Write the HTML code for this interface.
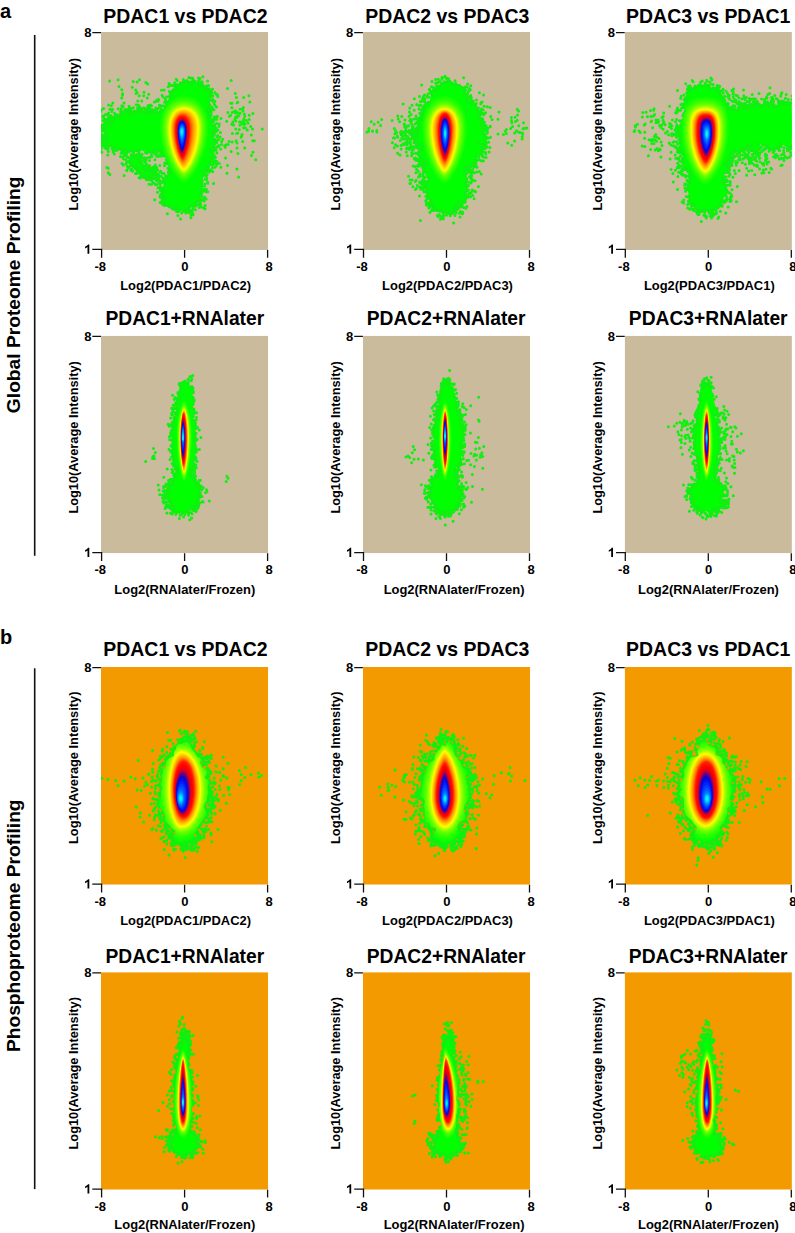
<!DOCTYPE html><html><head><meta charset="utf-8"><style>html,body{margin:0;padding:0;background:#fff;width:795px;height:1233px;overflow:hidden}svg{display:block}text{font-family:'Liberation Sans',sans-serif;font-weight:bold}</style></head><body>
<svg width="795" height="1233" viewBox="0 0 795 1233">
<rect width="795" height="1233" fill="#fff"/>
<defs><filter id="sm" x="-5%" y="-5%" width="110%" height="110%"><feGaussianBlur stdDeviation="0.7"/></filter><path id="one" d="M834 0H553V1058Q400 915 170 846V1101Q291 1140 433 1251Q575 1362 628 1466H834Z"/></defs>
<text x="0" y="17.5" font-size="20">a</text>
<text x="0" y="643.7" font-size="20">b</text>
<text transform="translate(19.6 294.8) rotate(-90)" text-anchor="middle" font-size="19.2">Global Proteome Profiling</text>
<text transform="translate(19.6 925.75) rotate(-90)" text-anchor="middle" font-size="19.2">Phosphoproteome Profiling</text>
<rect x="33.9" y="35" width="1.6" height="520.8" fill="#111"/>
<rect x="33.9" y="668.3" width="1.6" height="520.8" fill="#111"/>
<svg x="101.0" y="32.0" width="167.2" height="218.0" viewBox="0 0 167.2 218.0" overflow="hidden">
<rect width="167.2" height="218.0" fill="#c9bb9b"/>
<path fill="#00ff00" fill-rule="evenodd" d="M77 179L74.9 178.5L71.5 175.1L63 172.7L61.3 171L61.5 168L59.9 164L60.7 161L59.3 156.5L62.5 154L62.8 152L61.6 148.5L66.1 143L68.8 137L64.5 124.6L60.4 122.5L56.5 119.5L53 120.6L46 120.7L41 118.6L36.5 120L28 119.5L26.7 120.5L25.6 123L24 123.5L21.8 122.5L19.6 119L17.5 117.5L12 116.7L9 115.1L5 115.4L0 112.7L0 102.1L3 102.8L4.2 101L3 99.4L0 99.9L0 93L2.8 91L4.5 87.6L6.6 86L7 83.5L8.5 83.4L10.5 85L12.5 84.8L15 83L17.5 82.9L20.5 79.8L26.5 76.6L28.5 76.7L31.5 79.1L33.5 79.7L34.9 79.5L36.6 77.5L38 76.9L44.5 79L46 78L46.5 75.6L47.5 74.8L48.5 78.5L50.5 79L53.5 78.7L57 80.5L59.5 76.9L63.5 76.5L65.5 75L66 73.5L65.7 70.5L67.7 67.5L68.6 62L70.2 58.5L73.5 55.5L74.5 53.4L78 52.5L83 49.2L91.5 48.8L99 50.7L104.1 55L109 57.7L110.5 60L110.5 62L109 66L108.7 71L109 74.2L110.6 77L109.1 80L108.9 84.5L109.5 86.1L111.8 88L111.6 92.5L114.5 94.6L115.4 96.5L114.5 99L111.5 101.5L111.1 102.5L112.5 107.4L114.9 110L114.1 114L111.7 117L113.5 125.5L113.2 129.5L109 133.9L108 139.3L105 141.5L102.1 146L101.4 151L101.8 158L100.3 161.5L99.1 168.5L94 172.8L90.5 174.2L87 177L77 179ZM58 148.2L55.5 147.4L54.7 144.5L53.5 144L51.8 144L50 146.2L48 146.9L39.5 145L38.1 141.5L35 137.9L30 134.4L28.2 132L27.6 129.5L29 125.3L31 123.7L33 123.2L39.7 124L41.2 126.5L41.6 131L43.5 133.5L44.5 133.9L45.5 133.2L47 133.3L50 135.5L53 136.2L55 137.7L56.2 140.5L56.2 144.5L58 148.2Z"/><path stroke="#10f010" stroke-width="3.0" stroke-linecap="round" d="M116.8 64.4h0M71.4 58.7h0M108.5 59.9h0M64.5 74.4h0M75.2 47.2h0M80.7 50.9h0M111 75.3h0M111.8 67.2h0M102.6 56.5h0M93.3 51.2h0M97.2 52.4h0M109.4 57.9h0M68.6 53.4h0M68.2 72.7h0M105.8 53.9h0M110.7 77.2h0M101.4 52.2h0M101 49.7h0M79.4 51.1h0M91.6 46.2h0M105.5 58.4h0M87.3 50.2h0M76.4 52.8h0M111.2 69h0M101.1 53.7h0M70.8 60h0M101.2 51.8h0M82.3 47.5h0M109.1 77h0M91.2 49.5h0M86.6 49.3h0M93.4 50.7h0M69.2 62.3h0M92.2 47.8h0M92.1 51.3h0M70.1 61h0M71.6 59.4h0M68.2 64.4h0M105.9 57.5h0M108.7 63.5h0M106.6 48.9h0M101.9 44.8h0M72.3 53.4h0M94 49.2h0M90.6 50h0M102.9 56.8h0M67.3 70.9h0M111.6 76.8h0M67.2 54.7h0M97.5 48.9h0M75.6 55h0M103.3 54.7h0M64.6 68.5h0M74.2 57.7h0M110.7 60.4h0M91.9 51.4h0M109.3 63.6h0M98.4 49.5h0M89.9 46.1h0M110.6 60.3h0M74.7 54.7h0M82.4 49.6h0M113 71.4h0M97.5 46.1h0M99.1 49.9h0M102.3 53.7h0M72.4 58.2h0M64.4 66.9h0M108.8 77.6h0M83.9 49.4h0M73.4 56.8h0M73.6 50.8h0M68.3 59.6h0M63 78.7h0M105.9 54.5h0M91.3 51.5h0M109.3 61.9h0M108.3 67.4h0M116.4 62.8h0M110.4 61.2h0M87.9 45.6h0M74.3 52.1h0M70.9 53.4h0M113.8 60.4h0M107.6 70.5h0M85.9 48.6h0M108.2 56.7h0M115.2 61.9h0M107.5 53.5h0M99 53.4h0M62.1 64.9h0M70.5 62.5h0M108 58.6h0M113.9 73.3h0M112.1 63.7h0M74.7 52.8h0M74.8 53.3h0M69.7 53.3h0M77.7 53.1h0M63.6 70.2h0M65.6 64.7h0M88.3 50.2h0M64.3 70.5h0M76.9 55.6h0M99.1 49.9h0M98.9 46.6h0M109.9 68h0M112.3 115h0M65.4 71.7h0M112.2 128h0M111.1 89.5h0M111.3 125.7h0M123.6 113.7h0M106 80.8h0M115.6 84.5h0M115.8 109.1h0M115.9 109.5h0M113.5 100.7h0M112.4 113.3h0M68 129h0M117.7 114.4h0M108 82h0M109.1 85.6h0M110.6 138.7h0M103.5 141.9h0M109.4 138.1h0M64.8 124.3h0M114.3 95.2h0M103.1 138h0M102.1 142.9h0M112.8 131.5h0M63.4 124h0M115.2 130.6h0M112.4 98.7h0M113.9 107.4h0M109.1 129.8h0M103.9 152.1h0M106.8 77.7h0M113.4 103h0M71.5 138.5h0M104.2 139.3h0M112.5 87.9h0M111.6 102.6h0M116.3 114.9h0M115.9 121h0M116 105h0M104.4 147.3h0M120 86.6h0M117.7 107.6h0M65.8 70.2h0M101.6 138.8h0M67.9 69.1h0M115.3 84.8h0M68.5 137.9h0M107 139h0M114.7 95.9h0M110.3 90.6h0M107.3 139.8h0M125.2 112.7h0M112 130.4h0M100.8 151.4h0M61 123.6h0M66.1 124.8h0M63.6 131h0M65.5 76.9h0M108.1 139.9h0M63.6 121.5h0M116.4 84.5h0M114.2 125.6h0M67.1 76.7h0M112.4 118.8h0M113 116.3h0M65.1 123.5h0M105.3 157.3h0M115.6 108.8h0M111.5 133.1h0M115.9 129.5h0M109.6 83.8h0M110 64.4h0M107.1 84.8h0M106.9 82.5h0M63.5 133.7h0M69.2 137h0M107.5 134.2h0M64.9 123.5h0M112.7 110.8h0M68.6 73.5h0M115.6 110.8h0M114.7 115.7h0M76.1 48.4h0M65.9 127.6h0M116.2 114.7h0M70.3 135.8h0M107.4 137.3h0M114.6 129.5h0M115.1 133.9h0M115.7 132.4h0M106.5 135.5h0M111.7 100.3h0M68.1 51.4h0M66.9 136.2h0M108.8 132.4h0M107.4 139.9h0M110.7 89.8h0M110.9 126.9h0M114.6 85.7h0M58.8 133.4h0M102.9 55.9h0M111.7 120.4h0M69.3 67.5h0M115.1 118.2h0M69.1 133.1h0M113.3 123.6h0M108.9 73.2h0M71 138.2h0M61 79h0M106.6 150h0M61.8 119.7h0M107.7 66.3h0M106.1 135.5h0M99.4 139.1h0M116.6 103.4h0M115.7 91.4h0M111.5 124.7h0M79.6 51.1h0M65.4 78.2h0M69.3 73.6h0M111.5 135.7h0M100 157.3h0M114 135.2h0M62.4 122.1h0M112.9 77.8h0M113.1 85h0M109.1 131.9h0M110.2 83.1h0M115.9 131.8h0M111.1 119.7h0M113.7 110.6h0M101.3 148.4h0M68 136h0M111.7 139.6h0M112.2 120.8h0M105.8 138.1h0M112.4 112.2h0M53.9 127.7h0M67.4 140.8h0M114 96.5h0M118.3 91.9h0M105.3 144.2h0M112.4 108h0M66.1 130.5h0M114.5 125.5h0M119.8 135.3h0M113.9 125.7h0M109.8 77.3h0M112.5 89.7h0M53.3 69.9h0M108.8 72.8h0M112.1 99.3h0M102.5 140.5h0M100.8 139.7h0M105.9 138.9h0M113.6 92.8h0M103.1 142.8h0M112.2 130.6h0M115.4 99.6h0M69 63.9h0M113.9 69.2h0M114.3 95.8h0M111.7 87.6h0M119.1 105h0M69.4 132.8h0M108.7 78.1h0M115.5 75h0M115.1 98.7h0M108.6 131.1h0M99.7 53.9h0M111.3 93.8h0M111.9 104.3h0M113.3 96.3h0M103.6 142h0M67.5 139.4h0M109.4 129.7h0M105.7 146.2h0M106.1 139.1h0M108.4 132.5h0M67.1 71.6h0M103.7 165.2h0M109.5 58.8h0M115.8 87.2h0M114.6 87.3h0M110.2 79.5h0M105.3 147.4h0M106.1 142.8h0M114.6 128.9h0M107.7 82h0M118.3 131.5h0M68.2 132.4h0M112.9 99h0M60.9 120.4h0M110.2 118.7h0M117.8 113.6h0M107.5 75.9h0M113.1 113.1h0M119.7 116.9h0M68.9 134h0M114.4 86.3h0M109 117.2h0M69.1 64.6h0M102.2 138.8h0M102 143.7h0M110.2 80.5h0M110.1 63h0M62.1 120.9h0M112.9 125.5h0M108.1 81.1h0M106.8 134.6h0M66.2 131.8h0M112.6 106.9h0M114.2 111.2h0M116.8 98h0M65.8 73.8h0M115.3 97.2h0M59.4 122.7h0M111.3 103.9h0M88 175.4h0M63.8 167.6h0M63 141.6h0M62.4 159.9h0M59.1 152.4h0M68 174.8h0M64.7 143.8h0M83.5 179.2h0M70.3 175.4h0M98.3 168.7h0M64.1 166.3h0M61.2 168.3h0M71.6 176.7h0M74.9 175.3h0M101.4 154.1h0M64 151.5h0M95.5 169.6h0M62.3 163.4h0M100.4 157.9h0M75.8 179.7h0M53.7 167.7h0M88.7 179.1h0M78.7 178.3h0M61.1 157.5h0M106.8 151.2h0M88.6 174.9h0M67.7 173.7h0M65.7 173.2h0M81.8 179.3h0M57 155.7h0M67.1 173.5h0M77.7 179.4h0M63.6 146.5h0M95.1 174.1h0M59.9 162.5h0M99.9 169.1h0M75 177.9h0M63.2 166.2h0M93.5 172.5h0M100.5 152.2h0M74 177.6h0M103.1 169h0M100.9 153.9h0M91 174h0M70 141.2h0M92.7 174.4h0M60.5 157.5h0M100.9 149.9h0M100.5 158.7h0M67.4 172.7h0M63 171.1h0M95.1 171.9h0M94.4 177.8h0M62.3 172.1h0M101.1 160.6h0M77.9 177.5h0M74.3 175.6h0M61.4 166.2h0M100.4 161.8h0M100.9 164.3h0M90.7 180.4h0M61.8 166h0M59.2 170.5h0M112.6 151.5h0M99.6 159.5h0M98.2 175.4h0M68.3 141.6h0M62.5 164.7h0M104 176.8h0M86.8 176.8h0M99.7 172.4h0M83.4 177.9h0M59.1 155.2h0M105.1 167.1h0M61.7 160.2h0M92 177h0M68 140.7h0M100 167.8h0M98.9 166.4h0M101 149.2h0M59.7 159.1h0M60.6 158h0M92.8 173.5h0M59.8 155.4h0M102.8 158.9h0M61.3 172.2h0M63.1 150.1h0M60.2 164.5h0M103.5 165.7h0M60.4 170.1h0M106.8 159.7h0M62.2 171.1h0M91.2 178.1h0M92.1 182.7h0M64 147.3h0M62.2 157.4h0M64.1 171.6h0M59 164.1h0M70.6 176h0M60.6 150.2h0M56.5 160.2h0M105.9 159.6h0M64 166.9h0M91.5 180.8h0M62.2 156.3h0M76.9 183.4h0M79.5 187.1h0M105.2 159.8h0M97.5 172.4h0M97.7 169.1h0M99.8 175.1h0M103.5 154h0M74.7 175.2h0M68.4 139.8h0M60.9 162.7h0M66.9 144.6h0M84.9 181h0M66.4 181.8h0M77.4 177.9h0M76.9 178.2h0M99.2 167.7h0M103 157.5h0M104.1 173.5h0M72.7 177.3h0M59.2 157.3h0M90.1 183h0M62.1 158.2h0M89.9 185.8h0M80.7 180.9h0M63.5 173.5h0M59.2 165.3h0M102.3 175.8h0M87.7 180.8h0M63.2 171.1h0M75.8 178.9h0M99 170h0M88.5 177.8h0M101.6 167.8h0M75.3 174.8h0M59.4 149.3h0M85.5 177.4h0M86.1 178.6h0M2 88.6h0M7.3 116.2h0M45.8 126h0M-0 119.7h0M7 91.9h0M-1.5 99h0M26.6 119.4h0M2.9 107.7h0M8.7 92.2h0M7.9 108.7h0M11.8 87.5h0M58.9 118.1h0M3.5 97.1h0M6.6 117.2h0M-0.2 107.9h0M5.6 106.2h0M5.8 115.4h0M6 102h0M53.5 118h0M65.3 127.7h0M1.6 93.9h0M20.4 82.6h0M31.1 81.9h0M41 79.4h0M48.4 125.2h0M14.2 83.4h0M15.3 83.2h0M29 80h0M38.6 78.8h0M28.1 74.2h0M8.1 91.5h0M3.6 91.3h0M18.5 116.9h0M0.8 102.4h0M3.8 100.6h0M13.8 85.5h0M48.9 77.8h0M13.8 115.4h0M61 120.7h0M62.5 118.1h0M8.9 113.2h0M2.9 104.5h0M47.8 74h0M11.2 116.4h0M36.5 121.9h0M10.2 90.1h0M60.4 124.2h0M21.9 79.8h0M1.8 111.9h0M52.8 119.1h0M56.8 118.6h0M4.7 82.5h0M1.3 93.2h0M7.2 113.7h0M-1.7 92h0M57.8 124h0M62.7 121.5h0M46.8 74.7h0M12.6 116.1h0M0.3 98.6h0M17.2 76.7h0M59 118.7h0M11.6 77.4h0M0.7 98.7h0M13.5 81.3h0M54.4 81.1h0M25.1 121.1h0M37.7 79.1h0M13.2 118.3h0M55.5 78h0M46.4 120.8h0M11.5 85.2h0M3.3 103.7h0M-1.4 108.6h0M4.3 93h0M1.6 98.4h0M62.2 73.7h0M59.1 75.3h0M29.7 82.5h0M47.2 119.9h0M3.1 110.9h0M45.7 121.3h0M-1.3 91.7h0M6.4 88.5h0M46.4 120.6h0M47.3 74.2h0M12.8 87.5h0M31.9 120.5h0M51.1 124.3h0M8.5 85.8h0M20.8 73.8h0M45.3 79.5h0M3 88.4h0M66.5 75.9h0M30.1 122.8h0M-2.3 101.8h0M61.5 119.6h0M2.7 94.3h0M29.7 79.7h0M17.5 85.4h0M38.3 120.2h0M15.6 118.4h0M16.9 116.9h0M41.7 80.9h0M9.4 83.8h0M44.1 76.4h0M8.1 92.3h0M6.1 89.8h0M5.4 105.3h0M4.6 91.9h0M3.1 97.8h0M44.6 120.7h0M27.8 77.3h0M10.9 87.5h0M20.7 121.1h0M29.7 80.2h0M7 82h0M21.1 81.2h0M42.6 76.1h0M20.6 80.2h0M19.5 79.5h0M1.9 108.1h0M6.1 89.5h0M46.7 79.5h0M-0.5 103.7h0M55.6 124.3h0M-0.9 105.5h0M30.8 118.1h0M28.1 130.3h0M47.2 73.4h0M29.4 125.8h0M0.1 108.1h0M-1.2 99h0M53.6 121.2h0M-0.2 79.5h0M0.7 108.7h0M5.2 116.4h0M2.3 105.4h0M2.7 110.7h0M5.4 89.4h0M37.6 118.3h0M1.7 113.4h0M38.2 80.1h0M49.6 81.4h0M32.7 120.6h0M16 82.8h0M54.4 81.1h0M66.9 78.5h0M2.7 85.6h0M-1.6 109.2h0M25.5 123.3h0M7.4 84.3h0M5.9 87.4h0M28.2 78.2h0M3.5 110.9h0M32.3 75.7h0M5.8 115.3h0M41 76.9h0M5.9 105.5h0M8.9 85.5h0M36.7 118.5h0M46.9 81.1h0M34.6 118.2h0M0.1 116.4h0M1.9 83.9h0M38.3 76.2h0M55.1 122.3h0M1.9 103.8h0M5.8 102.7h0M49 119.7h0M53.8 78.2h0M13.3 87h0M21.6 119h0M5.5 104.7h0M18.3 85.3h0M7.2 93h0M4.5 82.7h0M51.5 120.2h0M5.2 99.7h0M40.7 123.1h0M-0.4 96.8h0M47.3 75.6h0M1.3 94.5h0M38.9 124.2h0M50.4 122.4h0M57.1 76.6h0M10.1 83.7h0M35.9 122.9h0M25.4 79.8h0M36.5 76.1h0M3.9 115.7h0M7.5 113.2h0M44.1 77.6h0M-2.1 98.7h0M21.6 118.2h0M59.9 78.5h0M52.6 119.2h0M30.4 79h0M6.9 107.8h0M-1.4 97h0M36.6 78.2h0M-2.2 114.1h0M25.4 121.2h0M2.4 114.1h0M-1 85.8h0M1.7 111.7h0M16.7 83.8h0M-1.1 100.1h0M-1.7 97.9h0M7.4 87.5h0M48.8 81.1h0M6.9 104.8h0M43.5 125.8h0M28 119.8h0M51.8 118.7h0M48.6 75.6h0M60 78.4h0M9.2 92.7h0M46.1 77.6h0M-1.8 113.9h0M23.2 117.3h0M4.4 109.7h0M43.6 126.5h0M51.9 78.3h0M35.3 118.5h0M6.3 101h0M54.7 76h0M59.7 79.8h0M9.1 89.4h0M36.2 118.1h0M20.3 76.8h0M35.4 122.9h0M2 96.7h0M0.5 108h0M42.7 128.6h0M37.1 79.9h0M3.2 94.7h0M60.7 77.8h0M4.8 112.6h0M35.8 79.4h0M27.7 81.9h0M54.6 117.5h0M40.2 79.5h0M53.1 80.9h0M66.2 78.3h0M49.9 79.6h0M10 94.4h0M11.7 115.5h0M33.3 80h0M-0.6 96.6h0M28.3 126h0M33.6 79h0M0.2 78.1h0M7.4 119.4h0M23 70.9h0M0.2 103.3h0M24.8 117.6h0M3.2 96.5h0M33.4 123.1h0M41.5 80.5h0M20.3 77h0M58.3 73.3h0M-0.7 113.8h0M24 77.6h0M7.5 73h0M4.7 87.4h0M56.9 80.6h0M59.1 73.4h0M34.7 58h0M14 82.1h0M10.4 73.7h0M53 78.9h0M47.8 62.2h0M6.2 110h0M36.8 68.9h0M12 87.9h0M28.9 79.1h0M20.1 121.3h0M26 77.9h0M38.1 78.2h0M8.9 142.5h0M10.7 79.4h0M29.9 125.7h0M3.6 92.3h0M19.2 82.3h0M21 131.4h0M11.7 115.2h0M61.1 63.2h0M21.5 63h0M-2.6 101.1h0M8.4 83.7h0M23.1 143.4h0M41.2 122.2h0M26.1 78h0M7.2 136.3h0M38.5 124.3h0M7.5 84h0M47.8 77.3h0M10.5 77.7h0M68.9 52.9h0M64.2 76.5h0M44.9 50.4h0M49.2 125.3h0M22.8 121.4h0M12.2 119.7h0M35.1 61.6h0M28.3 75.6h0M7.6 81h0M30.2 76.6h0M27.3 125.5h0M2.9 111.4h0M6.8 122.9h0M2.6 76.4h0M54.1 122h0M56.2 121.3h0M4.9 93.8h0M53.1 81.2h0M140.2 105.3h0M15.1 83.6h0M57.3 124.5h0M35.3 72.8h0M55 69.4h0M21.6 61.7h0M0.8 120.3h0M7.2 140.7h0M12 89.2h0M38.9 75.2h0M44.7 81.2h0M5.9 135.5h0M-0.3 94.4h0M11.2 117h0M22.4 120.2h0M51.8 140.4h0M39.2 128.8h0M54.1 141.9h0M40.6 144.7h0M48.8 133.7h0M50.9 147h0M23.7 123.4h0M40.3 144.8h0M38.6 140.4h0M44.2 143.6h0M19.5 124.5h0M21.6 124.9h0M46.4 137h0M52.7 139.4h0M58.1 144.9h0M56.8 145.5h0M24.8 127.8h0M42.1 125.9h0M40.3 142h0M56.9 141.9h0M43.8 138.5h0M47.2 137.2h0M28.4 134.5h0M50.9 148.9h0M54.3 133.1h0M38.8 128.1h0M36.2 126.6h0M52.6 142.1h0M31.7 133.3h0M53 140.2h0M56 142.6h0M36.6 141h0M30.5 137.1h0M44.9 145.3h0M29.3 130.6h0M47 138.7h0M53.2 141.2h0M22.3 132.9h0M60.7 141.1h0M46.3 132.9h0M49.5 136.3h0M53.6 146.3h0M41.7 134.4h0M35.3 135.9h0M53.1 140.9h0M29.9 133.1h0M25.6 138.3h0M31.2 123.7h0M42.7 144.3h0M26.4 134.4h0M25.6 129.9h0M24.9 122.4h0M54.3 152.4h0M62.4 148.4h0M29.7 138.3h0M55.1 143.2h0M47.3 147.8h0M58.4 147.9h0M23.1 122.1h0M34.4 141.6h0M45.2 147.6h0M55.5 148.5h0M37.2 138.2h0M55.2 137.9h0M47.5 135.8h0M35.5 134.5h0M42.6 136.5h0M45.1 132.6h0M41.9 144.7h0M29.7 118.2h0M31.6 139.3h0M56.1 147h0M46.6 145.7h0M55.2 139.7h0M48 135.4h0M27.4 136.1h0M45.1 127.9h0M55.7 148.9h0M27 129.8h0M39.6 144.6h0M41.2 130.9h0M38.1 145.7h0M39.7 130.2h0M35.5 141.4h0M59.7 139.2h0M35.6 126.1h0M35.7 141.5h0M62.9 150.4h0M57.9 143.1h0M49.8 138.6h0M35.7 136.3h0M38.3 129.3h0M39 125.9h0M39.7 143.7h0M37.4 136.9h0M52.4 135.4h0M52.2 143.9h0M50.1 138.5h0M49 140h0M56.4 147.2h0M26.1 124.9h0M45.7 139h0M48.1 152.2h0M40.9 133.9h0M44.4 130.6h0M48.5 143.8h0M55.6 145.6h0M53.9 139.4h0M55.9 152.5h0M46.6 133.6h0M38.2 138h0M40 125.7h0M53.3 141.8h0M60.4 144.3h0M36.2 138.7h0M13.3 121.9h0M34.5 124.4h0M32.4 134.7h0M53.9 136.7h0M56.5 137.8h0M50.7 145.3h0M43 145.4h0M49 146.9h0M43.9 137.5h0M47 146.4h0M35.1 141.2h0M48.5 128.6h0M58.3 150.4h0M50.1 136.5h0M25.1 132h0M53.4 146.6h0M49.5 144.8h0M39.6 145.9h0M32 124.2h0M55.6 135.4h0M30.2 137.8h0M21 120.1h0M50.5 152.6h0M43.1 134.2h0M52.3 135.1h0M40.3 125.4h0M33.8 134.4h0M22.5 126.8h0M25.8 138.5h0M52.5 150.8h0M55 139.6h0M45.2 131.5h0M44.6 145.8h0M48.2 134.9h0M53.3 134.8h0M59.2 149h0M38.6 123h0M59.3 149.2h0M62 146.2h0M24.5 121.4h0M48.8 147.6h0M43.5 128.8h0M31.6 138.4h0M31.6 138.5h0M59 139.8h0M38.7 127.6h0M43.6 127.3h0M34.7 136.9h0M24.8 121.9h0M46.3 133.5h0M27.8 129.2h0M52.1 139h0M8.9 77.3h0M36.1 49.9h0M49.7 73.1h0M46.3 65.9h0M37.5 73.2h0M57.2 68.9h0M22.2 74.5h0M11.8 71h0M50.6 73.8h0M57.6 67.5h0M17.1 47.7h0M25.7 77.7h0M42.7 63.7h0M36.2 60.4h0M50.8 77.5h0M43 60.3h0M63.1 57.9h0M55.9 67.9h0M18 54.6h0M40.8 68.9h0M60.6 74.1h0M20.7 65.9h0M46.7 52.1h0M60.5 58.2h0M31.2 55.2h0M38.5 47.7h0M8.6 49.1h0M20.8 57.8h0M38.2 63.8h0M32.2 49.5h0M148.9 69.9h0M148.3 87.6h0M150.3 103.1h0M121.6 107.2h0M141.8 76.7h0M142.7 65.6h0M113 95.9h0M135.1 108.8h0M134.3 61.5h0M117.8 94.4h0M136 116.1h0M119.4 100.5h0M130.2 119.4h0M137.7 145h0M161.2 97h0M151.9 120.3h0M136 111h0M131.4 101.5h0M130.2 48.4h0M129.7 83.3h0M136.8 70.2h0M136.9 121.4h0M138.3 97.5h0M131 71.3h0M124.3 115.3h0M136.1 70.7h0M131.2 80.4h0M129.7 71.3h0M141.7 109.4h0M139.1 77.3h0M125.7 89.2h0M120.5 112.6h0M140.5 104.3h0M111.5 57.3h0M147.9 63.8h0M150.5 123.5h0M144.5 95.9h0M146.3 98.1h0M131.1 110h0M151.7 108.8h0M133.2 79.2h0M135.4 65.5h0M136 84.1h0M126.9 80.4h0M141 102.4h0M148.2 83.3h0M136.8 101.1h0M128.1 109.4h0M133.8 87.6h0M134.8 97h0M135.9 137h0M126 141.2h0M126.5 133.6h0M142.6 95.7h0M151.9 81.4h0M134.7 78.9h0M127.1 112.6h0M151.5 97.1h0M124.6 126h0M143.9 92h0M143.7 116h0M135.7 101.5h0M143 90.5h0M130.9 75.7h0M153.3 108.7h0M154.8 127.8h0M126.5 56.6h0M120.7 109.4h0M149.7 94.5h0M138.5 90h0M128.3 84.3h0M130.8 92.2h0M143 87h0M139.1 81.3h0M141.1 91.7h0M141.9 90.9h0M134.7 89.1h0M141.9 79.1h0M143.4 82.1h0M134.6 81h0M134.4 85.4h0M142.4 75.6h0M139 93.3h0M143.7 84.2h0M136.5 80.5h0M145.5 88.6h0M147 90.9h0M137.8 83.7h0M136 85.6h0M140.3 90h0M131.8 89.9h0M132.6 93.1h0M142.6 88.1h0M143.1 92.6h0"/><clipPath id="cl00"><path clip-rule="evenodd" d="M77 179L74.9 178.5L71.5 175.1L63 172.7L61.3 171L61.5 168L59.9 164L60.7 161L59.3 156.5L62.5 154L62.8 152L61.6 148.5L66.1 143L68.8 137L64.5 124.6L60.4 122.5L56.5 119.5L53 120.6L46 120.7L41 118.6L36.5 120L28 119.5L26.7 120.5L25.6 123L24 123.5L21.8 122.5L19.6 119L17.5 117.5L12 116.7L9 115.1L5 115.4L0 112.7L0 102.1L3 102.8L4.2 101L3 99.4L0 99.9L0 93L2.8 91L4.5 87.6L6.6 86L7 83.5L8.5 83.4L10.5 85L12.5 84.8L15 83L17.5 82.9L20.5 79.8L26.5 76.6L28.5 76.7L31.5 79.1L33.5 79.7L34.9 79.5L36.6 77.5L38 76.9L44.5 79L46 78L46.5 75.6L47.5 74.8L48.5 78.5L50.5 79L53.5 78.7L57 80.5L59.5 76.9L63.5 76.5L65.5 75L66 73.5L65.7 70.5L67.7 67.5L68.6 62L70.2 58.5L73.5 55.5L74.5 53.4L78 52.5L83 49.2L91.5 48.8L99 50.7L104.1 55L109 57.7L110.5 60L110.5 62L109 66L108.7 71L109 74.2L110.6 77L109.1 80L108.9 84.5L109.5 86.1L111.8 88L111.6 92.5L114.5 94.6L115.4 96.5L114.5 99L111.5 101.5L111.1 102.5L112.5 107.4L114.9 110L114.1 114L111.7 117L113.5 125.5L113.2 129.5L109 133.9L108 139.3L105 141.5L102.1 146L101.4 151L101.8 158L100.3 161.5L99.1 168.5L94 172.8L90.5 174.2L87 177L77 179ZM58 148.2L55.5 147.4L54.7 144.5L53.5 144L51.8 144L50 146.2L48 146.9L39.5 145L38.1 141.5L35 137.9L30 134.4L28.2 132L27.6 129.5L29 125.3L31 123.7L33 123.2L39.7 124L41.2 126.5L41.6 131L43.5 133.5L44.5 133.9L45.5 133.2L47 133.3L50 135.5L53 136.2L55 137.7L56.2 140.5L56.2 144.5L58 148.2Z"/></clipPath><g clip-path="url(#cl00)"><g filter="url(#sm)"><path fill="rgb(3,255,0)" d="M58.7 95.5C58.7 77.5 67.2 62.7 83 62.7C99 62.7 107.6 77.5 107.6 95.5C107.6 126.4 89.2 151.7 83 151.7C76.9 151.7 58.7 126.4 58.7 95.5Z"/><path fill="rgb(7,255,0)" d="M59 95.5C59 77.7 67.4 63.2 83 63.2C98.8 63.2 107.3 77.7 107.3 95.5C107.3 126.1 89.1 151.2 83 151.2C77 151.2 59 126.1 59 95.5Z"/><path fill="rgb(11,255,0)" d="M59.2 95.5C59.2 78 67.6 63.6 83 63.6C98.6 63.6 107.1 78 107.1 95.5C107.1 125.9 89 150.8 83 150.8C77.1 150.8 59.2 125.9 59.2 95.5Z"/><path fill="rgb(15,255,0)" d="M59.5 95.5C59.5 78.2 67.7 64.1 83 64.1C98.5 64.1 106.8 78.2 106.8 95.5C106.8 125.6 88.9 150.3 83 150.3C77.1 150.3 59.5 125.6 59.5 95.5Z"/><path fill="rgb(20,255,0)" d="M59.8 95.5C59.8 78.5 67.9 64.6 83 64.6C98.3 64.6 106.5 78.5 106.5 95.5C106.5 125.4 88.9 149.8 83 149.8C77.2 149.8 59.8 125.4 59.8 95.5Z"/><path fill="rgb(24,255,0)" d="M60.1 95.5C60.1 78.7 68.1 65 83 65C98.1 65 106.2 78.7 106.2 95.5C106.2 125.1 88.8 149.4 83 149.4C77.3 149.4 60.1 125.1 60.1 95.5Z"/><path fill="rgb(28,255,0)" d="M60.4 95.5C60.4 79 68.3 65.5 83 65.5C97.9 65.5 105.9 79 105.9 95.5C105.9 124.9 88.7 148.9 83 148.9C77.3 148.9 60.4 124.9 60.4 95.5Z"/><path fill="rgb(32,255,0)" d="M60.6 95.5C60.6 79.3 68.5 66 83 66C97.7 66 105.7 79.3 105.7 95.5C105.7 124.6 88.7 148.4 83 148.4C77.4 148.4 60.6 124.6 60.6 95.5Z"/><path fill="rgb(37,255,0)" d="M60.9 95.5C60.9 79.5 68.7 66.4 83 66.4C97.5 66.4 105.4 79.5 105.4 95.5C105.4 124.4 88.6 148 83 148C77.5 148 60.9 124.4 60.9 95.5Z"/><path fill="rgb(42,255,0)" d="M61.2 95.5C61.2 79.8 68.8 66.9 83 66.9C97.4 66.9 105.1 79.8 105.1 95.5C105.1 124.1 88.5 147.5 83 147.5C77.6 147.5 61.2 124.1 61.2 95.5Z"/><path fill="rgb(47,255,0)" d="M61.5 95.5C61.5 80 69 67.4 83 67.4C97.2 67.4 104.8 80 104.8 95.5C104.8 123.8 88.5 147 83 147C77.6 147 61.5 123.8 61.5 95.5Z"/><path fill="rgb(53,255,0)" d="M61.8 95.5C61.8 80.3 69.2 67.8 83 67.8C97 67.8 104.5 80.3 104.5 95.5C104.5 123.6 88.4 146.6 83 146.6C77.7 146.6 61.8 123.6 61.8 95.5Z"/><path fill="rgb(58,255,0)" d="M62 95.5C62 80.5 69.4 68.3 83 68.3C96.8 68.3 104.3 80.5 104.3 95.5C104.3 123.3 88.3 146.1 83 146.1C77.8 146.1 62 123.3 62 95.5Z"/><path fill="rgb(63,255,0)" d="M62.3 95.5C62.3 80.8 69.6 68.8 83 68.8C96.6 68.8 104 80.8 104 95.5C104 123.1 88.2 145.6 83 145.6C77.8 145.6 62.3 123.1 62.3 95.5Z"/><path fill="rgb(68,255,0)" d="M62.6 95.5C62.6 81.1 69.7 69.2 83 69.2C96.5 69.2 103.7 81.1 103.7 95.5C103.7 122.8 88.2 145.2 83 145.2C77.9 145.2 62.6 122.8 62.6 95.5Z"/><path fill="rgb(76,255,0)" d="M63 95.5C63 81.3 70 69.7 83 69.7C96.2 69.7 103.3 81.3 103.3 95.5C103.3 122.6 88.1 144.7 83 144.7C78 144.7 63 122.6 63 95.5Z"/><path fill="rgb(84,255,0)" d="M63.4 95.5C63.4 81.6 70.2 70.2 83 70.2C96 70.2 102.9 81.6 102.9 95.5C102.9 122.3 88 144.2 83 144.2C78.1 144.2 63.4 122.3 63.4 95.5Z"/><path fill="rgb(92,255,0)" d="M63.8 95.5C63.8 81.8 70.5 70.6 83 70.6C95.7 70.6 102.5 81.8 102.5 95.5C102.5 122 87.9 143.8 83 143.8C78.2 143.8 63.8 122 63.8 95.5Z"/><path fill="rgb(101,255,0)" d="M64.2 95.5C64.2 82.1 70.8 71.1 83 71.1C95.4 71.1 102.1 82.1 102.1 95.5C102.1 121.8 87.8 143.3 83 143.3C78.3 143.3 64.2 121.8 64.2 95.5Z"/><path fill="rgb(109,255,0)" d="M64.6 95.5C64.6 82.3 71 71.6 83 71.6C95.2 71.6 101.7 82.3 101.7 95.5C101.7 121.5 87.7 142.8 83 142.8C78.4 142.8 64.6 121.5 64.6 95.5Z"/><path fill="rgb(117,255,0)" d="M65 95.5C65 82.6 71.3 72 83 72C94.9 72 101.3 82.6 101.3 95.5C101.3 121.3 87.6 142.4 83 142.4C78.5 142.4 65 121.3 65 95.5Z"/><path fill="rgb(129,255,0)" d="M65.4 95.5C65.4 82.9 71.5 72.5 83 72.5C94.7 72.5 100.9 82.9 100.9 95.5C100.9 121 87.5 141.9 83 141.9C78.6 141.9 65.4 121 65.4 95.5Z"/><path fill="rgb(144,255,0)" d="M65.8 95.5C65.8 83.1 71.8 73 83 73C94.4 73 100.5 83.1 100.5 95.5C100.5 120.8 87.4 141.4 83 141.4C78.7 141.4 65.8 120.8 65.8 95.5Z"/><path fill="rgb(158,255,0)" d="M66.2 95.5C66.2 83.4 72.1 73.4 83 73.4C94.1 73.4 100.1 83.4 100.1 95.5C100.1 120.5 87.3 141 83 141C78.8 141 66.2 120.5 66.2 95.5Z"/><path fill="rgb(172,255,0)" d="M66.6 95.5C66.6 83.6 72.3 73.9 83 73.9C93.9 73.9 99.7 83.6 99.7 95.5C99.7 120.2 87.2 140.5 83 140.5C78.9 140.5 66.6 120.2 66.6 95.5Z"/><path fill="rgb(186,255,0)" d="M67 95.5C67 83.9 72.6 74.4 83 74.4C93.6 74.4 99.3 83.9 99.3 95.5C99.3 120 87.1 140 83 140C79 140 67 120 67 95.5Z"/><path fill="rgb(200,255,0)" d="M67.4 95.5C67.4 84.1 72.8 74.8 83 74.8C93.4 74.8 98.9 84.1 98.9 95.5C98.9 119.7 87 139.6 83 139.6C79.1 139.6 67.4 119.7 67.4 95.5Z"/><path fill="rgb(217,255,0)" d="M67.8 95.5C67.8 84.4 73.1 75.3 83 75.3C93.1 75.3 98.5 84.4 98.5 95.5C98.5 119.5 86.9 139.1 83 139.1C79.2 139.1 67.8 119.5 67.8 95.5Z"/><path fill="rgb(233,255,0)" d="M68.2 95.5C68.2 84.7 73.4 75.8 83 75.8C92.8 75.8 98.1 84.7 98.1 95.5C98.1 119.2 86.8 138.6 83 138.6C79.3 138.6 68.2 119.2 68.2 95.5Z"/><path fill="rgb(250,255,0)" d="M68.6 95.5C68.6 84.9 73.6 76.2 83 76.2C92.6 76.2 97.7 84.9 97.7 95.5C97.7 119 86.7 138.2 83 138.2C79.4 138.2 68.6 119 68.6 95.5Z"/><path fill="rgb(255,247,0)" d="M68.9 95.6C68.9 85.2 73.8 76.7 82.9 76.7C92.2 76.7 97.2 85.2 97.2 95.6C97.2 118.7 86.5 137.5 82.9 137.5C79.4 137.5 68.9 118.7 68.9 95.6Z"/><path fill="rgb(255,236,0)" d="M69.3 95.7C69.3 85.5 74 77.1 82.8 77.1C91.8 77.1 96.7 85.5 96.7 95.7C96.7 118.3 86.3 136.9 82.8 136.9C79.4 136.9 69.3 118.3 69.3 95.7Z"/><path fill="rgb(255,225,0)" d="M69.6 95.8C69.6 85.8 74.2 77.6 82.8 77.6C91.5 77.6 96.1 85.8 96.1 95.8C96.1 118 86.1 136.2 82.8 136.2C79.5 136.2 69.6 118 69.6 95.8Z"/><path fill="rgb(255,214,0)" d="M69.9 95.8C69.9 86 74.4 78 82.7 78C91.1 78 95.6 86 95.6 95.8C95.6 117.6 85.9 135.5 82.7 135.5C79.5 135.5 69.9 117.6 69.9 95.8Z"/><path fill="rgb(255,203,0)" d="M70.3 95.9C70.3 86.3 74.6 78.5 82.6 78.5C90.7 78.5 95.1 86.3 95.1 95.9C95.1 117.3 85.7 134.8 82.6 134.8C79.5 134.8 70.3 117.3 70.3 95.9Z"/><path fill="rgb(255,192,0)" d="M70.6 96C70.6 86.6 74.8 78.9 82.5 78.9C90.3 78.9 94.5 86.6 94.5 96C94.5 117 85.5 134.1 82.5 134.1C79.5 134.1 70.6 117 70.6 96Z"/><path fill="rgb(255,181,0)" d="M71 96.1C71 86.9 74.9 79.4 82.4 79.4C89.9 79.4 94 86.9 94 96.1C94 116.6 85.3 133.4 82.4 133.4C79.5 133.4 71 116.6 71 96.1Z"/><path fill="rgb(255,168,0)" d="M71.3 96.2C71.3 87.2 75.1 79.8 82.3 79.8C89.5 79.8 93.4 87.2 93.4 96.2C93.4 116.3 85.1 132.7 82.3 132.7C79.5 132.7 71.3 116.3 71.3 96.2Z"/><path fill="rgb(255,156,0)" d="M71.6 96.3C71.6 87.5 75.3 80.2 82.2 80.2C89.1 80.2 92.9 87.5 92.9 96.3C92.9 116 84.9 132 82.2 132C79.5 132 71.6 116 71.6 96.3Z"/><path fill="rgb(255,143,0)" d="M72 96.4C72 87.8 75.5 80.7 82.1 80.7C88.8 80.7 92.3 87.8 92.3 96.4C92.3 115.6 84.7 131.4 82.1 131.4C79.6 131.4 72 115.6 72 96.4Z"/><path fill="rgb(255,130,0)" d="M72.3 96.5C72.3 88 75.7 81.1 82 81.1C88.4 81.1 91.8 88 91.8 96.5C91.8 115.3 84.4 130.7 82 130.7C79.6 130.7 72.3 115.3 72.3 96.5Z"/><path fill="rgb(255,113,0)" d="M72.6 96.6C72.6 88.3 75.9 81.6 81.9 81.6C88 81.6 91.3 88.3 91.3 96.6C91.3 115 84.2 130 81.9 130C79.6 130 72.6 115 72.6 96.6Z"/><path fill="rgb(255,97,0)" d="M73 96.7C73 88.6 76.1 82 81.8 82C87.6 82 90.7 88.6 90.7 96.7C90.7 114.6 84 129.3 81.8 129.3C79.6 129.3 73 114.6 73 96.7Z"/><path fill="rgb(255,80,0)" d="M73.3 96.8C73.3 88.9 76.3 82.5 81.7 82.5C87.2 82.5 90.2 88.9 90.2 96.8C90.2 114.3 83.8 128.6 81.7 128.6C79.6 128.6 73.3 114.3 73.3 96.8Z"/><path fill="rgb(255,59,0)" d="M73.7 96.9C73.7 89.2 76.4 82.9 81.6 82.9C86.8 82.9 89.6 89.2 89.6 96.9C89.6 113.9 83.6 127.9 81.6 127.9C79.6 127.9 73.7 113.9 73.7 96.9Z"/><path fill="rgb(255,34,0)" d="M74 97C74 89.5 76.6 83.4 81.5 83.4C86.4 83.4 89.1 89.5 89.1 97C89.1 113.6 83.4 127.2 81.5 127.2C79.6 127.2 74 113.6 74 97Z"/><path fill="rgb(255,10,0)" d="M74.5 97.3C74.5 90.1 76.9 84.2 81.4 84.2C86 84.2 88.4 90.1 88.4 97.3C88.4 113.1 83.2 126.1 81.4 126.1C79.7 126.1 74.5 113.1 74.5 97.3Z"/><path fill="rgb(255,0,0)" d="M75 97.6C75 90.8 77.2 85.2 81.4 85.2C85.5 85.2 87.7 90.8 87.7 97.6C87.7 112.6 83 124.8 81.4 124.8C79.8 124.8 75 112.6 75 97.6Z"/><path fill="rgb(232,0,19)" d="M75.6 98C75.6 91.5 77.6 86.2 81.3 86.2C85 86.2 87 91.5 87 98C87 112 82.7 123.5 81.3 123.5C79.9 123.5 75.6 112 75.6 98Z"/><path fill="rgb(175,0,67)" d="M76.1 98.4C76.1 92.2 77.9 87.1 81.2 87.1C84.6 87.1 86.4 92.2 86.4 98.4C86.4 111.5 82.5 122.2 81.2 122.2C79.9 122.2 76.1 111.5 76.1 98.4Z"/><path fill="rgb(100,0,130)" d="M76.6 98.8C76.6 92.9 78.2 88.1 81.1 88.1C84.1 88.1 85.7 92.9 85.7 98.8C85.7 110.9 82.3 120.9 81.1 120.9C80 120.9 76.6 110.9 76.6 98.8Z"/><path fill="rgb(25,0,205)" d="M77.1 99C77.1 93.6 78.5 89.1 81.1 89.1C83.7 89.1 85.1 93.6 85.1 99C85.1 110.2 82.1 119.3 81.1 119.3C80.1 119.3 77.1 110.2 77.1 99Z"/><path fill="rgb(0,13,238)" d="M77.4 99.1C77.4 94.1 78.7 90.1 81.1 90.1C83.4 90.1 84.7 94.1 84.7 99.1C84.7 109 82 117 81.1 117C80.1 117 77.4 109 77.4 99.1Z"/><path fill="rgb(0,33,251)" d="M77.7 99.2C77.7 94.7 78.8 91 81 91C83.2 91 84.4 94.7 84.4 99.2C84.4 107.8 81.9 114.8 81 114.8C80.2 114.8 77.7 107.8 77.7 99.2Z"/><path fill="rgb(0,60,255)" d="M77.9 99.3C77.9 95.3 79 92 81 92C83 92 84 95.3 84 99.3C84 106.6 81.7 112.6 81 112.6C80.2 112.6 77.9 106.6 77.9 99.3Z"/><path fill="rgb(0,90,255)" d="M78.2 99.4C78.2 95.8 79.2 92.9 81 92.9C82.7 92.9 83.7 95.8 83.7 99.4C83.7 105.4 81.6 110.4 81 110.4C80.3 110.4 78.2 105.4 78.2 99.4Z"/><path fill="rgb(0,120,255)" d="M78.5 99.4C78.5 96.4 79.4 93.9 80.9 93.9C82.5 93.9 83.3 96.4 83.3 99.4C83.3 104.2 81.5 108.2 80.9 108.2C80.3 108.2 78.5 104.2 78.5 99.4Z"/><path fill="rgb(0,149,255)" d="M78.8 99.5C78.8 96.9 79.5 94.7 80.9 94.7C82.3 94.7 83 96.9 83 99.5C83 103.3 81.4 106.3 80.9 106.3C80.4 106.3 78.8 103.3 78.8 99.5Z"/><path fill="rgb(0,176,255)" d="M79.1 99.5C79.1 97.3 79.7 95.5 80.9 95.5C82 95.5 82.6 97.3 82.6 99.5C82.6 102.7 81.3 105.2 80.9 105.2C80.4 105.2 79.1 102.7 79.1 99.5Z"/><path fill="rgb(0,203,255)" d="M79.4 99.5C79.4 97.7 79.9 96.2 80.8 96.2C81.8 96.2 82.3 97.7 82.3 99.5C82.3 102 81.2 104.1 80.8 104.1C80.5 104.1 79.4 102 79.4 99.5Z"/><path fill="rgb(0,230,255)" d="M79.6 99.5C79.6 98.1 80 96.9 80.8 96.9C81.5 96.9 81.9 98.1 81.9 99.5C81.9 101.4 81.1 103 80.8 103C80.5 103 79.6 101.4 79.6 99.5Z"/><path fill="rgb(0,239,255)" d="M79.9 99.5C79.9 98.5 80.2 97.7 80.8 97.7C81.3 97.7 81.6 98.5 81.6 99.5C81.6 100.8 81 101.9 80.8 101.9C80.5 101.9 79.9 100.8 79.9 99.5Z"/><path fill="rgb(0,249,255)" d="M80.2 99.5C80.2 98.9 80.4 98.4 80.7 98.4C81.1 98.4 81.2 98.9 81.2 99.5C81.2 100.2 80.8 100.8 80.7 100.8C80.6 100.8 80.2 100.2 80.2 99.5Z"/></g></g>
</svg>
<path d="M92.3 32.6H101.0M92.3 249.4H101.6V257.7M184.6 250.0v7.7M267.6 250.0v7.7" stroke="#111" stroke-width="1.3" fill="none"/>
<text x="91.4" y="36.9" font-size="13" text-anchor="end">8</text>
<use href="#one" transform="translate(84.00 253.80) scale(0.00635 -0.00635)"/>
<text x="100.2" y="271.0" font-size="13" text-anchor="middle">-8</text>
<text x="184.9" y="271.0" font-size="13" text-anchor="middle">0</text>
<text x="269.2" y="271.0" font-size="13" text-anchor="middle">8</text>
<text transform="translate(185.4 23.3) scale(1 1.04)" font-size="19.45" text-anchor="middle">PDAC1 vs PDAC2</text>
<text x="185.6" y="290.3" font-size="12.95" text-anchor="middle">Log2(PDAC1/PDAC2)</text>
<text transform="translate(77.8 134.3) rotate(-90)" font-size="12.8" text-anchor="middle">Log10(Average Intensity)</text>
<svg x="362.9" y="32.0" width="167.2" height="218.0" viewBox="0 0 167.2 218.0" overflow="hidden">
<rect width="167.2" height="218.0" fill="#c9bb9b"/>
<path fill="#00ff00" fill-rule="evenodd" d="M88 181L83.5 181.3L70.5 178L66.6 173L66.7 168.5L63.9 165.5L63.8 161.5L63 158.6L62 157L59.5 155.6L59 151.5L60 148.9L61 148.4L64 148.7L64.9 148L64.9 147L61.2 139.5L59.7 134L58.5 133.2L55.5 134.1L54.6 133.5L55.4 130.5L54.9 127.5L55.5 125.5L54.3 121.5L55.4 118L55.4 115L52.5 111.3L49.9 105.5L47.5 103.3L46.6 100.5L49 95.8L50 95.4L52.5 96.6L54.1 95.5L54.5 93L53.9 87L58.8 84L60 76L62.5 73.6L64 71L67.1 68.5L67.9 61L68.8 59L71.5 56L78 51.5L85 47.8L92.5 51.7L97 52.5L101.5 57L103.7 62L105.5 64.5L105.8 68L110.5 69.6L114.5 75.5L119.5 80.5L119.8 81.5L117.6 84L117.4 85.5L120 88.2L120.2 92L123.7 94L124.7 96L123.6 99L120.9 101L120 102.5L120.5 103.5L123.4 105.5L124.3 111L123.6 114.5L120.2 118.5L119.7 122L118.5 123.1L114.5 124.5L113.9 129L109.5 134.3L107 135.3L105.4 133.5L102.1 134L102.5 135L106 136.5L106.6 138L104 139L103 141L104.3 146L103.7 149L103.9 153L103.2 156.5L103.7 161L104.8 163.5L104.5 165L101.9 170L97 171.6L96.9 174.5L95.5 176.5L92 179.3L88 181Z"/><path stroke="#10f010" stroke-width="3.0" stroke-linecap="round" d="M89.6 51.9h0M78.6 52.2h0M83.3 50.8h0M81 50.8h0M107.3 58h0M71 57h0M102.2 60.6h0M73.9 53.5h0M72.8 51h0M100.5 60.2h0M86.5 49.4h0M103.9 67.9h0M104.7 65.2h0M92.8 51.4h0M74.9 50.6h0M89.1 51h0M86.9 49.3h0M103.5 66.5h0M64.8 72.4h0M68.5 59.5h0M106.2 56.6h0M84.7 49.6h0M102.5 54.9h0M84.6 49.2h0M96.6 53.4h0M77 49.7h0M84.4 46.2h0M83.5 46.4h0M65.7 65.3h0M72.5 56.7h0M64.5 63.9h0M98.6 55.3h0M75.9 54.6h0M75.8 57.4h0M79.4 51.2h0M102.8 58h0M70.3 58.3h0M101.6 61h0M72 58h0M67.6 60.8h0M101.1 59h0M74.3 55.4h0M77.2 54.1h0M54 128.4h0M50.2 134.1h0M62.1 69.7h0M56.8 81.3h0M108.2 145.4h0M66.8 70.4h0M109.7 137.6h0M105.6 139.1h0M105.7 59.3h0M62.6 70.7h0M58.2 78h0M60.1 135.9h0M62.9 139.5h0M110.5 69h0M119.9 88h0M60.2 114.1h0M101.6 142h0M54.7 116.1h0M61.7 129.1h0M103.3 81h0M106.3 134.5h0M55.1 133.2h0M62.1 76.3h0M53.2 83.9h0M60.3 69.2h0M109.2 148.7h0M57 128.3h0M61.8 86.4h0M48.2 91.1h0M53.8 101.7h0M56 111h0M58.1 73.3h0M63.3 135.8h0M107.8 63.6h0M69.1 49.4h0M101.3 136.2h0M56.1 127.9h0M56.2 77.1h0M56 86.3h0M56.6 131.7h0M56.1 73.7h0M74.7 56.8h0M82.2 44.2h0M61.7 62.9h0M48.3 107h0M54.4 86.8h0M104.2 65.4h0M54.7 110.7h0M64.9 73.2h0M109.1 139.4h0M50.2 101.5h0M53.6 137.3h0M56.3 128.7h0M107.1 140.1h0M49.1 88.3h0M61.5 131.1h0M112.1 148.7h0M48.3 98.3h0M102.4 138.2h0M40.2 71.9h0M111 140.8h0M85.8 47.1h0M56.8 95.2h0M59.7 66.4h0M60.7 146.9h0M53.8 72.4h0M60.2 142.2h0M55.8 133.6h0M111.5 135h0M55.7 133.2h0M113.8 139.9h0M104.8 51.9h0M54.7 101.9h0M56.2 93.8h0M106.9 138.7h0M109.3 141h0M46.8 101.6h0M103.7 63.7h0M95 53.3h0M109.8 69.8h0M73.7 55.9h0M56 87.6h0M60.3 81.1h0M60.6 138.3h0M103.7 78.3h0M57.1 128h0M62.6 150.7h0M59.7 128h0M103.1 79.9h0M101.7 57.5h0M57.3 73.3h0M108 139.4h0M46.6 80.1h0M75.4 47.2h0M58.6 87.8h0M69.1 62h0M71.3 57.2h0M109.4 134.3h0M106.2 161.1h0M61.3 63.5h0M118.4 122.4h0M56.8 130.8h0M55.2 122.1h0M65.5 170.9h0M107.4 57.7h0M63.4 84.1h0M69.4 62.7h0M117.6 88h0M81.5 49.8h0M52.6 121.3h0M73.2 59.4h0M105.2 70.1h0M56.8 123.9h0M60.5 77.2h0M52.9 115.1h0M53.6 113.4h0M61.7 73.3h0M52.3 134.5h0M85.7 48.6h0M57.7 84.6h0M66.5 57.9h0M124 101.3h0M55.5 94h0M60.3 87.5h0M63.2 82.2h0M63.1 132.9h0M59.5 68.5h0M109.7 131.4h0M119 115.2h0M57.9 125.9h0M57 87.4h0M58.8 132.4h0M48.6 123.8h0M57 150.9h0M56.5 116.2h0M66.6 57.3h0M113.1 129h0M72.7 47.4h0M58.4 114.3h0M101 60.9h0M51.4 66.8h0M107 144.7h0M104.3 137.6h0M62 138.9h0M68.3 60.3h0M64.2 64.8h0M49.1 73.2h0M108.7 149.2h0M112.9 74.3h0M49.1 118h0M52.7 107h0M60.5 78.9h0M108.9 134.2h0M63.1 84.9h0M70.4 137.2h0M112.6 127.2h0M70.8 55.5h0M54.9 105.2h0M53.1 112.7h0M55 134h0M57.2 116.8h0M78.9 47.3h0M62.8 135.5h0M60.6 74.7h0M56.1 121.3h0M51.2 126.4h0M105 64.4h0M60.6 64.6h0M59.7 117.8h0M43.1 99.2h0M55 99.8h0M45.9 98.5h0M59.3 149.3h0M100.8 55.8h0M53 140.7h0M107.8 133.7h0M53.2 86.8h0M68.6 54.8h0M92.2 48.7h0M50.9 101.6h0M120.1 105.6h0M79.1 45.6h0M62.6 87.6h0M54.4 96.5h0M63.5 133.4h0M101.2 59.9h0M108.3 70.9h0M118.6 81.4h0M58.1 112.2h0M102.7 134.6h0M106.5 144.8h0M58.8 115.3h0M59.3 86.2h0M57.4 69.8h0M61.3 131.2h0M54.8 90.1h0M65.1 62.1h0M63.8 83.9h0M108.1 151.1h0M115.5 154.6h0M104.4 141.2h0M48.8 120.8h0M49.4 94.7h0M55.5 98.1h0M65.5 70.3h0M100.7 45.8h0M56.6 64.6h0M119.4 88.4h0M108.3 142.2h0M58.8 53h0M46.8 76h0M109.3 71.9h0M110.4 71.5h0M63.3 140.5h0M61.9 67h0M50.4 118h0M59.9 127.2h0M64.9 145.5h0M58.3 151.5h0M56 116.5h0M61.2 133.5h0M60 75.7h0M120.2 92.3h0M66.5 71.5h0M49.6 97.7h0M59.7 67.8h0M114.3 77.7h0M53.6 86.8h0M120.1 119.5h0M106.9 137.2h0M54.8 133.9h0M103.8 133.7h0M41.7 106.4h0M58.6 82.7h0M61.2 148.4h0M103.8 54.7h0M50 114.5h0M107.7 164.8h0M110.1 131.7h0M104.5 135.5h0M62 84.4h0M56.5 116.9h0M58.7 133.9h0M61.2 146.5h0M51.4 101.1h0M58.2 118.4h0M103.7 66.8h0M80.2 45.6h0M57.5 124.4h0M62 132h0M103.8 146.8h0M52.6 128h0M49.8 106.6h0M111.3 133.6h0M103.1 136.6h0M59.2 85.1h0M118.2 141.9h0M60.1 83.9h0M58.8 68.8h0M55.8 134.2h0M58.8 128h0M113 131.6h0M58.5 128.9h0M60.9 135.6h0M125 96.3h0M108.3 134h0M103 142.2h0M122.6 107.3h0M106.1 65h0M104.8 61.6h0M52.8 127.4h0M61.3 136.4h0M40.1 103.7h0M92.9 52.3h0M107.9 53.7h0M113.8 123.1h0M114.2 135.3h0M118 93.1h0M54.1 95.6h0M51.3 78.2h0M55.5 99.6h0M53.8 103.2h0M55 91.8h0M113.2 133.9h0M108.7 144h0M50.3 99.5h0M59.4 80.7h0M56 91.3h0M60.2 131.6h0M47.3 110.1h0M101.9 138.9h0M47.6 107.9h0M61.2 159.7h0M49.1 92.5h0M70.3 138.9h0M60.2 82.2h0M63.3 130.2h0M103.6 138.2h0M111.4 140.8h0M54.2 111.6h0M118.4 128.7h0M67.7 169h0M83.6 183.2h0M100.7 169.1h0M61.5 155.6h0M93.1 180.4h0M88.4 180h0M100.9 175.5h0M105.1 163.1h0M62.8 168.8h0M89.1 179.7h0M63.5 172.1h0M63 164.3h0M64.2 149.6h0M77.8 184.2h0M100.7 169.7h0M87.3 183.7h0M97.2 174.9h0M92.1 183.6h0M103.9 164.7h0M80.5 182.5h0M78.1 178.1h0M64.2 167h0M67.6 173.3h0M64.6 157.7h0M67.7 171.9h0M66 145.8h0M81.4 180.3h0M88.2 182h0M80.7 183.9h0M105.4 153.7h0M57.5 188.5h0M105.5 152.9h0M68.2 172.6h0M94.6 175.3h0M64.3 157.7h0M102.4 152h0M97.3 169.6h0M111.2 166.8h0M103.1 166.5h0M105.8 165h0M67.7 170.8h0M94 177.7h0M69.9 177.5h0M63.2 151.9h0M103.9 164.9h0M97.1 185.1h0M102.3 170.3h0M69.8 171.9h0M109.3 147.7h0M67 180.4h0M75.1 184.6h0M61.1 155.5h0M104.6 158.4h0M90.6 177.6h0M99.6 171.9h0M99.8 180.3h0M96.7 175h0M104 174.6h0M109.9 148.1h0M103.5 146.3h0M96.5 181.3h0M90.7 179.7h0M102.4 151.7h0M103.1 176.2h0M102.5 160.4h0M106.9 161.8h0M102.4 151.3h0M105.4 150.1h0M107.9 146.4h0M109.3 158.1h0M62.1 155.1h0M71.3 178.3h0M63.2 170h0M99.6 174.9h0M83.5 180.6h0M112.8 159.7h0M81.4 179.4h0M68.6 170.1h0M102.5 150.8h0M87.7 179.3h0M103.5 156h0M74.5 183.6h0M108.4 160.5h0M62.8 159.7h0M95.1 173.6h0M66.7 175.3h0M102.5 169.3h0M99.6 181.2h0M90.7 190.9h0M102.3 163.8h0M68.5 178.7h0M74.4 178.8h0M64.7 161.8h0M103.9 155.1h0M89.9 181.3h0M92.6 173.7h0M102.3 167.2h0M97.4 179.5h0M105.5 158.1h0M77.5 179.1h0M95.3 175.8h0M111.2 159h0M104.6 153.9h0M94.8 172.1h0M81 180.7h0M76.8 178.9h0M67.7 166.9h0M66 175.1h0M95.1 176.8h0M75.3 178h0M102.3 160.5h0M65.9 149.2h0M81.7 178.7h0M65 163.9h0M109.8 163.4h0M66.1 176h0M56.6 164h0M92.9 175.6h0M65.4 165.8h0M98.1 172.4h0M101.7 160.8h0M92.6 177.4h0M69.7 177.1h0M69.6 176.6h0M86.3 181.6h0M64 164.3h0M60.6 157.9h0M95.9 169.3h0M92 178.2h0M102.4 169.1h0M108 146.4h0M103.6 148.4h0M76.3 182.5h0M100.2 170.6h0M79.3 186.3h0M91.1 176.2h0M79.1 179h0M71.4 175h0M63.5 172.9h0M80.5 186.8h0M92.5 174.2h0M77.5 187.3h0M97.3 172.1h0M92.6 173.5h0M102.6 150.8h0M72.7 177.8h0M99.5 181.7h0M96.1 175.5h0M93.1 180.7h0M66.4 173.3h0M90.8 179.3h0M104.5 164.6h0M84.2 181.9h0M71.1 178.6h0M79.4 179.9h0M103.1 163.8h0M70.3 174.4h0M102.7 159.7h0M60.8 152.1h0M120.7 62.9h0M119.2 70.1h0M117.9 121.6h0M127.1 115.4h0M121.8 116.8h0M115.5 76h0M117.9 71.7h0M120.5 128.8h0M118.9 113.1h0M121 98.8h0M122.9 98.5h0M119.2 95.8h0M107.2 67.1h0M119.8 89.3h0M118.8 117.7h0M122.7 80.7h0M123.4 111h0M122.5 96.2h0M107.4 70.8h0M116.5 139.6h0M119.6 124.3h0M118.6 119.5h0M120.9 124.9h0M117.5 122.3h0M121.4 116.2h0M122 93.3h0M115.7 110.4h0M117.9 121.4h0M124.7 96.3h0M122.3 114.8h0M119.2 81.2h0M122.1 113.8h0M117.2 83.6h0M120.9 82.8h0M119.5 101.4h0M119.6 86.6h0M115.1 83.7h0M119.3 115.6h0M115.2 76.2h0M123.4 110.2h0M125.3 105.9h0M120.1 114.2h0M120.4 116.4h0M125.9 110.3h0M108.4 65.5h0M115.2 86.2h0M123.7 105.4h0M117.5 114.5h0M124 115.3h0M123.1 113.9h0M113.5 76.4h0M122.9 95h0M127.6 105.2h0M119.2 122.1h0M118.1 112.3h0M116.5 60.8h0M118.9 120.6h0M117.4 80.7h0M121.6 90.3h0M121.2 74.2h0M124.4 99h0M119.6 90h0M121.7 98.1h0M112.9 127.5h0M117.4 122.2h0M107.2 135.3h0M116.5 127.7h0M124.4 74.8h0M127.8 84.6h0M122.4 106.1h0M127.4 94.7h0M112.4 73.5h0M118.1 70.7h0M117.2 79.7h0M123.3 106.5h0M116.3 81.2h0M113.6 68h0M120.1 82.3h0M108.1 71.9h0M115.3 79.3h0M120.2 81.6h0M119.4 100h0M126.2 119.9h0M122.9 122.1h0M110.3 70.3h0M116.1 84h0M129.1 87.5h0M121.7 94.7h0M123.2 110.8h0M118.5 92h0M122 102.5h0M120.3 78h0M109 68.4h0M123.2 93.7h0M119.2 96.4h0M119.6 111.9h0M119.3 88.4h0M117.7 79.4h0M123.1 95.3h0M114.2 128h0M121.4 104.2h0M122.7 120.4h0M116 125.3h0M113.4 71.6h0M123.5 97.7h0M118.6 77.1h0M120.5 100.3h0M113.4 123.7h0M121.3 81.9h0M123.4 104.9h0M112.9 130h0M127.3 75.4h0M124.3 115h0M117.3 112.1h0M113 128.5h0M115.9 110.7h0M116.7 84.8h0M119.3 89.7h0M114 128.4h0M123.1 112.7h0M118.7 95.3h0M127.2 94.2h0M124.5 100.8h0M115.4 110.4h0M120.3 95.6h0M123.2 125.4h0M107.2 71.3h0M122.6 121h0M47.8 99.6h0M54 121.6h0M44.4 123.8h0M43.4 120.1h0M49.7 121.5h0M34.7 121.3h0M50.4 95.1h0M41.1 92.2h0M38.3 102.8h0M49.3 98.1h0M43.2 95.7h0M50.7 96.8h0M55.6 120.1h0M34.5 113.9h0M37.1 123h0M42.5 94.8h0M53.6 103.5h0M49.9 102.3h0M33.6 100.7h0M46 117.3h0M40.3 100.6h0M32.5 112.7h0M34.8 105.2h0M49.4 101.5h0M31.4 96.4h0M44.6 107.1h0M41.9 111.2h0M44.6 111.8h0M42.9 103.9h0M34.4 103.9h0M42.6 98.3h0M38.8 101.3h0M52.7 99.6h0M51.4 115.7h0M49.4 103.9h0M32 101.8h0M48.9 117.5h0M44 112.9h0M38.8 84.5h0M42.1 87.9h0M40 112.1h0M48.2 102.5h0M48.2 82.6h0M29.5 110.8h0M46.9 88.7h0M53.7 97.4h0M41.8 95h0M47.1 110.4h0M47.8 112.2h0M49.5 94.6h0M38.5 99.2h0M44 108.4h0M53.6 90.6h0M51 110.6h0M39.5 101h0M49.9 100.6h0M30.9 105.9h0M29.2 88.6h0M55.6 100.1h0M30.5 106.1h0M47.6 114.9h0M46 106.4h0M51.4 103.5h0M45.6 106.8h0M43.7 94.2h0M38.1 113.4h0M31.7 106.1h0M43.5 116.6h0M33.1 99.5h0M38.9 106.1h0M54.8 101.6h0M43.8 109.7h0M37.4 108.4h0M55.6 113.5h0M51.5 109.2h0M41.6 92h0M42.1 99.8h0M45.6 93.4h0M48.5 102.9h0M51.7 106.9h0M57.1 94.8h0M44.4 109.6h0M37.4 100.5h0M55.4 122.5h0M55.8 111.7h0M44.8 104.5h0M47.2 116.2h0M44.1 116.3h0M40.4 107.2h0M40.9 112.7h0M36.8 89.7h0M48.8 106.4h0M45.6 100.3h0M49.1 96.9h0M50.6 102.5h0M31.3 115.8h0M32.8 99.1h0M38.3 117.1h0M52.2 92.1h0M45.7 93.8h0M52.3 97h0M52.6 126h0M35.3 87.1h0M34.9 84h0M43 99.6h0M55.1 87.7h0M51.1 87.1h0M53.9 127h0M56.8 131.1h0M45.3 93.9h0M52.7 107.7h0M53.4 111.4h0M47.6 87.2h0M42.7 102.5h0M46.8 114.9h0M46.1 84.2h0M49.3 122.2h0M4.1 99.9h0M15.3 90.2h0M18.8 87.4h0M14 100.1h0M13.9 98.5h0M17.7 93.4h0M9.5 99.1h0M11.3 92.2h0M9.7 99.3h0M6 96.4h0M8.3 89.7h0M5.8 99.3h0M142.3 99.2h0M159.4 101.1h0M155.7 79.1h0M154.7 83.1h0M148.5 85.4h0M135.1 87.3h0M155.7 100.2h0M152.2 85.3h0M159.3 104.8h0M136.1 79.9h0M149 90.8h0M148.6 88.4h0M149.7 94.4h0M153.6 98.8h0M157.1 100.6h0M164 96.1h0M148.8 113.2h0M162.2 96.2h0M154.3 77.3h0M140.6 102.6h0M155.9 93.7h0M135.1 102.1h0M152.6 89.6h0M154.3 88.3h0M147.7 96.6h0M151.7 109.1h0M151.8 100.9h0M160.6 90.7h0M159.8 102.3h0M143.5 101.5h0M144.9 111.1h0M160.7 96.4h0M160.1 96.8h0M159.2 107.1h0M143.5 97.5h0M63.1 152.1h0M57.2 141.9h0M45.6 144.2h0M47.2 148.1h0M52.5 157.4h0M63.8 153.5h0M60 147.4h0M57.3 144.1h0M56.8 150.1h0M64.7 150.6h0M61 150.8h0M53.2 148.3h0M52.5 149.5h0M60.2 144.2h0M61 151h0M47 151.5h0M58.2 154.8h0M47.7 151.5h0M60.8 150.2h0M56.8 155.3h0M61.9 153.8h0M55.7 145.1h0M59.8 157h0M56.6 142.9h0M50 154.8h0M55.4 139.2h0M59 156.6h0M54.4 153.4h0M61.3 154.5h0M60.4 140.5h0M63.5 154.4h0M53.5 156.5h0M61.8 152.1h0M57.9 157.2h0M49.3 148h0M61.8 145.1h0"/><clipPath id="cl01"><path clip-rule="evenodd" d="M88 181L83.5 181.3L70.5 178L66.6 173L66.7 168.5L63.9 165.5L63.8 161.5L63 158.6L62 157L59.5 155.6L59 151.5L60 148.9L61 148.4L64 148.7L64.9 148L64.9 147L61.2 139.5L59.7 134L58.5 133.2L55.5 134.1L54.6 133.5L55.4 130.5L54.9 127.5L55.5 125.5L54.3 121.5L55.4 118L55.4 115L52.5 111.3L49.9 105.5L47.5 103.3L46.6 100.5L49 95.8L50 95.4L52.5 96.6L54.1 95.5L54.5 93L53.9 87L58.8 84L60 76L62.5 73.6L64 71L67.1 68.5L67.9 61L68.8 59L71.5 56L78 51.5L85 47.8L92.5 51.7L97 52.5L101.5 57L103.7 62L105.5 64.5L105.8 68L110.5 69.6L114.5 75.5L119.5 80.5L119.8 81.5L117.6 84L117.4 85.5L120 88.2L120.2 92L123.7 94L124.7 96L123.6 99L120.9 101L120 102.5L120.5 103.5L123.4 105.5L124.3 111L123.6 114.5L120.2 118.5L119.7 122L118.5 123.1L114.5 124.5L113.9 129L109.5 134.3L107 135.3L105.4 133.5L102.1 134L102.5 135L106 136.5L106.6 138L104 139L103 141L104.3 146L103.7 149L103.9 153L103.2 156.5L103.7 161L104.8 163.5L104.5 165L101.9 170L97 171.6L96.9 174.5L95.5 176.5L92 179.3L88 181Z"/></clipPath><g clip-path="url(#cl01)"><g filter="url(#sm)"><path fill="rgb(3,255,0)" d="M58.8 96C58.8 78 67.9 63.2 81.6 63.2C95.3 63.2 104.4 78 104.4 96C104.4 127.1 87.3 152.6 81.6 152.6C75.9 152.6 58.8 127.1 58.8 96Z"/><path fill="rgb(7,255,0)" d="M59.1 96C59.1 78.2 68.1 63.7 81.6 63.7C95.1 63.7 104.1 78.2 104.1 96C104.1 126.9 87.2 152.1 81.6 152.1C76 152.1 59.1 126.9 59.1 96Z"/><path fill="rgb(11,255,0)" d="M59.3 96C59.3 78.5 68.2 64.1 81.6 64.1C95 64.1 103.9 78.5 103.9 96C103.9 126.6 87.2 151.7 81.6 151.7C76 151.7 59.3 126.6 59.3 96Z"/><path fill="rgb(15,255,0)" d="M59.6 96C59.6 78.7 68.4 64.6 81.6 64.6C94.8 64.6 103.6 78.7 103.6 96C103.6 126.4 87.1 151.2 81.6 151.2C76.1 151.2 59.6 126.4 59.6 96Z"/><path fill="rgb(20,255,0)" d="M59.9 96C59.9 79 68.6 65.1 81.6 65.1C94.6 65.1 103.3 79 103.3 96C103.3 126.1 87 150.7 81.6 150.7C76.2 150.7 59.9 126.1 59.9 96Z"/><path fill="rgb(24,255,0)" d="M60.2 96C60.2 79.2 68.8 65.5 81.6 65.5C94.4 65.5 103 79.2 103 96C103 125.8 87 150.3 81.6 150.3C76.2 150.3 60.2 125.8 60.2 96Z"/><path fill="rgb(28,255,0)" d="M60.5 96C60.5 79.5 68.9 66 81.6 66C94.3 66 102.7 79.5 102.7 96C102.7 125.6 86.9 149.8 81.6 149.8C76.3 149.8 60.5 125.6 60.5 96Z"/><path fill="rgb(32,255,0)" d="M60.7 96C60.7 79.8 69.1 66.5 81.6 66.5C94.1 66.5 102.5 79.8 102.5 96C102.5 125.3 86.8 149.3 81.6 149.3C76.4 149.3 60.7 125.3 60.7 96Z"/><path fill="rgb(37,255,0)" d="M61 96C61 80 69.3 66.9 81.6 66.9C93.9 66.9 102.2 80 102.2 96C102.2 125.1 86.7 148.9 81.6 148.9C76.5 148.9 61 125.1 61 96Z"/><path fill="rgb(42,255,0)" d="M61.3 96C61.3 80.3 69.4 67.4 81.6 67.4C93.8 67.4 101.9 80.3 101.9 96C101.9 124.8 86.7 148.4 81.6 148.4C76.5 148.4 61.3 124.8 61.3 96Z"/><path fill="rgb(47,255,0)" d="M61.6 96C61.6 80.5 69.6 67.9 81.6 67.9C93.6 67.9 101.6 80.5 101.6 96C101.6 124.6 86.6 147.9 81.6 147.9C76.6 147.9 61.6 124.6 61.6 96Z"/><path fill="rgb(53,255,0)" d="M61.9 96C61.9 80.8 69.8 68.3 81.6 68.3C93.4 68.3 101.3 80.8 101.3 96C101.3 124.3 86.5 147.5 81.6 147.5C76.7 147.5 61.9 124.3 61.9 96Z"/><path fill="rgb(58,255,0)" d="M62.1 96C62.1 81 69.9 68.8 81.6 68.8C93.3 68.8 101.1 81 101.1 96C101.1 124 86.5 147 81.6 147C76.7 147 62.1 124 62.1 96Z"/><path fill="rgb(63,255,0)" d="M62.4 96C62.4 81.3 70.1 69.3 81.6 69.3C93.1 69.3 100.8 81.3 100.8 96C100.8 123.8 86.4 146.5 81.6 146.5C76.8 146.5 62.4 123.8 62.4 96Z"/><path fill="rgb(68,255,0)" d="M62.7 96C62.7 81.6 70.3 69.7 81.6 69.7C92.9 69.7 100.5 81.6 100.5 96C100.5 123.5 86.3 146.1 81.6 146.1C76.9 146.1 62.7 123.5 62.7 96Z"/><path fill="rgb(76,255,0)" d="M63.1 96C63.1 81.8 70.5 70.2 81.6 70.2C92.7 70.2 100.1 81.8 100.1 96C100.1 123.3 86.2 145.6 81.6 145.6C77 145.6 63.1 123.3 63.1 96Z"/><path fill="rgb(84,255,0)" d="M63.5 96C63.5 82.1 70.7 70.7 81.6 70.7C92.5 70.7 99.7 82.1 99.7 96C99.7 123 86.1 145.1 81.6 145.1C77.1 145.1 63.5 123 63.5 96Z"/><path fill="rgb(92,255,0)" d="M63.9 96C63.9 82.3 71 71.1 81.6 71.1C92.2 71.1 99.3 82.3 99.3 96C99.3 122.8 86 144.7 81.6 144.7C77.2 144.7 63.9 122.8 63.9 96Z"/><path fill="rgb(101,255,0)" d="M64.3 96C64.3 82.6 71.2 71.6 81.6 71.6C92 71.6 98.9 82.6 98.9 96C98.9 122.5 85.9 144.2 81.6 144.2C77.3 144.2 64.3 122.5 64.3 96Z"/><path fill="rgb(109,255,0)" d="M64.7 96C64.7 82.8 71.4 72.1 81.6 72.1C91.8 72.1 98.5 82.8 98.5 96C98.5 122.2 85.8 143.7 81.6 143.7C77.4 143.7 64.7 122.2 64.7 96Z"/><path fill="rgb(117,255,0)" d="M65.1 96C65.1 83.1 71.7 72.5 81.6 72.5C91.5 72.5 98.1 83.1 98.1 96C98.1 122 85.7 143.3 81.6 143.3C77.5 143.3 65.1 122 65.1 96Z"/><path fill="rgb(129,255,0)" d="M65.5 96C65.5 83.4 71.9 73 81.6 73C91.3 73 97.7 83.4 97.7 96C97.7 121.7 85.6 142.8 81.6 142.8C77.6 142.8 65.5 121.7 65.5 96Z"/><path fill="rgb(144,255,0)" d="M65.9 96C65.9 83.6 72.2 73.5 81.6 73.5C91 73.5 97.3 83.6 97.3 96C97.3 121.5 85.5 142.3 81.6 142.3C77.7 142.3 65.9 121.5 65.9 96Z"/><path fill="rgb(158,255,0)" d="M66.3 96C66.3 83.9 72.4 73.9 81.6 73.9C90.8 73.9 96.9 83.9 96.9 96C96.9 121.2 85.4 141.9 81.6 141.9C77.8 141.9 66.3 121.2 66.3 96Z"/><path fill="rgb(172,255,0)" d="M66.7 96C66.7 84.1 72.6 74.4 81.6 74.4C90.6 74.4 96.5 84.1 96.5 96C96.5 121 85.3 141.4 81.6 141.4C77.9 141.4 66.7 121 66.7 96Z"/><path fill="rgb(186,255,0)" d="M67.1 96C67.1 84.4 72.9 74.9 81.6 74.9C90.3 74.9 96.1 84.4 96.1 96C96.1 120.7 85.2 140.9 81.6 140.9C78 140.9 67.1 120.7 67.1 96Z"/><path fill="rgb(200,255,0)" d="M67.5 96C67.5 84.6 73.1 75.3 81.6 75.3C90.1 75.3 95.7 84.6 95.7 96C95.7 120.5 85.1 140.5 81.6 140.5C78.1 140.5 67.5 120.5 67.5 96Z"/><path fill="rgb(217,255,0)" d="M67.9 96C67.9 84.9 73.4 75.8 81.6 75.8C89.8 75.8 95.3 84.9 95.3 96C95.3 120.2 85 140 81.6 140C78.2 140 67.9 120.2 67.9 96Z"/><path fill="rgb(233,255,0)" d="M68.3 96C68.3 85.2 73.6 76.3 81.6 76.3C89.6 76.3 94.9 85.2 94.9 96C94.9 119.9 84.9 139.5 81.6 139.5C78.3 139.5 68.3 119.9 68.3 96Z"/><path fill="rgb(250,255,0)" d="M68.7 96C68.7 85.4 73.8 76.7 81.6 76.7C89.4 76.7 94.5 85.4 94.5 96C94.5 119.7 84.8 139.1 81.6 139.1C78.4 139.1 68.7 119.7 68.7 96Z"/><path fill="rgb(255,247,0)" d="M69.1 96.1C69.1 85.6 74.1 77.1 81.6 77.1C89.1 77.1 94.2 85.6 94.2 96.1C94.2 119.4 84.7 138.5 81.6 138.5C78.5 138.5 69.1 119.4 69.1 96.1Z"/><path fill="rgb(255,236,0)" d="M69.5 96.2C69.5 85.8 74.3 77.3 81.6 77.3C88.9 77.3 93.8 85.8 93.8 96.2C93.8 119.1 84.7 137.8 81.6 137.8C78.6 137.8 69.5 119.1 69.5 96.2Z"/><path fill="rgb(255,225,0)" d="M69.9 96.3C69.9 86 74.6 77.6 81.7 77.6C88.7 77.6 93.4 86 93.4 96.3C93.4 118.8 84.6 137.2 81.7 137.2C78.7 137.2 69.9 118.8 69.9 96.3Z"/><path fill="rgb(255,214,0)" d="M70.3 96.5C70.3 86.2 74.8 77.9 81.7 77.9C88.5 77.9 93 86.2 93 96.5C93 118.5 84.5 136.6 81.7 136.6C78.8 136.6 70.3 118.5 70.3 96.5Z"/><path fill="rgb(255,203,0)" d="M70.7 96.6C70.7 86.4 75.1 78.2 81.7 78.2C88.3 78.2 92.7 86.4 92.7 96.6C92.7 118.2 84.4 135.9 81.7 135.9C78.9 135.9 70.7 118.2 70.7 96.6Z"/><path fill="rgb(255,192,0)" d="M71.1 96.7C71.1 86.7 75.3 78.4 81.7 78.4C88.1 78.4 92.3 86.7 92.3 96.7C92.3 117.9 84.4 135.3 81.7 135.3C79.1 135.3 71.1 117.9 71.1 96.7Z"/><path fill="rgb(255,181,0)" d="M71.5 96.8C71.5 86.9 75.6 78.7 81.7 78.7C87.9 78.7 91.9 86.9 91.9 96.8C91.9 117.6 84.3 134.6 81.7 134.6C79.2 134.6 71.5 117.6 71.5 96.8Z"/><path fill="rgb(255,168,0)" d="M71.9 97C71.9 87.1 75.8 79 81.7 79C87.6 79 91.6 87.1 91.6 97C91.6 117.3 84.2 134 81.7 134C79.3 134 71.9 117.3 71.9 97Z"/><path fill="rgb(255,156,0)" d="M72.3 97.1C72.3 87.3 76.1 79.2 81.8 79.2C87.4 79.2 91.2 87.3 91.2 97.1C91.2 117 84.1 133.4 81.8 133.4C79.4 133.4 72.3 117 72.3 97.1Z"/><path fill="rgb(255,143,0)" d="M72.7 97.2C72.7 87.5 76.3 79.5 81.8 79.5C87.2 79.5 90.8 87.5 90.8 97.2C90.8 116.7 84 132.7 81.8 132.7C79.5 132.7 72.7 116.7 72.7 97.2Z"/><path fill="rgb(255,130,0)" d="M73.1 97.3C73.1 87.7 76.6 79.8 81.8 79.8C87 79.8 90.5 87.7 90.5 97.3C90.5 116.5 84 132.1 81.8 132.1C79.6 132.1 73.1 116.5 73.1 97.3Z"/><path fill="rgb(255,113,0)" d="M73.5 97.5C73.5 87.9 76.9 80 81.8 80C86.8 80 90.1 87.9 90.1 97.5C90.1 116.2 83.9 131.5 81.8 131.5C79.7 131.5 73.5 116.2 73.5 97.5Z"/><path fill="rgb(255,97,0)" d="M73.9 97.6C73.9 88.1 77.1 80.3 81.8 80.3C86.6 80.3 89.7 88.1 89.7 97.6C89.7 115.9 83.8 130.8 81.8 130.8C79.9 130.8 73.9 115.9 73.9 97.6Z"/><path fill="rgb(255,80,0)" d="M74.4 97.7C74.4 88.3 77.4 80.6 81.9 80.6C86.4 80.6 89.4 88.3 89.4 97.7C89.4 115.6 83.7 130.2 81.9 130.2C80 130.2 74.4 115.6 74.4 97.7Z"/><path fill="rgb(255,59,0)" d="M74.8 97.8C74.8 88.5 77.6 80.8 81.9 80.8C86.1 80.8 89 88.5 89 97.8C89 115.3 83.7 129.5 81.9 129.5C80.1 129.5 74.8 115.3 74.8 97.8Z"/><path fill="rgb(255,34,0)" d="M75.2 98C75.2 88.7 77.9 81.1 81.9 81.1C85.9 81.1 88.6 88.7 88.6 98C88.6 115 83.6 128.9 81.9 128.9C80.2 128.9 75.2 115 75.2 98Z"/><path fill="rgb(255,10,0)" d="M75.6 98.4C75.6 89.3 78.1 81.9 81.9 81.9C85.7 81.9 88.2 89.3 88.2 98.4C88.2 114.6 83.5 127.8 81.9 127.8C80.4 127.8 75.6 114.6 75.6 98.4Z"/><path fill="rgb(255,0,0)" d="M76.1 98.9C76.1 90.1 78.5 82.8 82 82.8C85.5 82.8 87.8 90.1 87.8 98.9C87.8 114.1 83.4 126.4 82 126.4C80.5 126.4 76.1 114.1 76.1 98.9Z"/><path fill="rgb(232,0,19)" d="M76.6 99.5C76.6 90.9 78.8 83.8 82 83.8C85.2 83.8 87.4 90.9 87.4 99.5C87.4 113.6 83.4 125 82 125C80.7 125 76.6 113.6 76.6 99.5Z"/><path fill="rgb(175,0,67)" d="M77.1 100.1C77.1 91.7 79.1 84.8 82 84.8C85 84.8 87 91.7 87 100.1C87 113.1 83.3 123.7 82 123.7C80.8 123.7 77.1 113.1 77.1 100.1Z"/><path fill="rgb(100,0,130)" d="M77.6 100.6C77.6 92.4 79.4 85.8 82.1 85.8C84.8 85.8 86.6 92.4 86.6 100.6C86.6 112.6 83.2 122.3 82.1 122.3C81 122.3 77.6 112.6 77.6 100.6Z"/><path fill="rgb(25,0,205)" d="M78.1 101C78.1 93.2 79.7 86.8 82.1 86.8C84.5 86.8 86.2 93.2 86.2 101C86.2 111.8 83.1 120.7 82.1 120.7C81.1 120.7 78.1 111.8 78.1 101Z"/><path fill="rgb(0,13,238)" d="M78.5 101.1C78.5 94 80 88.2 82.1 88.2C84.3 88.2 85.7 94 85.7 101.1C85.7 110.7 83 118.5 82.1 118.5C81.2 118.5 78.5 110.7 78.5 101.1Z"/><path fill="rgb(0,33,251)" d="M79 101.2C79 94.8 80.3 89.5 82.2 89.5C84.1 89.5 85.3 94.8 85.3 101.2C85.3 109.5 83 116.3 82.2 116.3C81.4 116.3 79 109.5 79 101.2Z"/><path fill="rgb(0,60,255)" d="M79.5 101.2C79.5 95.5 80.6 90.8 82.2 90.8C83.8 90.8 84.9 95.5 84.9 101.2C84.9 108.3 82.9 114.2 82.2 114.2C81.5 114.2 79.5 108.3 79.5 101.2Z"/><path fill="rgb(0,90,255)" d="M80 101.3C80 96.3 80.9 92.2 82.2 92.2C83.6 92.2 84.5 96.3 84.5 101.3C84.5 107.2 82.8 112 82.2 112C81.7 112 80 107.2 80 101.3Z"/><path fill="rgb(0,120,255)" d="M80.5 101.4C80.5 97 81.2 93.5 82.3 93.5C83.4 93.5 84.1 97 84.1 101.4C84.1 106 82.7 109.8 82.3 109.8C81.8 109.8 80.5 106 80.5 101.4Z"/><path fill="rgb(0,149,255)" d="M80.9 101.4C80.9 97.8 81.4 94.8 82.3 94.8C83.2 94.8 83.7 97.8 83.7 101.4C83.7 105.1 82.7 108.1 82.3 108.1C81.9 108.1 80.9 105.1 80.9 101.4Z"/><path fill="rgb(0,176,255)" d="M81.1 101.5C81.1 98.4 81.6 95.9 82.3 95.9C83 95.9 83.5 98.4 83.5 101.5C83.5 104.5 82.6 107 82.3 107C82 107 81.1 104.5 81.1 101.5Z"/><path fill="rgb(0,203,255)" d="M81.3 101.5C81.3 99 81.7 97 82.3 97C82.9 97 83.3 99 83.3 101.5C83.3 104 82.6 106 82.3 106C82 106 81.3 104 81.3 101.5Z"/><path fill="rgb(0,230,255)" d="M81.5 101.6C81.5 99.7 81.8 98.1 82.3 98.1C82.8 98.1 83.1 99.7 83.1 101.6C83.1 103.5 82.5 105 82.3 105C82.1 105 81.5 103.5 81.5 101.6Z"/><path fill="rgb(0,239,255)" d="M81.7 101.6C81.7 100.3 81.9 99.2 82.3 99.2C82.7 99.2 82.9 100.3 82.9 101.6C82.9 102.9 82.5 104 82.3 104C82.1 104 81.7 102.9 81.7 101.6Z"/><path fill="rgb(0,249,255)" d="M81.9 101.7C81.9 100.9 82 100.4 82.3 100.4C82.6 100.4 82.7 100.9 82.7 101.7C82.7 102.4 82.4 103 82.3 103C82.2 103 81.9 102.4 81.9 101.7Z"/></g></g>
</svg>
<path d="M354.2 32.6H362.9M354.2 249.4H363.5V257.7M446.5 250.0v7.7M529.5 250.0v7.7" stroke="#111" stroke-width="1.3" fill="none"/>
<text x="353.3" y="36.9" font-size="13" text-anchor="end">8</text>
<use href="#one" transform="translate(345.90 253.80) scale(0.00635 -0.00635)"/>
<text x="362.0" y="271.0" font-size="13" text-anchor="middle">-8</text>
<text x="446.8" y="271.0" font-size="13" text-anchor="middle">0</text>
<text x="531.1" y="271.0" font-size="13" text-anchor="middle">8</text>
<text transform="translate(447.3 23.3) scale(1 1.04)" font-size="19.45" text-anchor="middle">PDAC2 vs PDAC3</text>
<text x="447.5" y="290.3" font-size="12.95" text-anchor="middle">Log2(PDAC2/PDAC3)</text>
<text transform="translate(339.7 134.3) rotate(-90)" font-size="12.8" text-anchor="middle">Log10(Average Intensity)</text>
<svg x="624.7" y="32.0" width="167.2" height="218.0" viewBox="0 0 167.2 218.0" overflow="hidden">
<rect width="167.2" height="218.0" fill="#c9bb9b"/>
<path fill="#00ff00" fill-rule="evenodd" d="M88 182.6L85.5 182.3L81.5 178.7L73 179.8L69.1 175L66.3 173L65.7 170L63.6 166L63.9 161.5L61.7 156L63.9 147.5L64.1 142L59.6 137L59 133.5L56.3 128.5L56.5 127L58.3 124.5L58.2 123.5L53.9 119L52.9 117L52.9 116L54.9 113L53.9 109L54.6 104.5L53.9 103.5L51 102.1L50.7 100.5L53.1 94.5L55.9 91.5L57.9 88L58.8 82.5L61 79.5L60.9 77.5L57.9 74.5L57.5 72.5L61.1 66.5L61.8 62L64 57.3L65 56.4L68 55.7L71 53.8L75.5 52.6L83.5 53L87.5 56.1L89 56.6L92.2 55L93.4 55L95.8 58.5L96.4 62L99.8 65.5L101.3 71L104 74.1L108 75L110.5 77.1L112.3 76.5L113.8 74.5L114.1 73L113 71L113.5 70.5L120 71.5L123.5 73L131.5 70.2L133.5 70.5L137 72.3L138 71.7L139 69L140 68L141 68.1L143.5 70.6L145.4 70.5L146.1 69.5L146.2 67.5L147.3 66.5L148.5 67.5L147.9 71L150 73.2L152.5 72.5L154.5 69.6L158 68.8L164.5 69.9L167 71.3L167.4 96.5L167 115.4L163.5 116.4L159.5 113.6L157.5 113.1L153 116.4L146.5 118.6L145 118L142.5 115.4L136 112.5L135.4 113L136.3 115.5L136.2 117L132.5 121.7L130 121.1L124.5 114.6L123 117.5L121.5 118.1L118 118.2L115 121.2L113.5 121.2L111 119.5L109.5 120L107.5 123L107.4 128.5L104.6 132L103.9 139.5L100 141.4L99.5 142.5L100.8 148.5L99.6 152L102.4 157L102.7 160.5L101.5 163L98.9 166L96.6 173L89.7 178.5L89.1 179.5L89.4 181.5L88 182.6ZM122.5 124.1L120.7 124L120.3 123L120.8 122L122 122.1L122.5 124.1Z"/><path stroke="#10f010" stroke-width="3.0" stroke-linecap="round" d="M86.6 57.2h0M77.2 53.9h0M94.3 60.4h0M63 78.6h0M67.2 56.9h0M98.6 57.4h0M66 55.5h0M97.9 58.6h0M61.9 68.6h0M98.9 74h0M58.1 72.3h0M85 56h0M83.6 53.1h0M84.2 53.2h0M98.8 65.2h0M70.7 55.4h0M83.8 53.7h0M92.1 55.6h0M100.4 68.8h0M93.8 58.7h0M60.6 67.8h0M88.6 55.8h0M82 48.2h0M56.5 64.2h0M52.8 76.1h0M91 56.2h0M76.4 54h0M59 75.6h0M101.2 78h0M68.8 56.4h0M87.1 52.3h0M73.8 53.2h0M99.4 73.1h0M97.6 75.5h0M93.5 58.1h0M98.5 61.3h0M59.2 63h0M66 58.7h0M91.9 55.9h0M64.1 56.3h0M99.1 74.4h0M76 53.2h0M58.9 74.1h0M94.4 55.5h0M80.4 51.3h0M68.5 49.8h0M65.6 56.9h0M88.5 52.5h0M82.5 49.2h0M88.9 56.2h0M56.9 76.1h0M84.6 54.9h0M62.9 57.2h0M99.4 66h0M55.9 66.3h0M70.2 53.9h0M60.5 78.7h0M95 54.5h0M66.8 58.5h0M77.4 48.9h0M62.7 57.6h0M85.2 49.9h0M61.9 61h0M63 79.7h0M80.4 53.8h0M102.8 61.6h0M61.3 75.5h0M93.1 57.1h0M60.9 65.8h0M51 115.6h0M56.2 93.3h0M96.7 59.3h0M46.3 112.9h0M104.9 128.8h0M51.3 97.1h0M57.2 120h0M114.6 120.2h0M54.1 117.4h0M102.2 134.2h0M53 100.9h0M50 102.6h0M101 82h0M54.4 116.9h0M64.2 149h0M51 102.8h0M103.5 76.8h0M111.5 133.2h0M54.3 127.9h0M45.4 127h0M104.9 135.6h0M101.3 79.5h0M62.2 82.5h0M66 150h0M109 117.6h0M55.4 117.1h0M67.5 48.4h0M59 72.9h0M61 51.7h0M102.8 74.7h0M109.2 122.9h0M59.3 89.1h0M67 140h0M111.2 129.5h0M115.9 70.9h0M65.2 148.2h0M63.4 139.9h0M65.3 141.6h0M54.9 105.3h0M101 76h0M97.1 150.5h0M44.7 94.8h0M52.1 100.3h0M98.6 145.3h0M92.7 59h0M60.2 135.4h0M109.1 73.8h0M60.5 86.1h0M106.5 125h0M60 86.3h0M53 112h0M54.9 94.7h0M108.2 145.3h0M56.1 110.9h0M44.5 111h0M58.1 138.6h0M101.3 144.9h0M58.2 142.2h0M52.9 131.3h0M59.4 90.3h0M52.5 136h0M105.7 127.8h0M55.7 115.3h0M55.7 121h0M118.3 126.9h0M58.9 72.7h0M105.3 142.4h0M102.8 74.4h0M94.4 60.8h0M102.9 75h0M62.2 82.3h0M51.1 126.2h0M59.3 67.6h0M99.8 68.2h0M55.7 124.3h0M99.4 148.2h0M62.9 64.1h0M63.9 58.8h0M53.2 134.5h0M94.7 53.9h0M54.3 120.4h0M103.2 73.1h0M75.7 50.4h0M48.3 110.3h0M104.3 130.5h0M58.3 122.7h0M54.1 140.3h0M46.4 137.6h0M111.2 131.4h0M53 79.4h0M104.6 134.5h0M64.3 140.3h0M65.6 140.9h0M57.1 90.5h0M103.3 140.6h0M63.4 54.6h0M50.5 122.9h0M52.8 157.6h0M104.7 132.2h0M56.8 106.3h0M102.3 72.8h0M56.7 104.5h0M108.2 128.6h0M117.6 130.7h0M114.2 121h0M55.3 115.4h0M60.9 81.9h0M114.9 120.1h0M105.1 76.1h0M61.1 145.1h0M68.8 138.6h0M58 83.8h0M112.6 130.6h0M103.5 71.7h0M110.4 74.5h0M99.9 64.3h0M104.3 144.2h0M99 79.6h0M102.7 137.8h0M65.5 139h0M56.4 139.3h0M98.3 57.2h0M56.2 107h0M54.8 135.5h0M55 107.8h0M95.8 62.9h0M103 64.4h0M58.5 122.2h0M97.5 148.5h0M52.8 58.6h0M48.2 141.4h0M52.7 100h0M55.8 110.4h0M55.5 102.3h0M55.6 115.6h0M53.4 102.6h0M58.5 119.1h0M56.4 141.4h0M50.7 138.2h0M58.7 135.6h0M54 127h0M55.3 119.3h0M53.1 126.8h0M51.3 99.3h0M98.3 65.6h0M100.1 145.1h0M104.8 138.2h0M55.7 118.6h0M57.3 88.5h0M56.2 72.5h0M99.4 68.3h0M101.4 59.2h0M108.1 127.1h0M54.1 95.6h0M104.4 138.4h0M57.7 126.4h0M51.2 96.5h0M105.5 153.3h0M54.8 88.8h0M52.3 94.1h0M81.9 53.5h0M59.3 143.2h0M59.5 131.9h0M107.7 121.8h0M53.8 99.7h0M114.4 138.6h0M65.2 142.6h0M101 133h0M60.1 85.7h0M54.5 128.1h0M53.4 126.1h0M59.2 87h0M105.6 149.7h0M53.2 144.5h0M107.2 125.2h0M99.5 132h0M55.8 109.4h0M62.8 82.9h0M102.5 130h0M109.6 138.5h0M101.9 165.4h0M106.5 120.8h0M52.7 119.9h0M55.9 78.3h0M102.9 128.1h0M48.6 113.7h0M55.5 129.4h0M62 137.2h0M66.1 144.1h0M104.2 140.8h0M99.5 65.6h0M58.8 127.1h0M58 121h0M58.7 72.7h0M47.7 87.9h0M98.8 148h0M99.7 73.2h0M104.7 127.8h0M104.6 63.6h0M103.5 135.1h0M103.6 140.1h0M102.9 134.4h0M114.8 119.9h0M55.1 110.7h0M104.1 131.6h0M93.9 55.1h0M86.2 46.1h0M50.3 97.9h0M49.4 109.7h0M92.5 53.5h0M58.6 87.4h0M59.7 81.9h0M107.7 77.5h0M105.4 125.5h0M54.6 133.6h0M107.2 58.4h0M112.5 154.4h0M54.7 104.3h0M101.5 134.3h0M95.7 59.1h0M67.7 140.1h0M101.4 131.4h0M59.7 74.3h0M100.3 72.4h0M56.9 133.9h0M102.2 149.6h0M60.9 143.5h0M60.9 83.5h0M61.3 82.9h0M60.4 137.5h0M62.2 78.2h0M59.9 84.4h0M48.6 150h0M58.3 91.2h0M63.2 139h0M57.8 91.6h0M51.9 109.8h0M50.1 103.1h0M110.7 141.4h0M52 78.3h0M101.6 133.9h0M50 114.2h0M107.6 129.7h0M59.8 84.6h0M99 79h0M52.8 117.5h0M52.1 92.8h0M51.7 94.8h0M99.8 150.4h0M65.7 145.7h0M57.5 143h0M87.3 47.8h0M54.5 99.5h0M58.3 131.2h0M99.7 72.3h0M54.5 107.4h0M103 130h0M102.8 71.3h0M65.3 53.8h0M58 129.1h0M102 77.8h0M59 81.6h0M52.1 116h0M61.2 88.2h0M98.8 78.1h0M104 66h0M108.5 65.3h0M107 131.4h0M98.1 149.4h0M101.1 140.2h0M57.4 137.2h0M51.5 115h0M51.9 105.3h0M102.3 148h0M88 177.6h0M63.5 154.7h0M67 173.4h0M81.6 185.9h0M74.5 178.1h0M65.8 171.8h0M66.6 171.3h0M99.1 151.7h0M94 184.9h0M60.1 153.2h0M105.4 167.7h0M100.4 168.4h0M90.1 182.1h0M93.6 175.4h0M80.9 184.7h0M63.9 165h0M85.4 178.5h0M78.7 178h0M95.6 179.2h0M95.3 173.8h0M83.9 177.9h0M63.1 157.6h0M63 149.6h0M67.5 173.5h0M72.3 179.2h0M68.8 178.5h0M67.8 172.9h0M102.4 149.5h0M111.8 169.7h0M97.9 169.9h0M79.1 183.3h0M86.8 185.9h0M60.3 156.2h0M97.3 174.3h0M85.6 184h0M66.3 138h0M75.7 180h0M61.2 152.2h0M90.6 182h0M90.8 181.2h0M85.6 180.1h0M62.8 157.2h0M62.3 148.3h0M91.5 176.2h0M101.6 168.9h0M65.3 167.9h0M80.4 184h0M98.7 140.9h0M75.7 178.6h0M63 176.1h0M64 153.2h0M95.7 172.7h0M84.3 181h0M72.5 181.2h0M68.3 172.3h0M103.1 160.2h0M91 177.6h0M97.2 167.5h0M64.9 176.9h0M73.4 182.4h0M69.1 177h0M101.1 154.6h0M88.2 182.7h0M64.4 144.7h0M101.9 158h0M60 151.9h0M89.5 182.2h0M78.4 177.5h0M80.7 184.3h0M87.5 179.9h0M101 168.3h0M61.6 164.5h0M102.2 158.5h0M80.1 180.5h0M58.9 171.1h0M97.7 168.4h0M100.9 153.1h0M81.8 177.2h0M71.4 179.2h0M107.3 157.8h0M73.5 177.7h0M65 164.5h0M78.5 179.6h0M103.5 175.1h0M106.2 167.8h0M99.3 145.2h0M106.4 169h0M101.3 157h0M76.3 178.2h0M91.8 180h0M102.6 167h0M71.5 176.1h0M91.7 181.6h0M57.4 169.9h0M64 150h0M93.3 186.4h0M62.9 172.6h0M103.2 153.3h0M101.1 180.9h0M79.8 183h0M67.5 177h0M107.1 164.6h0M86.5 182.9h0M105.4 151.5h0M104.1 160.5h0M76.6 189.5h0M101.3 163.3h0M98.4 147.8h0M100.6 148.3h0M63.5 156h0M70.8 174.6h0M105.2 149.5h0M88.7 178.5h0M105.3 169.5h0M101.8 157.7h0M99.7 170.6h0M105.2 161.2h0M88.4 184.1h0M105.6 165.6h0M64.5 164h0M74.3 182.6h0M100.9 155.1h0M80.3 179.7h0M66.7 174.4h0M65.1 177.2h0M64 170.1h0M86.7 183.8h0M71.6 175.7h0M86 178.5h0M65.2 148.9h0M63.7 143.9h0M84.4 179.6h0M97.5 173.3h0M92.2 176.5h0M106.7 163h0M85.5 181h0M85.1 180h0M96.8 169h0M86.2 178.7h0M72.7 180.2h0M63.7 168.9h0M60.8 159.3h0M59.1 167.9h0M82.1 184.4h0M149.1 116.3h0M139.6 112.8h0M128.7 119.1h0M153.5 116.6h0M126 73.7h0M107.3 76.7h0M168.1 113.6h0M136.5 115h0M169.1 120.3h0M129.9 126.9h0M121.8 124.9h0M124.5 113.4h0M156.6 113.8h0M142.9 70h0M134.3 73.5h0M113.9 75.7h0M134 124.8h0M137.9 74.1h0M167.2 67.4h0M113.5 76.7h0M138.9 131.2h0M142.2 114.4h0M168.9 113.7h0M161.9 71.9h0M127.4 122.6h0M158.1 69h0M121.7 75.8h0M135.1 116.4h0M169.5 73.5h0M146.3 117.1h0M163.9 71.4h0M135 73.9h0M148.8 69.6h0M126.2 112.6h0M110.9 69.7h0M108.3 62.2h0M112.8 63.7h0M123.5 117.7h0M141.9 64.9h0M159.1 120.8h0M126.2 127.1h0M158.8 70.3h0M129.7 73.2h0M122.1 74h0M130.8 125.1h0M134.3 61.5h0M129.3 121.7h0M108.8 57.1h0M123.9 124.2h0M129.3 119.1h0M147.7 72.9h0M146.6 72.1h0M153.6 68.7h0M123.5 112.4h0M147.4 68h0M161.5 62.4h0M155.9 126.7h0M154.3 118.2h0M154 113.9h0M167.9 113.7h0M120.2 116.1h0M107.5 120h0M125.1 131.2h0M135.2 120.8h0M156.3 112.3h0M117.4 76.2h0M120.3 66h0M135.8 74.8h0M125.2 68.5h0M140.8 69.7h0M126.6 112.3h0M169.1 114.8h0M154.1 116.1h0M111.3 68.3h0M123.2 75.7h0M119.4 76.9h0M166.4 123.1h0M120.7 122.1h0M155.8 115h0M159.4 126h0M147.8 68.3h0M138.8 117.1h0M115.3 70.9h0M124.9 128.6h0M119.2 116.6h0M157.2 60.7h0M147.5 117.7h0M132.4 119.3h0M122.9 118.6h0M134.7 126.4h0M123.7 73.4h0M123.1 112.7h0M115.1 120.8h0M149.4 117.3h0M147.4 67.2h0M111.7 123.8h0M105.2 67.6h0M128.7 66.7h0M163 70.1h0M110.4 77.6h0M111.8 70.4h0M119.3 76.6h0M158.6 71.9h0M147.2 68.8h0M128.7 69.7h0M148 117.1h0M156.2 133.4h0M132.8 111.8h0M167.4 64h0M122.2 113.6h0M162.7 114h0M121.4 72.9h0M163.2 72h0M153.3 124.1h0M156.1 111.5h0M144.2 116.4h0M159.4 69.8h0M160.6 66.4h0M106.4 128.1h0M116.7 71.5h0M151.2 116.6h0M168.5 68.7h0M112.4 71.6h0M125.6 115.8h0M140.1 72.6h0M108 74.4h0M122.4 69.6h0M107.9 58.3h0M148.9 68.7h0M117.5 72h0M145.1 118.2h0M164.5 116.1h0M145.8 71.3h0M138.4 113.2h0M109.4 118.5h0M168.8 115.4h0M114 127.8h0M110.2 67.4h0M119.2 74.4h0M142.1 66.2h0M166 70.8h0M122.8 75.2h0M134.2 72h0M146.5 117.6h0M107.9 73.9h0M144 73.9h0M159.4 115.8h0M139.7 71.3h0M117.6 73.2h0M150.1 63.6h0M134.3 75.1h0M125.4 126h0M113.8 71.5h0M159.8 71.5h0M144.9 74.4h0M140 68.9h0M153.6 68.7h0M135.2 116.3h0M156.7 71.4h0M165.7 70.8h0M125.9 72h0M159 122.2h0M148.8 124.8h0M165.6 117.1h0M125.8 117.8h0M115.3 119.4h0M160.9 70.5h0M120.1 76.1h0M149.2 72.6h0M166.3 116.6h0M135.3 117.3h0M114.1 65.8h0M109.5 125.2h0M115.4 123.2h0M168.5 115.2h0M139.2 118h0M166.2 114.1h0M122.7 116.5h0M119.4 126.3h0M162.5 125.9h0M156.1 126.2h0M117.9 123.1h0M119.9 117.4h0M115.4 127.8h0M114.2 69.7h0M139.5 70.4h0M117.9 75.8h0M162.8 118.7h0M129.5 69.2h0M169.9 122.7h0M148.2 66.8h0M160.6 125.2h0M105.6 123.8h0M111 70.1h0M156.4 62.3h0M159.3 128.4h0M163.5 67.5h0M119.1 63.7h0M131.3 121.7h0M150.4 73.9h0M119.8 71.3h0M153.6 70.6h0M132.6 69.5h0M139.7 70.4h0M165.9 120.4h0M125.2 74.9h0M108.6 69.4h0M162.5 116.6h0M108.7 60.4h0M170 116h0M155.8 111.5h0M121.6 65.4h0M127.9 124.5h0M169.1 68.2h0M141.2 116.6h0M142.8 113h0M106.7 76h0M116.2 75.9h0M119.9 120.5h0M157.2 126.2h0M141.9 123h0M156.1 64.3h0M156.4 114.7h0M130.9 66.9h0M124.7 66.4h0M145.3 55.7h0M142.4 71.4h0M140.8 128.3h0M113.4 78.3h0M117 118.1h0M130.8 71h0M122.4 122.4h0M151.6 115.7h0M119.5 72.2h0M144.3 119.2h0M156.8 122.8h0M115.1 76.2h0M119.2 66.1h0M132.8 123h0M137.2 119.5h0M157.9 71.1h0M123.2 126.4h0M123.2 118.1h0M117.9 116.2h0M141.3 113.7h0M114.4 125.1h0M117.1 66.9h0M151.1 74.8h0M118.8 57.9h0M126.6 74.7h0M166.2 123.4h0M114.4 74.2h0M110.4 120.1h0M165.5 72.1h0M107.2 121h0M145.1 72.6h0M164.6 125.3h0M124.2 120.4h0M126.8 67.3h0M154.9 118.5h0M160.8 66.3h0M148 73.7h0M168.2 114.7h0M120.9 77.2h0M162.9 114.6h0M157.5 132.9h0M121.9 143.2h0M151.7 122.6h0M122.9 122.7h0M109.4 73.4h0M165 117.8h0M140.6 122.1h0M155.1 72.9h0M127.8 123.3h0M114.3 73.7h0M133.4 72.3h0M162.7 117.2h0M168.7 73.7h0M146.2 117.4h0M112.5 122.3h0M111.2 63.3h0M107.5 69.2h0M120.1 116.3h0M148.4 120.4h0M132.3 120.3h0M128.3 116h0M121.1 116.1h0M118.8 119.7h0M139.8 117.2h0M112.9 119.3h0M156.3 111.4h0M120.4 67.6h0M158.9 118.6h0M133.2 112.2h0M147.5 65.6h0M114.7 71h0M120.7 124.5h0M50.9 89.7h0M26.3 84.5h0M17.5 114h0M47.1 93.7h0M29.3 111.4h0M53.1 101.4h0M30.5 118h0M31.3 90.8h0M33.7 118.7h0M10.1 98.5h0M29.3 76.7h0M32.3 116.5h0M26.9 89h0M35.5 93.6h0M50.9 80.8h0M45.9 92.3h0M38.4 88.3h0M38.7 91.2h0M28.5 107.7h0M18.1 80.5h0M20.1 100.3h0M28 108.6h0M51.7 80.9h0M33.8 89.6h0M10.5 93.8h0M21.4 80.3h0M15.6 100.4h0M33.2 90.6h0M20.5 92.1h0M34.9 93.5h0M38.5 97.3h0M9.4 99.5h0M36.3 95.4h0M35.2 116.9h0M30.4 107.7h0M54.9 94.8h0M40.5 92.7h0M29.6 104.4h0M33.2 90.2h0M40.8 100.9h0M44.9 74.2h0M12.8 92.3h0M43.8 102.7h0M46.4 120.3h0M33.4 88.1h0M31 102.5h0M25.8 78.6h0M32.3 105.3h0M19.9 106.2h0M19.6 93.1h0M47.4 103.7h0M31.8 109.2h0M37.3 85.5h0M34.3 106.4h0M25.9 117.5h0M23.7 123.8h0M17.7 85.1h0M28 95.7h0M28.7 83.9h0M45 91.5h0M46.9 103.5h0M31.3 88.1h0M42.7 99.4h0M27.2 107.4h0M35.5 117.7h0M48.8 102h0M20.2 114.6h0M39.2 90.2h0M46.9 101.7h0M22.9 84.4h0M26.3 108.5h0M22.8 84.8h0M46.8 96.6h0M26.4 89.8h0M27 111.4h0M36.4 110.1h0M38.5 84.4h0M54.1 78.2h0M29.9 82.5h0M51.9 87.5h0M36.9 93.2h0M46.5 93.6h0M10.8 95.1h0M39 80.9h0M14.4 99h0M29 78.2h0M37.3 113.5h0M24.4 107.7h0M36.2 124.9h0M119 66.3h0M130.7 74.1h0M159.5 70.2h0M133.7 73.4h0M145 61.4h0M143.2 73.8h0M121.3 72.6h0M144.9 73.4h0M129.5 67.1h0M143.2 62.5h0M148 75.1h0M134.2 72h0M151.6 66.5h0M141.4 66.2h0M141.9 71.2h0M126.8 73.3h0M146.9 65.5h0M140.4 72h0M142.3 66.1h0M156.3 69.3h0M153.9 70.1h0M127.5 62.4h0M139.8 67.8h0M128 72.4h0M124.2 69.9h0M132.8 70h0M153.4 67.9h0M155.7 71.4h0M136.9 66.9h0M137.6 74.4h0M140 69.5h0M147.8 73.2h0M120.4 72.4h0M129.9 70.3h0M134.3 72.5h0M146.4 68.8h0M132.8 72h0M126.3 118.4h0M124.5 129.2h0M139.1 140.7h0M146.2 136.3h0M120.7 132.2h0M141.7 129.4h0M132.1 121.4h0M135.2 129.7h0M129.6 132.9h0M128.9 127.3h0M141.2 137.3h0M160.7 124.4h0M150.6 122.7h0M130.1 142.8h0M144 130h0M130.8 126.9h0M132.7 121.8h0M107.3 133.5h0M140.6 123.8h0M107.1 132.6h0M138.9 132.2h0M124.6 131.4h0M132.4 133h0M122 136.3h0M127.6 131.3h0M154.5 126.9h0M120.5 123.8h0M138.9 133.2h0M141.6 125h0M142.3 126.4h0M138.5 138h0M106.5 127.7h0M142.5 130.3h0M122.6 124.5h0M135 122.4h0M150.7 125.7h0M134.9 137.1h0M131.4 128.7h0M137.5 131.6h0M121.2 122.2h0M141.2 126.9h0M132 129.1h0M149.6 119h0M127.1 138.5h0M137.2 140.9h0M126.5 129.1h0M115.3 126.7h0M145.6 116.2h0M131.9 134.1h0M124 139h0M144.5 140.4h0M135.2 125.9h0M151.5 124.9h0M142.3 132h0M146.9 137.1h0M141.3 115.8h0M132.8 134.6h0"/><clipPath id="cl02"><path clip-rule="evenodd" d="M88 182.6L85.5 182.3L81.5 178.7L73 179.8L69.1 175L66.3 173L65.7 170L63.6 166L63.9 161.5L61.7 156L63.9 147.5L64.1 142L59.6 137L59 133.5L56.3 128.5L56.5 127L58.3 124.5L58.2 123.5L53.9 119L52.9 117L52.9 116L54.9 113L53.9 109L54.6 104.5L53.9 103.5L51 102.1L50.7 100.5L53.1 94.5L55.9 91.5L57.9 88L58.8 82.5L61 79.5L60.9 77.5L57.9 74.5L57.5 72.5L61.1 66.5L61.8 62L64 57.3L65 56.4L68 55.7L71 53.8L75.5 52.6L83.5 53L87.5 56.1L89 56.6L92.2 55L93.4 55L95.8 58.5L96.4 62L99.8 65.5L101.3 71L104 74.1L108 75L110.5 77.1L112.3 76.5L113.8 74.5L114.1 73L113 71L113.5 70.5L120 71.5L123.5 73L131.5 70.2L133.5 70.5L137 72.3L138 71.7L139 69L140 68L141 68.1L143.5 70.6L145.4 70.5L146.1 69.5L146.2 67.5L147.3 66.5L148.5 67.5L147.9 71L150 73.2L152.5 72.5L154.5 69.6L158 68.8L164.5 69.9L167 71.3L167.4 96.5L167 115.4L163.5 116.4L159.5 113.6L157.5 113.1L153 116.4L146.5 118.6L145 118L142.5 115.4L136 112.5L135.4 113L136.3 115.5L136.2 117L132.5 121.7L130 121.1L124.5 114.6L123 117.5L121.5 118.1L118 118.2L115 121.2L113.5 121.2L111 119.5L109.5 120L107.5 123L107.4 128.5L104.6 132L103.9 139.5L100 141.4L99.5 142.5L100.8 148.5L99.6 152L102.4 157L102.7 160.5L101.5 163L98.9 166L96.6 173L89.7 178.5L89.1 179.5L89.4 181.5L88 182.6ZM122.5 124.1L120.7 124L120.3 123L120.8 122L122 122.1L122.5 124.1Z"/></clipPath><g clip-path="url(#cl02)"><g filter="url(#sm)"><path fill="rgb(3,255,0)" d="M56.5 98C56.5 79 58.9 63.5 80.5 63.5C102.1 63.5 104.5 79 104.5 98C104.5 128.4 87.7 153.3 80.5 153.3C73.3 153.3 56.5 128.4 56.5 98Z"/><path fill="rgb(7,255,0)" d="M56.8 98C56.8 79.3 59.1 64 80.5 64C101.9 64 104.2 79.3 104.2 98C104.2 128.2 87.6 152.8 80.5 152.8C73.4 152.8 56.8 128.2 56.8 98Z"/><path fill="rgb(11,255,0)" d="M57 98C57 79.5 59.4 64.4 80.5 64.4C101.6 64.4 104 79.5 104 98C104 127.9 87.5 152.4 80.5 152.4C73.5 152.4 57 127.9 57 98Z"/><path fill="rgb(15,255,0)" d="M57.3 98C57.3 79.8 59.6 64.9 80.5 64.9C101.4 64.9 103.7 79.8 103.7 98C103.7 127.6 87.5 151.9 80.5 151.9C73.5 151.9 57.3 127.6 57.3 98Z"/><path fill="rgb(20,255,0)" d="M57.6 98C57.6 80.1 59.9 65.4 80.5 65.4C101.1 65.4 103.4 80.1 103.4 98C103.4 127.4 87.4 151.4 80.5 151.4C73.6 151.4 57.6 127.4 57.6 98Z"/><path fill="rgb(24,255,0)" d="M57.9 98C57.9 80.3 60.1 65.8 80.5 65.8C100.9 65.8 103.1 80.3 103.1 98C103.1 127.1 87.3 151 80.5 151C73.7 151 57.9 127.1 57.9 98Z"/><path fill="rgb(28,255,0)" d="M58.2 98C58.2 80.6 60.4 66.3 80.5 66.3C100.6 66.3 102.8 80.6 102.8 98C102.8 126.9 87.2 150.5 80.5 150.5C73.8 150.5 58.2 126.9 58.2 98Z"/><path fill="rgb(32,255,0)" d="M58.4 98C58.4 80.8 60.7 66.8 80.5 66.8C100.3 66.8 102.6 80.8 102.6 98C102.6 126.6 87.1 150 80.5 150C73.9 150 58.4 126.6 58.4 98Z"/><path fill="rgb(37,255,0)" d="M58.7 98C58.7 81.1 60.9 67.2 80.5 67.2C100.1 67.2 102.3 81.1 102.3 98C102.3 126.4 87 149.6 80.5 149.6C74 149.6 58.7 126.4 58.7 98Z"/><path fill="rgb(42,255,0)" d="M59 98C59 81.3 61.2 67.7 80.5 67.7C99.8 67.7 102 81.3 102 98C102 126.1 86.9 149.1 80.5 149.1C74.1 149.1 59 126.1 59 98Z"/><path fill="rgb(47,255,0)" d="M59.3 98C59.3 81.6 61.4 68.2 80.5 68.2C99.6 68.2 101.7 81.6 101.7 98C101.7 125.8 86.9 148.6 80.5 148.6C74.1 148.6 59.3 125.8 59.3 98Z"/><path fill="rgb(53,255,0)" d="M59.6 98C59.6 81.9 61.7 68.6 80.5 68.6C99.3 68.6 101.4 81.9 101.4 98C101.4 125.6 86.8 148.2 80.5 148.2C74.2 148.2 59.6 125.6 59.6 98Z"/><path fill="rgb(58,255,0)" d="M59.8 98C59.8 82.1 61.9 69.1 80.5 69.1C99.1 69.1 101.2 82.1 101.2 98C101.2 125.3 86.7 147.7 80.5 147.7C74.3 147.7 59.8 125.3 59.8 98Z"/><path fill="rgb(63,255,0)" d="M60.1 98C60.1 82.4 62.2 69.6 80.5 69.6C98.8 69.6 100.9 82.4 100.9 98C100.9 125.1 86.6 147.2 80.5 147.2C74.4 147.2 60.1 125.1 60.1 98Z"/><path fill="rgb(68,255,0)" d="M60.4 98C60.4 82.6 62.4 70 80.5 70C98.6 70 100.6 82.6 100.6 98C100.6 124.8 86.5 146.8 80.5 146.8C74.5 146.8 60.4 124.8 60.4 98Z"/><path fill="rgb(76,255,0)" d="M60.8 98C60.8 82.9 62.7 70.5 80.5 70.5C98.3 70.5 100.2 82.9 100.2 98C100.2 124.6 86.4 146.3 80.5 146.3C74.6 146.3 60.8 124.6 60.8 98Z"/><path fill="rgb(84,255,0)" d="M61.2 98C61.2 83.1 63.1 71 80.5 71C97.9 71 99.8 83.1 99.8 98C99.8 124.3 86.3 145.8 80.5 145.8C74.7 145.8 61.2 124.3 61.2 98Z"/><path fill="rgb(92,255,0)" d="M61.6 98C61.6 83.4 63.5 71.4 80.5 71.4C97.5 71.4 99.4 83.4 99.4 98C99.4 124 86.2 145.4 80.5 145.4C74.8 145.4 61.6 124 61.6 98Z"/><path fill="rgb(101,255,0)" d="M62 98C62 83.7 63.8 71.9 80.5 71.9C97.2 71.9 99 83.7 99 98C99 123.8 86.1 144.9 80.5 144.9C74.9 144.9 62 123.8 62 98Z"/><path fill="rgb(109,255,0)" d="M62.4 98C62.4 83.9 64.2 72.4 80.5 72.4C96.8 72.4 98.6 83.9 98.6 98C98.6 123.5 85.9 144.4 80.5 144.4C75.1 144.4 62.4 123.5 62.4 98Z"/><path fill="rgb(117,255,0)" d="M62.8 98C62.8 84.2 64.5 72.8 80.5 72.8C96.5 72.8 98.2 84.2 98.2 98C98.2 123.3 85.8 144 80.5 144C75.2 144 62.8 123.3 62.8 98Z"/><path fill="rgb(129,255,0)" d="M63.2 98C63.2 84.4 64.9 73.3 80.5 73.3C96.1 73.3 97.8 84.4 97.8 98C97.8 123 85.7 143.5 80.5 143.5C75.3 143.5 63.2 123 63.2 98Z"/><path fill="rgb(144,255,0)" d="M63.6 98C63.6 84.7 65.3 73.8 80.5 73.8C95.7 73.8 97.4 84.7 97.4 98C97.4 122.8 85.6 143 80.5 143C75.4 143 63.6 122.8 63.6 98Z"/><path fill="rgb(158,255,0)" d="M64 98C64 84.9 65.6 74.2 80.5 74.2C95.4 74.2 97 84.9 97 98C97 122.5 85.5 142.6 80.5 142.6C75.5 142.6 64 122.5 64 98Z"/><path fill="rgb(172,255,0)" d="M64.4 98C64.4 85.2 66 74.7 80.5 74.7C95 74.7 96.6 85.2 96.6 98C96.6 122.2 85.3 142.1 80.5 142.1C75.7 142.1 64.4 122.2 64.4 98Z"/><path fill="rgb(186,255,0)" d="M64.8 98C64.8 85.4 66.3 75.2 80.5 75.2C94.7 75.2 96.2 85.4 96.2 98C96.2 122 85.2 141.6 80.5 141.6C75.8 141.6 64.8 122 64.8 98Z"/><path fill="rgb(200,255,0)" d="M65.2 98C65.2 85.7 66.7 75.6 80.5 75.6C94.3 75.6 95.8 85.7 95.8 98C95.8 121.7 85.1 141.2 80.5 141.2C75.9 141.2 65.2 121.7 65.2 98Z"/><path fill="rgb(217,255,0)" d="M65.6 98C65.6 86 67.1 76.1 80.5 76.1C93.9 76.1 95.4 86 95.4 98C95.4 121.5 85 140.7 80.5 140.7C76 140.7 65.6 121.5 65.6 98Z"/><path fill="rgb(233,255,0)" d="M66 98C66 86.2 67.4 76.6 80.5 76.6C93.6 76.6 95 86.2 95 98C95 121.2 84.9 140.2 80.5 140.2C76.1 140.2 66 121.2 66 98Z"/><path fill="rgb(250,255,0)" d="M66.4 98C66.4 86.5 67.8 77 80.5 77C93.2 77 94.6 86.5 94.6 98C94.6 121 84.7 139.8 80.5 139.8C76.3 139.8 66.4 121 66.4 98Z"/><path fill="rgb(255,247,0)" d="M66.7 98C66.7 86.7 68.1 77.4 80.5 77.4C92.9 77.4 94.3 86.7 94.3 98C94.3 120.7 84.7 139.2 80.5 139.2C76.4 139.2 66.7 120.7 66.7 98Z"/><path fill="rgb(255,236,0)" d="M67.1 98.1C67.1 86.9 68.4 77.7 80.6 77.7C92.7 77.7 94 86.9 94 98.1C94 120.4 84.6 138.6 80.6 138.6C76.5 138.6 67.1 120.4 67.1 98.1Z"/><path fill="rgb(255,225,0)" d="M67.4 98.2C67.4 87.1 68.7 78 80.6 78C92.4 78 93.8 87.1 93.8 98.2C93.8 120.1 84.5 138 80.6 138C76.6 138 67.4 120.1 67.4 98.2Z"/><path fill="rgb(255,214,0)" d="M67.7 98.2C67.7 87.3 69 78.4 80.6 78.4C92.2 78.4 93.5 87.3 93.5 98.2C93.5 119.8 84.5 137.4 80.6 137.4C76.8 137.4 67.7 119.8 67.7 98.2Z"/><path fill="rgb(255,203,0)" d="M68.1 98.3C68.1 87.5 69.3 78.7 80.6 78.7C92 78.7 93.2 87.5 93.2 98.3C93.2 119.5 84.4 136.9 80.6 136.9C76.9 136.9 68.1 119.5 68.1 98.3Z"/><path fill="rgb(255,192,0)" d="M68.4 98.4C68.4 87.7 69.6 79 80.7 79C91.7 79 92.9 87.7 92.9 98.4C92.9 119.2 84.4 136.3 80.7 136.3C77 136.3 68.4 119.2 68.4 98.4Z"/><path fill="rgb(255,181,0)" d="M68.8 98.4C68.8 87.9 69.9 79.3 80.7 79.3C91.5 79.3 92.7 87.9 92.7 98.4C92.7 118.9 84.3 135.7 80.7 135.7C77.1 135.7 68.8 118.9 68.8 98.4Z"/><path fill="rgb(255,168,0)" d="M69.1 98.5C69.1 88.1 70.3 79.6 80.7 79.6C91.2 79.6 92.4 88.1 92.4 98.5C92.4 118.6 84.2 135.1 80.7 135.1C77.2 135.1 69.1 118.6 69.1 98.5Z"/><path fill="rgb(255,156,0)" d="M69.4 98.5C69.4 88.3 70.6 80 80.8 80C91 80 92.1 88.3 92.1 98.5C92.1 118.3 84.2 134.5 80.8 134.5C77.4 134.5 69.4 118.3 69.4 98.5Z"/><path fill="rgb(255,143,0)" d="M69.8 98.6C69.8 88.5 70.9 80.3 80.8 80.3C90.7 80.3 91.8 88.5 91.8 98.6C91.8 118 84.1 133.9 80.8 133.9C77.5 133.9 69.8 118 69.8 98.6Z"/><path fill="rgb(255,130,0)" d="M70.1 98.7C70.1 88.7 71.2 80.6 80.8 80.6C90.5 80.6 91.6 88.7 91.6 98.7C91.6 117.7 84.1 133.3 80.8 133.3C77.6 133.3 70.1 117.7 70.1 98.7Z"/><path fill="rgb(255,113,0)" d="M70.4 98.7C70.4 88.9 71.5 80.9 80.9 80.9C90.2 80.9 91.3 88.9 91.3 98.7C91.3 117.4 84 132.7 80.9 132.7C77.7 132.7 70.4 117.4 70.4 98.7Z"/><path fill="rgb(255,97,0)" d="M70.8 98.8C70.8 89.1 71.8 81.2 80.9 81.2C90 81.2 91 89.1 91 98.8C91 117.1 83.9 132.2 80.9 132.2C77.9 132.2 70.8 117.1 70.8 98.8Z"/><path fill="rgb(255,80,0)" d="M71.1 98.9C71.1 89.3 72.1 81.6 80.9 81.6C89.8 81.6 90.7 89.3 90.7 98.9C90.7 116.8 83.9 131.6 80.9 131.6C78 131.6 71.1 116.8 71.1 98.9Z"/><path fill="rgb(255,59,0)" d="M71.5 98.9C71.5 89.5 72.4 81.9 81 81.9C89.5 81.9 90.5 89.5 90.5 98.9C90.5 116.6 83.8 131 81 131C78.1 131 71.5 116.6 71.5 98.9Z"/><path fill="rgb(255,34,0)" d="M71.8 99C71.8 89.7 72.7 82.2 81 82.2C89.3 82.2 90.2 89.7 90.2 99C90.2 116.3 83.8 130.4 81 130.4C78.2 130.4 71.8 116.3 71.8 99Z"/><path fill="rgb(255,10,0)" d="M72.4 99.3C72.4 90.3 73.3 82.9 81.1 82.9C88.9 82.9 89.8 90.3 89.8 99.3C89.8 115.7 83.7 129.2 81.1 129.2C78.5 129.2 72.4 115.7 72.4 99.3Z"/><path fill="rgb(255,0,0)" d="M73.2 99.6C73.2 90.9 74 83.8 81.2 83.8C88.4 83.8 89.2 90.9 89.2 99.6C89.2 115 83.6 127.7 81.2 127.7C78.8 127.7 73.2 115 73.2 99.6Z"/><path fill="rgb(232,0,19)" d="M73.9 100C73.9 91.6 74.6 84.7 81.3 84.7C88 84.7 88.7 91.6 88.7 100C88.7 114.4 83.5 126.1 81.3 126.1C79.1 126.1 73.9 114.4 73.9 100Z"/><path fill="rgb(175,0,67)" d="M74.6 100.4C74.6 92.2 75.3 85.6 81.4 85.6C87.5 85.6 88.2 92.2 88.2 100.4C88.2 113.7 83.4 124.6 81.4 124.6C79.4 124.6 74.6 113.7 74.6 100.4Z"/><path fill="rgb(100,0,130)" d="M75.4 100.8C75.4 92.9 76 86.5 81.5 86.5C87 86.5 87.6 92.9 87.6 100.8C87.6 113 83.4 123.1 81.5 123.1C79.7 123.1 75.4 113 75.4 100.8Z"/><path fill="rgb(25,0,205)" d="M76.1 101.1C76.1 93.6 76.7 87.6 81.6 87.6C86.6 87.6 87.1 93.6 87.1 101.1C87.1 112.2 83.3 121.3 81.6 121.3C80 121.3 76.1 112.2 76.1 101.1Z"/><path fill="rgb(0,13,238)" d="M76.8 101.2C76.8 94.5 77.3 89 81.7 89C86.1 89 86.6 94.5 86.6 101.2C86.6 111 83.2 119 81.7 119C80.2 119 76.8 111 76.8 101.2Z"/><path fill="rgb(0,33,251)" d="M77.5 101.4C77.5 95.4 77.9 90.5 81.8 90.5C85.7 90.5 86.1 95.4 86.1 101.4C86.1 109.8 83.1 116.7 81.8 116.7C80.5 116.7 77.5 109.8 77.5 101.4Z"/><path fill="rgb(0,60,255)" d="M78.1 101.6C78.1 96.3 78.5 91.9 81.9 91.9C85.3 91.9 85.6 96.3 85.6 101.6C85.6 108.6 83 114.4 81.9 114.4C80.8 114.4 78.1 108.6 78.1 101.6Z"/><path fill="rgb(0,90,255)" d="M78.8 101.7C78.8 97.1 79.1 93.4 82 93.4C84.8 93.4 85.1 97.1 85.1 101.7C85.1 107.4 82.9 112.1 82 112.1C81 112.1 78.8 107.4 78.8 101.7Z"/><path fill="rgb(0,120,255)" d="M79.5 101.9C79.5 98 79.7 94.8 82 94.8C84.4 94.8 84.6 98 84.6 101.9C84.6 106.3 82.8 109.8 82 109.8C81.3 109.8 79.5 106.3 79.5 101.9Z"/><path fill="rgb(0,149,255)" d="M80 102C80 98.8 80.2 96.1 82.1 96.1C84 96.1 84.2 98.8 84.2 102C84.2 105.3 82.7 108 82.1 108C81.5 108 80 105.3 80 102Z"/><path fill="rgb(0,176,255)" d="M80.3 102.1C80.3 99.4 80.5 97.1 82.1 97.1C83.7 97.1 83.9 99.4 83.9 102.1C83.9 104.9 82.6 107.1 82.1 107.1C81.6 107.1 80.3 104.9 80.3 102.1Z"/><path fill="rgb(0,203,255)" d="M80.6 102.2C80.6 99.9 80.8 98.1 82.1 98.1C83.4 98.1 83.6 99.9 83.6 102.2C83.6 104.4 82.5 106.2 82.1 106.2C81.7 106.2 80.6 104.4 80.6 102.2Z"/><path fill="rgb(0,230,255)" d="M81 102.2C81 100.5 81.1 99.1 82.1 99.1C83.1 99.1 83.2 100.5 83.2 102.2C83.2 103.9 82.4 105.4 82.1 105.4C81.8 105.4 81 103.9 81 102.2Z"/><path fill="rgb(0,239,255)" d="M81.3 102.3C81.3 101.1 81.4 100.1 82.1 100.1C82.8 100.1 82.9 101.1 82.9 102.3C82.9 103.5 82.3 104.5 82.1 104.5C81.9 104.5 81.3 103.5 81.3 102.3Z"/><path fill="rgb(0,249,255)" d="M81.6 102.4C81.6 101.7 81.6 101.1 82.1 101.1C82.6 101.1 82.6 101.7 82.6 102.4C82.6 103 82.3 103.6 82.1 103.6C81.9 103.6 81.6 103 81.6 102.4Z"/></g></g>
</svg>
<path d="M616.0 32.6H624.7M616.0 249.4H625.3V257.7M708.3 250.0v7.7M791.3 250.0v7.7" stroke="#111" stroke-width="1.3" fill="none"/>
<text x="615.1" y="36.9" font-size="13" text-anchor="end">8</text>
<use href="#one" transform="translate(607.70 253.80) scale(0.00635 -0.00635)"/>
<text x="623.9" y="271.0" font-size="13" text-anchor="middle">-8</text>
<text x="708.6" y="271.0" font-size="13" text-anchor="middle">0</text>
<text x="792.9" y="271.0" font-size="13" text-anchor="middle">8</text>
<text transform="translate(708.2 23.3) scale(1 1.04)" font-size="19.45" text-anchor="middle">PDAC3 vs PDAC1</text>
<text x="709.3" y="290.3" font-size="12.95" text-anchor="middle">Log2(PDAC3/PDAC1)</text>
<text transform="translate(601.5 134.3) rotate(-90)" font-size="12.8" text-anchor="middle">Log10(Average Intensity)</text>
<svg x="101.0" y="335.7" width="167.2" height="217.6" viewBox="0 0 167.2 217.6" overflow="hidden">
<rect width="167.2" height="217.6" fill="#c9bb9b"/>
<path fill="#00ff00" fill-rule="evenodd" d="M85 177L78 177L72.8 175L69.5 170L64.6 160L65.3 158.5L65.7 153.5L67.9 150.5L72.2 142L73.2 137.5L75.7 134.5L75.2 132.5L72.2 128.5L72.4 125.5L70.2 111L70.8 107L70.2 98L72.1 83.5L74.4 79.5L75.1 76.5L74.9 68.5L77.4 63L77.5 57L79.2 48.5L81 46L84 45L87 46.2L90.8 52.5L91.6 55.5L91.5 59.5L93.2 64L91.9 70.5L92.6 74.5L91.8 80L94.8 91.5L94.1 99.5L94.8 103.5L94.1 107.5L95.4 114L94.6 117.5L94.5 121.8L93 125.5L93.1 130L91.3 133.5L90.6 138L91 139.6L94 143.2L97 149L99.3 152L99 157L99.7 160L97.6 164.5L97.5 168L96.5 170.2L90.5 173L87 176.4L85 177Z"/><path stroke="#10f010" stroke-width="3.0" stroke-linecap="round" d="M82.5 46.7h0M79.3 63.5h0M79.7 47.8h0M78.8 62.9h0M89.1 40.9h0M78.4 61.7h0M93.1 64.1h0M79.2 50.4h0M91.8 39.7h0M79.7 54.2h0M92.2 57h0M76.4 62.4h0M83 46.5h0M92.5 56.2h0M80.6 50.1h0M89.9 51.7h0M87.6 44.2h0M88.3 51.9h0M86.6 47.8h0M80 51h0M80.3 51.6h0M78.7 47.6h0M76.9 56.8h0M79.2 54.4h0M90.2 52h0M76.1 64h0M80.5 47.9h0M75.1 72.9h0M91.8 54h0M93.3 76.1h0M77 58.1h0M92.2 68h0M81.7 47.6h0M77.8 57.4h0M74.7 67.1h0M82.3 46.2h0M90.8 50.8h0M81.7 46.8h0M91.9 52.1h0M92 61.6h0M84.2 45.4h0M87.6 44.6h0M87.3 47.1h0M90.3 45h0M89 53h0M78.1 48.5h0M87.2 43.3h0M92.7 63.5h0M92.1 62.6h0M92.1 67.7h0M77.4 59.1h0M90.8 43h0M71.6 88.2h0M94.2 116.6h0M73.5 83.4h0M92.9 78h0M95 122h0M73.9 71.7h0M74 61.8h0M93 143.2h0M71.5 59.6h0M90.3 132.8h0M73.2 85.6h0M93.9 89.6h0M72.8 128h0M72.3 76.1h0M66.2 133.2h0M68 113.7h0M71.1 127.8h0M94 86.7h0M76.7 132h0M73.2 63.8h0M73.5 87.2h0M92.1 68.9h0M95.3 116.2h0M73.3 129.4h0M94.8 132.2h0M94.4 90h0M76 66.2h0M94.9 122.6h0M95.9 114h0M72.1 69.5h0M72.7 120.6h0M76.9 76.4h0M74.3 77.1h0M69.6 82.4h0M70.9 133.7h0M93.9 103.2h0M74.5 78h0M94.3 102.2h0M71.6 93.6h0M70.7 78.9h0M73.4 83.6h0M69.9 98.9h0M71.3 109.6h0M70.2 99.9h0M73.5 129.2h0M93 128.1h0M68.5 89.4h0M70.8 109.2h0M72.5 143.2h0M68.4 101h0M78.4 57.1h0M94.1 97.1h0M78.3 63.3h0M93.1 84.8h0M70.5 94.6h0M95.2 92.9h0M95.1 132.4h0M73.6 69.3h0M70.8 90.6h0M90.6 135.8h0M93.7 109.3h0M93.5 135h0M72.3 72.9h0M93.8 123.4h0M68.7 104.1h0M91.9 130.5h0M72.9 72.8h0M72 119.6h0M72.7 138h0M94.5 110.9h0M72.7 91.7h0M70.7 88.3h0M69 123.8h0M89.8 133.5h0M92.9 73.3h0M94.7 129.4h0M93.2 132.7h0M94.6 140.3h0M69.6 115.8h0M69.6 97h0M99.9 101.8h0M70.9 116.5h0M76.2 136.4h0M95.4 81.7h0M93 73.7h0M92.4 124.4h0M73.1 84.2h0M93.8 105.3h0M92.4 131.9h0M67.1 88.6h0M74 129h0M71.2 136.7h0M93.6 109.4h0M75.8 135.5h0M76.7 67.7h0M93.7 106h0M94.7 103h0M75.5 78.8h0M95.2 131.7h0M92.7 74.7h0M71.1 104.1h0M70.6 77.9h0M71.8 108.7h0M92.3 80.9h0M93.4 130.9h0M70 110.4h0M95.5 77h0M95 97.5h0M92.7 129.2h0M71.8 93.2h0M96.4 91.7h0M98.3 94.2h0M94.3 99.8h0M70.7 72.6h0M70.6 121.2h0M74.8 67.2h0M68.2 90.5h0M72.8 91.8h0M72.4 124.8h0M72.8 138.2h0M71.3 114.7h0M94.9 124.6h0M94.3 113.7h0M94.1 116.5h0M71.6 128.3h0M96.1 103.9h0M72.2 129.2h0M94.6 114.9h0M92.8 74.2h0M94.4 87.8h0M76.3 72.5h0M96.1 125.7h0M72.6 130.4h0M73.8 81.3h0M94.1 97.3h0M95.1 84.4h0M72.3 122.9h0M71.6 79.2h0M94.6 112.2h0M89.7 138.8h0M94.6 115.6h0M94.8 105h0M90.9 133.9h0M92.1 127.9h0M93.7 121h0M71.7 74.9h0M74.1 130.2h0M71.3 117.7h0M71.5 110.2h0M72.7 124.1h0M68.7 89.8h0M94.1 108.9h0M76.4 66.8h0M76 131.3h0M71.9 121.5h0M96.4 91.7h0M98.4 113.8h0M74.2 133h0M93.1 65.3h0M94.6 104.2h0M72.8 82.5h0M71.2 86.9h0M94.6 113h0M71.7 105.1h0M72.4 145h0M92.7 138.8h0M95.9 167.3h0M68.5 163.8h0M87.7 176.7h0M70 169.1h0M81.8 177h0M66.9 156.6h0M90.4 170.7h0M62.6 151.7h0M97.7 170.2h0M95.4 170.4h0M62.2 155.2h0M89.4 176.8h0M70.5 145.1h0M73.6 138.9h0M95.5 169.7h0M92.5 174.8h0M65.8 156.4h0M99.4 144.5h0M69.5 166h0M68.1 171.8h0M98 159.7h0M91.1 178h0M95.7 172.5h0M67.1 149.2h0M63 159.1h0M90.7 140.7h0M94.8 170.4h0M64.1 161h0M69.9 152.7h0M92.8 172.5h0M97.2 164.5h0M62 166h0M67.7 169.8h0M97.4 165.2h0M66.2 162.9h0M98.3 162.2h0M102.1 166.2h0M98 161.1h0M69.2 165.9h0M66.2 154.1h0M106 155.8h0M64 150.5h0M74.2 141h0M92.2 140.8h0M101.3 165.9h0M97.4 149.4h0M65.9 177.2h0M96.6 163.3h0M67.7 155.5h0M98.3 153h0M83.8 178.7h0M98.9 167.2h0M70.4 168.6h0M75.6 176.3h0M73.2 175.9h0M87 174.8h0M72.1 169.5h0M99.4 151.6h0M98.1 157.1h0M71.3 178.2h0M65.3 166.1h0M65.2 160.7h0M67.3 154.4h0M57.2 149.4h0M93.2 141.3h0M69.6 143.6h0M69.8 173.2h0M69.2 164.9h0M90.7 182.4h0M66.2 171.3h0M91.5 170.6h0M64.6 150.6h0M72.1 135h0M70.7 148.7h0M70.6 143.9h0M78.4 182.9h0M95.8 166.9h0M93.3 140.1h0M92.5 143.3h0M72.2 173.6h0M97.2 162.5h0M63.5 158.5h0M63.5 160.1h0M86.7 177.2h0M98.1 152.6h0M81.3 176.9h0M62.8 141.6h0M71.3 144.4h0M87.6 179.5h0M94.7 170.8h0M97.1 172.2h0M66.7 152.6h0M66.6 153.2h0M61.6 162.4h0M70.9 168.2h0M101 160.9h0M71 146.4h0M64 172.9h0M70.2 149.3h0M77.8 176.9h0M67.9 146.5h0M62.7 167.4h0M68.3 158.7h0M64.6 158.7h0M64.3 160.7h0M76.5 133.5h0M68 148.3h0M99.3 157.3h0M95.8 167.5h0M98.9 161h0M67.4 162h0M70.3 148.5h0M72.8 139.9h0M96.5 170.2h0M72.3 171h0M66.7 154.3h0M93.7 172.8h0M72 174h0M63.3 155.7h0M70.9 149.4h0M62.9 164.2h0M71.6 175.8h0M72 170h0M69.9 170.5h0M97.8 148.7h0M99.2 159h0M93.7 137.1h0M95 175.7h0M65.4 168.7h0M65.2 148.3h0M84.5 176h0M105.5 154.1h0M94.4 143.4h0M96.7 167.6h0M91 136.9h0M65.3 149.1h0M91 173.8h0M97.8 168.5h0M71.2 168.2h0M96.8 162.7h0M88.7 176.8h0M95.2 175.9h0M63.8 162h0M66.9 156.2h0M69.2 153.4h0M97.8 148.3h0M100.7 154.3h0M58 154.3h0M97.6 168.7h0M98.6 159.6h0M73.6 140.7h0M96.4 166.7h0M69.5 177.5h0M93.6 145.3h0M67.5 144.8h0M64.6 171h0M90.8 173.8h0M74.8 178.6h0M68.3 164.4h0M95.7 173.6h0M68 162.4h0M58.8 159h0M94.7 145.2h0M95.3 147.9h0M80.6 178.5h0M70.4 169.8h0M79.3 179.6h0M90.1 136.5h0M93 170.2h0M62.8 150.6h0M98.1 161h0M86.4 176.9h0M68.9 166.5h0M102.3 152h0M88.8 184h0M61.4 159.2h0M98 160.4h0M92.3 174h0M68.5 151.2h0M67.4 166.2h0M104.6 157.1h0M63.5 154.8h0M95.2 148.9h0M66 161.7h0M82.6 181.4h0M97.2 146.5h0M98 160.6h0M71.3 147.6h0M98.2 144.8h0M68.9 152.1h0M85.5 175.6h0M99.1 152.1h0M72.4 171.5h0M100.2 150.2h0M90.5 137.1h0M53.3 123h0M54.3 116.9h0M52.5 112.9h0M52.6 120.9h0M44.7 125.9h0M51.6 122.9h0M53.1 120.2h0M51.8 120.9h0M127 142.6h0M125.9 140.5h0M125.2 145.9h0M108.3 165.4h0"/><clipPath id="cl10"><path clip-rule="evenodd" d="M85 177L78 177L72.8 175L69.5 170L64.6 160L65.3 158.5L65.7 153.5L67.9 150.5L72.2 142L73.2 137.5L75.7 134.5L75.2 132.5L72.2 128.5L72.4 125.5L70.2 111L70.8 107L70.2 98L72.1 83.5L74.4 79.5L75.1 76.5L74.9 68.5L77.4 63L77.5 57L79.2 48.5L81 46L84 45L87 46.2L90.8 52.5L91.6 55.5L91.5 59.5L93.2 64L91.9 70.5L92.6 74.5L91.8 80L94.8 91.5L94.1 99.5L94.8 103.5L94.1 107.5L95.4 114L94.6 117.5L94.5 121.8L93 125.5L93.1 130L91.3 133.5L90.6 138L91 139.6L94 143.2L97 149L99.3 152L99 157L99.7 160L97.6 164.5L97.5 168L96.5 170.2L90.5 173L87 176.4L85 177Z"/></clipPath><g clip-path="url(#cl10)"><g filter="url(#sm)"><path fill="rgb(3,255,0)" d="M75.5 100.3C75.5 80.5 80.4 64.2 83.1 64.2C85.8 64.2 90.9 80.5 90.9 100.3C90.9 125.9 85.4 146.8 83.1 146.8C80.8 146.8 75.5 125.9 75.5 100.3Z"/><path fill="rgb(7,255,0)" d="M75.6 100.3C75.6 80.6 80.5 64.6 83.1 64.6C85.8 64.6 90.8 80.6 90.8 100.3C90.8 125.7 85.4 146.4 83.1 146.4C80.9 146.4 75.6 125.7 75.6 100.3Z"/><path fill="rgb(11,255,0)" d="M75.7 100.3C75.7 80.8 80.5 64.9 83.1 64.9C85.7 64.9 90.7 80.8 90.7 100.3C90.7 125.5 85.4 146.1 83.1 146.1C80.9 146.1 75.7 125.5 75.7 100.3Z"/><path fill="rgb(15,255,0)" d="M75.8 100.3C75.8 81 80.6 65.2 83.1 65.2C85.7 65.2 90.6 81 90.6 100.3C90.6 125.3 85.3 145.8 83.1 145.8C80.9 145.8 75.8 125.3 75.8 100.3Z"/><path fill="rgb(20,255,0)" d="M75.9 100.3C75.9 81.2 80.6 65.6 83.1 65.6C85.7 65.6 90.5 81.2 90.5 100.3C90.5 125.1 85.3 145.4 83.1 145.4C81 145.4 75.9 125.1 75.9 100.3Z"/><path fill="rgb(24,255,0)" d="M76 100.3C76 81.4 80.6 65.9 83.1 65.9C85.6 65.9 90.4 81.4 90.4 100.3C90.4 124.9 85.3 145.1 83.1 145.1C81 145.1 76 124.9 76 100.3Z"/><path fill="rgb(28,255,0)" d="M76.1 100.3C76.1 81.6 80.7 66.2 83.1 66.2C85.6 66.2 90.3 81.6 90.3 100.3C90.3 124.8 85.2 144.8 83.1 144.8C81 144.8 76.1 124.8 76.1 100.3Z"/><path fill="rgb(32,255,0)" d="M76.2 100.3C76.2 81.7 80.7 66.6 83.1 66.6C85.6 66.6 90.2 81.7 90.2 100.3C90.2 124.6 85.2 144.4 83.1 144.4C81 144.4 76.2 124.6 76.2 100.3Z"/><path fill="rgb(37,255,0)" d="M76.3 100.3C76.3 81.9 80.7 66.9 83.1 66.9C85.5 66.9 90.1 81.9 90.1 100.3C90.1 124.4 85.2 144.1 83.1 144.1C81.1 144.1 76.3 124.4 76.3 100.3Z"/><path fill="rgb(42,255,0)" d="M76.5 100.3C76.5 82.1 80.8 67.2 83.1 67.2C85.5 67.2 89.9 82.1 89.9 100.3C89.9 124.2 85.2 143.8 83.1 143.8C81.1 143.8 76.5 124.2 76.5 100.3Z"/><path fill="rgb(47,255,0)" d="M76.6 100.3C76.6 82.3 80.8 67.6 83.1 67.6C85.5 67.6 89.8 82.3 89.8 100.3C89.8 124 85.1 143.4 83.1 143.4C81.1 143.4 76.6 124 76.6 100.3Z"/><path fill="rgb(53,255,0)" d="M76.7 100.3C76.7 82.5 80.8 67.9 83.1 67.9C85.4 67.9 89.7 82.5 89.7 100.3C89.7 123.8 85.1 143.1 83.1 143.1C81.2 143.1 76.7 123.8 76.7 100.3Z"/><path fill="rgb(58,255,0)" d="M76.8 100.3C76.8 82.7 80.9 68.2 83.1 68.2C85.4 68.2 89.6 82.7 89.6 100.3C89.6 123.7 85.1 142.8 83.1 142.8C81.2 142.8 76.8 123.7 76.8 100.3Z"/><path fill="rgb(63,255,0)" d="M76.9 100.3C76.9 82.8 80.9 68.6 83.1 68.6C85.4 68.6 89.5 82.8 89.5 100.3C89.5 123.5 85 142.4 83.1 142.4C81.2 142.4 76.9 123.5 76.9 100.3Z"/><path fill="rgb(68,255,0)" d="M77 100.3C77 83 81 68.9 83.1 68.9C85.3 68.9 89.4 83 89.4 100.3C89.4 123.3 85 142.1 83.1 142.1C81.3 142.1 77 123.3 77 100.3Z"/><path fill="rgb(76,255,0)" d="M77.1 100.3C77.1 83.2 81 69.2 83.1 69.2C85.3 69.2 89.3 83.2 89.3 100.3C89.3 123.1 85 141.8 83.1 141.8C81.3 141.8 77.1 123.1 77.1 100.3Z"/><path fill="rgb(84,255,0)" d="M77.2 100.3C77.2 83.4 81.1 69.6 83.1 69.6C85.2 69.6 89.2 83.4 89.2 100.3C89.2 122.9 84.9 141.4 83.1 141.4C81.3 141.4 77.2 122.9 77.2 100.3Z"/><path fill="rgb(92,255,0)" d="M77.4 100.3C77.4 83.6 81.1 69.9 83.1 69.9C85.2 69.9 89 83.6 89 100.3C89 122.7 84.9 141.1 83.1 141.1C81.4 141.1 77.4 122.7 77.4 100.3Z"/><path fill="rgb(101,255,0)" d="M77.5 100.3C77.5 83.8 81.2 70.2 83.1 70.2C85.1 70.2 88.9 83.8 88.9 100.3C88.9 122.6 84.8 140.8 83.1 140.8C81.4 140.8 77.5 122.6 77.5 100.3Z"/><path fill="rgb(109,255,0)" d="M77.7 100.3C77.7 83.9 81.2 70.6 83.1 70.6C85.1 70.6 88.7 83.9 88.7 100.3C88.7 122.4 84.8 140.4 83.1 140.4C81.5 140.4 77.7 122.4 77.7 100.3Z"/><path fill="rgb(117,255,0)" d="M77.8 100.3C77.8 84.1 81.3 70.9 83.1 70.9C85 70.9 88.6 84.1 88.6 100.3C88.6 122.2 84.7 140.1 83.1 140.1C81.5 140.1 77.8 122.2 77.8 100.3Z"/><path fill="rgb(129,255,0)" d="M78 100.3C78 84.3 81.3 71.2 83.1 71.2C85 71.2 88.4 84.3 88.4 100.3C88.4 122 84.7 139.8 83.1 139.8C81.6 139.8 78 122 78 100.3Z"/><path fill="rgb(144,255,0)" d="M78.1 100.3C78.1 84.5 81.4 71.6 83.1 71.6C84.9 71.6 88.3 84.5 88.3 100.3C88.3 121.8 84.7 139.4 83.1 139.4C81.6 139.4 78.1 121.8 78.1 100.3Z"/><path fill="rgb(158,255,0)" d="M78.3 100.3C78.3 84.7 81.4 71.9 83.1 71.9C84.9 71.9 88.1 84.7 88.1 100.3C88.1 121.6 84.6 139.1 83.1 139.1C81.7 139.1 78.3 121.6 78.3 100.3Z"/><path fill="rgb(172,255,0)" d="M78.4 100.3C78.4 84.9 81.5 72.2 83.1 72.2C84.8 72.2 88 84.9 88 100.3C88 121.5 84.6 138.8 83.1 138.8C81.7 138.8 78.4 121.5 78.4 100.3Z"/><path fill="rgb(186,255,0)" d="M78.6 100.3C78.6 85 81.5 72.6 83.1 72.6C84.8 72.6 87.8 85 87.8 100.3C87.8 121.3 84.5 138.4 83.1 138.4C81.7 138.4 78.6 121.3 78.6 100.3Z"/><path fill="rgb(200,255,0)" d="M78.7 100.3C78.7 85.2 81.6 72.9 83.1 72.9C84.7 72.9 87.7 85.2 87.7 100.3C87.7 121.1 84.5 138.1 83.1 138.1C81.8 138.1 78.7 121.1 78.7 100.3Z"/><path fill="rgb(217,255,0)" d="M78.9 100.3C78.9 85.4 81.6 73.2 83.1 73.2C84.7 73.2 87.5 85.4 87.5 100.3C87.5 120.9 84.4 137.8 83.1 137.8C81.8 137.8 78.9 120.9 78.9 100.3Z"/><path fill="rgb(233,255,0)" d="M79 100.3C79 85.6 81.7 73.6 83.1 73.6C84.6 73.6 87.4 85.6 87.4 100.3C87.4 120.7 84.4 137.4 83.1 137.4C81.9 137.4 79 120.7 79 100.3Z"/><path fill="rgb(250,255,0)" d="M79.2 100.3C79.2 85.8 81.7 73.9 83.1 73.9C84.6 73.9 87.2 85.8 87.2 100.3C87.2 120.5 84.3 137.1 83.1 137.1C81.9 137.1 79.2 120.5 79.2 100.3Z"/><path fill="rgb(255,247,0)" d="M79.2 100.4C79.2 85.9 81.7 74.1 83.1 74.1C84.5 74.1 87.1 85.9 87.1 100.4C87.1 120.3 84.3 136.7 83.1 136.7C81.9 136.7 79.2 120.3 79.2 100.4Z"/><path fill="rgb(255,236,0)" d="M79.3 100.5C79.3 86.1 81.7 74.3 83 74.3C84.4 74.3 87 86.1 87 100.5C87 120.1 84.2 136.2 83 136.2C81.9 136.2 79.3 120.1 79.3 100.5Z"/><path fill="rgb(255,225,0)" d="M79.3 100.6C79.3 86.3 81.7 74.5 83 74.5C84.4 74.5 86.9 86.3 86.9 100.6C86.9 119.9 84.2 135.7 83 135.7C81.9 135.7 79.3 119.9 79.3 100.6Z"/><path fill="rgb(255,214,0)" d="M79.4 100.8C79.4 86.5 81.7 74.8 83 74.8C84.3 74.8 86.7 86.5 86.7 100.8C86.7 119.7 84.1 135.2 83 135.2C81.9 135.2 79.4 119.7 79.4 100.8Z"/><path fill="rgb(255,203,0)" d="M79.4 100.9C79.4 86.6 81.7 75 83 75C84.2 75 86.6 86.6 86.6 100.9C86.6 119.5 84.1 134.8 83 134.8C81.9 134.8 79.4 119.5 79.4 100.9Z"/><path fill="rgb(255,192,0)" d="M79.5 101C79.5 86.8 81.7 75.2 82.9 75.2C84.2 75.2 86.5 86.8 86.5 101C86.5 119.3 84 134.3 82.9 134.3C81.9 134.3 79.5 119.3 79.5 101Z"/><path fill="rgb(255,181,0)" d="M79.5 101.1C79.5 87 81.7 75.4 82.9 75.4C84.1 75.4 86.4 87 86.4 101.1C86.4 119.1 83.9 133.8 82.9 133.8C81.9 133.8 79.5 119.1 79.5 101.1Z"/><path fill="rgb(255,168,0)" d="M79.6 101.3C79.6 87.1 81.7 75.6 82.9 75.6C84 75.6 86.2 87.1 86.2 101.3C86.2 118.9 83.9 133.3 82.9 133.3C81.9 133.3 79.6 118.9 79.6 101.3Z"/><path fill="rgb(255,156,0)" d="M79.6 101.4C79.6 87.3 81.7 75.8 82.8 75.8C84 75.8 86.1 87.3 86.1 101.4C86.1 118.7 83.8 132.8 82.8 132.8C81.9 132.8 79.6 118.7 79.6 101.4Z"/><path fill="rgb(255,143,0)" d="M79.7 101.5C79.7 87.5 81.7 76 82.8 76C83.9 76 86 87.5 86 101.5C86 118.5 83.8 132.3 82.8 132.3C81.9 132.3 79.7 118.5 79.7 101.5Z"/><path fill="rgb(255,130,0)" d="M79.7 101.6C79.7 87.6 81.7 76.2 82.8 76.2C83.9 76.2 85.9 87.6 85.9 101.6C85.9 118.3 83.7 131.9 82.8 131.9C81.9 131.9 79.7 118.3 79.7 101.6Z"/><path fill="rgb(255,113,0)" d="M79.8 101.8C79.8 87.8 81.7 76.4 82.7 76.4C83.8 76.4 85.7 87.8 85.7 101.8C85.7 118.1 83.6 131.4 82.7 131.4C81.8 131.4 79.8 118.1 79.8 101.8Z"/><path fill="rgb(255,97,0)" d="M79.8 101.9C79.8 88 81.7 76.6 82.7 76.6C83.7 76.6 85.6 88 85.6 101.9C85.6 117.8 83.6 130.9 82.7 130.9C81.8 130.9 79.8 117.8 79.8 101.9Z"/><path fill="rgb(255,80,0)" d="M79.9 102C79.9 88.2 81.7 76.8 82.7 76.8C83.7 76.8 85.5 88.2 85.5 102C85.5 117.6 83.5 130.4 82.7 130.4C81.8 130.4 79.9 117.6 79.9 102Z"/><path fill="rgb(255,59,0)" d="M79.9 102.1C79.9 88.3 81.7 77 82.6 77C83.6 77 85.4 88.3 85.4 102.1C85.4 117.4 83.5 129.9 82.6 129.9C81.8 129.9 79.9 117.4 79.9 102.1Z"/><path fill="rgb(255,34,0)" d="M80 102.3C80 88.5 81.7 77.2 82.6 77.2C83.5 77.2 85.2 88.5 85.2 102.3C85.2 117.2 83.4 129.5 82.6 129.5C81.8 129.5 80 117.2 80 102.3Z"/><path fill="rgb(255,10,0)" d="M80 102.4C80 89.2 81.7 78.4 82.5 78.4C83.4 78.4 85 89.2 85 102.4C85 116.7 83.3 128.3 82.5 128.3C81.8 128.3 80 116.7 80 102.4Z"/><path fill="rgb(255,0,0)" d="M80.1 102.6C80.1 90.1 81.6 79.9 82.4 79.9C83.3 79.9 84.8 90.1 84.8 102.6C84.8 115.9 83.1 126.8 82.4 126.8C81.7 126.8 80.1 115.9 80.1 102.6Z"/><path fill="rgb(232,0,19)" d="M80.2 102.8C80.2 91.1 81.6 81.5 82.3 81.5C83.1 81.5 84.5 91.1 84.5 102.8C84.5 115.2 83 125.3 82.3 125.3C81.7 125.3 80.2 115.2 80.2 102.8Z"/><path fill="rgb(175,0,67)" d="M80.2 103C80.2 92 81.5 83.1 82.3 83.1C83 83.1 84.3 92 84.3 103C84.3 114.5 82.9 123.9 82.3 123.9C81.6 123.9 80.2 114.5 80.2 103Z"/><path fill="rgb(100,0,130)" d="M80.3 103.2C80.3 93 81.5 84.7 82.2 84.7C82.8 84.7 84.1 93 84.1 103.2C84.1 113.7 82.7 122.4 82.2 122.4C81.6 122.4 80.3 113.7 80.3 103.2Z"/><path fill="rgb(25,0,205)" d="M80.3 103.1C80.3 93.8 81.5 86.1 82.1 86.1C82.7 86.1 83.8 93.8 83.8 103.1C83.8 112.7 82.6 120.6 82.1 120.6C81.6 120.6 80.3 112.7 80.3 103.1Z"/><path fill="rgb(0,13,238)" d="M80.5 102.5C80.5 94.2 81.5 87.4 82.1 87.4C82.6 87.4 83.7 94.2 83.7 102.5C83.7 111.1 82.6 118 82.1 118C81.6 118 80.5 111.1 80.5 102.5Z"/><path fill="rgb(0,33,251)" d="M80.6 101.9C80.6 94.6 81.5 88.7 82.1 88.7C82.6 88.7 83.5 94.6 83.5 101.9C83.5 109.4 82.5 115.5 82.1 115.5C81.6 115.5 80.6 109.4 80.6 101.9Z"/><path fill="rgb(0,60,255)" d="M80.7 101.4C80.7 95.1 81.6 89.9 82 89.9C82.5 89.9 83.4 95.1 83.4 101.4C83.4 107.8 82.4 113 82 113C81.6 113 80.7 107.8 80.7 101.4Z"/><path fill="rgb(0,90,255)" d="M80.8 100.8C80.8 95.5 81.6 91.2 82 91.2C82.4 91.2 83.2 95.5 83.2 100.8C83.2 106.1 82.4 110.5 82 110.5C81.7 110.5 80.8 106.1 80.8 100.8Z"/><path fill="rgb(0,120,255)" d="M81 100.2C81 95.9 81.6 92.5 82 92.5C82.4 92.5 83.1 95.9 83.1 100.2C83.1 104.5 82.3 108 82 108C81.7 108 81 104.5 81 100.2Z"/><path fill="rgb(0,149,255)" d="M81.1 100C81.1 96.6 81.7 93.8 82 93.8C82.3 93.8 82.9 96.6 82.9 100C82.9 103.4 82.3 106.2 82 106.2C81.7 106.2 81.1 103.4 81.1 100Z"/><path fill="rgb(0,176,255)" d="M81.2 100.6C81.2 97.7 81.7 95.4 82 95.4C82.3 95.4 82.8 97.7 82.8 100.6C82.8 103.4 82.2 105.8 82 105.8C81.7 105.8 81.2 103.4 81.2 100.6Z"/><path fill="rgb(0,203,255)" d="M81.3 101.2C81.3 98.8 81.7 97 82 97C82.2 97 82.7 98.8 82.7 101.2C82.7 103.5 82.2 105.4 82 105.4C81.8 105.4 81.3 103.5 81.3 101.2Z"/><path fill="rgb(0,230,255)" d="M81.4 101.7C81.4 100 81.7 98.5 81.9 98.5C82.2 98.5 82.5 100 82.5 101.7C82.5 103.5 82.1 105 81.9 105C81.8 105 81.4 103.5 81.4 101.7Z"/><path fill="rgb(0,239,255)" d="M81.4 102.3C81.4 101.1 81.8 100.1 81.9 100.1C82.1 100.1 82.4 101.1 82.4 102.3C82.4 103.6 82.1 104.6 81.9 104.6C81.8 104.6 81.4 103.6 81.4 102.3Z"/><path fill="rgb(0,249,255)" d="M81.5 102.9C81.5 102.2 81.8 101.7 81.9 101.7C82 101.7 82.3 102.2 82.3 102.9C82.3 103.6 82 104.2 81.9 104.2C81.8 104.2 81.5 103.6 81.5 102.9Z"/></g></g>
</svg>
<path d="M92.3 336.3H101.0M92.3 552.7H101.6V561.0M184.6 553.3v7.7M267.6 553.3v7.7" stroke="#111" stroke-width="1.3" fill="none"/>
<text x="91.4" y="340.6" font-size="13" text-anchor="end">8</text>
<use href="#one" transform="translate(84.00 557.10) scale(0.00635 -0.00635)"/>
<text x="100.2" y="574.3" font-size="13" text-anchor="middle">-8</text>
<text x="184.9" y="574.3" font-size="13" text-anchor="middle">0</text>
<text x="269.2" y="574.3" font-size="13" text-anchor="middle">8</text>
<text transform="translate(184.8 324.8) scale(1 1.04)" font-size="19.25" text-anchor="middle">PDAC1+RNAlater</text>
<text x="184.8" y="593.6" font-size="12.95" text-anchor="middle">Log2(RNAlater/Frozen)</text>
<text transform="translate(77.8 437.4) rotate(-90)" font-size="12.8" text-anchor="middle">Log10(Average Intensity)</text>
<svg x="362.9" y="335.7" width="167.2" height="217.6" viewBox="0 0 167.2 217.6" overflow="hidden">
<rect width="167.2" height="217.6" fill="#c9bb9b"/>
<path fill="#00ff00" fill-rule="evenodd" d="M79 179.1L77.5 179L76 177.8L72.3 172L71 167.3L66.3 162L65.6 160L66.5 155.5L66.1 152L68.4 148.5L67.8 146L68.2 144L69.5 142.6L72.8 141L75 138.8L75.5 137.5L75.2 132.5L71.5 129.5L71.5 124.5L70.3 121.5L70.9 118L69.7 109.5L71.3 104.5L69.9 97.5L70.8 94L70.7 90.5L73.7 81.5L73.5 76.5L76 70.5L75.7 59.5L78.5 49L81.5 44L83.5 43.2L85 43.6L86.6 45L88.2 49.5L90.6 53.5L90.9 58L94.7 69L94.9 73L96.8 75.5L98.3 79L98.7 87L101.2 94L100 98.5L100.6 104.5L98.7 109.5L99.9 116.5L98.2 120L98.3 123.5L97.3 128L96 129.9L93.3 132L93.9 135.5L92.3 139.5L95 143.5L95.4 150L98.9 153L99.3 157.5L98 161.5L96.7 170L95 172.7L88 176.6L84 176.7L79 179.1Z"/><path stroke="#10f010" stroke-width="3.0" stroke-linecap="round" d="M86.3 49.2h0M92.1 54.3h0M87 50.1h0M91.5 61.7h0M78.3 48.1h0M77.1 60.1h0M79.3 50.1h0M80.8 43h0M77.1 64h0M82.6 47.3h0M90 56.3h0M80.6 44.8h0M84 44.5h0M86.5 46.6h0M78 54.5h0M88.9 48h0M91.2 58.9h0M93.8 62.7h0M90.5 49.2h0M85.6 42.6h0M86.5 47.1h0M82.1 45.4h0M77.4 60.2h0M81.1 49.6h0M77.2 59.5h0M89.7 52.7h0M86.5 49.4h0M93.4 66.3h0M81.8 44.4h0M92.3 61.7h0M83.4 44.1h0M75.4 65.7h0M77.9 58.4h0M81.4 49.5h0M84.7 48.3h0M83.3 47.8h0M84.8 49.3h0M80.7 48.7h0M91.5 48.4h0M84.5 45.6h0M93.8 70.7h0M82 44.6h0M92.3 65.4h0M81.5 47h0M79.9 51.1h0M81 49h0M85 45.6h0M79.4 49.3h0M78.2 50.5h0M78.1 55.7h0M91.7 62.1h0M88.5 51.9h0M87.3 48.5h0M77.8 55.2h0M87 43.9h0M84 43.3h0M86.7 34.9h0M92.6 53.9h0M86.3 45.6h0M83.5 44.3h0M77.1 63h0M71.4 115.8h0M68.5 121.7h0M71.5 109h0M71 129.6h0M74.4 74h0M70 94.7h0M73.8 135.1h0M77.4 139.1h0M98.2 119h0M77 69.4h0M92.4 134.8h0M70.2 109.5h0M72.4 139.2h0M74 56.4h0M94.7 139.3h0M73.7 66.9h0M72.5 120.8h0M93.6 135.5h0M67.7 102.3h0M70.9 101.3h0M78.9 47.4h0M71.3 78.8h0M69.8 113.4h0M101 117h0M70.1 122.9h0M71.7 131.3h0M71.5 123.6h0M66.8 91.9h0M97.8 90.9h0M70.7 75.4h0M74.2 83.6h0M74.1 80.9h0M68.6 109.7h0M97.6 124h0M71.1 100.8h0M74.8 59.3h0M92.5 133.7h0M69.3 122.7h0M75.4 75.4h0M79 52.7h0M68.8 110.6h0M70.4 114h0M97.5 108h0M73 130.5h0M70.7 70.2h0M92.9 142.7h0M70.5 84h0M95 133.8h0M70.6 95.8h0M68.5 107.3h0M72.4 127.8h0M65.1 108.9h0M76.2 70.3h0M89.7 53.4h0M73 129.2h0M72.3 85.6h0M68 134.4h0M72.3 130.4h0M98.7 136.3h0M71 91.7h0M73.9 74.3h0M73.3 130.1h0M96.3 131h0M69.7 120.1h0M72.9 88.2h0M73.1 123.7h0M73.2 77.5h0M73.9 71.5h0M69.8 105.3h0M97 85.1h0M75 84.4h0M70.2 98h0M72.1 113.4h0M97.8 111.4h0M96.6 80.4h0M68.7 122.4h0M93.7 135.5h0M75.8 61.8h0M96 140.9h0M71.6 83.8h0M68.8 94.4h0M77.4 71.8h0M95.2 128.8h0M95.1 131.2h0M95.8 128.2h0M96.6 83.6h0M76 74.3h0M74.6 77.6h0M75 63.7h0M72.8 79.9h0M76.8 135.1h0M71.7 83h0M71.1 89.7h0M72.5 121.8h0M91.8 137.5h0M74.3 80.3h0M95.8 141.5h0M67.5 80.6h0M68.9 109.2h0M70.2 112h0M70 98.5h0M73.6 77.1h0M75.9 135.5h0M72.2 68.6h0M97 128.7h0M97.2 80.7h0M98.3 111h0M73.4 69.7h0M93.8 129.9h0M98.3 85.7h0M93.9 137h0M102.4 91.9h0M86.5 46.2h0M95.6 132.4h0M69.7 98.4h0M71.8 91.7h0M71.2 90.2h0M73.1 131.4h0M70.9 118h0M94.9 69.3h0M69.5 111.2h0M98.8 83.4h0M93.8 71h0M71.8 116.1h0M92 136.6h0M65.9 117.6h0M77.4 64.1h0M73.5 76.1h0M102 98.8h0M73.1 78.4h0M100.8 104.6h0M97.6 108h0M71.7 108.3h0M76.3 132.9h0M72.7 126.6h0M99.1 84.8h0M101.5 128h0M70.3 92.2h0M70.2 122.3h0M75.8 66.5h0M97.3 111.3h0M68.3 88.4h0M71.4 115.5h0M96.8 77.3h0M91.8 134.3h0M71.3 108.4h0M69.6 119.8h0M76.4 74.2h0M69.7 97h0M72.2 90.9h0M68.2 113.9h0M69.1 72.2h0M95 171.5h0M73.8 174.6h0M94.7 172.4h0M72.3 172.1h0M86.6 174.9h0M82.1 181.4h0M65.4 152.9h0M99.3 150.4h0M93.7 173h0M63.7 163.2h0M96.6 169.8h0M81 177.6h0M63.2 151.1h0M95.1 144.7h0M99.2 152.6h0M98.8 152.8h0M80.4 178.4h0M68.3 156h0M80.5 177.2h0M71.5 167.8h0M68.1 146.6h0M69.5 142.7h0M66.4 152.9h0M97.4 150.9h0M68.6 143.7h0M58.5 149.1h0M68.2 174.4h0M97.9 154.7h0M96 164.9h0M96.5 165.7h0M67.5 161h0M85.5 180.5h0M73.6 173.4h0M65.1 161.1h0M96.9 170.4h0M94.7 136.1h0M95.7 152.9h0M68.7 145.7h0M93.3 142.3h0M76.4 173.8h0M74.4 139.3h0M96.6 165.1h0M93.7 139.6h0M83.6 176.7h0M80.3 177.3h0M63.5 161.4h0M91 173.2h0M75.4 138.6h0M77.9 178.7h0M76.7 180.8h0M77.2 175.3h0M94.7 167.8h0M101.9 170.4h0M93.6 151.5h0M90.2 185.6h0M74.6 141.6h0M87.3 180.4h0M77 176.7h0M69.4 146.3h0M94.2 172.6h0M68.4 171.5h0M75.1 174h0M68.3 147.5h0M93 138.1h0M96.6 169.8h0M71.2 171h0M95.2 144.7h0M93.4 142.6h0M78.4 177.7h0M76.2 180.7h0M98 163.1h0M62.5 150.1h0M96.6 153.1h0M66.3 144.6h0M94.5 149.8h0M99.6 140.2h0M65 171.5h0M98.1 152.5h0M100.8 150.8h0M66.6 171.6h0M73.7 170.5h0M69.3 164.3h0M72 172.3h0M86.4 177.7h0M98.3 139.7h0M68 152.2h0M65.8 149.8h0M87.9 180.1h0M67 161.8h0M73.1 169.7h0M88.4 175.1h0M93.9 147.5h0M78.7 177.6h0M103.2 146.9h0M83.3 178h0M99.2 158.9h0M77.3 177.8h0M67.9 157.4h0M68.1 178.3h0M79.3 177h0M74 178.3h0M68.9 151.6h0M66.1 156.5h0M93.3 170.4h0M65.9 158.3h0M87.8 174.1h0M99.7 168.6h0M94 171.7h0M92.9 172.6h0M68.7 143.9h0M65.4 166h0M68.5 141.1h0M94.6 173.6h0M67.8 162.4h0M69.9 146.8h0M62.2 153.9h0M108.6 166.5h0M81.7 180.2h0M97.2 160.7h0M65.3 166.3h0M93.7 143.2h0M82.2 175.8h0M86.8 176.4h0M67.8 168.2h0M78.5 178.7h0M86.7 176.2h0M69.5 166.2h0M98.8 155.1h0M63.8 163.5h0M62.1 157.7h0M101.8 160.7h0M61.4 157.5h0M99.7 159.8h0M76 175.9h0M65.8 158.7h0M100.9 162.4h0M90 175h0M88 178.8h0M93.7 173.7h0M100.2 151.3h0M99.6 154h0M98.5 174h0M73.1 177.3h0M71.2 175.3h0M68.4 151.7h0M61.7 154.6h0M94.7 149.7h0M91.3 175h0M90.7 176.2h0M73.7 142.1h0M62.3 157.3h0M100.2 158h0M96 169.8h0M96.4 178h0M96.3 145.1h0M91.5 140.5h0M102.6 153.2h0M75.9 176.9h0M66.7 161.3h0M72.8 175.9h0M86.9 176.7h0M82.4 189.4h0M99.2 156.1h0M95.6 170.3h0M67.2 151.6h0M73.9 136.5h0M103.6 153.7h0M94 169.8h0M64.9 157.1h0M72.4 140.1h0M100.7 168.4h0M70.7 171.3h0M100.7 171.5h0M89.1 177.1h0M96.2 165.8h0M74.1 172.1h0M104.9 151.8h0M74.8 140h0M96.8 154.4h0M67.8 152.9h0M94.3 169.2h0M96.3 163.9h0M98.4 163.5h0M84.8 179.8h0M96.9 167.2h0M67.9 153.3h0M99.4 141.6h0M62.4 162.5h0M68.9 146.6h0M69.1 167.2h0M70 142.4h0M96.1 168.5h0M68.5 155.4h0M99.1 164.8h0M94.5 147.1h0M77.5 182.9h0M98.6 147.8h0M70.3 142.3h0M89.7 175.4h0M85.2 174.2h0M94.9 151.2h0M95.9 153.4h0M67.5 151.7h0M72.4 139.4h0M73.1 182.9h0M45.2 120.2h0M50.3 110.9h0M60.5 124.2h0M49.4 117h0M51.1 123.6h0M46.8 121.7h0M48.7 127h0M55.4 123.2h0M51.7 114.1h0M43.1 121.2h0M112.8 113.3h0M119.8 120.9h0M113.4 124.4h0M118.6 119.5h0M114.1 106.9h0M113.6 119.5h0M112.5 106.6h0M116.2 85.5h0M107.6 97.2h0M120.9 110.8h0M111.5 130.8h0M109.4 138.8h0M111 120.4h0M119.5 153.5h0M119.9 132.6h0M105.6 124.6h0M117.2 121.6h0M109.6 150.9h0M119 117.1h0M115.5 101.8h0M100.9 115.7h0M108.1 117.8h0M103.8 124.9h0M107.8 70.1h0M107.6 129h0M111.8 118.6h0M115.6 84.2h0M117.7 119h0M115.7 61.6h0M116.5 112.6h0M100.1 94.4h0M100.6 116h0M95.6 68.9h0M98.1 89.3h0M97.8 88.5h0M98.4 87.9h0M101.9 110.9h0M97.9 128h0M100.4 123h0M96.1 78.7h0M97.9 80.1h0M99.2 81h0M100.1 79.6h0M98.3 123.9h0M100.3 92.1h0M99.9 68.1h0M101 90.2h0M99.9 95.2h0M103.4 73.7h0M99.8 97.5h0M95.5 133.2h0M98.9 107.3h0M98.4 78.7h0M103.2 89h0M97.7 126.2h0M100 105.4h0M97.1 75h0M99.2 100.5h0M94.9 70.8h0M98.7 92.2h0M97.8 85.3h0M97 73.8h0M98.9 128.8h0M94.3 76.4h0M99.9 119.8h0M102.5 94.4h0M101.6 86.2h0M98.4 127.8h0M102.5 78.7h0M98.9 83.9h0M99.5 91.3h0M94.4 75.6h0M99.4 70.9h0M98.6 89.3h0M98.7 116.4h0M96.4 134.1h0M96.7 83.7h0M100.6 102.2h0M101.4 95.4h0M94.6 74.7h0M100.3 100.5h0M99.8 88.6h0M95.6 66.1h0M101 104.8h0M101.2 94.3h0M93.8 57.5h0M93.6 70h0M98 117.8h0M101.9 108.2h0M96.1 76.4h0M100.1 105.3h0M101.6 94.8h0M99.7 109.4h0M100.1 111.9h0M99.7 101.8h0M95.5 76h0M98.5 91.2h0M99 105.3h0M93.7 72.4h0M99.5 98.3h0M96.9 74.2h0M96 75.6h0M101.4 116.3h0M96.1 77.7h0M97.7 123.3h0M101.1 71.8h0M98.9 79.5h0M100.7 95.5h0"/><clipPath id="cl11"><path clip-rule="evenodd" d="M79 179.1L77.5 179L76 177.8L72.3 172L71 167.3L66.3 162L65.6 160L66.5 155.5L66.1 152L68.4 148.5L67.8 146L68.2 144L69.5 142.6L72.8 141L75 138.8L75.5 137.5L75.2 132.5L71.5 129.5L71.5 124.5L70.3 121.5L70.9 118L69.7 109.5L71.3 104.5L69.9 97.5L70.8 94L70.7 90.5L73.7 81.5L73.5 76.5L76 70.5L75.7 59.5L78.5 49L81.5 44L83.5 43.2L85 43.6L86.6 45L88.2 49.5L90.6 53.5L90.9 58L94.7 69L94.9 73L96.8 75.5L98.3 79L98.7 87L101.2 94L100 98.5L100.6 104.5L98.7 109.5L99.9 116.5L98.2 120L98.3 123.5L97.3 128L96 129.9L93.3 132L93.9 135.5L92.3 139.5L95 143.5L95.4 150L98.9 153L99.3 157.5L98 161.5L96.7 170L95 172.7L88 176.6L84 176.7L79 179.1Z"/></clipPath><g clip-path="url(#cl11)"><g filter="url(#sm)"><path fill="rgb(3,255,0)" d="M75.7 102.3C75.7 81.4 80.3 64.2 82.2 64.2C84.1 64.2 88.7 81.4 88.7 102.3C88.7 126 84.1 145.5 82.2 145.5C80.3 145.5 75.7 126 75.7 102.3Z"/><path fill="rgb(7,255,0)" d="M75.8 102.3C75.8 81.5 80.3 64.6 82.2 64.6C84.1 64.6 88.6 81.5 88.6 102.3C88.6 125.9 84.1 145.1 82.2 145.1C80.3 145.1 75.8 125.9 75.8 102.3Z"/><path fill="rgb(11,255,0)" d="M75.9 102.3C75.9 81.7 80.3 64.9 82.2 64.9C84.1 64.9 88.5 81.7 88.5 102.3C88.5 125.7 84.1 144.8 82.2 144.8C80.3 144.8 75.9 125.7 75.9 102.3Z"/><path fill="rgb(15,255,0)" d="M76 102.3C76 81.9 80.4 65.2 82.2 65.2C84 65.2 88.4 81.9 88.4 102.3C88.4 125.5 84 144.5 82.2 144.5C80.4 144.5 76 125.5 76 102.3Z"/><path fill="rgb(20,255,0)" d="M76.1 102.3C76.1 82.1 80.4 65.6 82.2 65.6C84 65.6 88.3 82.1 88.3 102.3C88.3 125.3 84 144.1 82.2 144.1C80.4 144.1 76.1 125.3 76.1 102.3Z"/><path fill="rgb(24,255,0)" d="M76.2 102.3C76.2 82.3 80.4 65.9 82.2 65.9C84 65.9 88.2 82.3 88.2 102.3C88.2 125.1 84 143.8 82.2 143.8C80.4 143.8 76.2 125.1 76.2 102.3Z"/><path fill="rgb(28,255,0)" d="M76.3 102.3C76.3 82.5 80.4 66.2 82.2 66.2C84 66.2 88.1 82.5 88.1 102.3C88.1 124.9 84 143.5 82.2 143.5C80.4 143.5 76.3 124.9 76.3 102.3Z"/><path fill="rgb(32,255,0)" d="M76.4 102.3C76.4 82.6 80.5 66.6 82.2 66.6C83.9 66.6 88 82.6 88 102.3C88 124.8 83.9 143.1 82.2 143.1C80.5 143.1 76.4 124.8 76.4 102.3Z"/><path fill="rgb(37,255,0)" d="M76.5 102.3C76.5 82.8 80.5 66.9 82.2 66.9C83.9 66.9 87.9 82.8 87.9 102.3C87.9 124.6 83.9 142.8 82.2 142.8C80.5 142.8 76.5 124.6 76.5 102.3Z"/><path fill="rgb(42,255,0)" d="M76.7 102.3C76.7 83 80.5 67.2 82.2 67.2C83.9 67.2 87.7 83 87.7 102.3C87.7 124.4 83.9 142.5 82.2 142.5C80.5 142.5 76.7 124.4 76.7 102.3Z"/><path fill="rgb(47,255,0)" d="M76.8 102.3C76.8 83.2 80.6 67.6 82.2 67.6C83.8 67.6 87.6 83.2 87.6 102.3C87.6 124.2 83.8 142.1 82.2 142.1C80.6 142.1 76.8 124.2 76.8 102.3Z"/><path fill="rgb(53,255,0)" d="M76.9 102.3C76.9 83.4 80.6 67.9 82.2 67.9C83.8 67.9 87.5 83.4 87.5 102.3C87.5 124 83.8 141.8 82.2 141.8C80.6 141.8 76.9 124 76.9 102.3Z"/><path fill="rgb(58,255,0)" d="M77 102.3C77 83.6 80.6 68.2 82.2 68.2C83.8 68.2 87.4 83.6 87.4 102.3C87.4 123.8 83.8 141.5 82.2 141.5C80.6 141.5 77 123.8 77 102.3Z"/><path fill="rgb(63,255,0)" d="M77.1 102.3C77.1 83.7 80.7 68.6 82.2 68.6C83.7 68.6 87.3 83.7 87.3 102.3C87.3 123.7 83.7 141.1 82.2 141.1C80.7 141.1 77.1 123.7 77.1 102.3Z"/><path fill="rgb(68,255,0)" d="M77.2 102.3C77.2 83.9 80.7 68.9 82.2 68.9C83.7 68.9 87.2 83.9 87.2 102.3C87.2 123.5 83.7 140.8 82.2 140.8C80.7 140.8 77.2 123.5 77.2 102.3Z"/><path fill="rgb(76,255,0)" d="M77.3 102.3C77.3 84.1 80.7 69.2 82.2 69.2C83.7 69.2 87.1 84.1 87.1 102.3C87.1 123.3 83.7 140.5 82.2 140.5C80.7 140.5 77.3 123.3 77.3 102.3Z"/><path fill="rgb(84,255,0)" d="M77.4 102.3C77.4 84.3 80.8 69.6 82.2 69.6C83.6 69.6 87 84.3 87 102.3C87 123.1 83.6 140.1 82.2 140.1C80.8 140.1 77.4 123.1 77.4 102.3Z"/><path fill="rgb(92,255,0)" d="M77.6 102.3C77.6 84.5 80.8 69.9 82.2 69.9C83.6 69.9 86.8 84.5 86.8 102.3C86.8 122.9 83.6 139.8 82.2 139.8C80.8 139.8 77.6 122.9 77.6 102.3Z"/><path fill="rgb(101,255,0)" d="M77.7 102.3C77.7 84.7 80.9 70.2 82.2 70.2C83.5 70.2 86.7 84.7 86.7 102.3C86.7 122.7 83.5 139.5 82.2 139.5C80.9 139.5 77.7 122.7 77.7 102.3Z"/><path fill="rgb(109,255,0)" d="M77.9 102.3C77.9 84.8 80.9 70.6 82.2 70.6C83.5 70.6 86.5 84.8 86.5 102.3C86.5 122.6 83.5 139.1 82.2 139.1C80.9 139.1 77.9 122.6 77.9 102.3Z"/><path fill="rgb(117,255,0)" d="M78 102.3C78 85 80.9 70.9 82.2 70.9C83.5 70.9 86.4 85 86.4 102.3C86.4 122.4 83.5 138.8 82.2 138.8C80.9 138.8 78 122.4 78 102.3Z"/><path fill="rgb(129,255,0)" d="M78.2 102.3C78.2 85.2 81 71.2 82.2 71.2C83.4 71.2 86.2 85.2 86.2 102.3C86.2 122.2 83.4 138.5 82.2 138.5C81 138.5 78.2 122.2 78.2 102.3Z"/><path fill="rgb(144,255,0)" d="M78.3 102.3C78.3 85.4 81 71.6 82.2 71.6C83.4 71.6 86.1 85.4 86.1 102.3C86.1 122 83.4 138.1 82.2 138.1C81 138.1 78.3 122 78.3 102.3Z"/><path fill="rgb(158,255,0)" d="M78.5 102.3C78.5 85.6 81.1 71.9 82.2 71.9C83.3 71.9 85.9 85.6 85.9 102.3C85.9 121.8 83.3 137.8 82.2 137.8C81.1 137.8 78.5 121.8 78.5 102.3Z"/><path fill="rgb(172,255,0)" d="M78.6 102.3C78.6 85.8 81.1 72.2 82.2 72.2C83.3 72.2 85.8 85.8 85.8 102.3C85.8 121.6 83.3 137.5 82.2 137.5C81.1 137.5 78.6 121.6 78.6 102.3Z"/><path fill="rgb(186,255,0)" d="M78.8 102.3C78.8 85.9 81.2 72.6 82.2 72.6C83.2 72.6 85.6 85.9 85.6 102.3C85.6 121.5 83.2 137.1 82.2 137.1C81.2 137.1 78.8 121.5 78.8 102.3Z"/><path fill="rgb(200,255,0)" d="M78.9 102.3C78.9 86.1 81.2 72.9 82.2 72.9C83.2 72.9 85.5 86.1 85.5 102.3C85.5 121.3 83.2 136.8 82.2 136.8C81.2 136.8 78.9 121.3 78.9 102.3Z"/><path fill="rgb(217,255,0)" d="M79.1 102.3C79.1 86.3 81.3 73.2 82.2 73.2C83.1 73.2 85.3 86.3 85.3 102.3C85.3 121.1 83.1 136.5 82.2 136.5C81.3 136.5 79.1 121.1 79.1 102.3Z"/><path fill="rgb(233,255,0)" d="M79.2 102.3C79.2 86.5 81.3 73.6 82.2 73.6C83.1 73.6 85.2 86.5 85.2 102.3C85.2 120.9 83.1 136.1 82.2 136.1C81.3 136.1 79.2 120.9 79.2 102.3Z"/><path fill="rgb(250,255,0)" d="M79.4 102.3C79.4 86.7 81.3 73.9 82.2 73.9C83.1 73.9 85 86.7 85 102.3C85 120.7 83.1 135.8 82.2 135.8C81.3 135.8 79.4 120.7 79.4 102.3Z"/><path fill="rgb(255,247,0)" d="M79.4 102.3C79.4 86.8 81.4 74.2 82.2 74.2C83 74.2 85 86.8 85 102.3C85 120.5 83 135.4 82.2 135.4C81.4 135.4 79.4 120.5 79.4 102.3Z"/><path fill="rgb(255,236,0)" d="M79.5 102.4C79.5 87 81.4 74.4 82.2 74.4C83 74.4 84.9 87 84.9 102.4C84.9 120.4 83 135 82.2 135C81.4 135 79.5 120.4 79.5 102.4Z"/><path fill="rgb(255,225,0)" d="M79.6 102.5C79.6 87.2 81.4 74.7 82.2 74.7C83 74.7 84.9 87.2 84.9 102.5C84.9 120.2 83 134.6 82.2 134.6C81.4 134.6 79.6 120.2 79.6 102.5Z"/><path fill="rgb(255,214,0)" d="M79.6 102.5C79.6 87.3 81.4 74.9 82.2 74.9C83 74.9 84.8 87.3 84.8 102.5C84.8 120 83 134.2 82.2 134.2C81.4 134.2 79.6 120 79.6 102.5Z"/><path fill="rgb(255,203,0)" d="M79.7 102.6C79.7 87.5 81.5 75.1 82.2 75.1C83 75.1 84.8 87.5 84.8 102.6C84.8 119.8 83 133.8 82.2 133.8C81.5 133.8 79.7 119.8 79.7 102.6Z"/><path fill="rgb(255,192,0)" d="M79.7 102.7C79.7 87.7 81.5 75.4 82.2 75.4C83 75.4 84.7 87.7 84.7 102.7C84.7 119.6 83 133.4 82.2 133.4C81.5 133.4 79.7 119.6 79.7 102.7Z"/><path fill="rgb(255,181,0)" d="M79.8 102.7C79.8 87.8 81.5 75.6 82.2 75.6C83 75.6 84.7 87.8 84.7 102.7C84.7 119.4 83 133 82.2 133C81.5 133 79.8 119.4 79.8 102.7Z"/><path fill="rgb(255,168,0)" d="M79.9 102.8C79.9 88 81.5 75.9 82.2 75.9C83 75.9 84.6 88 84.6 102.8C84.6 119.2 83 132.6 82.2 132.6C81.5 132.6 79.9 119.2 79.9 102.8Z"/><path fill="rgb(255,156,0)" d="M79.9 102.8C79.9 88.1 81.6 76.1 82.3 76.1C83 76.1 84.6 88.1 84.6 102.8C84.6 119 83 132.2 82.3 132.2C81.6 132.2 79.9 119 79.9 102.8Z"/><path fill="rgb(255,143,0)" d="M80 102.9C80 88.3 81.6 76.4 82.3 76.4C82.9 76.4 84.5 88.3 84.5 102.9C84.5 118.8 82.9 131.8 82.3 131.8C81.6 131.8 80 118.8 80 102.9Z"/><path fill="rgb(255,130,0)" d="M80 103C80 88.5 81.6 76.6 82.3 76.6C82.9 76.6 84.5 88.5 84.5 103C84.5 118.6 82.9 131.4 82.3 131.4C81.6 131.4 80 118.6 80 103Z"/><path fill="rgb(255,113,0)" d="M80.1 103C80.1 88.6 81.6 76.8 82.3 76.8C82.9 76.8 84.5 88.6 84.5 103C84.5 118.4 82.9 131 82.3 131C81.6 131 80.1 118.4 80.1 103Z"/><path fill="rgb(255,97,0)" d="M80.2 103.1C80.2 88.8 81.6 77.1 82.3 77.1C82.9 77.1 84.4 88.8 84.4 103.1C84.4 118.2 82.9 130.6 82.3 130.6C81.6 130.6 80.2 118.2 80.2 103.1Z"/><path fill="rgb(255,80,0)" d="M80.2 103.2C80.2 89 81.7 77.3 82.3 77.3C82.9 77.3 84.4 89 84.4 103.2C84.4 118 82.9 130.2 82.3 130.2C81.7 130.2 80.2 118 80.2 103.2Z"/><path fill="rgb(255,59,0)" d="M80.3 103.2C80.3 89.1 81.7 77.6 82.3 77.6C82.9 77.6 84.3 89.1 84.3 103.2C84.3 117.9 82.9 129.8 82.3 129.8C81.7 129.8 80.3 117.9 80.3 103.2Z"/><path fill="rgb(255,34,0)" d="M80.3 103.3C80.3 89.3 81.7 77.8 82.3 77.8C82.9 77.8 84.3 89.3 84.3 103.3C84.3 117.7 82.9 129.4 82.3 129.4C81.7 129.4 80.3 117.7 80.3 103.3Z"/><path fill="rgb(255,10,0)" d="M80.4 103.1C80.4 89.6 81.7 78.6 82.3 78.6C82.9 78.6 84.2 89.6 84.2 103.1C84.2 116.8 82.9 128.1 82.3 128.1C81.7 128.1 80.4 116.8 80.4 103.1Z"/><path fill="rgb(255,0,0)" d="M80.5 102.7C80.5 90.1 81.7 79.7 82.3 79.7C82.8 79.7 84.1 90.1 84.1 102.7C84.1 115.6 82.8 126.2 82.3 126.2C81.7 126.2 80.5 115.6 80.5 102.7Z"/><path fill="rgb(232,0,19)" d="M80.5 102.3C80.5 90.5 81.7 80.9 82.2 80.9C82.8 80.9 84 90.5 84 102.3C84 114.5 82.8 124.4 82.2 124.4C81.7 124.4 80.5 114.5 80.5 102.3Z"/><path fill="rgb(175,0,67)" d="M80.6 101.9C80.6 90.9 81.7 82 82.2 82C82.7 82 83.9 90.9 83.9 101.9C83.9 113.3 82.7 122.6 82.2 122.6C81.7 122.6 80.6 113.3 80.6 101.9Z"/><path fill="rgb(100,0,130)" d="M80.7 101.6C80.7 91.4 81.7 83.1 82.2 83.1C82.7 83.1 83.8 91.4 83.8 101.6C83.8 112.1 82.7 120.7 82.2 120.7C81.7 120.7 80.7 112.1 80.7 101.6Z"/><path fill="rgb(25,0,205)" d="M80.7 101.2C80.7 91.9 81.8 84.3 82.2 84.3C82.6 84.3 83.7 91.9 83.7 101.2C83.7 110.9 82.6 118.7 82.2 118.7C81.8 118.7 80.7 110.9 80.7 101.2Z"/><path fill="rgb(0,13,238)" d="M80.9 100.9C80.9 92.7 81.8 85.9 82.2 85.9C82.6 85.9 83.5 92.7 83.5 100.9C83.5 109.5 82.6 116.5 82.2 116.5C81.8 116.5 80.9 109.5 80.9 100.9Z"/><path fill="rgb(0,33,251)" d="M81 100.6C81 93.4 81.8 87.5 82.2 87.5C82.6 87.5 83.4 93.4 83.4 100.6C83.4 108.1 82.6 114.2 82.2 114.2C81.8 114.2 81 108.1 81 100.6Z"/><path fill="rgb(0,60,255)" d="M81.1 100.4C81.1 94.2 81.9 89.1 82.2 89.1C82.5 89.1 83.3 94.2 83.3 100.4C83.3 106.7 82.5 111.9 82.2 111.9C81.9 111.9 81.1 106.7 81.1 100.4Z"/><path fill="rgb(0,90,255)" d="M81.2 100.1C81.2 94.9 81.9 90.7 82.2 90.7C82.5 90.7 83.2 94.9 83.2 100.1C83.2 105.4 82.5 109.7 82.2 109.7C81.9 109.7 81.2 105.4 81.2 100.1Z"/><path fill="rgb(0,120,255)" d="M81.3 99.8C81.3 95.6 81.9 92.2 82.2 92.2C82.5 92.2 83.1 95.6 83.1 99.8C83.1 104 82.5 107.4 82.2 107.4C81.9 107.4 81.3 104 81.3 99.8Z"/><path fill="rgb(0,149,255)" d="M81.4 99.7C81.4 96.4 82 93.7 82.2 93.7C82.4 93.7 83 96.4 83 99.7C83 103 82.4 105.6 82.2 105.6C82 105.6 81.4 103 81.4 99.7Z"/><path fill="rgb(0,176,255)" d="M81.5 99.8C81.5 97.1 82 94.8 82.2 94.8C82.4 94.8 82.9 97.1 82.9 99.8C82.9 102.6 82.4 104.9 82.2 104.9C82 104.9 81.5 102.6 81.5 99.8Z"/><path fill="rgb(0,203,255)" d="M81.6 100C81.6 97.8 82 95.9 82.2 95.9C82.4 95.9 82.8 97.8 82.8 100C82.8 102.3 82.4 104.1 82.2 104.1C82 104.1 81.6 102.3 81.6 100Z"/><path fill="rgb(0,230,255)" d="M81.7 100.2C81.7 98.5 82 97.1 82.2 97.1C82.4 97.1 82.7 98.5 82.7 100.2C82.7 101.9 82.4 103.3 82.2 103.3C82 103.3 81.7 101.9 81.7 100.2Z"/><path fill="rgb(0,239,255)" d="M81.8 100.4C81.8 99.2 82.1 98.2 82.2 98.2C82.3 98.2 82.6 99.2 82.6 100.4C82.6 101.6 82.3 102.6 82.2 102.6C82.1 102.6 81.8 101.6 81.8 100.4Z"/><path fill="rgb(0,249,255)" d="M81.8 100.6C81.8 99.9 82.1 99.3 82.2 99.3C82.3 99.3 82.6 99.9 82.6 100.6C82.6 101.3 82.3 101.8 82.2 101.8C82.1 101.8 81.8 101.3 81.8 100.6Z"/></g></g>
</svg>
<path d="M354.2 336.3H362.9M354.2 552.7H363.5V561.0M446.5 553.3v7.7M529.5 553.3v7.7" stroke="#111" stroke-width="1.3" fill="none"/>
<text x="353.3" y="340.6" font-size="13" text-anchor="end">8</text>
<use href="#one" transform="translate(345.90 557.10) scale(0.00635 -0.00635)"/>
<text x="362.0" y="574.3" font-size="13" text-anchor="middle">-8</text>
<text x="446.8" y="574.3" font-size="13" text-anchor="middle">0</text>
<text x="531.1" y="574.3" font-size="13" text-anchor="middle">8</text>
<text transform="translate(446.1 324.8) scale(1 1.04)" font-size="19.25" text-anchor="middle">PDAC2+RNAlater</text>
<text x="454.1" y="593.6" font-size="12.95" text-anchor="middle">Log2(RNAlater/Frozen)</text>
<text transform="translate(339.7 437.4) rotate(-90)" font-size="12.8" text-anchor="middle">Log10(Average Intensity)</text>
<svg x="624.7" y="335.7" width="167.2" height="217.6" viewBox="0 0 167.2 217.6" overflow="hidden">
<rect width="167.2" height="217.6" fill="#c9bb9b"/>
<path fill="#00ff00" fill-rule="evenodd" d="M86.5 176.6L85 177L82 175.8L76 175.4L69.2 170L66.9 165.5L65.1 156L65.9 151.5L67.2 150L71.1 147.5L73.2 141.5L73 133L72.2 130L71.8 122L70.2 118L68.9 110.5L68.9 104.5L67.7 100.5L68.5 97.5L68.4 93.5L71.7 85.5L71.5 79.5L72.5 73L74.4 66.5L74.7 57.5L76.8 52.5L77.5 48.5L79.5 47.2L83 47.1L86.8 52L88.1 60.5L91 71.5L90.1 80.5L93.1 85.5L93.4 90.5L95.2 95.5L94.6 100.5L95.5 106.5L94.9 116.5L92.7 121L93.1 126L91 131L91.5 135.5L90.7 142L91.2 144L98.4 150.5L99.4 152.5L98.7 156.5L98.9 159.5L96.9 163L97.5 164.2L99.9 165.5L98.3 170.5L92 175.3L88.5 175.5L86.5 176.6Z"/><path stroke="#10f010" stroke-width="3.0" stroke-linecap="round" d="M75.9 64.9h0M83.9 44.8h0M87.6 58.2h0M85.8 52.3h0M88.8 52.2h0M84.4 45.3h0M86.4 47.1h0M77.7 45.5h0M74.1 69.8h0M84.8 51.5h0M78.6 47.4h0M79.1 50h0M78.5 48.2h0M77.5 49.2h0M75.5 61.3h0M73.1 56.1h0M75.4 57.9h0M85.3 48.9h0M87.1 50.6h0M83.2 44.5h0M76.8 54h0M74.1 63.5h0M79.4 47.8h0M75.8 60.4h0M81.8 49.1h0M84.2 45.9h0M76.1 49.5h0M82 47.9h0M82.8 49.9h0M74.7 64.2h0M83.3 48.1h0M77.1 51.2h0M78 46.9h0M91.1 77.9h0M80.3 43h0M79.4 45.3h0M79.5 43.3h0M83.6 47.4h0M79.6 50.8h0M84.8 46.7h0M80.3 47.3h0M78.3 52.5h0M78.9 49.7h0M82.1 42.1h0M73.2 123.7h0M71.6 79.9h0M70.3 132.9h0M69.6 100.8h0M94.7 86.3h0M70.3 89.1h0M91.7 74.8h0M92.6 133.4h0M94.4 97.4h0M94.4 108.2h0M73.4 142.8h0M71 91.1h0M69.1 100.6h0M95.6 93.6h0M94.5 112.2h0M72.2 134.3h0M65.4 105.6h0M71.5 119.3h0M86 52.4h0M70.3 130.4h0M92.2 130.7h0M71.9 81.7h0M70.3 118.3h0M92 126.9h0M69.4 95.4h0M93 126.5h0M94.9 95.5h0M72.8 83.4h0M95.5 110.5h0M70.8 81.3h0M69.6 124.8h0M68.5 102.1h0M96.4 102.8h0M72.8 120.9h0M72.1 137.2h0M73.1 137.7h0M75 136.3h0M75.3 139h0M71.2 90.4h0M72.2 78.5h0M68.5 126.3h0M72.1 129.9h0M93.1 117.6h0M70.2 111.1h0M70.1 105.7h0M70.5 78.3h0M93.1 94h0M69.2 106.5h0M91.4 136.5h0M73.4 72.5h0M91 72.9h0M72.9 75.4h0M94.6 85.8h0M69.8 110.2h0M74.2 128.4h0M92.8 90.5h0M71 148.4h0M72.3 119.8h0M68.4 85h0M92.6 75.9h0M94.4 110.1h0M84.2 45.8h0M95.9 117.8h0M94.1 98.5h0M67.7 86.8h0M91.7 61.1h0M92 122.5h0M92.4 79.9h0M73.8 131.2h0M69.8 101.4h0M95.8 117.6h0M92.5 125.1h0M92.6 72.9h0M94.6 123.5h0M75.3 136.5h0M95.8 121.7h0M74 131.3h0M70.2 134.7h0M68.9 118.3h0M72.6 74.2h0M64.6 114.4h0M95.4 112.8h0M71.6 77.3h0M92.6 122.7h0M93.2 83.3h0M95.5 135h0M67.4 117.4h0M93.8 78.3h0M88.3 60.3h0M66.2 120.8h0M67.8 102.2h0M93.2 126.1h0M71.2 118.2h0M72.4 75h0M92.9 82.8h0M89.5 129.6h0M73.8 77.6h0M72.7 122.5h0M72.5 87.3h0M91.9 121h0M74.3 140.8h0M73.3 122.5h0M69.4 128.4h0M93.5 83.5h0M93 133.7h0M69.1 112.8h0M93.1 129.4h0M92 77.5h0M90.9 79.2h0M74.2 130.6h0M92 137h0M94.7 124.2h0M93.9 92.2h0M91.1 135.7h0M72.6 129.2h0M94.4 98.6h0M73.7 143.7h0M71.5 133.2h0M72.4 84.8h0M89.4 132.6h0M70.3 144.6h0M72.6 129.7h0M69.7 106.7h0M70.3 79.4h0M89.6 133.8h0M69.4 92.9h0M91.1 129.5h0M69.4 109.1h0M68 127.8h0M94.6 85h0M94.4 104.7h0M94.1 103.4h0M89.6 139.6h0M86.5 41.5h0M92 125.1h0M94.8 107.8h0M94 105.4h0M72.9 147.5h0M74.9 137.1h0M74.6 133.7h0M97 106.8h0M76.2 49.1h0M72.3 139.4h0M74.8 139.2h0M92.3 87.8h0M93.8 118h0M96 96.5h0M75.3 141.2h0M93.7 96.7h0M71.2 119.1h0M89.5 63.5h0M94 107.8h0M73.8 128.5h0M64.1 101.5h0M91.4 137.7h0M93.7 91.3h0M75 135.9h0M68.7 95.3h0M90.5 141.2h0M94.7 114h0M75.4 135h0M69.1 98.6h0M72.5 147.8h0M70.8 89.2h0M93.8 98.4h0M72.6 122.1h0M90.1 72.2h0M89.2 78.7h0M93.7 116.6h0M91 130.7h0M95.8 118.3h0M94.2 80.1h0M93.1 134.6h0M72.3 133.8h0M72 125.4h0M92.1 88.2h0M89.7 134.5h0M89.5 137.8h0M71.3 115.8h0M85.8 175.4h0M68 165.4h0M99.6 150h0M90.8 140h0M68.7 170h0M88.6 175.8h0M64.1 149.1h0M98.7 154h0M72 176.3h0M90.9 179h0M89.6 142.8h0M73.7 171.7h0M94 144.8h0M92.6 171.9h0M81.2 177.7h0M63.1 157.9h0M76.4 175.7h0M61.9 160.3h0M89.9 173.4h0M101.8 165.4h0M94.7 146.9h0M67.5 152h0M92.5 174.5h0M66.1 149h0M89.9 180.1h0M102.7 154.8h0M108.6 160.1h0M62.1 155.4h0M99.2 166.4h0M67.5 162.3h0M84.7 180.3h0M89.5 144.5h0M66.8 153.2h0M77.9 174.5h0M99.6 159.1h0M75.8 174.7h0M103.1 147.9h0M93.8 144.4h0M68.7 148.6h0M101.5 152.6h0M81.4 183.3h0M99.9 159.2h0M85.2 175h0M68.1 165.5h0M92.2 177.8h0M86 175.1h0M99.5 159.9h0M104.2 163.5h0M96 164.9h0M72.4 173.8h0M100.5 172h0M70.3 170.3h0M95.8 170.5h0M87.4 178.5h0M58.7 149.4h0M68.9 169.5h0M95.2 162.4h0M65.9 161.8h0M70.1 171.7h0M92.1 146.6h0M89.8 141.2h0M96.6 166.5h0M98.4 167.9h0M94.7 175.3h0M101.2 153.9h0M91.3 174.3h0M96.6 165.3h0M102.4 160.2h0M96 171.6h0M90.5 174.4h0M78.8 176h0M75.3 179.4h0M95.7 163.1h0M62 160.5h0M97.9 151h0M97.8 155.6h0M70.1 148.4h0M60.3 160.9h0M66.7 170.9h0M102.9 156.5h0M68.8 163.7h0M91.1 173.5h0M98 171.9h0M99 169.7h0M70.5 170.1h0M102.6 158.8h0M91.8 180.2h0M92.7 173.7h0M96.6 132.6h0M100.1 165.8h0M100.6 170.3h0M91.2 143.7h0M101.1 146.1h0M100.5 150.3h0M96.6 170.3h0M74.6 173.4h0M72.3 171.8h0M98.2 158.9h0M69.5 174.1h0M99.6 153.6h0M69.2 169.7h0M96.2 170.9h0M96.4 148.1h0M80.6 177.8h0M90.7 174.8h0M94.9 148.7h0M96.8 149h0M72.6 177.5h0M66.6 141.6h0M95.4 171.6h0M91.9 172.1h0M65.3 163.3h0M61.9 163.9h0M68.7 166.2h0M98.7 168.6h0M66.1 159.4h0M101.6 164.5h0M103.8 166.4h0M67.2 167.6h0M62.4 154.8h0M99.5 165.4h0M77.6 181.6h0M85.2 177.6h0M102.1 172h0M73 175.7h0M65.8 153h0M67.7 150h0M76.8 175.4h0M67.9 143.4h0M96.8 150h0M86.2 180.7h0M72.8 141.9h0M72.3 141.8h0M63.3 156.9h0M84.9 176.4h0M93.4 176.7h0M95.5 171.9h0M65.7 158.6h0M65.4 153.8h0M69.2 165.5h0M69 174.5h0M90.1 173h0M100.7 150.2h0M72.8 138.3h0M101.8 142.2h0M66.9 152.9h0M93.8 141.7h0M87.3 175.5h0M98.7 172.3h0M78.3 182h0M64.7 175.6h0M66.3 157.9h0M101.5 167h0M68.2 151.3h0M94.2 144h0M73.8 173.7h0M66.4 161.6h0M103.8 168.2h0M97.7 168.5h0M100.6 164.8h0M64.2 149.1h0M90.4 175.6h0M101.2 160.1h0M70.3 169.5h0M77.5 174.2h0M99.6 150.5h0M67.6 142.7h0M88.7 172.5h0M73.2 144.7h0M97.1 176.8h0M92.6 177.1h0M63.8 155.3h0M90.6 143.9h0M82 179.6h0M97 160.6h0M98.4 164.4h0M76.5 177.5h0M101.2 168.7h0M87.4 173.6h0M63.1 152.3h0M103.7 171.3h0M65.2 157.1h0M101.1 164.3h0M82.7 180.7h0M97.4 165.2h0M66.6 167.1h0M93.8 174.3h0M86.6 176.6h0M96.8 160.6h0M85.2 179.1h0M85.1 177.6h0M67 166.1h0M99 160.3h0M66.4 164.4h0M106.2 151.1h0M65.2 155.5h0M98.9 153.9h0M68.9 100.2h0M62 86.9h0M56.9 100.1h0M62.1 85.9h0M70.2 98.7h0M57.7 118.6h0M60.2 101.3h0M52.1 87.6h0M60.9 99.5h0M63.5 88.6h0M58.3 89.8h0M56.7 106.8h0M59.2 86.6h0M69.2 89.9h0M68.5 93.4h0M56.5 103.8h0M67.6 93.9h0M55.2 104.2h0M43.7 91h0M68.1 101.7h0M69.7 108.1h0M66 87.9h0M69.4 95.2h0M56.2 112h0M55.2 86.6h0M69.8 100.7h0M56.7 94.2h0M49.6 90.3h0M61.2 102.9h0M53.1 96.1h0M63.4 99.2h0M60.3 107.8h0M66.6 96.4h0M54.1 98.9h0M71.4 76.1h0M65.8 92.2h0M57.4 91.4h0M56.3 112h0M60.7 89.7h0M62.6 93.6h0M61.7 88.2h0M55.7 78.1h0M59.5 84.6h0M65.9 111.5h0M60.6 89.7h0M57.9 89.1h0M57.3 87.8h0M65 102.7h0M70.5 91.9h0M101.2 82h0M97.5 77h0M104 78.7h0M100.7 94.9h0M100.8 98h0M96.4 104.1h0M89.1 79.1h0M98 77.3h0M101.3 93.4h0M106.4 91.9h0M94.5 108.5h0M98.3 82.5h0M99.1 70.8h0M108 96.1h0M110.1 91h0M99.7 137.3h0M101.8 124.3h0M101.4 115.3h0M100.2 110.5h0M95.5 78.7h0M97.4 123.9h0M94.2 99.7h0M102.4 99.1h0M99.9 74.4h0M104.8 122.7h0M105.6 91.6h0M100.3 84.5h0M96.9 92.3h0M98.8 96.4h0M112.7 100.5h0M103 93.2h0M106.6 108.3h0M100.6 101h0M99.1 101.1h0M100.3 83h0M98.1 103.1h0M106.2 100.9h0M102.5 118.1h0M94.5 127.6h0M100.4 103.8h0M97 105.6h0M104.6 125.3h0M93.1 84.5h0M107.1 105.6h0M102.5 75.5h0M104.2 123.8h0M96 77.6h0M99.3 97.9h0M100.8 112.4h0M95.2 95.6h0M98.6 112.5h0M116.6 98.1h0M107.8 108.4h0M98.6 81h0M111.3 92.3h0M101.9 88.5h0M99.5 78.4h0M100.4 109.7h0M109.3 120.8h0M107.4 130.3h0M115.7 117.2h0M109.8 137.6h0M118.7 115.1h0M111.7 113.6h0M109.9 127.9h0M110.3 131.9h0M107.8 120.4h0M109.5 124.3h0M112.6 116.3h0M108.2 131.5h0"/><clipPath id="cl12"><path clip-rule="evenodd" d="M86.5 176.6L85 177L82 175.8L76 175.4L69.2 170L66.9 165.5L65.1 156L65.9 151.5L67.2 150L71.1 147.5L73.2 141.5L73 133L72.2 130L71.8 122L70.2 118L68.9 110.5L68.9 104.5L67.7 100.5L68.5 97.5L68.4 93.5L71.7 85.5L71.5 79.5L72.5 73L74.4 66.5L74.7 57.5L76.8 52.5L77.5 48.5L79.5 47.2L83 47.1L86.8 52L88.1 60.5L91 71.5L90.1 80.5L93.1 85.5L93.4 90.5L95.2 95.5L94.6 100.5L95.5 106.5L94.9 116.5L92.7 121L93.1 126L91 131L91.5 135.5L90.7 142L91.2 144L98.4 150.5L99.4 152.5L98.7 156.5L98.9 159.5L96.9 163L97.5 164.2L99.9 165.5L98.3 170.5L92 175.3L88.5 175.5L86.5 176.6Z"/></clipPath><g clip-path="url(#cl12)"><g filter="url(#sm)"><path fill="rgb(3,255,0)" d="M75.3 105.3C75.3 82.7 79.9 64.2 81.9 64.2C83.9 64.2 88.5 82.7 88.5 105.3C88.5 127.8 83.9 146.2 81.9 146.2C79.9 146.2 75.3 127.8 75.3 105.3Z"/><path fill="rgb(7,255,0)" d="M75.4 105.3C75.4 82.9 80 64.6 81.9 64.6C83.8 64.6 88.4 82.9 88.4 105.3C88.4 127.6 83.8 145.8 81.9 145.8C80 145.8 75.4 127.6 75.4 105.3Z"/><path fill="rgb(11,255,0)" d="M75.5 105.3C75.5 83.1 80 64.9 81.9 64.9C83.8 64.9 88.3 83.1 88.3 105.3C88.3 127.4 83.8 145.5 81.9 145.5C80 145.5 75.5 127.4 75.5 105.3Z"/><path fill="rgb(15,255,0)" d="M75.6 105.3C75.6 83.3 80 65.2 81.9 65.2C83.8 65.2 88.2 83.3 88.2 105.3C88.2 127.2 83.8 145.2 81.9 145.2C80 145.2 75.6 127.2 75.6 105.3Z"/><path fill="rgb(20,255,0)" d="M75.7 105.3C75.7 83.4 80.1 65.6 81.9 65.6C83.7 65.6 88.1 83.4 88.1 105.3C88.1 127 83.7 144.8 81.9 144.8C80.1 144.8 75.7 127 75.7 105.3Z"/><path fill="rgb(24,255,0)" d="M75.8 105.3C75.8 83.6 80.1 65.9 81.9 65.9C83.7 65.9 88 83.6 88 105.3C88 126.9 83.7 144.5 81.9 144.5C80.1 144.5 75.8 126.9 75.8 105.3Z"/><path fill="rgb(28,255,0)" d="M75.9 105.3C75.9 83.8 80.1 66.2 81.9 66.2C83.7 66.2 87.9 83.8 87.9 105.3C87.9 126.7 83.7 144.2 81.9 144.2C80.1 144.2 75.9 126.7 75.9 105.3Z"/><path fill="rgb(32,255,0)" d="M76 105.3C76 84 80.1 66.6 81.9 66.6C83.7 66.6 87.8 84 87.8 105.3C87.8 126.5 83.7 143.8 81.9 143.8C80.1 143.8 76 126.5 76 105.3Z"/><path fill="rgb(37,255,0)" d="M76.1 105.3C76.1 84.2 80.2 66.9 81.9 66.9C83.6 66.9 87.7 84.2 87.7 105.3C87.7 126.3 83.6 143.5 81.9 143.5C80.2 143.5 76.1 126.3 76.1 105.3Z"/><path fill="rgb(42,255,0)" d="M76.3 105.3C76.3 84.4 80.2 67.2 81.9 67.2C83.6 67.2 87.5 84.4 87.5 105.3C87.5 126.1 83.6 143.2 81.9 143.2C80.2 143.2 76.3 126.1 76.3 105.3Z"/><path fill="rgb(47,255,0)" d="M76.4 105.3C76.4 84.5 80.2 67.6 81.9 67.6C83.6 67.6 87.4 84.5 87.4 105.3C87.4 125.9 83.6 142.8 81.9 142.8C80.2 142.8 76.4 125.9 76.4 105.3Z"/><path fill="rgb(53,255,0)" d="M76.5 105.3C76.5 84.7 80.3 67.9 81.9 67.9C83.5 67.9 87.3 84.7 87.3 105.3C87.3 125.8 83.5 142.5 81.9 142.5C80.3 142.5 76.5 125.8 76.5 105.3Z"/><path fill="rgb(58,255,0)" d="M76.6 105.3C76.6 84.9 80.3 68.2 81.9 68.2C83.5 68.2 87.2 84.9 87.2 105.3C87.2 125.6 83.5 142.2 81.9 142.2C80.3 142.2 76.6 125.6 76.6 105.3Z"/><path fill="rgb(63,255,0)" d="M76.7 105.3C76.7 85.1 80.3 68.6 81.9 68.6C83.5 68.6 87.1 85.1 87.1 105.3C87.1 125.4 83.5 141.8 81.9 141.8C80.3 141.8 76.7 125.4 76.7 105.3Z"/><path fill="rgb(68,255,0)" d="M76.8 105.3C76.8 85.3 80.4 68.9 81.9 68.9C83.4 68.9 87 85.3 87 105.3C87 125.2 83.4 141.5 81.9 141.5C80.4 141.5 76.8 125.2 76.8 105.3Z"/><path fill="rgb(76,255,0)" d="M76.9 105.3C76.9 85.5 80.4 69.2 81.9 69.2C83.4 69.2 86.9 85.5 86.9 105.3C86.9 125 83.4 141.2 81.9 141.2C80.4 141.2 76.9 125 76.9 105.3Z"/><path fill="rgb(84,255,0)" d="M77 105.3C77 85.6 80.4 69.6 81.9 69.6C83.4 69.6 86.8 85.6 86.8 105.3C86.8 124.8 83.4 140.8 81.9 140.8C80.4 140.8 77 124.8 77 105.3Z"/><path fill="rgb(92,255,0)" d="M77.2 105.3C77.2 85.8 80.5 69.9 81.9 69.9C83.3 69.9 86.6 85.8 86.6 105.3C86.6 124.7 83.3 140.5 81.9 140.5C80.5 140.5 77.2 124.7 77.2 105.3Z"/><path fill="rgb(101,255,0)" d="M77.3 105.3C77.3 86 80.5 70.2 81.9 70.2C83.3 70.2 86.5 86 86.5 105.3C86.5 124.5 83.3 140.2 81.9 140.2C80.5 140.2 77.3 124.5 77.3 105.3Z"/><path fill="rgb(109,255,0)" d="M77.5 105.3C77.5 86.2 80.6 70.6 81.9 70.6C83.2 70.6 86.3 86.2 86.3 105.3C86.3 124.3 83.2 139.8 81.9 139.8C80.6 139.8 77.5 124.3 77.5 105.3Z"/><path fill="rgb(117,255,0)" d="M77.6 105.3C77.6 86.4 80.6 70.9 81.9 70.9C83.2 70.9 86.2 86.4 86.2 105.3C86.2 124.1 83.2 139.5 81.9 139.5C80.6 139.5 77.6 124.1 77.6 105.3Z"/><path fill="rgb(129,255,0)" d="M77.8 105.3C77.8 86.6 80.7 71.2 81.9 71.2C83.1 71.2 86 86.6 86 105.3C86 123.9 83.1 139.2 81.9 139.2C80.7 139.2 77.8 123.9 77.8 105.3Z"/><path fill="rgb(144,255,0)" d="M77.9 105.3C77.9 86.7 80.7 71.6 81.9 71.6C83.1 71.6 85.9 86.7 85.9 105.3C85.9 123.7 83.1 138.8 81.9 138.8C80.7 138.8 77.9 123.7 77.9 105.3Z"/><path fill="rgb(158,255,0)" d="M78.1 105.3C78.1 86.9 80.8 71.9 81.9 71.9C83 71.9 85.7 86.9 85.7 105.3C85.7 123.6 83 138.5 81.9 138.5C80.8 138.5 78.1 123.6 78.1 105.3Z"/><path fill="rgb(172,255,0)" d="M78.2 105.3C78.2 87.1 80.8 72.2 81.9 72.2C83 72.2 85.6 87.1 85.6 105.3C85.6 123.4 83 138.2 81.9 138.2C80.8 138.2 78.2 123.4 78.2 105.3Z"/><path fill="rgb(186,255,0)" d="M78.4 105.3C78.4 87.3 80.8 72.6 81.9 72.6C83 72.6 85.4 87.3 85.4 105.3C85.4 123.2 83 137.8 81.9 137.8C80.8 137.8 78.4 123.2 78.4 105.3Z"/><path fill="rgb(200,255,0)" d="M78.5 105.3C78.5 87.5 80.9 72.9 81.9 72.9C82.9 72.9 85.3 87.5 85.3 105.3C85.3 123 82.9 137.5 81.9 137.5C80.9 137.5 78.5 123 78.5 105.3Z"/><path fill="rgb(217,255,0)" d="M78.7 105.3C78.7 87.7 80.9 73.2 81.9 73.2C82.9 73.2 85.1 87.7 85.1 105.3C85.1 122.8 82.9 137.2 81.9 137.2C80.9 137.2 78.7 122.8 78.7 105.3Z"/><path fill="rgb(233,255,0)" d="M78.8 105.3C78.8 87.8 81 73.6 81.9 73.6C82.8 73.6 85 87.8 85 105.3C85 122.6 82.8 136.8 81.9 136.8C81 136.8 78.8 122.6 78.8 105.3Z"/><path fill="rgb(250,255,0)" d="M79 105.3C79 88 81 73.9 81.9 73.9C82.8 73.9 84.8 88 84.8 105.3C84.8 122.5 82.8 136.5 81.9 136.5C81 136.5 79 122.5 79 105.3Z"/><path fill="rgb(255,247,0)" d="M79 105.2C79 88.2 81 74.2 81.9 74.2C82.8 74.2 84.8 88.2 84.8 105.2C84.8 122.2 82.8 136.1 81.9 136.1C81 136.1 79 122.2 79 105.2Z"/><path fill="rgb(255,236,0)" d="M79.1 105.2C79.1 88.3 81.1 74.5 81.9 74.5C82.7 74.5 84.7 88.3 84.7 105.2C84.7 121.9 82.7 135.7 81.9 135.7C81.1 135.7 79.1 121.9 79.1 105.2Z"/><path fill="rgb(255,225,0)" d="M79.2 105.1C79.2 88.4 81.1 74.8 81.9 74.8C82.7 74.8 84.6 88.4 84.6 105.1C84.6 121.6 82.7 135.2 81.9 135.2C81.1 135.2 79.2 121.6 79.2 105.1Z"/><path fill="rgb(255,214,0)" d="M79.2 105C79.2 88.5 81.1 75.1 81.9 75.1C82.7 75.1 84.6 88.5 84.6 105C84.6 121.4 82.7 134.8 81.9 134.8C81.1 134.8 79.2 121.4 79.2 105Z"/><path fill="rgb(255,203,0)" d="M79.3 104.9C79.3 88.6 81.1 75.3 81.9 75.3C82.7 75.3 84.5 88.6 84.5 104.9C84.5 121.1 82.7 134.3 81.9 134.3C81.1 134.3 79.3 121.1 79.3 104.9Z"/><path fill="rgb(255,192,0)" d="M79.3 104.8C79.3 88.8 81.1 75.6 81.9 75.6C82.7 75.6 84.5 88.8 84.5 104.8C84.5 120.8 82.7 133.9 81.9 133.9C81.1 133.9 79.3 120.8 79.3 104.8Z"/><path fill="rgb(255,181,0)" d="M79.4 104.7C79.4 88.9 81.1 75.9 81.9 75.9C82.7 75.9 84.4 88.9 84.4 104.7C84.4 120.5 82.7 133.4 81.9 133.4C81.1 133.4 79.4 120.5 79.4 104.7Z"/><path fill="rgb(255,168,0)" d="M79.5 104.6C79.5 89 81.2 76.2 81.9 76.2C82.6 76.2 84.3 89 84.3 104.6C84.3 120.2 82.6 133 81.9 133C81.2 133 79.5 120.2 79.5 104.6Z"/><path fill="rgb(255,156,0)" d="M79.5 104.5C79.5 89.1 81.2 76.5 81.9 76.5C82.6 76.5 84.3 89.1 84.3 104.5C84.3 119.9 82.6 132.6 81.9 132.6C81.2 132.6 79.5 119.9 79.5 104.5Z"/><path fill="rgb(255,143,0)" d="M79.6 104.5C79.6 89.2 81.2 76.8 81.9 76.8C82.6 76.8 84.2 89.2 84.2 104.5C84.2 119.7 82.6 132.1 81.9 132.1C81.2 132.1 79.6 119.7 79.6 104.5Z"/><path fill="rgb(255,130,0)" d="M79.6 104.4C79.6 89.4 81.2 77.1 81.9 77.1C82.6 77.1 84.2 89.4 84.2 104.4C84.2 119.4 82.6 131.7 81.9 131.7C81.2 131.7 79.6 119.4 79.6 104.4Z"/><path fill="rgb(255,113,0)" d="M79.7 104.3C79.7 89.5 81.2 77.4 81.9 77.4C82.6 77.4 84.1 89.5 84.1 104.3C84.1 119.1 82.6 131.2 81.9 131.2C81.2 131.2 79.7 119.1 79.7 104.3Z"/><path fill="rgb(255,97,0)" d="M79.8 104.2C79.8 89.6 81.3 77.6 81.9 77.6C82.5 77.6 84 89.6 84 104.2C84 118.8 82.5 130.8 81.9 130.8C81.3 130.8 79.8 118.8 79.8 104.2Z"/><path fill="rgb(255,80,0)" d="M79.8 104.1C79.8 89.7 81.3 77.9 81.9 77.9C82.5 77.9 84 89.7 84 104.1C84 118.5 82.5 130.3 81.9 130.3C81.3 130.3 79.8 118.5 79.8 104.1Z"/><path fill="rgb(255,59,0)" d="M79.9 104C79.9 89.8 81.3 78.2 81.9 78.2C82.5 78.2 83.9 89.8 83.9 104C83.9 118.2 82.5 129.9 81.9 129.9C81.3 129.9 79.9 118.2 79.9 104Z"/><path fill="rgb(255,34,0)" d="M79.9 103.9C79.9 89.9 81.3 78.5 81.9 78.5C82.5 78.5 83.9 89.9 83.9 103.9C83.9 118 82.5 129.4 81.9 129.4C81.3 129.4 79.9 118 79.9 103.9Z"/><path fill="rgb(255,10,0)" d="M80 103.9C80 90.5 81.3 79.5 81.9 79.5C82.5 79.5 83.8 90.5 83.8 103.9C83.8 117.3 82.5 128.3 81.9 128.3C81.3 128.3 80 117.3 80 103.9Z"/><path fill="rgb(255,0,0)" d="M80.1 103.8C80.1 91.1 81.3 80.8 81.9 80.8C82.5 80.8 83.7 91.1 83.7 103.8C83.7 116.5 82.5 126.8 81.9 126.8C81.3 126.8 80.1 116.5 80.1 103.8Z"/><path fill="rgb(232,0,19)" d="M80.1 103.7C80.1 91.8 81.4 82.2 81.9 82.2C82.4 82.2 83.7 91.8 83.7 103.7C83.7 115.6 82.4 125.3 81.9 125.3C81.4 125.3 80.1 115.6 80.1 103.7Z"/><path fill="rgb(175,0,67)" d="M80.2 103.6C80.2 92.5 81.4 83.5 81.9 83.5C82.4 83.5 83.6 92.5 83.6 103.6C83.6 114.8 82.4 123.9 81.9 123.9C81.4 123.9 80.2 114.8 80.2 103.6Z"/><path fill="rgb(100,0,130)" d="M80.3 103.6C80.3 93.2 81.4 84.8 81.9 84.8C82.4 84.8 83.5 93.2 83.5 103.6C83.5 113.9 82.4 122.4 81.9 122.4C81.4 122.4 80.3 113.9 80.3 103.6Z"/><path fill="rgb(25,0,205)" d="M80.3 103.4C80.3 94 81.4 86.3 81.9 86.3C82.4 86.3 83.5 94 83.5 103.4C83.5 112.9 82.4 120.7 81.9 120.7C81.4 120.7 80.3 112.9 80.3 103.4Z"/><path fill="rgb(0,13,238)" d="M80.5 103.2C80.5 94.8 81.5 88 81.9 88C82.3 88 83.3 94.8 83.3 103.2C83.3 111.6 82.3 118.4 81.9 118.4C81.5 118.4 80.5 111.6 80.5 103.2Z"/><path fill="rgb(0,33,251)" d="M80.6 102.9C80.6 95.7 81.5 89.7 81.9 89.7C82.3 89.7 83.2 95.7 83.2 102.9C83.2 110.2 82.3 116.2 81.9 116.2C81.5 116.2 80.6 110.2 80.6 102.9Z"/><path fill="rgb(0,60,255)" d="M80.7 102.7C80.7 96.5 81.6 91.4 81.9 91.4C82.2 91.4 83.1 96.5 83.1 102.7C83.1 108.9 82.2 114 81.9 114C81.6 114 80.7 108.9 80.7 102.7Z"/><path fill="rgb(0,90,255)" d="M80.9 102.4C80.9 97.3 81.6 93.1 81.9 93.1C82.2 93.1 82.9 97.3 82.9 102.4C82.9 107.5 82.2 111.7 81.9 111.7C81.6 111.7 80.9 107.5 80.9 102.4Z"/><path fill="rgb(0,120,255)" d="M81 102.2C81 98.1 81.6 94.9 81.9 94.9C82.2 94.9 82.8 98.1 82.8 102.2C82.8 106.2 82.2 109.5 81.9 109.5C81.6 109.5 81 106.2 81 102.2Z"/><path fill="rgb(0,149,255)" d="M81.1 102C81.1 98.9 81.7 96.3 81.9 96.3C82.1 96.3 82.7 98.9 82.7 102C82.7 105.1 82.1 107.7 81.9 107.7C81.7 107.7 81.1 105.1 81.1 102Z"/><path fill="rgb(0,176,255)" d="M81.2 102C81.2 99.4 81.7 97.2 81.9 97.2C82.1 97.2 82.6 99.4 82.6 102C82.6 104.6 82.1 106.8 81.9 106.8C81.7 106.8 81.2 104.6 81.2 102Z"/><path fill="rgb(0,203,255)" d="M81.3 102C81.3 99.9 81.7 98.1 81.9 98.1C82.1 98.1 82.5 99.9 82.5 102C82.5 104.1 82.1 105.9 81.9 105.9C81.7 105.9 81.3 104.1 81.3 102Z"/><path fill="rgb(0,230,255)" d="M81.4 102C81.4 100.4 81.7 99 81.9 99C82.1 99 82.4 100.4 82.4 102C82.4 103.6 82.1 105 81.9 105C81.7 105 81.4 103.6 81.4 102Z"/><path fill="rgb(0,239,255)" d="M81.5 102C81.5 100.8 81.8 99.9 81.9 99.9C82 99.9 82.3 100.8 82.3 102C82.3 103.2 82 104.1 81.9 104.1C81.8 104.1 81.5 103.2 81.5 102Z"/><path fill="rgb(0,249,255)" d="M81.5 102C81.5 101.3 81.8 100.8 81.9 100.8C82 100.8 82.3 101.3 82.3 102C82.3 102.7 82 103.2 81.9 103.2C81.8 103.2 81.5 102.7 81.5 102Z"/></g></g>
</svg>
<path d="M616.0 336.3H624.7M616.0 552.7H625.3V561.0M708.3 553.3v7.7M791.3 553.3v7.7" stroke="#111" stroke-width="1.3" fill="none"/>
<text x="615.1" y="340.6" font-size="13" text-anchor="end">8</text>
<use href="#one" transform="translate(607.70 557.10) scale(0.00635 -0.00635)"/>
<text x="623.9" y="574.3" font-size="13" text-anchor="middle">-8</text>
<text x="708.6" y="574.3" font-size="13" text-anchor="middle">0</text>
<text x="792.9" y="574.3" font-size="13" text-anchor="middle">8</text>
<text transform="translate(708.2 324.8) scale(1 1.04)" font-size="19.25" text-anchor="middle">PDAC3+RNAlater</text>
<text x="708.5" y="593.6" font-size="12.95" text-anchor="middle">Log2(RNAlater/Frozen)</text>
<text transform="translate(601.5 437.4) rotate(-90)" font-size="12.8" text-anchor="middle">Log10(Average Intensity)</text>
<svg x="101.0" y="667.0" width="167.2" height="217.7" viewBox="0 0 167.2 217.7" overflow="hidden">
<rect width="167.2" height="217.7" fill="#f39a00"/>
<path fill="#00ff00" fill-rule="evenodd" d="M84.5 73.2L83.5 73.1L82.6 72L83.5 70.7L85.2 71L84.5 73.2ZM83.5 181.6L81.5 181.4L79 177.5L77 175.8L75.5 175.8L73.5 177.1L72.2 176.5L72.3 175L74.1 173L72.7 169.5L74.5 166.5L74.5 163.6L71 161.6L69 158.5L65 155.1L63.9 152.5L64 147.5L61.7 142.5L58 139.4L57.1 137L60.2 129.5L59.9 124.5L61.6 120.5L59.3 117L61.1 114L60.7 108.5L61.8 105.5L61.9 103L64.7 98.5L65.4 94L68 91.2L72.8 89L73 85.1L74.8 82.5L75.2 79.5L76.1 78L77.5 77.1L81 77.1L85 74.8L87 75.5L88.5 77L90.9 82.5L93.8 85.5L96 89.5L100 91.8L100.1 93L98.9 95.5L101 100.5L105 102.5L106.2 104.5L106 106.9L103.9 109.5L103.8 111L107.5 113.4L108.1 115L106.5 120L107.4 126.5L106.4 128L105.7 133.5L103.5 136.8L102.9 140.5L105.4 146L105.4 148L102.5 151.1L98.5 158L95.9 161L95.1 164.5L92.3 167.5L92.5 169L95.4 171L93 176L91 177.5L89.5 175.3L88 175.2L85.1 180.5L83.5 181.6Z"/><path stroke="#10f010" stroke-width="3.0" stroke-linecap="round" d="M62.4 152.5h0M69.8 82.2h0M105.2 116.2h0M99.2 154.9h0M84.2 83.9h0M57.1 135.2h0M78.6 64.3h0M100.7 138.8h0M90.3 171.8h0M74.8 86.5h0M72.4 89.4h0M87.5 82.9h0M75.8 161.5h0M92.3 81.3h0M63.3 103.2h0M94.9 95.6h0M93.4 84.2h0M108.7 113.5h0M87 78.1h0M58.8 137.6h0M91.4 167.6h0M63.5 123.2h0M64.6 161h0M94.9 95.6h0M70.3 178.3h0M72 93.7h0M104.7 139.2h0M116.4 132h0M100.8 93.5h0M101.9 81.5h0M59.5 123.2h0M99.3 94.2h0M79.3 178.5h0M65.2 151.5h0M100.2 162.1h0M75.2 171.8h0M75.4 78.7h0M60.1 115.4h0M103.9 131.7h0M70.8 158.1h0M96.8 87.3h0M63.4 152.9h0M59.3 125.9h0M108.3 128.6h0M102.6 112.5h0M62.5 133.5h0M60 130.5h0M102.2 152.9h0M108.4 90h0M67.1 88.8h0M73.2 85.4h0M71.1 93.3h0M102.3 143.9h0M63.3 150.1h0M64.9 152.6h0M64.4 143h0M76 88.6h0M83 78h0M62.3 107.8h0M91.7 170.3h0M105.3 111.6h0M60.9 133.2h0M60.3 130.8h0M58.2 119h0M81.6 82.9h0M61.7 141h0M68 100h0M61.9 110.8h0M102.9 139.3h0M65.9 100.8h0M72.4 85.2h0M55.9 109h0M102 139.1h0M86.2 76.7h0M104.3 105.7h0M93 164.6h0M108.2 130.1h0M106.8 109h0M65.3 90.7h0M106.7 101.9h0M93 86.6h0M72.2 163.7h0M65.5 94.5h0M61 110.8h0M86.7 178h0M59.7 102h0M70 171h0M72.2 91.9h0M65.7 94.7h0M95.8 92.1h0M58.1 129h0M98 92.8h0M95.3 90.2h0M106 114.9h0M69.6 73.2h0M72.3 160.6h0M93.4 171h0M75.8 79.6h0M59.7 137.3h0M85.6 68.6h0M108.7 114.6h0M70.5 158.7h0M107.2 142h0M61.9 143.7h0M103.2 136.7h0M106.2 144.1h0M98.9 167.7h0M104 104h0M104 143.6h0M61.3 124.8h0M102.6 103.4h0M97.5 97h0M105.9 127.7h0M60.9 108.2h0M99.5 99.3h0M63.1 134.4h0M103.9 97.3h0M76.1 90.5h0M104 96.3h0M66.2 162.7h0M77.9 77.7h0M103.8 133.3h0M103.4 137.4h0M88.9 75.7h0M97.3 157.4h0M74.5 86.4h0M107.9 123.3h0M64.9 93.9h0M82.4 85.1h0M76.4 170.5h0M82 178.8h0M65 156.6h0M83.3 78.8h0M68.7 101.5h0M105.8 112.8h0M99.1 97.2h0M65.7 151.2h0M92.5 88.7h0M67.9 101.2h0M99.5 154.9h0M61.5 134.8h0M77.4 75.7h0M75.1 81.5h0M90.9 166.9h0M104.6 146.5h0M94 94.1h0M95.6 75.1h0M91.9 174.7h0M85.1 71.6h0M62 124.9h0M60.5 112.5h0M86.3 176.8h0M70.7 161.4h0M91.3 87.6h0M96.8 168.9h0M64.3 92h0M62.8 134.4h0M101.7 90.9h0M70.1 91.9h0M57.7 112.3h0M70.6 91h0M90.8 81.8h0M69 156.6h0M103.2 163.2h0M65.2 164.6h0M104.2 124.6h0M82.8 77.6h0M64.3 144.6h0M61.7 98.8h0M75 88.8h0M100.5 140.2h0M100.2 157.9h0M87 81.3h0M75.8 163.7h0M63.9 159.5h0M100.6 155h0M70.2 169.5h0M69.3 91.8h0M60.5 116.7h0M94.3 71.6h0M63.1 135h0M107.4 124.1h0M105.2 122.3h0M72.9 92.6h0M60.9 141.1h0M71.7 161.2h0M74.6 91.2h0M89.9 85.5h0M64.2 115.6h0M97.4 158.2h0M97.4 88.5h0M64 112.3h0M102.8 97.8h0M91.3 173.9h0M64.4 102.8h0M61.1 84h0M93.8 91.9h0M70.1 91.7h0M83.8 85.2h0M59.4 89h0M60.6 138.7h0M77.7 77.8h0M64.7 143.1h0M102 141.2h0M62.5 108.5h0M103.3 103.2h0M60.1 125.7h0M61.8 170.6h0M73 80.2h0M63.9 119.2h0M103.8 146.2h0M78.3 78.1h0M102.4 144.5h0M93.9 162.2h0M97.1 157.7h0M93.4 88.9h0M104.3 109.7h0M102.3 136.6h0M64.4 96.3h0M79.3 78.3h0M74.2 160.6h0M60.6 117.5h0M89.5 81.8h0M70.2 170.2h0M62.1 122.9h0M81.9 82.3h0M64.7 145.1h0M101.6 103.3h0M72.8 84.7h0M69.6 100.1h0M71 83.1h0M89.9 171.3h0M105.1 104.3h0M104.4 132.4h0M110.2 150.8h0M92.6 80.7h0M71.1 169.5h0M50.5 120.1h0M60.2 146.2h0M104.6 141.7h0M110.9 129.1h0M61.4 89.8h0M93.7 88.4h0M95.2 163.2h0M100.4 153.6h0M69.3 94.7h0M60.2 130.6h0M107.7 151.9h0M76.5 84.1h0M67.2 99.3h0M98 91.6h0M98.6 93.9h0M109.6 144h0M102.8 90.5h0M65.7 94.2h0M110.5 145.9h0M112.7 137.7h0M57.1 118.1h0M110.6 147h0M94.8 163.2h0M65.9 79.6h0M110.1 166.1h0M109.6 121h0M106.2 91.5h0M118.9 122.5h0M51.9 131.2h0M60.1 105.4h0M65.3 166.7h0M67.7 156.2h0M58.8 139.3h0M64.6 145.1h0M73.2 88.8h0M110 135h0M101.9 153.9h0M66.8 154.4h0M97.5 96.7h0M96.3 184.5h0M98.1 168.5h0M107.9 114.3h0M110.8 174.7h0M58.2 134.2h0M55.1 113.9h0M93.3 90.1h0M64.3 149.4h0M89.8 85.8h0M83.4 179.2h0M106.1 101.1h0M62.6 109.4h0M65.9 153.4h0M63 119.1h0M67.6 164.3h0M111.7 115.7h0M50.9 162.4h0M68.1 169.5h0M96.4 170.7h0M54 125h0M58.9 133.6h0M38.9 150h0M67.9 160h0M105.3 103.8h0M46.3 117.8h0M56.7 136.6h0M108.8 114.6h0M107.9 137.8h0M99.2 92.1h0M60.4 107.9h0M59.9 171.4h0M101.4 90.7h0M106.1 118.4h0M61.6 146.3h0M64.3 103.6h0M107.3 118.7h0M103.1 134.7h0M105.8 115.6h0M74.8 91.6h0M69.8 91.1h0M90.8 181h0M105.4 97.6h0M93.1 87.3h0M60 122.4h0M101.9 138.1h0M53.3 152.8h0M77.1 79.7h0M108.2 106.7h0M105.5 89.6h0M105.4 110.7h0M110.7 139.1h0M92.7 91.1h0M58.9 152.1h0M60.1 146.7h0M105.4 159.3h0M66.8 97h0M60.1 152.9h0M63.3 119.7h0M64.3 161.2h0M105.4 115.6h0M72 161.9h0M111.4 137.1h0M67.8 156.5h0M93.4 92.7h0M69.4 86.2h0M74.5 86h0M107.2 110.2h0M63 140.7h0M60.1 164.3h0M112.9 132.7h0M51.5 102.2h0M65.4 98.8h0M105.2 134.4h0M51.8 161.4h0M61.8 95.9h0M113.3 111h0M67.2 163.5h0M104.7 162.6h0M81.9 182.3h0M99.7 92.5h0M118.6 105.6h0M63.2 122.2h0M98.8 87.8h0M61.2 146.1h0M104.9 128.3h0M59 116.9h0M84.3 190.4h0M52.7 142.7h0M63.8 103.5h0M102.7 162.1h0M108.3 95.4h0M108 138.3h0M62 111.9h0M63 169.8h0M56.7 148.3h0M103.3 74.8h0M103.7 95.1h0M110.8 130.2h0M52.2 96.4h0M54.6 140h0M51.3 110h0M106.5 107.6h0M61.1 107.7h0M96.9 160.2h0M102.8 162.6h0M100.4 87.4h0M68 187.9h0M106.7 145.5h0M63.7 148.9h0M92.2 84.5h0M62.6 111.7h0M67.3 93.3h0M67.4 167.6h0M51.6 112.9h0M97 181h0M109 106.5h0M65.6 99.3h0M106 148.8h0M105.5 106h0M106.6 90.5h0M47.8 107.1h0M62.1 123.1h0M116.9 162.6h0M93.5 85.3h0M103.1 113.7h0M56.8 133.1h0M73 84.8h0M62.6 113.1h0M94.3 179.8h0M87.8 169.9h0M98.3 86.8h0M103.2 97.1h0M65 97.6h0M109.7 123.8h0M76.5 90.3h0M63.5 161.2h0M114.2 139.4h0M59.8 136.7h0M110.4 88h0M110 106.5h0M63.1 174.3h0M105.8 106.3h0M63.1 104.5h0M75.4 170h0M61.4 131.7h0M100.7 153.4h0M113.3 140.3h0M106.3 113.8h0M81.9 80.1h0M106.4 116.4h0M110.9 132h0M66 89.7h0M63.1 182.5h0M61 127.2h0M105.4 133.8h0M98.6 89.4h0M61.5 104.1h0M100.6 101.5h0M96.8 164.2h0M74.5 175.3h0M117.4 132.6h0M106.5 113.2h0M59 138.2h0M110.6 141.3h0M103.8 162.4h0M108.7 144.1h0M60.9 145.3h0M95.3 166.2h0M104.8 164.5h0M96.3 164.5h0M65.1 100.9h0M64.8 159.2h0M62.3 133.6h0M95.9 159.3h0M81.7 80.1h0M83.1 179.1h0M60.1 150.1h0M62.2 142.4h0M59.1 137.9h0M59.3 119.6h0M67.1 95.8h0M73 81.7h0M96.1 158.9h0M102.4 143.5h0M107.2 147.8h0M108.7 138.1h0M97.3 168.2h0M63 87.8h0M68.9 94.9h0M53.5 141.7h0M105 116.1h0M95.1 88.6h0M51.9 131.7h0M104.4 150.7h0M111.8 133.5h0M71.4 168.1h0M65.3 155.6h0M96.9 89.5h0M55.3 163.3h0M63 103.9h0M72.5 81.1h0M72.1 76.7h0M72.7 90.7h0M73.1 92.5h0M66.1 177h0M102.7 140.7h0M102.7 154h0M62.8 117.7h0M65.9 147.4h0M106.2 148.9h0M68.4 95.5h0M110.7 126.8h0M54.7 127.1h0M62.5 103h0M96.6 158h0M106.1 122.8h0M65.7 85.5h0M114.2 116.1h0M102.6 138.2h0M58.9 147.9h0M109.8 127.2h0M103.8 155.5h0M100.5 151.7h0M109 120.8h0M60.7 116.1h0M65.6 153.8h0M104.4 104.3h0M104.6 108.1h0M61.8 122.8h0M96.3 93.2h0M107.8 102.6h0M98.7 83.5h0M110.8 131.1h0M68.9 99.5h0M69.4 156.7h0M74.9 167.1h0M104.3 126.5h0M74.1 80.7h0M64.9 150.2h0M106.4 151h0M107.9 151.9h0M91.4 167.9h0M64.3 145.5h0M91.9 72h0M98.8 92.9h0M70.3 166.5h0M61.9 126.3h0M61.6 163.6h0M98.1 94.3h0M105 123.3h0M105.1 130.1h0M60.1 136h0M75.7 177.1h0M59.2 115.2h0M107 120.8h0M73.8 86.4h0M56.8 137.8h0M52.4 143.9h0M106.2 155.6h0M62.5 114.3h0M94.6 160.4h0M106.2 128.1h0M82.7 64.9h0M66.2 152.8h0M59.5 159.2h0M82.4 83.6h0M59.8 131.3h0M59.9 155.6h0M57.3 158.8h0M58.1 146.1h0M54 132.3h0M85.7 83.9h0M111.7 141.3h0M75.3 169.8h0M93.3 77.7h0M64.2 156h0M107.8 123.1h0M54.6 119.1h0M110.8 128.3h0M62.7 139.4h0M109.1 154.7h0M68.5 91.2h0M57.6 103.9h0M54.2 113.7h0M60.4 118.2h0M57.4 143.7h0M67.7 73.2h0M104 162.6h0M65.4 153.2h0M54.4 147.7h0M105.8 95.1h0M97.2 93.4h0M79 82.4h0M70.9 164h0M105.7 119h0M75.2 177h0M99.7 98.6h0M63.8 120.2h0M113.7 116.8h0M82.5 74.2h0M64.8 141.8h0M63.3 138.3h0M105.6 135.2h0M73.3 169.8h0M114.2 115.8h0M102.1 164h0M106.5 142.4h0M115.2 105.1h0M54.4 121.5h0M102.6 113.7h0M92.4 171.2h0M110 141.5h0M107.9 125.6h0M75.8 165.7h0M107.8 109.7h0M108.2 114h0M103.6 108.4h0M62.5 128.1h0M107.7 125.6h0M56.4 118h0M67.6 160.1h0M104.4 148.8h0M95.1 93h0M63.5 157.9h0M102.3 96.6h0M105.9 126.1h0M110.2 91.5h0M69.6 159.3h0M87.3 82.3h0M63.8 139.6h0M67.5 91.3h0M111.8 136.2h0M62.7 111.4h0M60 129.7h0M108.1 133.3h0M106.7 155.3h0M113.2 115.1h0M105.6 131.6h0M64.5 161.2h0M83.7 74.2h0M53.2 136.3h0M65.9 100.3h0M110.7 126.5h0M102.5 98.4h0M102 142.4h0M60.5 140.6h0M73.2 161.6h0M110.9 154.8h0M98.3 160.6h0M64.9 101.8h0M104.7 149.9h0M113.3 133.6h0M114.3 147h0M107.5 162.5h0M107.1 132.2h0M110.2 116.5h0M39.3 146.1h0M59.2 139.3h0M101.6 80.6h0M86.4 73.7h0M108.4 126h0M97.7 94.7h0M110.9 137.2h0M57.8 126.3h0M68 94.7h0M61.6 82.2h0M108.8 154h0M61 117.5h0M60.3 115.6h0M67.5 100.2h0M61.7 96.5h0M66.3 157.9h0M84.2 179.8h0M56.7 107h0M93 86.4h0M109.4 143.8h0M59.6 119.4h0M58.4 138.8h0M94.1 174.8h0M56.8 109.4h0M76.4 164.3h0M107.9 129.9h0M70.2 166.2h0M104.3 146.8h0M109.7 127.2h0M74.1 89h0M104.8 129.5h0M48.5 148.2h0M66.5 65.4h0M62 141.9h0M49.3 126.3h0M58 140.3h0M65.4 113.2h0M56.3 109.4h0M61.7 128.5h0M54.7 148.3h0M98.5 157.5h0M110 167.8h0M106 133.8h0M90.9 87.6h0M68.1 156h0M95 92.1h0M65.6 173.5h0M59.7 124.9h0M72 160.3h0M114.8 104.8h0M98 98.3h0M65.6 103.2h0M59.1 150.2h0M108.1 116.1h0M63.8 134.7h0M62.2 125.3h0M99.2 157.8h0M110.6 140.9h0M56.2 132.4h0M91.2 177.5h0M119.2 143.2h0M103.1 155.1h0M62.6 106.4h0M57.5 135.1h0M102.6 92.8h0M91.3 79.5h0M83.3 75.3h0M84.2 64.3h0M88.4 76.6h0M86.3 64.8h0M85.2 79.1h0M80.8 75.7h0M86.8 66.8h0M78.7 82.6h0M82.3 71.6h0M77.9 75.5h0M75.8 81.1h0M89.7 81.9h0M93.7 88.1h0M83.3 79.8h0M91.9 83.7h0M91.1 79.3h0M84.9 76.7h0M90.4 68.3h0M82.9 81h0M93.3 75.2h0M92.5 66.8h0M87.5 69.7h0M82.5 78.1h0M83.2 70.6h0M83.1 69.9h0M86.7 75.1h0M93.7 85.3h0M84.1 82.6h0M87.7 80.1h0M82.9 71.7h0M84.6 71.9h0M79.6 72.3h0M94.7 64.2h0M88.7 81.9h0M83.6 66.3h0M92.9 72.2h0M89.6 74.4h0M94.6 85.7h0M76.8 72.8h0M88.4 83.1h0M80.9 79.8h0M78.8 81.4h0M84.9 78.4h0M76.8 80.3h0M77.6 79h0M92.9 69.1h0M81.6 71.4h0M76.4 85.7h0M87.6 71.7h0M77.7 78.5h0M89.5 77.8h0M87.5 69.8h0M85.5 70.6h0M78.9 80.9h0M84.8 71.6h0M79.8 79.5h0M76.5 78.3h0M90.5 73.2h0M88.6 78.4h0M87.7 79.2h0M89.7 71.2h0M82.5 77.6h0M75.5 86h0M79.6 73.7h0M82.1 72h0M84.4 72.4h0M85.9 78.4h0M80.1 66.8h0M87.1 69.3h0M84 79.3h0M93.7 79h0M86.6 74.7h0M77.1 82.6h0M91.7 83.7h0M89.8 79.3h0M87.3 78.2h0M88.6 69.9h0M87.8 78.8h0M85.5 75.9h0M92.6 171.7h0M89.4 179.4h0M84.4 180.8h0M91.5 178h0M97.9 166.8h0M67.8 171.1h0M90.5 178h0M95.7 174.3h0M103.2 168.8h0M69.3 168.4h0M83 181h0M75.1 162.8h0M102.6 166.4h0M63.2 174.8h0M100.3 169.9h0M76.6 165.5h0M98.8 169.5h0M85.6 174.6h0M87.6 173.2h0M71.7 176.4h0M95 175.7h0M73 178h0M86.5 180.2h0M79.4 176h0M73 182.9h0M91 181.8h0M71.2 173h0M82.3 184.3h0M79.8 182.3h0M92.9 175.5h0M96.2 167.3h0M77.3 176.4h0M74.5 182.2h0M89.7 172.3h0M72.7 175.5h0M76.1 172.6h0M91.1 179.1h0M91.6 172h0M71.1 169h0M72.7 174.4h0M81.2 177.3h0M89 182h0M67.5 171.3h0M91.9 167.1h0M91.6 183h0M87.6 172.7h0M74.8 176.6h0M77.1 173.9h0M93.6 164.2h0M73.5 172.7h0M76.8 163.7h0M73.2 178.3h0M90.6 183.3h0M84.7 176.2h0M85.6 176.5h0M72 175.8h0M88 173.1h0M73 176.9h0M85.8 182.6h0M73.9 176.5h0M97.2 172.1h0M98.8 168.6h0M93.5 171.9h0M86.1 176.7h0M95.8 171.6h0M91.3 175h0M82.4 181.8h0M71.2 166.6h0M91.4 176.3h0M74.9 173.5h0M95 172.1h0M95.5 171.1h0M84.8 181.2h0M71.4 160.8h0M81 182.4h0M72.8 182.2h0M77.7 174.1h0M89.7 169.4h0M72 178.7h0M88.4 168.4h0M75.9 171.5h0M100.2 171.5h0M87.7 172.3h0M92.2 166.5h0M93.1 174.6h0M80.8 179.2h0M89 171.1h0M87.3 174.3h0M80 176.7h0M95.4 163.7h0M78.3 173.6h0M77.6 173.5h0M91.1 171.1h0M84 179.9h0M97.6 180.2h0M60.5 170.9h0M70.3 175.9h0M84 182.2h0M98.5 169.9h0M72.1 160.9h0M93.1 182.9h0M85.1 179.1h0M100 172h0M92.7 170.3h0M81.3 177.4h0M95.3 177h0M73.4 175.8h0M92.7 176.5h0M92.4 165.2h0M91.7 174.9h0M97.5 173h0M61.3 164.5h0M75 169h0M90.5 181.5h0M103 170.7h0M88.9 175.3h0M92.5 182.2h0M78.8 177h0M93.4 171.7h0M71.1 170.2h0M80.9 182.1h0M91 177.7h0M93.7 181.4h0M53.4 150.3h0M122.3 101.7h0M51.7 105.1h0M109.7 104.4h0M67.2 103.7h0M127.5 122.8h0M106.9 120.7h0M122 108.8h0M104.4 91.1h0M100.5 91.9h0M122.7 128.5h0M111.4 130h0M37.3 93.5h0M128.2 120.5h0M63.8 108h0M56.2 109.7h0M122.9 109.8h0M36.1 123h0M106.8 89.3h0M106.4 135.3h0M68.6 88.6h0M117.2 133.9h0M58.9 137.6h0M108.7 104.5h0M126 111.1h0M50 137.1h0M114.2 122.4h0M42.7 154.9h0M60.9 154.4h0M64.2 102h0M51.5 83.4h0M125.3 136.3h0M115 130.4h0M115.8 127.5h0M51.1 109.9h0M61 139.8h0M127 120.6h0M126.9 96.3h0M40.1 123.5h0M68.8 93.1h0M59.7 97.9h0M115.1 98.9h0M122.2 90.2h0M59.1 91.7h0M140.2 113.4h0M64.8 103.2h0M106.5 146.9h0M60.3 134.1h0M107.8 93.8h0M79.1 63h0M57.5 148h0M35.1 140h0M113.7 130.5h0M138.4 103.6h0M114.1 146.5h0M119.9 113.1h0M58.6 100.5h0M47.5 107.5h0M50.6 114.7h0M44.9 115.2h0M60.6 114.4h0M109.8 144.7h0M71.4 87.3h0M61.1 103.5h0M93.5 92.3h0M111.8 119.8h0M43.6 119.1h0M57.8 93h0M106.5 101h0M118.4 119.1h0M128.8 127.5h0M111.6 125.1h0M29.7 109.9h0M23.1 113.9h0M17 118.5h0M6.8 112.6h0M42 110.9h0M0.9 111.2h0M14.7 113.6h0M34.2 111.8h0M143.9 110.4h0M140.3 107.5h0M150 107.5h0M144.5 100.6h0M157.5 106.1h0M160.4 108.6h0M157.8 110h0M138.7 117.4h0"/><clipPath id="cl20"><path clip-rule="evenodd" d="M84.5 73.2L83.5 73.1L82.6 72L83.5 70.7L85.2 71L84.5 73.2ZM83.5 181.6L81.5 181.4L79 177.5L77 175.8L75.5 175.8L73.5 177.1L72.2 176.5L72.3 175L74.1 173L72.7 169.5L74.5 166.5L74.5 163.6L71 161.6L69 158.5L65 155.1L63.9 152.5L64 147.5L61.7 142.5L58 139.4L57.1 137L60.2 129.5L59.9 124.5L61.6 120.5L59.3 117L61.1 114L60.7 108.5L61.8 105.5L61.9 103L64.7 98.5L65.4 94L68 91.2L72.8 89L73 85.1L74.8 82.5L75.2 79.5L76.1 78L77.5 77.1L81 77.1L85 74.8L87 75.5L88.5 77L90.9 82.5L93.8 85.5L96 89.5L100 91.8L100.1 93L98.9 95.5L101 100.5L105 102.5L106.2 104.5L106 106.9L103.9 109.5L103.8 111L107.5 113.4L108.1 115L106.5 120L107.4 126.5L106.4 128L105.7 133.5L103.5 136.8L102.9 140.5L105.4 146L105.4 148L102.5 151.1L98.5 158L95.9 161L95.1 164.5L92.3 167.5L92.5 169L95.4 171L93 176L91 177.5L89.5 175.3L88 175.2L85.1 180.5L83.5 181.6Z"/></clipPath><g clip-path="url(#cl20)"><g filter="url(#sm)"><path fill="rgb(3,255,0)" d="M56.6 122.5C56.6 93.3 67.4 69.4 80.5 69.4C97.4 69.4 111.2 93.3 111.2 122.5C111.2 151.7 97.4 175.6 80.5 175.6C67.4 175.6 56.6 151.7 56.6 122.5Z"/><path fill="rgb(7,255,0)" d="M56.9 122.5C56.9 93.6 67.5 69.9 80.5 69.9C97.2 69.9 110.9 93.6 110.9 122.5C110.9 151.4 97.2 175.1 80.5 175.1C67.5 175.1 56.9 151.4 56.9 122.5Z"/><path fill="rgb(11,255,0)" d="M57.3 122.5C57.3 93.9 67.7 70.4 80.5 70.4C97 70.4 110.5 93.9 110.5 122.5C110.5 151.1 97 174.6 80.5 174.6C67.7 174.6 57.3 151.1 57.3 122.5Z"/><path fill="rgb(15,255,0)" d="M57.6 122.5C57.6 94.2 67.9 71 80.5 71C96.8 71 110.2 94.2 110.2 122.5C110.2 150.8 96.8 174 80.5 174C67.9 174 57.6 150.8 57.6 122.5Z"/><path fill="rgb(20,255,0)" d="M57.9 122.5C57.9 94.4 68.1 71.5 80.5 71.5C96.7 71.5 109.9 94.4 109.9 122.5C109.9 150.6 96.7 173.5 80.5 173.5C68.1 173.5 57.9 150.6 57.9 122.5Z"/><path fill="rgb(24,255,0)" d="M58.3 122.5C58.3 94.7 68.3 72 80.5 72C96.5 72 109.5 94.7 109.5 122.5C109.5 150.3 96.5 173 80.5 173C68.3 173 58.3 150.3 58.3 122.5Z"/><path fill="rgb(28,255,0)" d="M58.6 122.5C58.6 95 68.4 72.6 80.5 72.6C96.3 72.6 109.2 95 109.2 122.5C109.2 150 96.3 172.4 80.5 172.4C68.4 172.4 58.6 150 58.6 122.5Z"/><path fill="rgb(32,255,0)" d="M58.9 122.5C58.9 95.3 68.6 73.1 80.5 73.1C96.1 73.1 108.9 95.3 108.9 122.5C108.9 149.7 96.1 171.9 80.5 171.9C68.6 171.9 58.9 149.7 58.9 122.5Z"/><path fill="rgb(37,255,0)" d="M59.2 122.5C59.2 95.6 68.8 73.6 80.5 73.6C95.9 73.6 108.6 95.6 108.6 122.5C108.6 149.4 95.9 171.4 80.5 171.4C68.8 171.4 59.2 149.4 59.2 122.5Z"/><path fill="rgb(42,255,0)" d="M59.6 122.5C59.6 95.9 69 74.2 80.5 74.2C95.8 74.2 108.2 95.9 108.2 122.5C108.2 149.1 95.8 170.8 80.5 170.8C69 170.8 59.6 149.1 59.6 122.5Z"/><path fill="rgb(47,255,0)" d="M59.9 122.5C59.9 96.2 69.2 74.7 80.5 74.7C95.6 74.7 107.9 96.2 107.9 122.5C107.9 148.8 95.6 170.3 80.5 170.3C69.2 170.3 59.9 148.8 59.9 122.5Z"/><path fill="rgb(53,255,0)" d="M60.2 122.5C60.2 96.5 69.3 75.2 80.5 75.2C95.4 75.2 107.6 96.5 107.6 122.5C107.6 148.5 95.4 169.8 80.5 169.8C69.3 169.8 60.2 148.5 60.2 122.5Z"/><path fill="rgb(58,255,0)" d="M60.5 122.5C60.5 96.8 69.5 75.8 80.5 75.8C95.2 75.8 107.3 96.8 107.3 122.5C107.3 148.2 95.2 169.2 80.5 169.2C69.5 169.2 60.5 148.2 60.5 122.5Z"/><path fill="rgb(63,255,0)" d="M60.9 122.5C60.9 97.1 69.7 76.3 80.5 76.3C95 76.3 106.9 97.1 106.9 122.5C106.9 147.9 95 168.7 80.5 168.7C69.7 168.7 60.9 147.9 60.9 122.5Z"/><path fill="rgb(68,255,0)" d="M61.2 122.5C61.2 97.4 69.9 76.8 80.5 76.8C94.9 76.8 106.6 97.4 106.6 122.5C106.6 147.6 94.9 168.2 80.5 168.2C69.9 168.2 61.2 147.6 61.2 122.5Z"/><path fill="rgb(76,255,0)" d="M61.6 122.5C61.6 97.7 70.1 77.4 80.5 77.4C94.6 77.4 106.2 97.7 106.2 122.5C106.2 147.3 94.6 167.6 80.5 167.6C70.1 167.6 61.6 147.3 61.6 122.5Z"/><path fill="rgb(84,255,0)" d="M62.1 122.5C62.1 98 70.4 77.9 80.5 77.9C94.4 77.9 105.7 98 105.7 122.5C105.7 147 94.4 167.1 80.5 167.1C70.4 167.1 62.1 147 62.1 122.5Z"/><path fill="rgb(92,255,0)" d="M62.5 122.5C62.5 98.3 70.6 78.4 80.5 78.4C94.1 78.4 105.3 98.3 105.3 122.5C105.3 146.7 94.1 166.6 80.5 166.6C70.6 166.6 62.5 146.7 62.5 122.5Z"/><path fill="rgb(101,255,0)" d="M63 122.5C63 98.6 70.9 79 80.5 79C93.9 79 104.8 98.6 104.8 122.5C104.8 146.4 93.9 166 80.5 166C70.9 166 63 146.4 63 122.5Z"/><path fill="rgb(109,255,0)" d="M63.5 122.5C63.5 98.8 71.1 79.5 80.5 79.5C93.6 79.5 104.3 98.8 104.3 122.5C104.3 146.2 93.6 165.5 80.5 165.5C71.1 165.5 63.5 146.2 63.5 122.5Z"/><path fill="rgb(117,255,0)" d="M63.9 122.5C63.9 99.1 71.4 80 80.5 80C93.3 80 103.9 99.1 103.9 122.5C103.9 145.9 93.3 165 80.5 165C71.4 165 63.9 145.9 63.9 122.5Z"/><path fill="rgb(129,255,0)" d="M64.4 122.5C64.4 99.4 71.7 80.6 80.5 80.6C93.1 80.6 103.4 99.4 103.4 122.5C103.4 145.6 93.1 164.4 80.5 164.4C71.7 164.4 64.4 145.6 64.4 122.5Z"/><path fill="rgb(144,255,0)" d="M64.9 122.5C64.9 99.7 71.9 81.1 80.5 81.1C92.8 81.1 102.9 99.7 102.9 122.5C102.9 145.3 92.8 163.9 80.5 163.9C71.9 163.9 64.9 145.3 64.9 122.5Z"/><path fill="rgb(158,255,0)" d="M65.3 122.5C65.3 100 72.2 81.6 80.5 81.6C92.6 81.6 102.5 100 102.5 122.5C102.5 145 92.6 163.4 80.5 163.4C72.2 163.4 65.3 145 65.3 122.5Z"/><path fill="rgb(172,255,0)" d="M65.8 122.5C65.8 100.3 72.4 82.2 80.5 82.2C92.3 82.2 102 100.3 102 122.5C102 144.7 92.3 162.8 80.5 162.8C72.4 162.8 65.8 144.7 65.8 122.5Z"/><path fill="rgb(186,255,0)" d="M66.3 122.5C66.3 100.6 72.7 82.7 80.5 82.7C92.1 82.7 101.5 100.6 101.5 122.5C101.5 144.4 92.1 162.3 80.5 162.3C72.7 162.3 66.3 144.4 66.3 122.5Z"/><path fill="rgb(200,255,0)" d="M66.7 122.5C66.7 100.9 72.9 83.2 80.5 83.2C91.8 83.2 101.1 100.9 101.1 122.5C101.1 144.1 91.8 161.8 80.5 161.8C72.9 161.8 66.7 144.1 66.7 122.5Z"/><path fill="rgb(217,255,0)" d="M67.2 122.5C67.2 101.2 73.2 83.8 80.5 83.8C91.5 83.8 100.6 101.2 100.6 122.5C100.6 143.8 91.5 161.2 80.5 161.2C73.2 161.2 67.2 143.8 67.2 122.5Z"/><path fill="rgb(233,255,0)" d="M67.7 122.5C67.7 101.5 73.4 84.3 80.5 84.3C91.3 84.3 100.1 101.5 100.1 122.5C100.1 143.5 91.3 160.7 80.5 160.7C73.4 160.7 67.7 143.5 67.7 122.5Z"/><path fill="rgb(250,255,0)" d="M68.1 122.5C68.1 101.8 73.7 84.8 80.5 84.8C91 84.8 99.7 101.8 99.7 122.5C99.7 143.2 91 160.2 80.5 160.2C73.7 160.2 68.1 143.2 68.1 122.5Z"/><path fill="rgb(255,247,0)" d="M68.5 122.5C68.5 102.1 73.9 85.4 80.6 85.4C90.8 85.4 99.2 102.1 99.2 122.5C99.2 142.9 90.8 159.6 80.6 159.6C73.9 159.6 68.5 142.9 68.5 122.5Z"/><path fill="rgb(255,236,0)" d="M68.8 122.5C68.8 102.4 74.1 85.9 80.7 85.9C90.7 85.9 98.9 102.4 98.9 122.5C98.9 142.6 90.7 159.1 80.7 159.1C74.1 159.1 68.8 142.6 68.8 122.5Z"/><path fill="rgb(255,225,0)" d="M69 122.5C69 102.7 74.3 86.5 80.8 86.5C90.5 86.5 98.5 102.7 98.5 122.5C98.5 142.3 90.5 158.5 80.8 158.5C74.3 158.5 69 142.3 69 122.5Z"/><path fill="rgb(255,214,0)" d="M69.3 122.5C69.3 103 74.6 87 81 87C90.4 87 98.1 103 98.1 122.5C98.1 142 90.4 157.9 81 157.9C74.6 157.9 69.3 142 69.3 122.5Z"/><path fill="rgb(255,203,0)" d="M69.6 122.5C69.6 103.3 74.8 87.6 81.1 87.6C90.2 87.6 97.7 103.3 97.7 122.5C97.7 141.7 90.2 157.4 81.1 157.4C74.8 157.4 69.6 141.7 69.6 122.5Z"/><path fill="rgb(255,192,0)" d="M69.9 122.5C69.9 103.6 75 88.2 81.2 88.2C90.1 88.2 97.3 103.6 97.3 122.5C97.3 141.4 90.1 156.8 81.2 156.8C75 156.8 69.9 141.4 69.9 122.5Z"/><path fill="rgb(255,181,0)" d="M70.2 122.5C70.2 103.9 75.2 88.7 81.3 88.7C89.9 88.7 96.9 103.9 96.9 122.5C96.9 141.1 89.9 156.2 81.3 156.2C75.2 156.2 70.2 141.1 70.2 122.5Z"/><path fill="rgb(255,168,0)" d="M70.4 122.5C70.4 104.2 75.4 89.3 81.5 89.3C89.7 89.3 96.5 104.2 96.5 122.5C96.5 140.8 89.7 155.7 81.5 155.7C75.4 155.7 70.4 140.8 70.4 122.5Z"/><path fill="rgb(255,156,0)" d="M70.7 122.5C70.7 104.5 75.6 89.8 81.6 89.8C89.6 89.8 96.1 104.5 96.1 122.5C96.1 140.4 89.6 155.1 81.6 155.1C75.6 155.1 70.7 140.4 70.7 122.5Z"/><path fill="rgb(255,143,0)" d="M71 122.5C71 104.8 75.8 90.4 81.7 90.4C89.4 90.4 95.8 104.8 95.8 122.5C95.8 140.1 89.4 154.6 81.7 154.6C75.8 154.6 71 140.1 71 122.5Z"/><path fill="rgb(255,130,0)" d="M71.3 122.5C71.3 105.1 76 90.9 81.8 90.9C89.3 90.9 95.4 105.1 95.4 122.5C95.4 139.8 89.3 154 81.8 154C76 154 71.3 139.8 71.3 122.5Z"/><path fill="rgb(255,113,0)" d="M71.5 122.5C71.5 105.4 76.2 91.5 82 91.5C89.1 91.5 95 105.4 95 122.5C95 139.5 89.1 153.4 82 153.4C76.2 153.4 71.5 139.5 71.5 122.5Z"/><path fill="rgb(255,97,0)" d="M71.8 122.5C71.8 105.8 76.4 92 82.1 92C89 92 94.6 105.8 94.6 122.5C94.6 139.2 89 152.9 82.1 152.9C76.4 152.9 71.8 139.2 71.8 122.5Z"/><path fill="rgb(255,80,0)" d="M72.1 122.5C72.1 106.1 76.6 92.6 82.2 92.6C88.8 92.6 94.2 106.1 94.2 122.5C94.2 138.9 88.8 152.3 82.2 152.3C76.6 152.3 72.1 138.9 72.1 122.5Z"/><path fill="rgb(255,59,0)" d="M72.4 122.5C72.4 106.4 76.9 93.2 82.3 93.2C88.6 93.2 93.8 106.4 93.8 122.5C93.8 138.6 88.6 151.7 82.3 151.7C76.9 151.7 72.4 138.6 72.4 122.5Z"/><path fill="rgb(255,34,0)" d="M72.7 122.5C72.7 106.7 77.1 93.7 82.5 93.7C88.5 93.7 93.4 106.7 93.4 122.5C93.4 138.3 88.5 151.2 82.5 151.2C77.1 151.2 72.7 138.3 72.7 122.5Z"/><path fill="rgb(255,10,0)" d="M73 123C73 107.9 77.2 95.6 82.4 95.6C88 95.6 92.6 107.9 92.6 123C92.6 138 88 150.3 82.4 150.3C77.2 150.3 73 138 73 123Z"/><path fill="rgb(255,0,0)" d="M73.5 123.8C73.5 109.6 77.4 98.1 82.2 98.1C87.4 98.1 91.6 109.6 91.6 123.8C91.6 137.8 87.4 149.3 82.2 149.3C77.4 149.3 73.5 137.8 73.5 123.8Z"/><path fill="rgb(232,0,19)" d="M73.9 124.5C73.9 111.4 77.5 100.6 82 100.6C86.7 100.6 90.6 111.4 90.6 124.5C90.6 137.6 86.7 148.3 82 148.3C77.5 148.3 73.9 137.6 73.9 124.5Z"/><path fill="rgb(175,0,67)" d="M74.3 125.2C74.3 113.1 77.7 103.1 81.8 103.1C86.1 103.1 89.6 113.1 89.6 125.2C89.6 137.4 86.1 147.4 81.8 147.4C77.7 147.4 74.3 137.4 74.3 125.2Z"/><path fill="rgb(100,0,130)" d="M74.7 126C74.7 114.8 77.8 105.6 81.6 105.6C85.4 105.6 88.6 114.8 88.6 126C88.6 137.2 85.4 146.4 81.6 146.4C77.8 146.4 74.7 137.2 74.7 126Z"/><path fill="rgb(25,0,205)" d="M75.1 126.8C75.1 116.6 77.9 108.3 81.4 108.3C84.8 108.3 87.6 116.6 87.6 126.8C87.6 136.9 84.8 145.2 81.4 145.2C77.9 145.2 75.1 136.9 75.1 126.8Z"/><path fill="rgb(0,13,238)" d="M75.4 127.6C75.4 118.6 78 111.2 81.1 111.2C84.2 111.2 86.7 118.6 86.7 127.6C86.7 136.5 84.2 143.9 81.1 143.9C78 143.9 75.4 136.5 75.4 127.6Z"/><path fill="rgb(0,33,251)" d="M75.7 128.4C75.7 120.6 78 114.2 80.8 114.2C83.6 114.2 85.8 120.6 85.8 128.4C85.8 136.2 83.6 142.5 80.8 142.5C78 142.5 75.7 136.2 75.7 128.4Z"/><path fill="rgb(0,60,255)" d="M76 129.2C76 122.5 78 117.1 80.5 117.1C83 117.1 85 122.5 85 129.2C85 135.8 83 141.2 80.5 141.2C78 141.2 76 135.8 76 129.2Z"/><path fill="rgb(0,90,255)" d="M76.3 130C76.3 124.5 78.1 120.1 80.2 120.1C82.3 120.1 84.1 124.5 84.1 130C84.1 135.4 82.3 139.8 80.2 139.8C78.1 139.8 76.3 135.4 76.3 130Z"/><path fill="rgb(0,120,255)" d="M76.6 130.8C76.6 126.5 78.1 123 79.9 123C81.7 123 83.2 126.5 83.2 130.8C83.2 135 81.7 138.5 79.9 138.5C78.1 138.5 76.6 135 76.6 130.8Z"/><path fill="rgb(0,149,255)" d="M77 131.3C77 128 78.2 125.3 79.7 125.3C81.2 125.3 82.5 128 82.5 131.3C82.5 134.6 81.2 137.3 79.7 137.3C78.2 137.3 77 134.6 77 131.3Z"/><path fill="rgb(0,176,255)" d="M77.4 131.3C77.4 128.6 78.5 126.3 79.7 126.3C81 126.3 82.1 128.6 82.1 131.3C82.1 134.1 81 136.4 79.7 136.4C78.5 136.4 77.4 134.1 77.4 131.3Z"/><path fill="rgb(0,203,255)" d="M77.9 131.3C77.9 129.1 78.7 127.3 79.8 127.3C80.8 127.3 81.7 129.1 81.7 131.3C81.7 133.6 80.8 135.4 79.8 135.4C78.7 135.4 77.9 133.6 77.9 131.3Z"/><path fill="rgb(0,230,255)" d="M78.4 131.4C78.4 129.6 79 128.2 79.8 128.2C80.6 128.2 81.3 129.6 81.3 131.4C81.3 133.1 80.6 134.5 79.8 134.5C79 134.5 78.4 133.1 78.4 131.4Z"/><path fill="rgb(0,239,255)" d="M78.8 131.4C78.8 130.2 79.3 129.2 79.8 129.2C80.4 129.2 80.9 130.2 80.9 131.4C80.9 132.6 80.4 133.6 79.8 133.6C79.3 133.6 78.8 132.6 78.8 131.4Z"/><path fill="rgb(0,249,255)" d="M79.3 131.4C79.3 130.7 79.6 130.2 79.9 130.2C80.2 130.2 80.5 130.7 80.5 131.4C80.5 132.1 80.2 132.6 79.9 132.6C79.6 132.6 79.3 132.1 79.3 131.4Z"/></g></g>
</svg>
<path d="M92.3 667.6H101.0M92.3 884.1H101.6V892.4M184.6 884.7v7.7M267.6 884.7v7.7" stroke="#111" stroke-width="1.3" fill="none"/>
<text x="91.4" y="671.9" font-size="13" text-anchor="end">8</text>
<use href="#one" transform="translate(84.00 888.50) scale(0.00635 -0.00635)"/>
<text x="100.2" y="905.7" font-size="13" text-anchor="middle">-8</text>
<text x="184.9" y="905.7" font-size="13" text-anchor="middle">0</text>
<text x="269.2" y="905.7" font-size="13" text-anchor="middle">8</text>
<text transform="translate(185.4 656.3) scale(1 1.04)" font-size="19.45" text-anchor="middle">PDAC1 vs PDAC2</text>
<text x="185.6" y="925.0" font-size="12.95" text-anchor="middle">Log2(PDAC1/PDAC2)</text>
<text transform="translate(77.8 767.8) rotate(-90)" font-size="12.8" text-anchor="middle">Log10(Average Intensity)</text>
<svg x="362.9" y="667.0" width="167.2" height="217.7" viewBox="0 0 167.2 217.7" overflow="hidden">
<rect width="167.2" height="217.7" fill="#f39a00"/>
<path fill="#00ff00" fill-rule="evenodd" d="M80 178.6L78.5 178.1L75.5 175.2L70.1 173.5L68.8 172L68.9 169.5L72.9 164.5L73.1 162L72.1 160.5L69 160.4L68 159.8L66 155.5L62.5 155.5L61.4 154.5L61.9 143.5L61 138.5L62.1 134L60.5 131.3L57 128.6L56.7 127.5L58.9 124L59.5 120.5L58.8 116.5L60.3 112.5L61 108.5L63.5 104.5L63.3 101L63.9 99.5L67 95.4L71.5 93.1L71.8 88.5L74.5 84.2L77 81.9L78.6 78.5L79.5 77.9L83 79.2L83.9 76L86 75.1L90.5 79.2L90.6 84L92.2 88.5L97.5 94.9L98.6 99L100 100.7L103.4 102.5L104.3 104L104.7 107L102.6 109L102.5 110L103.8 113.5L103.8 117L105.3 119.5L104.7 122.5L106.1 125.5L105.4 132L101.6 138.5L100.9 144L102.1 147.5L102 152.7L97 154.4L94.5 158.5L94.4 162L97.3 165.5L97.4 168.5L96 170L91.6 172.5L89.5 175.8L89.1 174.5L87 174.3L82.5 177.7L80 178.6Z"/><path stroke="#10f010" stroke-width="3.0" stroke-linecap="round" d="M72.3 158.6h0M94.4 164.8h0M103.7 145.1h0M94.4 93.7h0M74.2 91.5h0M72.9 89h0M59.2 122.6h0M62.2 130.9h0M59.6 114.2h0M74 84.8h0M73.1 89.6h0M96.1 152.9h0M64.9 105.5h0M102.8 107.1h0M61.8 101.8h0M68.7 157.2h0M66.5 98.8h0M75.3 73h0M103 112.3h0M98.8 101.7h0M61.2 103.3h0M101.5 100.7h0M68.9 161.6h0M95 92.5h0M108.2 163h0M57.7 122.4h0M109.4 108.3h0M64.7 102.4h0M62.5 138h0M62.7 100.2h0M68.4 162.8h0M93.2 94.9h0M71.1 75.4h0M102 106.1h0M73.1 174h0M69.6 159.7h0M103.5 108h0M102.6 127.3h0M99.5 142.4h0M94.9 94.6h0M108.7 139.1h0M60.6 128.6h0M75.9 94h0M96.6 95.5h0M86.1 77.1h0M105.9 88.6h0M105.8 137.6h0M102.7 135.2h0M64.7 107.2h0M95.6 78h0M106.7 119.9h0M59.2 88.9h0M97.8 160.6h0M69.6 172.2h0M106.2 120.3h0M58.6 154.8h0M94.7 164.5h0M86.9 78.8h0M74.7 92h0M60.1 133.5h0M99 170.3h0M75.8 79.9h0M72.9 78.3h0M62.8 110.9h0M63.6 68.1h0M85.8 77.4h0M106.9 111.6h0M88.9 84.3h0M92.2 164.6h0M95.1 156.5h0M66.1 157.6h0M64.8 171.1h0M90.9 86.4h0M90 85h0M98.5 105.6h0M70.4 157.7h0M89.2 73.3h0M101.4 150.4h0M91.5 69.6h0M98.5 152.1h0M99.3 102h0M98.7 102.9h0M105.1 125.6h0M76.9 85.2h0M69.7 172h0M100.7 141.7h0M87 76.9h0M63.7 155.3h0M63.2 151.3h0M76.8 160.9h0M104.5 119.8h0M100.2 138.2h0M60.2 118h0M70 88.7h0M99.6 148.4h0M108.4 88.4h0M100.5 162.3h0M88.6 173.1h0M98.3 152.8h0M85.1 78.3h0M99.8 147.4h0M88.9 84.1h0M68.9 156.4h0M58.1 126.4h0M62 136.1h0M80.7 77.7h0M104.7 129.1h0M93.2 93.2h0M57.6 109.7h0M96.9 94.6h0M58.1 128h0M55.4 90.4h0M62 89.3h0M95.1 165.3h0M74.7 84.6h0M99.7 139.7h0M73.9 165.6h0M94 169.4h0M76.8 162.8h0M99.2 169.6h0M64.1 148.9h0M104 102.8h0M100.8 121.4h0M79.3 79h0M55.9 131.5h0M57.2 142.1h0M72.8 166.3h0M72.2 158.3h0M103.1 89.7h0M79 74.6h0M88.7 166.7h0M99.7 142.5h0M62.9 139.1h0M106.3 138.3h0M58.8 143.5h0M104 115h0M55.6 101.4h0M99.9 105.2h0M75.8 172.1h0M103.6 130.8h0M65.2 105.2h0M99.6 142.1h0M87.9 85.5h0M54.9 128.3h0M59.6 109.5h0M103.2 131.3h0M68.2 88.9h0M105.2 107.4h0M73.3 93.7h0M69.5 169h0M107.2 151.7h0M70 78.4h0M92.6 91.6h0M103.4 148.6h0M67.4 93.2h0M70.5 167.5h0M60.7 115.6h0M63 139h0M99.5 152h0M99.1 153.4h0M100.6 146.4h0M87.9 79.7h0M63.2 146.9h0M67.1 163.3h0M100.5 100h0M99.2 94.2h0M72.4 159.2h0M90.4 67.2h0M69.2 96.1h0M71.2 77h0M67.5 96.3h0M65.4 101.6h0M83.6 175.3h0M73.4 94.6h0M102.9 121.5h0M90.4 81.4h0M71.9 162.5h0M98.4 85.4h0M85.6 80h0M66.4 99.5h0M73.5 70.7h0M103.8 97.6h0M71.5 167.3h0M97 94.8h0M60.6 89.9h0M69.7 92.7h0M102.1 103.6h0M95.5 156.8h0M96.2 155.7h0M76.7 160.2h0M105.6 130.3h0M100.6 117.9h0M97 88.5h0M68.7 163.2h0M79.2 82.5h0M70.7 93.6h0M75.3 94.1h0M92.8 86.6h0M60 117.2h0M63.3 144.5h0M89.5 88.7h0M75.5 84.7h0M74.4 79.4h0M61.4 143.8h0M97.9 150.9h0M89 85.7h0M94.9 72.7h0M77.3 92.1h0M102.1 154.5h0M62.8 146.3h0M70.8 87.3h0M51.3 138.7h0M92.5 92h0M63.3 149.6h0M77.7 93.7h0M87.1 84.1h0M108.6 136.5h0M74.3 91.1h0M56.8 109.7h0M62.9 135.3h0M102.4 112.6h0M65.5 173.8h0M68.9 166.1h0M75.1 160.6h0M110.9 138.9h0M95.8 177.5h0M65.9 90.8h0M56.3 113.2h0M63.9 155.2h0M71.3 171h0M101.9 137.2h0M100.8 119.6h0M96.3 154h0M102 147.3h0M109.8 140.7h0M57.1 127h0M88.1 76.5h0M73.3 162.7h0M66.8 77.8h0M64.2 143h0M76.4 162.6h0M64 87h0M55.7 130.4h0M54.7 130.4h0M62.9 112.7h0M70 157.8h0M103 150.3h0M102.4 153.4h0M69.2 92.7h0M61.2 148.3h0M104.4 112.2h0M91.7 86.1h0M62 93.9h0M64.3 103.4h0M81.2 81.8h0M76.2 178.8h0M81 78.7h0M61.8 112.9h0M101.6 154.7h0M56.4 131.3h0M92 91.3h0M103.3 103.9h0M104.5 143.6h0M65.5 152.3h0M78.1 179.5h0M57.3 93.1h0M102.2 152.5h0M104.7 115.2h0M104.1 107.3h0M102.7 132.3h0M99 177.2h0M58.3 120.5h0M107.8 139.9h0M108.6 127.2h0M72.5 174.5h0M96.2 78h0M68.1 159.2h0M65.8 90.6h0M113.6 139.7h0M61.6 156.1h0M63.6 145.9h0M102.8 164.2h0M103.4 126.3h0M103.7 122.5h0M72.8 167.5h0M98.5 97.3h0M59.6 117.1h0M64.1 106.5h0M58.2 93.9h0M72.4 83.7h0M63.5 150.3h0M105.1 158.7h0M102.1 151.7h0M72.8 91.4h0M68 166.1h0M72.9 88.3h0M60.9 128.1h0M104.9 140.6h0M78.1 62.3h0M60.7 119.5h0M102.9 152.5h0M97.6 161.4h0M101.2 164.3h0M68 95.1h0M58.7 124.6h0M56 124.4h0M104.1 144.1h0M63 108.6h0M57.3 84.6h0M65 151.2h0M57.4 78h0M71.4 79.8h0M63.2 148.1h0M69.9 89.9h0M107.3 112.1h0M88.7 87.6h0M61.7 167.6h0M60 117.3h0M98.7 165.3h0M103.3 114.5h0M110 150.7h0M70.8 78.4h0M58.3 138.3h0M68.3 169.7h0M107.3 113.3h0M102.5 165.3h0M106.3 110.8h0M62.6 152.5h0M66.1 99.5h0M104.9 108.4h0M62.1 143.1h0M108.9 110.9h0M109.7 109.3h0M101.6 134.3h0M101.4 149.8h0M100.6 154.8h0M69.2 83.9h0M65.8 94.6h0M89.3 171h0M111.9 107.3h0M54.7 120.8h0M83.2 177.7h0M104 128.7h0M89.7 166.5h0M103.6 128.6h0M102 107.9h0M94.7 167.5h0M62.8 155h0M93.7 160.8h0M89.2 176.8h0M96.8 97.6h0M56.5 130.9h0M58.9 85.1h0M102.3 121.7h0M62.7 150.2h0M113.7 167h0M51.4 136.6h0M112.2 100.4h0M102.4 105.4h0M97 161.4h0M113.4 181.4h0M54.7 101.8h0M59.8 105.6h0M105.5 107.4h0M104.9 147h0M68 95.3h0M92.8 166.3h0M57.6 149.3h0M58.1 142.7h0M62.4 155.2h0M111.4 119.8h0M86.8 172.6h0M54.4 118.3h0M108.1 117.3h0M67.1 85.5h0M103.4 104.6h0M64.6 94.3h0M52.5 167h0M99.3 144.2h0M74.6 175.2h0M53.1 164.2h0M95.1 89.2h0M92.2 77.6h0M65.4 106h0M58.6 111.5h0M103.5 161.5h0M57.2 127.4h0M53 158.1h0M88.2 82.2h0M73.3 71.1h0M57.9 169.7h0M57.1 111h0M53.5 134.2h0M57.6 132.4h0M69.2 158.8h0M63 93.6h0M78.3 81.2h0M101.4 115.8h0M103.3 131.4h0M63.1 158.7h0M61.7 146.5h0M59.1 115.8h0M51.2 148.1h0M59.8 127.4h0M105.7 94.8h0M61.4 121.2h0M56 126.2h0M59.3 117.2h0M98.5 151.4h0M60.1 98.2h0M93.1 162.8h0M101.2 162.7h0M103.7 95.8h0M72.4 163h0M103.7 136.1h0M61.7 87.3h0M65.7 100h0M60.6 111.7h0M65.7 161.5h0M95.2 167.4h0M66.3 152.9h0M107.2 104.5h0M47.5 151h0M62.5 109.5h0M58.8 142.3h0M53 126h0M78.3 68.9h0M102.1 114h0M68.2 154.7h0M108.6 113.1h0M99.7 166h0M100 79.2h0M74.6 161h0M49.4 101.3h0M81 181.5h0M62.2 126.9h0M105.1 124.2h0M111.1 134h0M97.6 159.2h0M93.4 158.6h0M109.1 96.5h0M99.2 150.8h0M65.4 152.8h0M63.6 148.7h0M62.5 158.4h0M102.6 146.8h0M108.1 106.2h0M105.5 131.8h0M101.2 119.1h0M106 131.7h0M112.4 152.2h0M105.2 147.1h0M98.9 165.1h0M102.5 120.7h0M97.1 164.6h0M65.7 99.1h0M101.8 89.7h0M75.7 74.4h0M62.4 125.9h0M105.5 133.3h0M100.1 147.4h0M62.4 106.6h0M91.6 165.7h0M50.3 149h0M75.4 92.2h0M60.2 127.6h0M108.3 113.6h0M103.4 106.6h0M98.5 157.3h0M98.3 148.7h0M99.9 138.7h0M110.7 91h0M107.2 133.5h0M96.6 93.9h0M56.4 147.6h0M61.3 154.4h0M90.1 169.5h0M89.8 88.8h0M103.2 127.1h0M100.5 141.9h0M78.1 176.3h0M101.3 86h0M107.6 111h0M90.8 77.8h0M51.1 130.1h0M88.5 182.2h0M111.1 138.3h0M61.2 119.8h0M53.2 106.8h0M64.4 153.6h0M99 157.5h0M94.5 166.8h0M74.2 168.8h0M105.5 146.9h0M52.9 130.2h0M58.4 123.4h0M115.5 148.1h0M62 139.4h0M99.2 145.9h0M72.1 188.7h0M63.7 134.6h0M58.9 98.3h0M70.1 172h0M61.7 155.3h0M106 126.9h0M89.1 171h0M61.1 108.7h0M66.6 160.7h0M93.5 91.7h0M68.2 165.8h0M102 116.2h0M104.6 135.9h0M49.9 115.3h0M72.3 91.2h0M57.7 144h0M103.2 154.1h0M95.3 163.3h0M90.6 175.2h0M76 73.5h0M88.5 82.9h0M90.5 79.3h0M60.8 99.6h0M61.2 146.8h0M60.6 124.8h0M115.8 134.2h0M104.5 135.8h0M104.4 108.4h0M55.1 163.8h0M102.3 141.1h0M107.6 122.8h0M80.4 178h0M59.3 97.4h0M88.4 180.2h0M97.6 86.8h0M59.9 103.6h0M59.3 152.7h0M106.4 124.8h0M65.1 145.3h0M101.8 168.1h0M64.9 74.9h0M69.6 178.2h0M100.7 101.6h0M68.5 163.7h0M61.6 122.2h0M65.7 152.2h0M113.2 108.7h0M54.6 139h0M59.7 129.2h0M104.4 101.1h0M62.5 94h0M59.3 122.4h0M95.1 156.1h0M57.9 101.4h0M49.1 129.8h0M58.7 132.3h0M65.2 76.4h0M98.7 102.5h0M100.7 70.9h0M76.5 162.1h0M62.8 90.5h0M115 114.7h0M52.3 144.9h0M58.2 128.6h0M89.5 68.3h0M103.9 134h0M61.7 159.7h0M62.9 100.9h0M57.7 163.8h0M56.3 127.5h0M105.4 120.2h0M106.6 123.1h0M97.8 96.2h0M48.6 135.9h0M96.8 153.1h0M108.2 122h0M106.4 126.1h0M61.1 165.5h0M113.9 161h0M46.6 115.2h0M57.6 103.6h0M60.1 108.4h0M103.8 116.2h0M106.5 140.5h0M97.2 93.8h0M101.4 170h0M89.3 70.8h0M70.9 158.5h0M55.7 172.5h0M65.2 102.8h0M59.6 130.4h0M67.9 157.8h0M62.7 112.4h0M105.2 119.3h0M101.4 147.1h0M62.9 73.2h0M105.4 105h0M66.2 92h0M51.4 117.4h0M93.8 78h0M56.1 176.6h0M67.9 157.9h0M63.3 132.7h0M104.7 119h0M66.2 90.6h0M98.7 151.8h0M104.4 104.3h0M62.1 111.5h0M58.8 164.2h0M58.8 117.3h0M69.1 160.4h0M75.9 87h0M61.1 131.5h0M112.1 88.2h0M55.8 162.4h0M56.3 160.4h0M83.4 78.4h0M83.8 177.9h0M64.8 159.4h0M53 126.6h0M101.7 103.5h0M103.7 118.6h0M87.6 81.8h0M100.9 104.7h0M100.4 102.5h0M105.3 113.3h0M93 88h0M108.8 100.7h0M107.1 151.6h0M106.3 116.4h0M100.2 96.3h0M104.7 155.7h0M99.1 165.5h0M54.6 135.5h0M67.4 87.7h0M66.6 153h0M95.3 92.7h0M63.5 108.3h0M111.3 112.3h0M99.9 158h0M43.4 107.5h0M96.4 83.8h0M101.9 141.4h0M101.5 115.3h0M95.4 174.8h0M49 152.1h0M109.9 124.4h0M64.8 155h0M94.2 164.4h0M101.7 86h0M71.2 163h0M69.1 177.8h0M72.3 88.3h0M66.9 152.6h0M57.5 152.3h0M100.7 92.5h0M94.6 96.5h0M63.2 152.9h0M53.6 143.4h0M81.6 183.7h0M62.6 154.5h0M79.1 80.9h0M54.3 124.6h0M103.5 136.3h0M66.9 97.9h0M55.1 147.3h0M90.3 89.9h0M60.8 136h0M105.8 159.4h0M75.1 92.2h0M97.4 82h0M100.7 141.1h0M102.8 95.8h0M104.4 125.6h0M106.8 127.5h0M49.5 102.6h0M106.5 123h0M109.3 147.5h0M74.5 160.9h0M98.9 149.7h0M102 149.1h0M56.8 156.6h0M60.3 153.5h0M108.5 136.5h0M109.9 136h0M105.8 162.2h0M63 147.3h0M114.2 123.6h0M98.8 96h0M71.2 88.6h0M102.5 102h0M99.9 138.9h0M101.6 114.5h0M74 83.8h0M90.4 83.6h0M99.4 158.1h0M103.8 81.4h0M64.9 150.8h0M60.3 137.4h0M79.8 78.9h0M81.7 80.1h0M78.9 74.9h0M83.8 75h0M82.7 71h0M91.5 74.9h0M94.2 81.2h0M93.2 84.3h0M88.5 71.4h0M75.5 84.2h0M83 64.5h0M77.4 67.3h0M84.6 77.4h0M76.1 86.3h0M78.9 78.3h0M76.6 83.3h0M80.3 67.7h0M79.4 71.8h0M90 73.1h0M78.9 75.2h0M88.5 80.3h0M90.7 88.2h0M77 74.1h0M90.6 80h0M85.5 76.4h0M76 72.3h0M85.3 70.9h0M79.7 75.3h0M84.6 82.4h0M95.5 76.3h0M83.6 75.5h0M89.3 86h0M77.5 65.7h0M84.6 76h0M89.6 68.9h0M75 86.7h0M82.3 67.7h0M79.1 74.1h0M80.1 80.2h0M88 77h0M90.1 78.9h0M92.9 77.8h0M85.7 70.4h0M77.5 72.3h0M86.3 77.5h0M91.8 79.9h0M84.7 64.6h0M90.7 81.1h0M88.5 72.5h0M84.3 70.5h0M75.9 81.2h0M88.6 73h0M93.1 86.2h0M87.2 72.7h0M88 80.7h0M91.1 72.5h0M80 81h0M87 81.9h0M77.7 84.5h0M73 76.8h0M77.9 78.8h0M78.9 71.9h0M76.8 76.2h0M85.1 78.2h0M79.6 75.8h0M80.8 73.4h0M88.9 83h0M79.2 70.8h0M81.9 70.6h0M82.8 70.3h0M86.1 76.5h0M83.6 65h0M75.4 81h0M79.9 81.3h0M83.4 72h0M84.7 72.9h0M86.1 82.9h0M75.8 70h0M93 82h0M91 169.9h0M90.9 175.2h0M76.5 174.4h0M78.1 176h0M76.2 158.5h0M95.8 172.7h0M98 179.6h0M92 176.7h0M91.5 165.6h0M76.1 173.9h0M88.4 173.2h0M90.5 176.5h0M79.3 177h0M68 177.5h0M86.4 172.4h0M85.8 175.4h0M93.4 170.5h0M79.3 180.3h0M85.6 173.8h0M90.3 170.3h0M76.8 172.4h0M74.2 167.1h0M94.6 170.4h0M99.8 168.8h0M74.7 173.5h0M70.7 171h0M68.3 169.1h0M72.6 177.7h0M88.4 176.9h0M91.2 173.9h0M89.6 184h0M98.9 174h0M80.5 179.9h0M70.9 178.4h0M77.4 160.5h0M94.5 181.2h0M79.5 178.1h0M68.8 175.2h0M74.1 168.1h0M94.1 168.5h0M86.1 175.6h0M66.3 172.7h0M76.6 178.7h0M97.6 174.9h0M90.8 169.9h0M94.9 169.8h0M91.5 169.2h0M69.7 174.2h0M79.1 178.5h0M95.3 167.6h0M94.3 164.4h0M96.3 168.7h0M75 162.2h0M88.7 167.3h0M89.9 177.2h0M97.4 169.4h0M75.3 176.7h0M75.8 186.6h0M91.7 183h0M98 172.9h0M74.1 166h0M87.8 178.2h0M69 171h0M98.4 171.1h0M71.1 167.8h0M92 169.8h0M69.3 169.7h0M74.3 172.1h0M92.3 181.6h0M73.7 169.4h0M95 160h0M70.8 171.7h0M95.3 166.3h0M82.7 179.4h0M88.8 179.1h0M87.7 171.6h0M73.7 170.4h0M73.5 175.8h0M94.6 174.5h0M74.8 166.8h0M75.3 171.5h0M90.4 178.2h0M78.4 175.1h0M93.5 179.6h0M91.3 180.5h0M93.4 174.4h0M100.3 174.1h0M97 170.4h0M88.8 180.5h0M90.9 170.7h0M94 170.2h0M84.7 179.2h0M83.1 178.9h0M82.9 181.2h0M70.1 174.6h0M75.4 165.9h0M98.7 167.7h0M83.9 177.3h0M73.2 173.7h0M84.3 174.8h0M80.7 176.2h0M71 175h0M67.9 178.7h0M91.3 173.7h0M103 161.9h0M93.9 169.8h0M71.7 171.4h0M97.3 166.3h0M91.6 172.7h0M67.2 172.7h0M72.9 171.2h0M74.6 162.2h0M90.3 176h0M74.1 173h0M61.1 128.2h0M102.5 139.9h0M66.7 96.7h0M41 152.2h0M43.1 152.4h0M107.8 130.6h0M119.7 112.1h0M39.7 113.3h0M116.7 139.3h0M105.1 128.7h0M96.4 96.5h0M109.6 114h0M60.8 140.8h0M130.6 117.2h0M113.8 119h0M50 97.5h0M55 122.9h0M50.9 90h0M105.2 140.7h0M102.9 86.9h0M40.6 133h0M59.1 107.9h0M104.7 100.1h0M92.1 88.1h0M111.7 110.6h0M108.2 109.3h0M128.9 127.8h0M52.7 128.2h0M51.9 110.4h0M41.6 114.9h0M101.8 111.2h0M105.7 125.3h0M123.3 126.6h0M104.2 117.8h0M61.1 107.8h0M110.1 133.4h0M102.5 121.7h0M41.1 110.4h0M109.5 122.1h0M29 118.3h0M106.3 102.2h0M41.2 109.7h0M102.9 153.5h0M32.2 102.9h0M60.1 124.6h0M49.1 128.5h0M102.2 103.7h0M43.2 144.8h0M58.8 112.8h0M100 119.4h0M41.8 110.3h0M114.4 133.5h0M107.2 97.5h0M61.5 146.3h0M106.2 133.1h0M60 91.2h0M114 120.3h0M46.3 134.6h0M50.4 121.7h0M53.2 128.4h0M103.9 98.3h0M115.9 126h0M102.6 132.2h0M116.5 118h0M127.1 130.8h0M106.1 119.4h0M41.7 107.9h0M113.4 110.8h0M25.1 120.3h0M32 129.9h0M25.8 122.9h0M25.2 123.6h0M24.8 116.9h0M18.4 128.3h0M16.8 120h0M32.8 119.6h0M162 113.6h0M148.7 109.1h0M145.5 107h0M147.3 100.4h0M138.5 105.7h0M131.3 108.7h0M147.6 113.9h0M146.3 106.6h0"/><clipPath id="cl21"><path clip-rule="evenodd" d="M80 178.6L78.5 178.1L75.5 175.2L70.1 173.5L68.8 172L68.9 169.5L72.9 164.5L73.1 162L72.1 160.5L69 160.4L68 159.8L66 155.5L62.5 155.5L61.4 154.5L61.9 143.5L61 138.5L62.1 134L60.5 131.3L57 128.6L56.7 127.5L58.9 124L59.5 120.5L58.8 116.5L60.3 112.5L61 108.5L63.5 104.5L63.3 101L63.9 99.5L67 95.4L71.5 93.1L71.8 88.5L74.5 84.2L77 81.9L78.6 78.5L79.5 77.9L83 79.2L83.9 76L86 75.1L90.5 79.2L90.6 84L92.2 88.5L97.5 94.9L98.6 99L100 100.7L103.4 102.5L104.3 104L104.7 107L102.6 109L102.5 110L103.8 113.5L103.8 117L105.3 119.5L104.7 122.5L106.1 125.5L105.4 132L101.6 138.5L100.9 144L102.1 147.5L102 152.7L97 154.4L94.5 158.5L94.4 162L97.3 165.5L97.4 168.5L96 170L91.6 172.5L89.5 175.8L89.1 174.5L87 174.3L82.5 177.7L80 178.6Z"/></clipPath><g clip-path="url(#cl21)"><g filter="url(#sm)"><path fill="rgb(3,255,0)" d="M56.6 128.7C56.6 95.5 75.7 68.4 82.1 68.4C88.5 68.4 107.7 95.5 107.7 128.7C107.7 154.5 94.9 175.6 82.1 175.6C69.4 175.6 56.6 154.5 56.6 128.7Z"/><path fill="rgb(7,255,0)" d="M56.9 128.7C56.9 95.8 75.8 68.9 82.1 68.9C88.4 68.9 107.4 95.8 107.4 128.7C107.4 154.2 94.7 175.1 82.1 175.1C69.5 175.1 56.9 154.2 56.9 128.7Z"/><path fill="rgb(11,255,0)" d="M57.3 128.7C57.3 96.1 75.9 69.4 82.1 69.4C88.3 69.4 107 96.1 107 128.7C107 153.9 94.6 174.6 82.1 174.6C69.7 174.6 57.3 153.9 57.3 128.7Z"/><path fill="rgb(15,255,0)" d="M57.6 128.7C57.6 96.4 76 70 82.1 70C88.3 70 106.7 96.4 106.7 128.7C106.7 153.6 94.4 174 82.1 174C69.8 174 57.6 153.6 57.6 128.7Z"/><path fill="rgb(20,255,0)" d="M57.9 128.7C57.9 96.7 76.1 70.5 82.1 70.5C88.2 70.5 106.4 96.7 106.4 128.7C106.4 153.3 94.2 173.5 82.1 173.5C70 173.5 57.9 153.3 57.9 128.7Z"/><path fill="rgb(24,255,0)" d="M58.3 128.7C58.3 97 76.1 71 82.1 71C88.1 71 106 97 106 128.7C106 153.1 94.1 173 82.1 173C70.2 173 58.3 153.1 58.3 128.7Z"/><path fill="rgb(28,255,0)" d="M58.6 128.7C58.6 97.3 76.2 71.6 82.1 71.6C88 71.6 105.7 97.3 105.7 128.7C105.7 152.8 93.9 172.4 82.1 172.4C70.3 172.4 58.6 152.8 58.6 128.7Z"/><path fill="rgb(32,255,0)" d="M58.9 128.7C58.9 97.6 76.3 72.1 82.1 72.1C87.9 72.1 105.4 97.6 105.4 128.7C105.4 152.5 93.7 171.9 82.1 171.9C70.5 171.9 58.9 152.5 58.9 128.7Z"/><path fill="rgb(37,255,0)" d="M59.2 128.7C59.2 97.9 76.4 72.6 82.1 72.6C87.8 72.6 105.1 97.9 105.1 128.7C105.1 152.2 93.6 171.4 82.1 171.4C70.7 171.4 59.2 152.2 59.2 128.7Z"/><path fill="rgb(42,255,0)" d="M59.6 128.7C59.6 98.2 76.5 73.2 82.1 73.2C87.8 73.2 104.7 98.2 104.7 128.7C104.7 151.9 93.4 170.8 82.1 170.8C70.8 170.8 59.6 151.9 59.6 128.7Z"/><path fill="rgb(47,255,0)" d="M59.9 128.7C59.9 98.4 76.5 73.7 82.1 73.7C87.7 73.7 104.4 98.4 104.4 128.7C104.4 151.6 93.3 170.3 82.1 170.3C71 170.3 59.9 151.6 59.9 128.7Z"/><path fill="rgb(53,255,0)" d="M60.2 128.7C60.2 98.7 76.6 74.2 82.1 74.2C87.6 74.2 104.1 98.7 104.1 128.7C104.1 151.3 93.1 169.8 82.1 169.8C71.2 169.8 60.2 151.3 60.2 128.7Z"/><path fill="rgb(58,255,0)" d="M60.5 128.7C60.5 99 76.7 74.8 82.1 74.8C87.5 74.8 103.8 99 103.8 128.7C103.8 151 92.9 169.2 82.1 169.2C71.3 169.2 60.5 151 60.5 128.7Z"/><path fill="rgb(63,255,0)" d="M60.9 128.7C60.9 99.3 76.8 75.3 82.1 75.3C87.4 75.3 103.4 99.3 103.4 128.7C103.4 150.7 92.8 168.7 82.1 168.7C71.5 168.7 60.9 150.7 60.9 128.7Z"/><path fill="rgb(68,255,0)" d="M61.2 128.7C61.2 99.6 76.9 75.8 82.1 75.8C87.4 75.8 103.1 99.6 103.1 128.7C103.1 150.4 92.6 168.2 82.1 168.2C71.6 168.2 61.2 150.4 61.2 128.7Z"/><path fill="rgb(76,255,0)" d="M61.6 128.7C61.6 99.9 77 76.4 82.1 76.4C87.2 76.4 102.7 99.9 102.7 128.7C102.7 150.1 92.4 167.6 82.1 167.6C71.9 167.6 61.6 150.1 61.6 128.7Z"/><path fill="rgb(84,255,0)" d="M62.1 128.7C62.1 100.2 77.1 76.9 82.1 76.9C87.1 76.9 102.2 100.2 102.2 128.7C102.2 149.8 92.2 167.1 82.1 167.1C72.1 167.1 62.1 149.8 62.1 128.7Z"/><path fill="rgb(92,255,0)" d="M62.5 128.7C62.5 100.5 77.2 77.4 82.1 77.4C87 77.4 101.8 100.5 101.8 128.7C101.8 149.5 91.9 166.6 82.1 166.6C72.3 166.6 62.5 149.5 62.5 128.7Z"/><path fill="rgb(101,255,0)" d="M63 128.7C63 100.8 77.3 78 82.1 78C86.9 78 101.3 100.8 101.3 128.7C101.3 149.2 91.7 166 82.1 166C72.6 166 63 149.2 63 128.7Z"/><path fill="rgb(109,255,0)" d="M63.5 128.7C63.5 101.1 77.4 78.5 82.1 78.5C86.8 78.5 100.8 101.1 100.8 128.7C100.8 148.9 91.5 165.5 82.1 165.5C72.8 165.5 63.5 148.9 63.5 128.7Z"/><path fill="rgb(117,255,0)" d="M63.9 128.7C63.9 101.4 77.6 79 82.1 79C86.7 79 100.4 101.4 100.4 128.7C100.4 148.7 91.2 165 82.1 165C73 165 63.9 148.7 63.9 128.7Z"/><path fill="rgb(129,255,0)" d="M64.4 128.7C64.4 101.7 77.7 79.6 82.1 79.6C86.5 79.6 99.9 101.7 99.9 128.7C99.9 148.4 91 164.4 82.1 164.4C73.3 164.4 64.4 148.4 64.4 128.7Z"/><path fill="rgb(144,255,0)" d="M64.9 128.7C64.9 102 77.8 80.1 82.1 80.1C86.4 80.1 99.4 102 99.4 128.7C99.4 148.1 90.8 163.9 82.1 163.9C73.5 163.9 64.9 148.1 64.9 128.7Z"/><path fill="rgb(158,255,0)" d="M65.3 128.7C65.3 102.3 77.9 80.6 82.1 80.6C86.3 80.6 99 102.3 99 128.7C99 147.8 90.5 163.4 82.1 163.4C73.7 163.4 65.3 147.8 65.3 128.7Z"/><path fill="rgb(172,255,0)" d="M65.8 128.7C65.8 102.6 78 81.2 82.1 81.2C86.2 81.2 98.5 102.6 98.5 128.7C98.5 147.5 90.3 162.8 82.1 162.8C74 162.8 65.8 147.5 65.8 128.7Z"/><path fill="rgb(186,255,0)" d="M66.3 128.7C66.3 102.8 78.1 81.7 82.1 81.7C86.1 81.7 98 102.8 98 128.7C98 147.2 90.1 162.3 82.1 162.3C74.2 162.3 66.3 147.2 66.3 128.7Z"/><path fill="rgb(200,255,0)" d="M66.7 128.7C66.7 103.1 78.3 82.2 82.1 82.2C86 82.2 97.6 103.1 97.6 128.7C97.6 146.9 89.8 161.8 82.1 161.8C74.4 161.8 66.7 146.9 66.7 128.7Z"/><path fill="rgb(217,255,0)" d="M67.2 128.7C67.2 103.4 78.4 82.8 82.1 82.8C85.8 82.8 97.1 103.4 97.1 128.7C97.1 146.6 89.6 161.2 82.1 161.2C74.7 161.2 67.2 146.6 67.2 128.7Z"/><path fill="rgb(233,255,0)" d="M67.7 128.7C67.7 103.7 78.5 83.3 82.1 83.3C85.7 83.3 96.6 103.7 96.6 128.7C96.6 146.3 89.4 160.7 82.1 160.7C74.9 160.7 67.7 146.3 67.7 128.7Z"/><path fill="rgb(250,255,0)" d="M68.1 128.7C68.1 104 78.6 83.8 82.1 83.8C85.6 83.8 96.2 104 96.2 128.7C96.2 146 89.1 160.2 82.1 160.2C75.1 160.2 68.1 146 68.1 128.7Z"/><path fill="rgb(255,247,0)" d="M68.5 128.7C68.5 104.4 78.7 84.5 82.1 84.5C85.5 84.5 95.8 104.4 95.8 128.7C95.8 145.7 88.9 159.6 82.1 159.6C75.3 159.6 68.5 145.7 68.5 128.7Z"/><path fill="rgb(255,236,0)" d="M68.8 128.7C68.8 104.8 78.8 85.2 82.1 85.2C85.4 85.2 95.4 104.8 95.4 128.7C95.4 145.4 88.8 159.1 82.1 159.1C75.4 159.1 68.8 145.4 68.8 128.7Z"/><path fill="rgb(255,225,0)" d="M69.1 128.8C69.1 105.2 78.8 86 82.1 86C85.3 86 95.1 105.2 95.1 128.8C95.1 145.1 88.6 158.5 82.1 158.5C75.6 158.5 69.1 145.1 69.1 128.8Z"/><path fill="rgb(255,214,0)" d="M69.4 128.8C69.4 105.6 78.9 86.7 82 86.7C85.2 86.7 94.8 105.6 94.8 128.8C94.8 144.8 88.4 157.9 82 157.9C75.7 157.9 69.4 144.8 69.4 128.8Z"/><path fill="rgb(255,203,0)" d="M69.7 128.8C69.7 106 78.9 87.4 82 87.4C85.1 87.4 94.4 106 94.4 128.8C94.4 144.5 88.2 157.4 82 157.4C75.9 157.4 69.7 144.5 69.7 128.8Z"/><path fill="rgb(255,192,0)" d="M70 128.8C70 106.4 79 88.1 82 88.1C85 88.1 94.1 106.4 94.1 128.8C94.1 144.2 88 156.8 82 156.8C76 156.8 70 144.2 70 128.8Z"/><path fill="rgb(255,181,0)" d="M70.3 128.8C70.3 106.9 79.1 88.9 82 88.9C84.9 88.9 93.8 106.9 93.8 128.8C93.8 143.9 87.9 156.3 82 156.3C76.1 156.3 70.3 143.9 70.3 128.8Z"/><path fill="rgb(255,168,0)" d="M70.6 128.8C70.6 107.3 79.1 89.6 82 89.6C84.8 89.6 93.4 107.3 93.4 128.8C93.4 143.6 87.7 155.7 82 155.7C76.3 155.7 70.6 143.6 70.6 128.8Z"/><path fill="rgb(255,156,0)" d="M70.9 128.9C70.9 107.7 79.2 90.3 82 90.3C84.7 90.3 93.1 107.7 93.1 128.9C93.1 143.3 87.5 155.1 82 155.1C76.4 155.1 70.9 143.3 70.9 128.9Z"/><path fill="rgb(255,143,0)" d="M71.2 128.9C71.2 108.1 79.3 91.1 81.9 91.1C84.6 91.1 92.7 108.1 92.7 128.9C92.7 143 87.3 154.6 81.9 154.6C76.6 154.6 71.2 143 71.2 128.9Z"/><path fill="rgb(255,130,0)" d="M71.5 128.9C71.5 108.5 79.3 91.8 81.9 91.8C84.5 91.8 92.4 108.5 92.4 128.9C92.4 142.7 87.2 154 81.9 154C76.7 154 71.5 142.7 71.5 128.9Z"/><path fill="rgb(255,113,0)" d="M71.8 128.9C71.8 108.9 79.4 92.5 81.9 92.5C84.5 92.5 92.1 108.9 92.1 128.9C92.1 142.4 87 153.4 81.9 153.4C76.9 153.4 71.8 142.4 71.8 128.9Z"/><path fill="rgb(255,97,0)" d="M72.1 128.9C72.1 109.3 79.5 93.3 81.9 93.3C84.4 93.3 91.7 109.3 91.7 128.9C91.7 142.1 86.8 152.9 81.9 152.9C77 152.9 72.1 142.1 72.1 128.9Z"/><path fill="rgb(255,80,0)" d="M72.4 129C72.4 109.7 79.5 94 81.9 94C84.3 94 91.4 109.7 91.4 129C91.4 141.8 86.6 152.3 81.9 152.3C77.1 152.3 72.4 141.8 72.4 129Z"/><path fill="rgb(255,59,0)" d="M72.7 129C72.7 110.1 79.6 94.7 81.9 94.7C84.2 94.7 91 110.1 91 129C91 141.5 86.5 151.8 81.9 151.8C77.3 151.8 72.7 141.5 72.7 129Z"/><path fill="rgb(255,34,0)" d="M73 129C73 110.5 79.6 95.5 81.9 95.5C84.1 95.5 90.7 110.5 90.7 129C90.7 141.2 86.3 151.2 81.9 151.2C77.4 151.2 73 141.2 73 129Z"/><path fill="rgb(255,10,0)" d="M73.6 129.1C73.6 111.5 79.8 97.2 81.8 97.2C83.9 97.2 90.1 111.5 90.1 129.1C90.1 140.7 86 150.2 81.8 150.2C77.7 150.2 73.6 140.7 73.6 129.1Z"/><path fill="rgb(255,0,0)" d="M74.3 129.3C74.3 112.8 79.9 99.3 81.8 99.3C83.7 99.3 89.3 112.8 89.3 129.3C89.3 140.2 85.6 149.1 81.8 149.1C78 149.1 74.3 140.2 74.3 129.3Z"/><path fill="rgb(232,0,19)" d="M75 129.5C75 114.1 80.1 101.5 81.8 101.5C83.5 101.5 88.6 114.1 88.6 129.5C88.6 139.6 85.2 147.9 81.8 147.9C78.4 147.9 75 139.6 75 129.5Z"/><path fill="rgb(175,0,67)" d="M75.6 129.7C75.6 115.4 80.2 103.7 81.7 103.7C83.3 103.7 87.9 115.4 87.9 129.7C87.9 139.1 84.8 146.7 81.7 146.7C78.7 146.7 75.6 139.1 75.6 129.7Z"/><path fill="rgb(100,0,130)" d="M76.3 129.9C76.3 116.7 80.4 105.9 81.7 105.9C83.1 105.9 87.1 116.7 87.1 129.9C87.1 138.5 84.4 145.6 81.7 145.6C79 145.6 76.3 138.5 76.3 129.9Z"/><path fill="rgb(25,0,205)" d="M77 130.1C77 118.1 80.5 108.3 81.7 108.3C82.9 108.3 86.5 118.1 86.5 130.1C86.5 137.9 84.1 144.4 81.7 144.4C79.3 144.4 77 137.9 77 130.1Z"/><path fill="rgb(0,13,238)" d="M77.5 130.3C77.5 119.9 80.7 111.5 81.8 111.5C82.9 111.5 86.1 119.9 86.1 130.3C86.1 137.3 83.9 143 81.8 143C79.6 143 77.5 137.3 77.5 130.3Z"/><path fill="rgb(0,33,251)" d="M78 130.5C78 121.8 80.9 114.6 81.9 114.6C82.8 114.6 85.7 121.8 85.7 130.5C85.7 136.7 83.8 141.7 81.9 141.7C79.9 141.7 78 136.7 78 130.5Z"/><path fill="rgb(0,60,255)" d="M78.5 130.8C78.5 123.6 81.1 117.7 81.9 117.7C82.8 117.7 85.4 123.6 85.4 130.8C85.4 136 83.6 140.4 81.9 140.4C80.2 140.4 78.5 136 78.5 130.8Z"/><path fill="rgb(0,90,255)" d="M79 131C79 125.4 81.2 120.8 82 120.8C82.7 120.8 85 125.4 85 131C85 135.4 83.5 139 82 139C80.5 139 79 135.4 79 131Z"/><path fill="rgb(0,120,255)" d="M79.5 131.2C79.5 127.2 81.4 123.9 82.1 123.9C82.7 123.9 84.6 127.2 84.6 131.2C84.6 134.8 83.3 137.7 82.1 137.7C80.8 137.7 79.5 134.8 79.5 131.2Z"/><path fill="rgb(0,149,255)" d="M80 131.4C80 128.6 81.6 126.3 82.1 126.3C82.6 126.3 84.2 128.6 84.2 131.4C84.2 134.2 83.2 136.5 82.1 136.5C81 136.5 80 134.2 80 131.4Z"/><path fill="rgb(0,176,255)" d="M80.3 131.4C80.3 129 81.6 127.1 82.1 127.1C82.6 127.1 83.9 129 83.9 131.4C83.9 133.8 83 135.7 82.1 135.7C81.2 135.7 80.3 133.8 80.3 131.4Z"/><path fill="rgb(0,203,255)" d="M80.6 131.4C80.6 129.5 81.7 127.9 82.1 127.9C82.5 127.9 83.6 129.5 83.6 131.4C83.6 133.3 82.8 134.9 82.1 134.9C81.4 134.9 80.6 133.3 80.6 131.4Z"/><path fill="rgb(0,230,255)" d="M80.9 131.4C80.9 129.9 81.8 128.7 82.1 128.7C82.4 128.7 83.3 129.9 83.3 131.4C83.3 132.9 82.7 134.1 82.1 134.1C81.5 134.1 80.9 132.9 80.9 131.4Z"/><path fill="rgb(0,239,255)" d="M81.3 131.4C81.3 130.3 81.9 129.5 82.1 129.5C82.3 129.5 82.9 130.3 82.9 131.4C82.9 132.5 82.5 133.3 82.1 133.3C81.7 133.3 81.3 132.5 81.3 131.4Z"/><path fill="rgb(0,249,255)" d="M81.6 131.4C81.6 130.8 82 130.3 82.1 130.3C82.2 130.3 82.6 130.8 82.6 131.4C82.6 132 82.4 132.5 82.1 132.5C81.8 132.5 81.6 132 81.6 131.4Z"/></g></g>
</svg>
<path d="M354.2 667.6H362.9M354.2 884.1H363.5V892.4M446.5 884.7v7.7M529.5 884.7v7.7" stroke="#111" stroke-width="1.3" fill="none"/>
<text x="353.3" y="671.9" font-size="13" text-anchor="end">8</text>
<use href="#one" transform="translate(345.90 888.50) scale(0.00635 -0.00635)"/>
<text x="362.0" y="905.7" font-size="13" text-anchor="middle">-8</text>
<text x="446.8" y="905.7" font-size="13" text-anchor="middle">0</text>
<text x="531.1" y="905.7" font-size="13" text-anchor="middle">8</text>
<text transform="translate(447.3 656.3) scale(1 1.04)" font-size="19.45" text-anchor="middle">PDAC2 vs PDAC3</text>
<text x="447.5" y="925.0" font-size="12.95" text-anchor="middle">Log2(PDAC2/PDAC3)</text>
<text transform="translate(339.7 767.8) rotate(-90)" font-size="12.8" text-anchor="middle">Log10(Average Intensity)</text>
<svg x="624.7" y="667.0" width="167.2" height="217.7" viewBox="0 0 167.2 217.7" overflow="hidden">
<rect width="167.2" height="217.7" fill="#f39a00"/>
<path fill="#00ff00" fill-rule="evenodd" d="M80.5 176L77.5 176L74.5 173.3L71 174.2L69.4 173L69.1 171.5L70.2 168.5L70.1 166L72 162L72.2 160L69.4 157L67 153.2L61.3 148.5L59.5 143.5L59 131L58 129.9L55 128.7L54.3 127L55 125.2L57.3 122.5L55.2 118.5L55.1 117L57.9 113.5L59.8 108.5L59.1 103.5L61.5 99.2L62.5 95.5L66 90.7L72.2 89.5L73.9 88.5L72.5 84L74.5 80.8L75.3 77L77.9 75L80 74.4L81.5 75.1L83.5 78.4L88.6 80L90.5 81.5L91.1 83L90.7 87.5L92 88.6L95 89.2L96.5 90.5L97.6 92.5L97.4 96L100.3 98.5L101.5 102.5L104.1 104.5L104.2 107L107.4 109.5L107.6 112L105.9 116L106.2 120L108 124L105.8 127.5L105.1 133L106.4 138L102.5 141L102.8 146.5L100.5 151L100.2 153.5L95 160L94.8 161L96.3 165L91 168.5L92 173.7L84.5 174.2L80.5 176Z"/><path stroke="#10f010" stroke-width="3.0" stroke-linecap="round" d="M72 89.4h0M61.4 85.7h0M71.5 91.2h0M61.7 153.4h0M73.1 72.4h0M95.5 81h0M59.2 124.9h0M98.5 87.4h0M94.5 91.3h0M105.1 137.6h0M105.9 116.8h0M95.1 156.6h0M62.1 100.6h0M93.6 76.4h0M85.7 79.5h0M94.9 159.4h0M108.6 145.5h0M95.2 155.1h0M73 83.1h0M59.5 127.6h0M105.7 112.9h0M99.9 91.3h0M99 101.1h0M66 151.7h0M98.9 99.2h0M86.2 74.3h0M100.8 146.9h0M84.4 173.9h0M91.5 89.4h0M96.6 94.2h0M63.4 95.6h0M68.6 172.5h0M88.9 65h0M63.1 86h0M62.2 93.7h0M104.6 144h0M90.8 162.9h0M101.9 150.8h0M99.2 100.5h0M75.5 78.4h0M105.5 144h0M95.5 87.9h0M71 77.3h0M59.1 143.5h0M54.9 118.7h0M59.6 113.8h0M106.3 108h0M61.4 145.3h0M107.4 124.4h0M87.2 82.1h0M109.8 100.9h0M56.1 135.7h0M107.5 124.5h0M89.7 84.3h0M60.9 122.4h0M59.3 99.9h0M98 91.5h0M73.8 159.6h0M98.5 149h0M63.9 163.7h0M65 149.7h0M102.7 154.5h0M55.5 124h0M100.2 152.8h0M106 117.9h0M93.2 81.1h0M107.7 107.9h0M61.8 142.9h0M63.3 96.4h0M101.6 100h0M106.9 110.5h0M69.9 164.4h0M70.5 160.1h0M102.7 137.3h0M61.2 147.5h0M55.9 122.8h0M103 95.3h0M108.1 118.8h0M105.4 109.9h0M96 79.4h0M72 84.9h0M71.5 170.2h0M57.2 139.7h0M107.2 108.6h0M89.6 182.2h0M94.3 73.8h0M99.5 94.4h0M107.1 89.5h0M98.1 101.3h0M58.8 113h0M92.7 185.7h0M62.5 141.9h0M101.2 157.5h0M69 157.1h0M88.6 85h0M83.7 82.5h0M61.9 135.4h0M71.5 164.5h0M99.4 96.7h0M87.9 86.1h0M76.1 86.9h0M102.4 153.2h0M110.5 98.1h0M58.1 94.3h0M90.9 79.1h0M110.3 109.9h0M56 151.8h0M77.1 82.1h0M106.1 123.5h0M93.9 91.5h0M99.6 101.5h0M59.8 128.3h0M107.7 126.6h0M98.3 87.6h0M60 110.6h0M99 93h0M98.7 99.7h0M60.4 140.3h0M94.2 76.9h0M62 148.2h0M65.3 159h0M60.9 102.3h0M68.9 153h0M94.1 90.7h0M74.2 159.7h0M103.7 125.6h0M53.7 132.9h0M103.9 105.7h0M76.4 85.6h0M65.5 149.4h0M104.1 105.2h0M77.3 83.6h0M101.5 144.6h0M87.4 168.1h0M90.5 88.2h0M106.8 112.4h0M74.3 159.2h0M66 85.4h0M68.3 162.1h0M91.8 82.8h0M61.7 140.1h0M71.2 90.7h0M108.1 137.3h0M101.6 142.1h0M58.8 134.1h0M76.7 174.8h0M91.4 86.1h0M85.6 165.5h0M63.2 140.2h0M74.9 85.7h0M94.5 155.2h0M107.9 94.8h0M66.5 92.9h0M104.2 105.2h0M110.2 102.2h0M76.9 76.6h0M62.1 101.3h0M67.6 91.7h0M87.2 161.7h0M74.5 87.2h0M89.8 86.5h0M61.8 138h0M59.4 132.1h0M55 129.4h0M96.8 159.2h0M87.3 82h0M65.9 87.3h0M96.8 168h0M59.6 96.8h0M51.4 135.3h0M65.2 154.7h0M104.3 118h0M55.6 128.7h0M99.2 82.2h0M94.2 160.5h0M106.6 146.3h0M63 138.2h0M77.1 79.9h0M68.7 90.6h0M70.4 155.2h0M61.7 133.6h0M60.5 84.8h0M101.9 147.5h0M100.1 154.9h0M98.1 98.6h0M64 93.1h0M88.5 89h0M99.6 159h0M97.1 155.6h0M101.9 86h0M78.5 67.1h0M66 91h0M54.8 93.7h0M86.1 87.2h0M99.6 94.4h0M105.5 129.7h0M93.7 161.7h0M56.9 157.1h0M71.8 167.1h0M86.9 86.8h0M59.7 129.9h0M102.2 93.2h0M53.6 119.8h0M51.3 151.2h0M58.5 127.9h0M70.2 175.9h0M97.6 93.1h0M87.2 176h0M101.2 146.2h0M58.9 105.3h0M70.5 173.1h0M73.9 83.8h0M93.8 164.5h0M96.9 89.7h0M100.8 146.6h0M101.2 105.1h0M82.1 84.8h0M48.9 126.1h0M88.5 89.4h0M59.4 143.5h0M105.8 112.3h0M59.3 127.2h0M58 102.6h0M53.7 149.3h0M57.2 74.3h0M106.8 136.3h0M70.4 80.6h0M91.2 78.9h0M70.9 170.1h0M108.9 141.4h0M94.8 84.6h0M72.9 173.1h0M61.9 134.7h0M59.8 98.3h0M93.6 90.6h0M103.4 167.1h0M84 80h0M82 81.6h0M102.1 105h0M101.2 154.5h0M74.7 63.4h0M71.4 173.9h0M96.8 99.1h0M62.4 89.8h0M104.5 135.5h0M108.1 102.4h0M92.5 170.8h0M53.3 121.4h0M110.4 124.4h0M96.3 176.7h0M95.3 92.1h0M52.5 150.2h0M107.2 126.4h0M118.6 129h0M90.7 176h0M103 103.9h0M101.3 147.2h0M117 126.8h0M59.3 127.9h0M57.1 126.2h0M57.3 116.7h0M92 169h0M103.2 124.9h0M110.4 144.6h0M71.9 76.8h0M63.5 96.2h0M70.4 170.7h0M56 153.6h0M94.8 72.5h0M55.8 104.3h0M61 150h0M69.2 89.9h0M58.7 145.3h0M62 152.6h0M104.8 130h0M58.3 125.9h0M62 142h0M56.3 116.7h0M91.2 170.6h0M69.3 159.4h0M105.6 117h0M115 118h0M60.7 147.8h0M90.2 79.6h0M103.8 131.8h0M71.6 158.3h0M50 71.4h0M65.4 152.7h0M106.2 113.3h0M90.2 165.9h0M81 83.3h0M57.8 94.2h0M87.9 164.2h0M73.9 163.5h0M103.9 96.6h0M62.1 148.9h0M61.4 107.5h0M106.6 142.3h0M65 151.5h0M66.6 161.2h0M62 131.9h0M104.8 71h0M105.9 126.1h0M65.3 89h0M102.1 138.8h0M108.5 142.3h0M110.2 121.8h0M106.7 147.6h0M62.1 149.5h0M56.6 128.7h0M94.7 156.1h0M107.2 94.8h0M96.3 84.6h0M58.8 135.6h0M98.5 97.6h0M63 144.5h0M104.8 135h0M105.2 103.3h0M63.3 152h0M63 137.4h0M96.2 93.1h0M56.4 83.2h0M103.5 121.6h0M61.7 139.7h0M104.6 121.9h0M106 122h0M97.2 87.4h0M105.7 94h0M98.3 149.3h0M61.2 105h0M119.1 122.5h0M67.1 168.6h0M99.9 100.1h0M90.9 163.8h0M105.2 104.8h0M98.8 154.1h0M53 125.7h0M49.7 113.7h0M107.9 130.5h0M58.9 151.2h0M52.6 121.8h0M103.6 133h0M110 148.5h0M105.8 136.5h0M98.1 150h0M54.7 155.2h0M86.5 75.2h0M106.5 124h0M87.8 162.4h0M71.9 83.1h0M57 126.9h0M92.9 160.7h0M72.9 71.8h0M61.1 103.2h0M106.8 109.8h0M99.8 103h0M58.6 136.6h0M107.5 141h0M102 88.9h0M90.7 173.2h0M107.7 136h0M97 165.6h0M101.4 146.3h0M99.5 99h0M106.7 121.1h0M60.1 82.4h0M82.4 180.5h0M106.2 126.5h0M88 80.2h0M110.3 90.3h0M66.4 93.2h0M105.4 98.1h0M75 83.3h0M62.9 106.7h0M98.3 74.4h0M107.9 137.8h0M92 159.1h0M61.4 172.5h0M96.6 160.6h0M89 80h0M80.9 77.5h0M80.9 76.5h0M60.4 136.5h0M57.7 149.8h0M102.8 141.6h0M58.4 158.3h0M105 144.1h0M55.6 166.4h0M67.8 74.9h0M119.5 143.5h0M58 131.7h0M53.3 107.5h0M60 133.1h0M109 129.6h0M73.4 190.7h0M105.6 143.2h0M75.1 177.7h0M105.7 131.4h0M83.3 79.7h0M61.1 104.1h0M57.8 156.9h0M56.5 140.7h0M94.5 85.3h0M55.6 127.2h0M97 164.1h0M109.5 118.6h0M61.2 145.2h0M71.5 166.8h0M107.3 145h0M101.1 148.5h0M100.9 92.2h0M60.7 138.9h0M87.2 82.6h0M95.6 96.6h0M93.7 88.9h0M103.8 133.8h0M63.9 99.6h0M91.3 85.8h0M69.7 176.8h0M94.3 169.5h0M57.7 110.3h0M60.9 138h0M84 165.5h0M68.5 166.7h0M98 83.9h0M115 133h0M106.3 112.5h0M76.1 86.4h0M104.1 115.3h0M67.7 154h0M99.4 100h0M55.9 134.2h0M73.1 163.4h0M107.4 108.8h0M62.6 97.3h0M93.4 166h0M103.4 138.4h0M118.1 109.4h0M107.9 144.7h0M61.6 132.9h0M54.8 129h0M68.8 157h0M103.6 153.5h0M64.7 146.5h0M60 123.7h0M93.5 162.3h0M99.2 150.2h0M112.9 100.6h0M68.7 153.8h0M102.7 149h0M87.1 180.5h0M105.1 118.1h0M72.8 165h0M79.8 83.1h0M67.2 84.5h0M53.2 147.8h0M109.9 124.6h0M95.4 156h0M43.8 118.2h0M115.1 120.9h0M57.6 123.3h0M87.7 175.4h0M59.8 144.3h0M53.7 129.8h0M62 98.7h0M55.7 122.5h0M52.6 132.4h0M103.8 104.9h0M107.8 132.3h0M102.6 138.9h0M62.9 162.2h0M49 111h0M64.2 85h0M90.6 90h0M89.7 181.1h0M48.7 118.7h0M88.6 190.3h0M91.2 163.4h0M56.5 110h0M94.7 156.5h0M52.9 107.4h0M97.4 154.3h0M67.3 91.8h0M114.6 155.5h0M100.6 104.9h0M55.7 142.7h0M88.8 87.3h0M59.8 129.2h0M84.1 62.9h0M89.4 160.9h0M108.8 111.8h0M45.5 146.1h0M55.7 118.2h0M75.3 76.6h0M103.9 153h0M111.4 89.6h0M58.3 103h0M58.7 164.1h0M106.1 128.8h0M52.4 97.4h0M60 81h0M72 72.2h0M92.7 84.8h0M49.6 127.1h0M89.3 161.4h0M73.9 87h0M58.2 125.7h0M61.5 141.3h0M100.5 104.7h0M86.5 165.8h0M67.6 182.2h0M111.4 139.8h0M61 143.3h0M81.4 84.8h0M56.3 140.2h0M55.3 127.6h0M64.2 149h0M95.1 163.7h0M59.6 171.6h0M109.9 124.2h0M58.9 139h0M102.8 156h0M64.9 78.2h0M90.7 81.7h0M103.8 97.2h0M61.7 108.3h0M62.3 106.5h0M66.4 87.4h0M105.9 98.2h0M54.7 132.2h0M113.2 118.5h0M99.1 88h0M89.8 168.4h0M107 98.2h0M59.2 121.7h0M102.6 93h0M53.2 136.9h0M64.7 161.4h0M106.4 139.3h0M63.1 100h0M53 159.9h0M101.6 147.2h0M100.8 155.5h0M60.8 135.8h0M107.3 113.5h0M69.2 171.5h0M107.1 111.2h0M61 103.8h0M112.1 136.1h0M55.8 101.2h0M98.3 158.3h0M115.8 102.4h0M104.8 116.6h0M91.7 159.1h0M64.8 90.4h0M108 104.2h0M103.4 120.3h0M110.5 112.3h0M110.1 115.1h0M116.5 94.5h0M87.8 162.4h0M104 130.2h0M52.4 85.1h0M72.1 197.9h0M102.2 165.2h0M122.8 126h0M104.3 118.8h0M64.1 92.7h0M108.5 142.8h0M73.2 171h0M92.4 82.9h0M105.5 122.3h0M55 137.7h0M95 157.9h0M110.2 120.6h0M106 102.1h0M66.6 151.4h0M98.7 153.3h0M96 163.4h0M96 158h0M103 122.6h0M114.4 120.4h0M104 94.9h0M103.6 118.6h0M54 150.9h0M61.6 146.7h0M52.5 115.6h0M96.5 98.3h0M97.6 98.6h0M91.8 163.7h0M114.4 127.6h0M106.9 124.9h0M60.3 104.6h0M105.3 109.5h0M93.6 158.1h0M103.7 160.4h0M58.1 107.6h0M58 115.8h0M67.7 180.1h0M106.6 127.4h0M68.5 165h0M58 108h0M71.5 173.5h0M56.1 126.9h0M100.9 100.1h0M59.5 110.7h0M104.4 155.2h0M106 139.1h0M60.5 160.4h0M97.6 154.4h0M59.2 131.3h0M59.3 138.5h0M78.3 68.8h0M63 100.2h0M84.3 83.3h0M51.9 127.2h0M101.5 173.2h0M102.6 170.6h0M93.6 159.6h0M56.9 151.3h0M102.6 150.8h0M67.1 155.1h0M69.8 166.3h0M104.4 110.3h0M101.7 88.8h0M107.5 155.4h0M43.3 90.5h0M110.7 114.7h0M115.3 97.9h0M106.3 110.6h0M93.8 165.1h0M101.9 160h0M113.1 110.1h0M59.4 132.1h0M103.2 94.6h0M54.6 117.3h0M104.2 123.2h0M94.5 155.1h0M73.1 75.4h0M106.2 141.2h0M105.8 137.3h0M61.8 149.9h0M110.4 118.3h0M75.9 87.4h0M62.3 108.7h0M63.1 145.8h0M60.7 109.6h0M95.4 80.8h0M93.5 157.2h0M63 143.3h0M104.7 135h0M89.1 87.9h0M107.3 90.5h0M108.1 123.5h0M62.2 95.4h0M63.6 157.1h0M110.4 143.4h0M73.3 193.6h0M53.7 154.6h0M63.1 143.8h0M102.9 104.9h0M99.7 83.5h0M104.5 148.8h0M66 93.9h0M71.1 159.4h0M56.4 127.7h0M108.9 129.9h0M65.2 156.4h0M96.4 164.3h0M77.9 81.9h0M73.2 91h0M102.6 145h0M72.7 84.8h0M57.2 148.7h0M76.1 79.3h0M62.3 102.5h0M89.5 168.9h0M72.8 158.2h0M54.4 109h0M65.2 148.7h0M91.4 83.1h0M105.3 99.1h0M108.8 144.2h0M107.4 139h0M103 140h0M73.4 166.7h0M69 156.8h0M54.4 117.3h0M71.6 156.6h0M98.9 149.2h0M61.6 145.4h0M66.3 161.6h0M114.4 115.1h0M47.7 105.8h0M84.6 85.9h0M67.4 151.3h0M88 170.9h0M77.3 80.9h0M84.4 74h0M80.6 83.7h0M85.4 82.5h0M81.3 77.8h0M77 82.7h0M85.9 81.7h0M70.5 82.5h0M76.6 74.1h0M87 68h0M80.3 82.7h0M81.8 63.7h0M72.3 73.3h0M85.4 78h0M90.5 65.9h0M77.2 81.7h0M74.5 76.8h0M91.6 70.8h0M76.9 80.1h0M78 71h0M83.2 84.5h0M80.2 69h0M74.3 82.7h0M85.3 80h0M76.8 80.9h0M89.5 83h0M88.1 66.4h0M88.9 68.9h0M79.3 81.1h0M74 84.1h0M74 84.5h0M89.2 65.2h0M83.1 70h0M89.4 72.4h0M80.5 70.9h0M84.4 83.1h0M86.6 71.9h0M90.8 83.1h0M84.8 72.9h0M83.3 67.4h0M90.5 69.1h0M75.6 83.5h0M86.9 66h0M91.7 77.2h0M77.6 78.2h0M80.4 75.1h0M77.2 69.4h0M73 86.2h0M85.1 82.7h0M83.1 78.9h0M88.3 79.7h0M87.1 80.1h0M84.2 81.1h0M77.3 76.2h0M89.8 76.2h0M86 69.2h0M83.4 61.9h0M79.7 76.9h0M80.9 76.2h0M80.5 74h0M73.8 73.2h0M81.1 76.9h0M73.5 74.5h0M83.9 80.5h0M81.3 74.9h0M76.3 85.8h0M73.6 76h0M89 67.2h0M91.9 80.3h0M81.3 66h0M81.5 69.8h0M75.2 70.6h0M76.1 80.8h0M80.2 75.6h0M72.6 75.1h0M84.7 72.7h0M87.6 72h0M80.9 69.5h0M79.7 72.6h0M86.2 82.2h0M79.6 66.5h0M83.2 58.4h0M87.7 86.9h0M78.4 75.1h0M90.6 76.2h0M91.1 166.4h0M63.6 163.4h0M95.7 173.6h0M86.9 163.8h0M76.4 172.8h0M92.6 173.9h0M76.9 174.6h0M74.7 179.6h0M89.3 170.3h0M73.2 178.4h0M84.4 164.6h0M96.4 164.3h0M98.6 167.6h0M77.8 176.9h0M88.3 167.3h0M76.7 177.3h0M93.9 178.5h0M69.7 178.4h0M79.2 180.1h0M69 165.4h0M74.9 158.1h0M71.8 174.9h0M64.4 172h0M85.2 176.5h0M82.3 177.9h0M75.5 177.2h0M92 177.1h0M84 186.3h0M89.4 161.6h0M73.4 172.2h0M93 163.8h0M93.1 174.4h0M73.8 161.5h0M70.2 171.9h0M92.2 171.9h0M87.7 167.2h0M72.3 175h0M91.2 172.8h0M68.3 174.1h0M73 165.9h0M65.9 168.4h0M84.4 180.8h0M96 157h0M86.3 166.2h0M89.6 167.2h0M87.2 168.7h0M72.6 171.1h0M85.3 173.1h0M80.4 174.7h0M83.4 174.8h0M74 170.1h0M89.4 171.8h0M95 165.7h0M87.1 161.6h0M99 166h0M78.4 176.4h0M91.7 165.9h0M72 170.5h0M85 172.4h0M93.1 166.3h0M73.2 176.8h0M89.9 171.7h0M87 176.9h0M91.7 174.4h0M75.6 172h0M79.8 175.8h0M71 169h0M76.9 178.9h0M89.2 172.2h0M94.6 163.5h0M91.8 165.5h0M80.8 174.2h0M83.3 164.1h0M77.5 174.5h0M81.5 174.8h0M83.7 182.2h0M97.2 178.9h0M86.4 173.8h0M89.3 171.3h0M81.9 174.1h0M91.6 175.7h0M94.2 174.4h0M94.8 176.9h0M89.1 173h0M97.2 165.5h0M81.1 179.7h0M68.5 168.9h0M79.5 179.8h0M87.5 172.9h0M97.2 171.2h0M66.8 171.3h0M82 176.9h0M71.9 164h0M82.4 181.6h0M79.8 175.2h0M69.9 167.2h0M94.5 168.9h0M77.5 173.7h0M96.5 166.7h0M93.2 174.1h0M86.2 183.9h0M88.7 168.2h0M67.4 172.1h0M86.6 179.7h0M66.9 165.5h0M90.2 178.4h0M88.2 171.6h0M91 165.9h0M83.2 178.4h0M79.1 179.2h0M71 173.4h0M93.4 176.6h0M64.5 163.6h0M87.9 177.6h0M75.7 171.1h0M87.3 85.9h0M116.5 117.8h0M56.2 104.8h0M47.6 135.1h0M94.4 89.4h0M22.9 148.6h0M55.3 123.7h0M50.1 114.5h0M99.8 92.7h0M45.5 114.8h0M109.7 114.3h0M110.6 103.9h0M40.4 107.1h0M47.1 112.6h0M111.3 139.9h0M101.7 147.6h0M115.1 122.7h0M106.2 121.2h0M138.2 135.4h0M32.2 118.6h0M99.8 83.4h0M65.4 86h0M101 85.8h0M124.8 115.2h0M44.3 96.6h0M45.6 91.2h0M113.7 101.5h0M58.6 105h0M53.8 126.5h0M121.6 128.7h0M50.7 106.3h0M43.6 121h0M57.8 81.9h0M98.4 98.6h0M123.3 111.6h0M62.1 142.7h0M50.9 131.4h0M54.5 123.7h0M48.5 105.5h0M137.8 130.1h0M95.6 77.5h0M117.7 112.6h0M131 139.8h0M118.6 131.7h0M122.6 137.7h0M43 114.4h0M125.5 112.7h0M121 115.2h0M53.3 110.2h0M109.8 117.3h0M104.2 131.7h0M62.2 90.7h0M110.6 94.9h0M96 89.7h0M111 140.1h0M65.3 77.1h0M119.8 125.4h0M49.8 109.5h0M13.5 118.5h0M42.8 110.4h0M54.5 113.3h0M33.5 113.3h0M53.4 110.2h0M114.4 128.2h0M39.1 120.6h0M121.4 99.4h0M101.8 153h0M20.5 120.5h0M107.3 104.8h0M122.4 94.8h0M54.2 116.5h0M114.9 129.7h0M108 88.9h0M76.3 79.1h0M42.6 101.2h0M53.6 97.5h0M58.6 95.7h0M124.1 128.5h0M50.3 132.9h0M23.1 118h0M31.7 114.3h0M15.5 110.8h0M10.2 113.2h0M38.9 113.9h0M20.2 112.9h0M24.9 113.3h0M26.9 109.4h0M142.3 121.9h0M154.3 111.6h0M159.9 111.4h0M154.7 118.7h0M145.4 122.3h0M136.4 114.7h0"/><clipPath id="cl22"><path clip-rule="evenodd" d="M80.5 176L77.5 176L74.5 173.3L71 174.2L69.4 173L69.1 171.5L70.2 168.5L70.1 166L72 162L72.2 160L69.4 157L67 153.2L61.3 148.5L59.5 143.5L59 131L58 129.9L55 128.7L54.3 127L55 125.2L57.3 122.5L55.2 118.5L55.1 117L57.9 113.5L59.8 108.5L59.1 103.5L61.5 99.2L62.5 95.5L66 90.7L72.2 89.5L73.9 88.5L72.5 84L74.5 80.8L75.3 77L77.9 75L80 74.4L81.5 75.1L83.5 78.4L88.6 80L90.5 81.5L91.1 83L90.7 87.5L92 88.6L95 89.2L96.5 90.5L97.6 92.5L97.4 96L100.3 98.5L101.5 102.5L104.1 104.5L104.2 107L107.4 109.5L107.6 112L105.9 116L106.2 120L108 124L105.8 127.5L105.1 133L106.4 138L102.5 141L102.8 146.5L100.5 151L100.2 153.5L95 160L94.8 161L96.3 165L91 168.5L92 173.7L84.5 174.2L80.5 176Z"/></clipPath><g clip-path="url(#cl22)"><g filter="url(#sm)"><path fill="rgb(3,255,0)" d="M52.3 125C52.3 95.4 63.8 71.1 80.9 71.1C98.1 71.1 109.6 95.4 109.6 125C109.6 152.3 95.2 174.6 80.9 174.6C66.6 174.6 52.3 152.3 52.3 125Z"/><path fill="rgb(7,255,0)" d="M52.6 125C52.6 95.7 63.9 71.6 80.9 71.6C97.9 71.6 109.3 95.7 109.3 125C109.3 152 95.1 174.1 80.9 174.1C66.8 174.1 52.6 152 52.6 125Z"/><path fill="rgb(11,255,0)" d="M53 125C53 95.9 64.1 72.2 80.9 72.2C97.7 72.2 108.9 95.9 108.9 125C108.9 151.7 94.9 173.6 80.9 173.6C66.9 173.6 53 151.7 53 125Z"/><path fill="rgb(15,255,0)" d="M53.3 125C53.3 96.2 64.3 72.7 80.9 72.7C97.5 72.7 108.6 96.2 108.6 125C108.6 151.4 94.8 173 80.9 173C67.1 173 53.3 151.4 53.3 125Z"/><path fill="rgb(20,255,0)" d="M53.6 125C53.6 96.5 64.5 73.2 80.9 73.2C97.3 73.2 108.3 96.5 108.3 125C108.3 151.1 94.6 172.5 80.9 172.5C67.3 172.5 53.6 151.1 53.6 125Z"/><path fill="rgb(24,255,0)" d="M54 125C54 96.8 64.7 73.8 80.9 73.8C97.1 73.8 107.9 96.8 107.9 125C107.9 150.8 94.4 172 80.9 172C67.4 172 54 150.8 54 125Z"/><path fill="rgb(28,255,0)" d="M54.3 125C54.3 97.1 64.9 74.3 80.9 74.3C96.9 74.3 107.6 97.1 107.6 125C107.6 150.5 94.3 171.4 80.9 171.4C67.6 171.4 54.3 150.5 54.3 125Z"/><path fill="rgb(32,255,0)" d="M54.6 125C54.6 97.4 65.1 74.8 80.9 74.8C96.7 74.8 107.3 97.4 107.3 125C107.3 150.3 94.1 170.9 80.9 170.9C67.8 170.9 54.6 150.3 54.6 125Z"/><path fill="rgb(37,255,0)" d="M54.9 125C54.9 97.7 65.3 75.4 80.9 75.4C96.5 75.4 107 97.7 107 125C107 150 93.9 170.4 80.9 170.4C67.9 170.4 54.9 150 54.9 125Z"/><path fill="rgb(42,255,0)" d="M55.3 125C55.3 98 65.5 75.9 80.9 75.9C96.3 75.9 106.6 98 106.6 125C106.6 149.7 93.8 169.8 80.9 169.8C68.1 169.8 55.3 149.7 55.3 125Z"/><path fill="rgb(47,255,0)" d="M55.6 125C55.6 98.3 65.7 76.4 80.9 76.4C96.1 76.4 106.3 98.3 106.3 125C106.3 149.4 93.6 169.3 80.9 169.3C68.2 169.3 55.6 149.4 55.6 125Z"/><path fill="rgb(53,255,0)" d="M55.9 125C55.9 98.6 65.9 77 80.9 77C96 77 106 98.6 106 125C106 149.1 93.4 168.8 80.9 168.8C68.4 168.8 55.9 149.1 55.9 125Z"/><path fill="rgb(58,255,0)" d="M56.2 125C56.2 98.9 66.1 77.5 80.9 77.5C95.8 77.5 105.7 98.9 105.7 125C105.7 148.8 93.3 168.2 80.9 168.2C68.6 168.2 56.2 148.8 56.2 125Z"/><path fill="rgb(63,255,0)" d="M56.6 125C56.6 99.2 66.3 78 80.9 78C95.6 78 105.3 99.2 105.3 125C105.3 148.5 93.1 167.7 80.9 167.7C68.7 167.7 56.6 148.5 56.6 125Z"/><path fill="rgb(68,255,0)" d="M56.9 125C56.9 99.5 66.5 78.6 80.9 78.6C95.4 78.6 105 99.5 105 125C105 148.2 93 167.2 80.9 167.2C68.9 167.2 56.9 148.2 56.9 125Z"/><path fill="rgb(76,255,0)" d="M57.3 125C57.3 99.8 66.7 79.1 80.9 79.1C95.1 79.1 104.6 99.8 104.6 125C104.6 147.9 92.7 166.6 80.9 166.6C69.1 166.6 57.3 147.9 57.3 125Z"/><path fill="rgb(84,255,0)" d="M57.8 125C57.8 100.1 67 79.6 80.9 79.6C94.8 79.6 104.1 100.1 104.1 125C104.1 147.6 92.5 166.1 80.9 166.1C69.3 166.1 57.8 147.6 57.8 125Z"/><path fill="rgb(92,255,0)" d="M58.2 125C58.2 100.3 67.3 80.2 80.9 80.2C94.6 80.2 103.7 100.3 103.7 125C103.7 147.3 92.3 165.6 80.9 165.6C69.6 165.6 58.2 147.3 58.2 125Z"/><path fill="rgb(101,255,0)" d="M58.7 125C58.7 100.6 67.6 80.7 80.9 80.7C94.3 80.7 103.2 100.6 103.2 125C103.2 147 92 165 80.9 165C69.8 165 58.7 147 58.7 125Z"/><path fill="rgb(109,255,0)" d="M59.2 125C59.2 100.9 67.9 81.2 80.9 81.2C94 81.2 102.7 100.9 102.7 125C102.7 146.7 91.8 164.5 80.9 164.5C70 164.5 59.2 146.7 59.2 125Z"/><path fill="rgb(117,255,0)" d="M59.6 125C59.6 101.2 68.1 81.8 80.9 81.8C93.7 81.8 102.3 101.2 102.3 125C102.3 146.4 91.6 164 80.9 164C70.3 164 59.6 146.4 59.6 125Z"/><path fill="rgb(129,255,0)" d="M60.1 125C60.1 101.5 68.4 82.3 80.9 82.3C93.4 82.3 101.8 101.5 101.8 125C101.8 146.1 91.3 163.4 80.9 163.4C70.5 163.4 60.1 146.1 60.1 125Z"/><path fill="rgb(144,255,0)" d="M60.6 125C60.6 101.8 68.7 82.8 80.9 82.8C93.2 82.8 101.3 101.8 101.3 125C101.3 145.9 91.1 162.9 80.9 162.9C70.7 162.9 60.6 145.9 60.6 125Z"/><path fill="rgb(158,255,0)" d="M61 125C61 102.1 69 83.4 80.9 83.4C92.9 83.4 100.9 102.1 100.9 125C100.9 145.6 90.9 162.4 80.9 162.4C71 162.4 61 145.6 61 125Z"/><path fill="rgb(172,255,0)" d="M61.5 125C61.5 102.4 69.3 83.9 80.9 83.9C92.6 83.9 100.4 102.4 100.4 125C100.4 145.3 90.6 161.8 80.9 161.8C71.2 161.8 61.5 145.3 61.5 125Z"/><path fill="rgb(186,255,0)" d="M62 125C62 102.7 69.5 84.4 80.9 84.4C92.3 84.4 99.9 102.7 99.9 125C99.9 145 90.4 161.3 80.9 161.3C71.4 161.3 62 145 62 125Z"/><path fill="rgb(200,255,0)" d="M62.4 125C62.4 103 69.8 85 80.9 85C92 85 99.5 103 99.5 125C99.5 144.7 90.2 160.8 80.9 160.8C71.7 160.8 62.4 144.7 62.4 125Z"/><path fill="rgb(217,255,0)" d="M62.9 125C62.9 103.3 70.1 85.5 80.9 85.5C91.8 85.5 99 103.3 99 125C99 144.4 89.9 160.2 80.9 160.2C71.9 160.2 62.9 144.4 62.9 125Z"/><path fill="rgb(233,255,0)" d="M63.4 125C63.4 103.6 70.4 86 80.9 86C91.5 86 98.5 103.6 98.5 125C98.5 144.1 89.7 159.7 80.9 159.7C72.1 159.7 63.4 144.1 63.4 125Z"/><path fill="rgb(250,255,0)" d="M63.8 125C63.8 103.9 70.7 86.6 80.9 86.6C91.2 86.6 98.1 103.9 98.1 125C98.1 143.8 89.5 159.2 80.9 159.2C72.4 159.2 63.8 143.8 63.8 125Z"/><path fill="rgb(255,247,0)" d="M64.3 125C64.3 104.1 70.9 87.1 80.9 87.1C91 87.1 97.7 104.1 97.7 125C97.7 143.5 89.3 158.7 80.9 158.7C72.6 158.7 64.3 143.5 64.3 125Z"/><path fill="rgb(255,236,0)" d="M64.7 125C64.7 104.4 71.2 87.6 81 87.6C90.8 87.6 97.3 104.4 97.3 125C97.3 143.3 89.2 158.3 81 158.3C72.8 158.3 64.7 143.3 64.7 125Z"/><path fill="rgb(255,225,0)" d="M65.1 125C65.1 104.7 71.4 88.1 81 88.1C90.6 88.1 97 104.7 97 125C97 143 89 157.8 81 157.8C73 157.8 65.1 143 65.1 125Z"/><path fill="rgb(255,214,0)" d="M65.4 125C65.4 105 71.7 88.6 81 88.6C90.4 88.6 96.7 105 96.7 125C96.7 142.8 88.9 157.4 81 157.4C73.2 157.4 65.4 142.8 65.4 125Z"/><path fill="rgb(255,203,0)" d="M65.8 125C65.8 105.3 71.9 89.1 81.1 89.1C90.2 89.1 96.4 105.3 96.4 125C96.4 142.6 88.7 156.9 81.1 156.9C73.5 156.9 65.8 142.6 65.8 125Z"/><path fill="rgb(255,192,0)" d="M66.2 125C66.2 105.5 72.2 89.6 81.1 89.6C90.1 89.6 96 105.5 96 125C96 142.3 88.6 156.5 81.1 156.5C73.7 156.5 66.2 142.3 66.2 125Z"/><path fill="rgb(255,181,0)" d="M66.6 125C66.6 105.8 72.4 90.1 81.1 90.1C89.9 90.1 95.7 105.8 95.7 125C95.7 142.1 88.4 156 81.1 156C73.9 156 66.6 142.1 66.6 125Z"/><path fill="rgb(255,168,0)" d="M67 125C67 106.1 72.7 90.6 81.2 90.6C89.7 90.6 95.4 106.1 95.4 125C95.4 141.8 88.3 155.6 81.2 155.6C74.1 155.6 67 141.8 67 125Z"/><path fill="rgb(255,156,0)" d="M67.4 125C67.4 106.4 72.9 91.1 81.2 91.1C89.5 91.1 95 106.4 95 125C95 141.6 88.1 155.2 81.2 155.2C74.3 155.2 67.4 141.6 67.4 125Z"/><path fill="rgb(255,143,0)" d="M67.8 125C67.8 106.6 73.2 91.6 81.3 91.6C89.3 91.6 94.7 106.6 94.7 125C94.7 141.3 88 154.7 81.3 154.7C74.5 154.7 67.8 141.3 67.8 125Z"/><path fill="rgb(255,130,0)" d="M68.2 125C68.2 106.9 73.4 92.1 81.3 92.1C89.1 92.1 94.4 106.9 94.4 125C94.4 141.1 87.8 154.3 81.3 154.3C74.7 154.3 68.2 141.1 68.2 125Z"/><path fill="rgb(255,113,0)" d="M68.6 125C68.6 107.2 73.7 92.6 81.3 92.6C89 92.6 94 107.2 94 125C94 140.9 87.7 153.8 81.3 153.8C75 153.8 68.6 140.9 68.6 125Z"/><path fill="rgb(255,97,0)" d="M69 125C69 107.5 73.9 93.1 81.4 93.1C88.8 93.1 93.7 107.5 93.7 125C93.7 140.6 87.5 153.4 81.4 153.4C75.2 153.4 69 140.6 69 125Z"/><path fill="rgb(255,80,0)" d="M69.4 125C69.4 107.7 74.2 93.6 81.4 93.6C88.6 93.6 93.4 107.7 93.4 125C93.4 140.4 87.4 152.9 81.4 152.9C75.4 152.9 69.4 140.4 69.4 125Z"/><path fill="rgb(255,59,0)" d="M69.8 125C69.8 108 74.4 94.1 81.5 94.1C88.4 94.1 93 108 93 125C93 140.1 87.2 152.5 81.5 152.5C75.6 152.5 69.8 140.1 69.8 125Z"/><path fill="rgb(255,34,0)" d="M70.2 125C70.2 108.3 74.7 94.6 81.5 94.6C88.2 94.6 92.7 108.3 92.7 125C92.7 139.9 87.1 152 81.5 152C75.8 152 70.2 139.9 70.2 125Z"/><path fill="rgb(255,10,0)" d="M70.8 125.4C70.8 109.4 75.1 96.4 81.5 96.4C87.8 96.4 92 109.4 92 125.4C92 139.5 86.8 151.1 81.5 151.1C76.2 151.1 70.8 139.5 70.8 125.4Z"/><path fill="rgb(255,0,0)" d="M71.7 125.9C71.7 111 75.6 98.7 81.5 98.7C87.3 98.7 91.2 111 91.2 125.9C91.2 139.2 86.3 150 81.5 150C76.6 150 71.7 139.2 71.7 125.9Z"/><path fill="rgb(232,0,19)" d="M72.5 126.5C72.5 112.5 76.1 101.1 81.4 101.1C86.8 101.1 90.3 112.5 90.3 126.5C90.3 138.8 85.9 148.8 81.4 148.8C77 148.8 72.5 138.8 72.5 126.5Z"/><path fill="rgb(175,0,67)" d="M73.3 127.1C73.3 114 76.6 103.4 81.4 103.4C86.3 103.4 89.5 114 89.5 127.1C89.5 138.4 85.5 147.6 81.4 147.6C77.4 147.6 73.3 138.4 73.3 127.1Z"/><path fill="rgb(100,0,130)" d="M74.2 127.6C74.2 115.6 77.1 105.7 81.4 105.7C85.8 105.7 88.7 115.6 88.7 127.6C88.7 138 85 146.5 81.4 146.5C77.8 146.5 74.2 138 74.2 127.6Z"/><path fill="rgb(25,0,205)" d="M74.9 128.2C74.9 117.3 77.5 108.3 81.4 108.3C85.3 108.3 87.9 117.3 87.9 128.2C87.9 137.6 84.7 145.2 81.4 145.2C78.2 145.2 74.9 137.6 74.9 128.2Z"/><path fill="rgb(0,13,238)" d="M75.7 128.8C75.7 119.3 78.1 111.5 81.6 111.5C85.1 111.5 87.5 119.3 87.5 128.8C87.5 137.1 84.6 143.9 81.6 143.9C78.7 143.9 75.7 137.1 75.7 128.8Z"/><path fill="rgb(0,33,251)" d="M76.5 129.5C76.5 121.3 78.6 114.6 81.8 114.6C84.9 114.6 87 121.3 87 129.5C87 136.7 84.4 142.5 81.8 142.5C79.1 142.5 76.5 136.7 76.5 129.5Z"/><path fill="rgb(0,60,255)" d="M77.2 130.1C77.2 123.3 79.1 117.7 81.9 117.7C84.7 117.7 86.6 123.3 86.6 130.1C86.6 136.2 84.2 141.2 81.9 141.2C79.5 141.2 77.2 136.2 77.2 130.1Z"/><path fill="rgb(0,90,255)" d="M77.9 130.7C77.9 125.3 79.6 120.8 82 120.8C84.5 120.8 86.1 125.3 86.1 130.7C86.1 135.8 84.1 139.8 82 139.8C80 139.8 77.9 135.8 77.9 130.7Z"/><path fill="rgb(0,120,255)" d="M78.7 131.4C78.7 127.3 80.1 123.9 82.2 123.9C84.3 123.9 85.7 127.3 85.7 131.4C85.7 135.3 83.9 138.5 82.2 138.5C80.4 138.5 78.7 135.3 78.7 131.4Z"/><path fill="rgb(0,149,255)" d="M79.4 131.8C79.4 128.8 80.5 126.3 82.3 126.3C84.1 126.3 85.2 128.8 85.2 131.8C85.2 134.8 83.8 137.3 82.3 137.3C80.8 137.3 79.4 134.8 79.4 131.8Z"/><path fill="rgb(0,176,255)" d="M79.8 131.8C79.8 129.2 80.8 127.2 82.3 127.2C83.8 127.2 84.8 129.2 84.8 131.8C84.8 134.4 83.5 136.4 82.3 136.4C81.1 136.4 79.8 134.4 79.8 131.8Z"/><path fill="rgb(0,203,255)" d="M80.3 131.8C80.3 129.7 81.1 128 82.3 128C83.5 128 84.3 129.7 84.3 131.8C84.3 133.9 83.3 135.6 82.3 135.6C81.3 135.6 80.3 133.9 80.3 131.8Z"/><path fill="rgb(0,230,255)" d="M80.8 131.8C80.8 130.2 81.4 128.9 82.3 128.9C83.2 128.9 83.8 130.2 83.8 131.8C83.8 133.4 83.1 134.7 82.3 134.7C81.5 134.7 80.8 133.4 80.8 131.8Z"/><path fill="rgb(0,239,255)" d="M81.2 131.8C81.2 130.7 81.7 129.8 82.3 129.8C82.9 129.8 83.4 130.7 83.4 131.8C83.4 132.9 82.8 133.8 82.3 133.8C81.8 133.8 81.2 132.9 81.2 131.8Z"/><path fill="rgb(0,249,255)" d="M81.7 131.8C81.7 131.2 81.9 130.6 82.3 130.6C82.7 130.6 82.9 131.2 82.9 131.8C82.9 132.4 82.6 133 82.3 133C82 133 81.7 132.4 81.7 131.8Z"/></g></g>
</svg>
<path d="M616.0 667.6H624.7M616.0 884.1H625.3V892.4M708.3 884.7v7.7M791.3 884.7v7.7" stroke="#111" stroke-width="1.3" fill="none"/>
<text x="615.1" y="671.9" font-size="13" text-anchor="end">8</text>
<use href="#one" transform="translate(607.70 888.50) scale(0.00635 -0.00635)"/>
<text x="623.9" y="905.7" font-size="13" text-anchor="middle">-8</text>
<text x="708.6" y="905.7" font-size="13" text-anchor="middle">0</text>
<text x="792.9" y="905.7" font-size="13" text-anchor="middle">8</text>
<text transform="translate(708.2 656.3) scale(1 1.04)" font-size="19.45" text-anchor="middle">PDAC3 vs PDAC1</text>
<text x="709.3" y="925.0" font-size="12.95" text-anchor="middle">Log2(PDAC3/PDAC1)</text>
<text transform="translate(601.5 767.8) rotate(-90)" font-size="12.8" text-anchor="middle">Log10(Average Intensity)</text>
<svg x="101.0" y="972.2" width="167.2" height="217.5" viewBox="0 0 167.2 217.5" overflow="hidden">
<rect width="167.2" height="217.5" fill="#f39a00"/>
<path fill="#00ff00" fill-rule="evenodd" d="M84 184.1L82.5 184.1L80 182.5L76 181.7L73 179L68.2 176.5L67 174L68.8 171L69.7 165L73 162L73.3 159L75.3 154L75.2 152.5L73.6 149L72.5 137L73.3 132.5L72.8 127.5L73.6 123L72.5 110L73.8 103.5L75.4 99.5L74.8 91.5L75.7 87.5L77.7 84L78.7 78L78.3 73.5L80.6 70L80.2 65.5L81.5 60.6L83.5 59.1L85.3 60.5L85.8 64L87.9 67.5L88.4 69.5L88 73.5L88.5 78.5L86.3 94L89.3 101.5L90.5 113.5L89.7 119.5L90.3 127L91.4 130.5L90.2 137L91.2 142L89.1 149.5L89.4 157L91 160.5L97 165L97.5 167L97.1 170L97.9 173L97.1 175L93.5 177.4L90.5 180.9L84 184.1Z"/><path stroke="#10f010" stroke-width="3.0" stroke-linecap="round" d="M88.3 68.9h0M83.3 60.6h0M79.9 60.1h0M79.8 71.9h0M84.1 60.7h0M88 77.5h0M79.7 74.6h0M82.6 64.9h0M87 72.1h0M87.4 78.2h0M84.5 61.3h0M83.7 61.2h0M84.8 60.7h0M78.5 74.8h0M87 69.1h0M87.3 64.1h0M79.7 69.6h0M81.4 69.8h0M89.9 72h0M83.4 69.3h0M78.1 70h0M85.9 68.6h0M87.9 77.6h0M83.3 61.9h0M80.8 57.6h0M84.6 67.9h0M87.3 80.2h0M80.4 77.4h0M86.3 86.8h0M83 56h0M86.8 70.5h0M78.4 80.2h0M86.7 65.2h0M83.7 58.7h0M82.8 66.9h0M83.1 52.2h0M82.7 63.6h0M82.6 63.3h0M92 63.3h0M84.1 68.2h0M89.5 68.7h0M80.8 68.6h0M88.6 80.3h0M82.5 67h0M89.7 77.8h0M79.3 74.5h0M80.1 66.2h0M87.3 91h0M83.6 56.4h0M77.8 71.8h0M84.3 60.5h0M88 61.1h0M80.9 65.2h0M88 76.8h0M89.2 69.5h0M87.2 64h0M81.4 65.7h0M87.4 70.7h0M89.1 63.6h0M80.7 64.5h0M81.3 67.2h0M83.3 59.3h0M80.2 65.2h0M86.1 62.7h0M87.4 59h0M86.4 64.8h0M82.4 61.3h0M89.2 82.8h0M85.3 58.7h0M82.4 68.3h0M78.5 71.8h0M82.7 69.8h0M79.6 79.8h0M85.4 67h0M88.1 67.6h0M82.4 60.7h0M79.3 62h0M87.3 71.4h0M85.5 62.9h0M86.4 68.4h0M85.4 66.9h0M83 65.2h0M88.7 71.6h0M88.2 65.9h0M87 68.4h0M82.9 65.1h0M89 106.4h0M74.6 121.6h0M75.8 59.8h0M89.8 143.1h0M76.8 96.6h0M73.6 127.7h0M73.4 109.2h0M76.4 87.3h0M89.3 155.1h0M73.9 135.9h0M75.7 96h0M90.2 130.1h0M94.3 130.9h0M84.6 183h0M73.6 132h0M76.5 98.7h0M87.8 85.7h0M77.6 65.8h0M78.9 86.9h0M88.1 98.8h0M90 122.9h0M79.4 77.9h0M86 86.3h0M72.9 90.9h0M77.8 76.4h0M87.1 96.7h0M75.3 105.6h0M76.1 87.9h0M89.1 101.3h0M76.7 91.8h0M76.5 100.9h0M73.8 85.9h0M75.4 104.4h0M91.7 122.7h0M77.7 82.2h0M90.4 108.3h0M75 104h0M88.2 92.6h0M75.6 92.1h0M74.8 150.8h0M72.4 136.9h0M80 83.8h0M73.3 136.6h0M74.4 134.8h0M78.3 92.1h0M73.9 138.6h0M73.5 119.6h0M73 151.8h0M75 96.5h0M75.7 98.4h0M91.9 131.4h0M72.4 109.8h0M90.7 142.1h0M78.3 84.9h0M91.5 123.7h0M71.5 108.6h0M86.8 89.3h0M90.6 149.8h0M89.5 108.8h0M91.1 149.8h0M89.3 146h0M74.4 116.7h0M73.9 122h0M74.7 120.6h0M92 116.3h0M89.7 136.3h0M75.3 92.5h0M87.3 93h0M74.6 109.7h0M89.8 129.7h0M74 147.4h0M78.2 83.1h0M76.5 96h0M75.2 148.9h0M91.6 117.8h0M75.4 159h0M74.1 112.4h0M89.1 100.5h0M76.6 88.1h0M86 86.6h0M76.3 89.8h0M78.8 82.1h0M88.3 102.3h0M76.1 152.2h0M73.5 115h0M91 98.2h0M75.5 101.3h0M90.8 99.4h0M87.6 79.4h0M73.6 84.7h0M89.5 110.2h0M76.9 72.8h0M90.4 141.9h0M75.2 103.1h0M88.8 120h0M73.2 109.7h0M75 145.7h0M75.2 75.6h0M85.1 94.3h0M75.3 148.6h0M77 190.8h0M92.5 141.2h0M86.4 83.6h0M73.8 83.8h0M88.8 101.2h0M73.7 127.2h0M73.7 130.1h0M92.5 129.8h0M75.4 122.8h0M72.6 144.7h0M76.2 93.4h0M74.6 146.3h0M73.9 149.5h0M74.4 112h0M90.9 105.1h0M74.7 147.4h0M74.3 122.1h0M91.7 131.2h0M74.9 160.5h0M75.1 120.3h0M88.7 148.1h0M78.6 81.3h0M87.2 84.3h0M80.5 84h0M87 85.5h0M88.4 59.3h0M72.8 136.9h0M81.6 61.7h0M79.1 81.3h0M75.2 107.3h0M86.8 88.4h0M77.6 74h0M88.8 97.9h0M80.2 73.9h0M73.7 138.6h0M90.3 116.4h0M77.2 92.9h0M77 154.2h0M74.9 119.7h0M74.1 128.5h0M89.7 109.6h0M89.6 126.8h0M91.6 131.2h0M88.6 73.9h0M89.3 121.1h0M88.6 148.9h0M88.9 152.7h0M74.3 127.3h0M88.4 151.7h0M89.6 138.9h0M87.3 90.8h0M89.6 113.3h0M89.9 147.9h0M72.5 129.6h0M90.2 108.8h0M77.1 99.2h0M81 189.5h0M89.6 113.2h0M89.4 116.7h0M89 103.9h0M92.1 109.7h0M68.8 131.5h0M91.9 112.3h0M89.6 114.2h0M74.5 108.9h0M86 69.1h0M70.7 124.5h0M90.1 141.5h0M94.9 114h0M73.4 105.5h0M76.6 98.5h0M72.7 110.7h0M78 91.5h0M74.6 150.2h0M89.1 103.5h0M79.7 80.7h0M97.4 133.3h0M74.7 104.1h0M74 135.4h0M74.2 132.3h0M73.9 94h0M91.3 133.3h0M89.7 82.1h0M91.5 105h0M69.6 136.5h0M77 96.6h0M68.3 100h0M92.4 82h0M71.9 89.9h0M76.1 102h0M76 92.6h0M88.9 81.4h0M74.5 86.9h0M62 130.3h0M87 89.9h0M70.8 141.2h0M90.8 142.5h0M92.3 146h0M70 102.1h0M70.9 118.2h0M68.3 127.6h0M95.6 144.2h0M68.2 118.8h0M75.4 81.9h0M97.1 124.7h0M91.1 142h0M70.6 108.7h0M72.8 142.3h0M97.5 127.6h0M71.1 158.2h0M80 81.7h0M75.8 82.5h0M74 145h0M73.3 150.4h0M90.1 142.3h0M74.2 122.1h0M66.6 134.1h0M72.5 112.8h0M57.6 138.4h0M95.2 151h0M98.9 143.7h0M73.6 92.1h0M74.4 161.5h0M73.7 107.2h0M74.7 159.9h0M72.2 148h0M70.1 115.4h0M76 88.2h0M73 112.7h0M73.8 103h0M66.5 122.8h0M87.1 93.6h0M91.6 128.1h0M96.5 103.3h0M96.1 155.5h0M71 123.4h0M75 103.6h0M91.2 100.8h0M87.4 85.1h0M73.1 95.1h0M96.7 123.6h0M95.6 146.4h0M75.1 91.5h0M70.5 97.3h0M91.4 159.9h0M71 167.3h0M72.8 157.5h0M95.3 176.2h0M95.7 165.6h0M68.5 174.6h0M68.6 179h0M68 174.7h0M85.9 181.6h0M69.6 163.2h0M65.5 172.7h0M70.5 176.9h0M82.8 182.8h0M96.8 174.4h0M98 167.5h0M70.3 173.4h0M93.7 180h0M96.8 180.2h0M93.9 162.2h0M69.2 160.2h0M89.3 159.4h0M85 185.2h0M66.1 172.5h0M66.8 170.1h0M69.5 164.3h0M96.3 175.3h0M71.5 174.8h0M72.8 164.8h0M90 179.6h0M95.5 165.5h0M99.8 174.2h0M65.2 157.6h0M73.1 179.9h0M74.7 180.4h0M68.4 175.5h0M65.9 168.5h0M92.4 150h0M94.5 161.8h0M89.1 185.5h0M71.2 165.1h0M67.8 168.8h0M63 179.6h0M67.5 177.9h0M83.7 185.5h0M83.3 186.1h0M95.7 169.2h0M66 158.2h0M99.3 157.6h0M90.1 184h0M65.2 168.6h0M83.4 183.9h0M91.7 182.2h0M68.4 172.8h0M96.1 173.3h0M91.9 185.3h0M75.4 184.3h0M73.4 159.6h0M97.8 172h0M97.2 165.7h0M68 174.1h0M66.5 157.6h0M70.1 171.6h0M69.8 164h0M66 164.6h0M89.2 181h0M76.3 155.6h0M88.7 158.8h0M98.3 172h0M79.8 182.6h0M84.8 183.7h0M101.9 177.1h0M69.6 162.8h0M71.8 176.5h0M96.9 170.3h0M96.3 171.6h0M85.7 183h0M97.2 168.4h0M72.3 178.8h0M80.6 185.3h0M92.5 177.9h0M95.9 166h0M96.7 169h0M90.1 184.5h0M67.7 174.7h0M95.2 164h0M91.8 161h0M80.4 183.9h0M63.5 175.4h0M67.7 172.5h0M81.6 184.6h0M77.1 180.9h0M91 160.9h0M89.2 181.9h0M74.8 160.6h0M71 167.8h0M97.4 173.2h0M77.3 182.2h0M93 162.9h0M90 158.8h0M97.1 167h0M76.1 181.2h0M77 182.3h0M93 159.6h0M76 181h0M68.4 163.6h0M102.3 181h0M77.6 182h0M98 162.5h0M71.4 161.1h0M96.7 174.4h0M100.2 169.1h0M82.9 185.4h0M70.9 168.6h0M94.1 177h0M67.7 166.1h0M72.5 153.4h0M94.7 181.4h0M68.6 177.6h0M69.1 175.1h0M91 154.1h0M83.6 183.8h0M95.8 176h0M92.3 179.3h0M92.9 178.5h0M60.9 164.4h0M68.9 164.7h0M97.2 164.4h0M72.5 177.8h0M86 182h0M69.7 176.7h0M64.5 164.9h0M93 162.9h0M69.7 176h0M72.2 158.8h0M70.8 169.2h0M101.2 169.5h0M72.4 178.1h0M95.3 165.2h0M99.2 174.7h0M68.1 175.1h0M90.8 180h0M70.2 168.5h0M74.9 157.6h0M65.9 172.5h0M81.1 46.1h0M77.9 53.9h0M78.3 49.1h0M79.4 51.4h0M81.6 44.7h0M61.2 166.3h0M54.5 164.5h0M58.1 165.6h0M104.1 168.6h0M104.3 170.2h0"/><clipPath id="cl30"><path clip-rule="evenodd" d="M84 184.1L82.5 184.1L80 182.5L76 181.7L73 179L68.2 176.5L67 174L68.8 171L69.7 165L73 162L73.3 159L75.3 154L75.2 152.5L73.6 149L72.5 137L73.3 132.5L72.8 127.5L73.6 123L72.5 110L73.8 103.5L75.4 99.5L74.8 91.5L75.7 87.5L77.7 84L78.7 78L78.3 73.5L80.6 70L80.2 65.5L81.5 60.6L83.5 59.1L85.3 60.5L85.8 64L87.9 67.5L88.4 69.5L88 73.5L88.5 78.5L86.3 94L89.3 101.5L90.5 113.5L89.7 119.5L90.3 127L91.4 130.5L90.2 137L91.2 142L89.1 149.5L89.4 157L91 160.5L97 165L97.5 167L97.1 170L97.9 173L97.1 175L93.5 177.4L90.5 180.9L84 184.1Z"/></clipPath><g clip-path="url(#cl30)"><g filter="url(#sm)"><path fill="rgb(3,255,0)" d="M73 131.8C73 100.9 80.1 75.6 82.2 75.6C84.2 75.6 91.3 100.9 91.3 131.8C91.3 151.1 87.6 166.9 82.2 166.9C76.7 166.9 73 151.1 73 131.8Z"/><path fill="rgb(7,255,0)" d="M73.1 131.8C73.1 101.1 80.2 76 82.2 76C84.1 76 91.2 101.1 91.2 131.8C91.2 150.9 87.6 166.5 82.2 166.5C76.7 166.5 73.1 150.9 73.1 131.8Z"/><path fill="rgb(11,255,0)" d="M73.3 131.8C73.3 101.3 80.2 76.3 82.2 76.3C84.1 76.3 91 101.3 91 131.8C91 150.7 87.5 166.2 82.2 166.2C76.8 166.2 73.3 150.7 73.3 131.8Z"/><path fill="rgb(15,255,0)" d="M73.4 131.8C73.4 101.5 80.2 76.6 82.2 76.6C84.1 76.6 90.9 101.5 90.9 131.8C90.9 150.5 87.4 165.9 82.2 165.9C76.9 165.9 73.4 150.5 73.4 131.8Z"/><path fill="rgb(20,255,0)" d="M73.5 131.8C73.5 101.6 80.2 77 82.2 77C84.1 77 90.8 101.6 90.8 131.8C90.8 150.4 87.3 165.5 82.2 165.5C77 165.5 73.5 150.4 73.5 131.8Z"/><path fill="rgb(24,255,0)" d="M73.6 131.8C73.6 101.8 80.3 77.3 82.2 77.3C84 77.3 90.7 101.8 90.7 131.8C90.7 150.2 87.3 165.2 82.2 165.2C77 165.2 73.6 150.2 73.6 131.8Z"/><path fill="rgb(28,255,0)" d="M73.7 131.8C73.7 102 80.3 77.6 82.2 77.6C84 77.6 90.6 102 90.6 131.8C90.6 150 87.2 164.9 82.2 164.9C77.1 164.9 73.7 150 73.7 131.8Z"/><path fill="rgb(32,255,0)" d="M73.9 131.8C73.9 102.2 80.3 78 82.2 78C84 78 90.4 102.2 90.4 131.8C90.4 149.8 87.1 164.5 82.2 164.5C77.2 164.5 73.9 149.8 73.9 131.8Z"/><path fill="rgb(37,255,0)" d="M74 131.8C74 102.4 80.4 78.3 82.2 78.3C83.9 78.3 90.3 102.4 90.3 131.8C90.3 149.6 87.1 164.2 82.2 164.2C77.2 164.2 74 149.6 74 131.8Z"/><path fill="rgb(42,255,0)" d="M74.1 131.8C74.1 102.6 80.4 78.6 82.2 78.6C83.9 78.6 90.2 102.6 90.2 131.8C90.2 149.4 87 163.9 82.2 163.9C77.3 163.9 74.1 149.4 74.1 131.8Z"/><path fill="rgb(47,255,0)" d="M74.2 131.8C74.2 102.7 80.4 79 82.2 79C83.9 79 90.1 102.7 90.1 131.8C90.1 149.3 86.9 163.5 82.2 163.5C77.4 163.5 74.2 149.3 74.2 131.8Z"/><path fill="rgb(53,255,0)" d="M74.3 131.8C74.3 102.9 80.4 79.3 82.2 79.3C83.9 79.3 90 102.9 90 131.8C90 149.1 86.8 163.2 82.2 163.2C77.5 163.2 74.3 149.1 74.3 131.8Z"/><path fill="rgb(58,255,0)" d="M74.5 131.8C74.5 103.1 80.5 79.6 82.2 79.6C83.8 79.6 89.8 103.1 89.8 131.8C89.8 148.9 86.8 162.9 82.2 162.9C77.5 162.9 74.5 148.9 74.5 131.8Z"/><path fill="rgb(63,255,0)" d="M74.6 131.8C74.6 103.3 80.5 80 82.2 80C83.8 80 89.7 103.3 89.7 131.8C89.7 148.7 86.7 162.5 82.2 162.5C77.6 162.5 74.6 148.7 74.6 131.8Z"/><path fill="rgb(68,255,0)" d="M74.7 131.8C74.7 103.5 80.5 80.3 82.2 80.3C83.8 80.3 89.6 103.5 89.6 131.8C89.6 148.5 86.6 162.2 82.2 162.2C77.7 162.2 74.7 148.5 74.7 131.8Z"/><path fill="rgb(76,255,0)" d="M74.9 131.8C74.9 103.7 80.5 80.6 82.2 80.6C83.8 80.6 89.4 103.7 89.4 131.8C89.4 148.3 86.5 161.9 82.2 161.9C77.8 161.9 74.9 148.3 74.9 131.8Z"/><path fill="rgb(84,255,0)" d="M75 131.8C75 103.8 80.6 81 82.2 81C83.7 81 89.3 103.8 89.3 131.8C89.3 148.2 86.4 161.5 82.2 161.5C77.9 161.5 75 148.2 75 131.8Z"/><path fill="rgb(92,255,0)" d="M75.2 131.8C75.2 104 80.6 81.3 82.2 81.3C83.7 81.3 89.1 104 89.1 131.8C89.1 148 86.3 161.2 82.2 161.2C78 161.2 75.2 148 75.2 131.8Z"/><path fill="rgb(101,255,0)" d="M75.4 131.8C75.4 104.2 80.7 81.6 82.2 81.6C83.6 81.6 88.9 104.2 88.9 131.8C88.9 147.8 86.2 160.9 82.2 160.9C78.1 160.9 75.4 147.8 75.4 131.8Z"/><path fill="rgb(109,255,0)" d="M75.6 131.8C75.6 104.4 80.7 82 82.2 82C83.6 82 88.7 104.4 88.7 131.8C88.7 147.6 86.1 160.5 82.2 160.5C78.2 160.5 75.6 147.6 75.6 131.8Z"/><path fill="rgb(117,255,0)" d="M75.7 131.8C75.7 104.6 80.7 82.3 82.2 82.3C83.6 82.3 88.6 104.6 88.6 131.8C88.6 147.4 86 160.2 82.2 160.2C78.3 160.2 75.7 147.4 75.7 131.8Z"/><path fill="rgb(129,255,0)" d="M75.9 131.8C75.9 104.8 80.8 82.6 82.2 82.6C83.5 82.6 88.4 104.8 88.4 131.8C88.4 147.2 85.9 159.9 82.2 159.9C78.4 159.9 75.9 147.2 75.9 131.8Z"/><path fill="rgb(144,255,0)" d="M76.1 131.8C76.1 104.9 80.8 83 82.2 83C83.5 83 88.2 104.9 88.2 131.8C88.2 147.1 85.8 159.5 82.2 159.5C78.5 159.5 76.1 147.1 76.1 131.8Z"/><path fill="rgb(158,255,0)" d="M76.3 131.8C76.3 105.1 80.9 83.3 82.2 83.3C83.4 83.3 88 105.1 88 131.8C88 146.9 85.7 159.2 82.2 159.2C78.6 159.2 76.3 146.9 76.3 131.8Z"/><path fill="rgb(172,255,0)" d="M76.4 131.8C76.4 105.3 80.9 83.6 82.2 83.6C83.4 83.6 87.9 105.3 87.9 131.8C87.9 146.7 85.6 158.9 82.2 158.9C78.7 158.9 76.4 146.7 76.4 131.8Z"/><path fill="rgb(186,255,0)" d="M76.6 131.8C76.6 105.5 80.9 84 82.2 84C83.4 84 87.7 105.5 87.7 131.8C87.7 146.5 85.5 158.5 82.2 158.5C78.8 158.5 76.6 146.5 76.6 131.8Z"/><path fill="rgb(200,255,0)" d="M76.8 131.8C76.8 105.7 81 84.3 82.2 84.3C83.3 84.3 87.5 105.7 87.5 131.8C87.5 146.3 85.4 158.2 82.2 158.2C78.9 158.2 76.8 146.3 76.8 131.8Z"/><path fill="rgb(217,255,0)" d="M76.9 131.8C76.9 105.9 81 84.6 82.2 84.6C83.3 84.6 87.4 105.9 87.4 131.8C87.4 146.1 85.3 157.9 82.2 157.9C79 157.9 76.9 146.1 76.9 131.8Z"/><path fill="rgb(233,255,0)" d="M77.1 131.8C77.1 106 81 85 82.2 85C83.3 85 87.2 106 87.2 131.8C87.2 146 85.2 157.5 82.2 157.5C79.1 157.5 77.1 146 77.1 131.8Z"/><path fill="rgb(250,255,0)" d="M77.3 131.8C77.3 106.2 81.1 85.3 82.2 85.3C83.2 85.3 87 106.2 87 131.8C87 145.8 85.1 157.2 82.2 157.2C79.2 157.2 77.3 145.8 77.3 131.8Z"/><path fill="rgb(255,247,0)" d="M77.4 131.8C77.4 106.4 81.1 85.6 82.1 85.6C83.2 85.6 86.9 106.4 86.9 131.8C86.9 145.6 85 156.8 82.1 156.8C79.3 156.8 77.4 145.6 77.4 131.8Z"/><path fill="rgb(255,236,0)" d="M77.5 131.7C77.5 106.5 81.1 85.8 82.1 85.8C83.1 85.8 86.7 106.5 86.7 131.7C86.7 145.3 84.9 156.5 82.1 156.5C79.4 156.5 77.5 145.3 77.5 131.7Z"/><path fill="rgb(255,225,0)" d="M77.7 131.6C77.7 106.6 81.1 86.1 82.1 86.1C83.1 86.1 86.6 106.6 86.6 131.6C86.6 145.1 84.8 156.1 82.1 156.1C79.4 156.1 77.7 145.1 77.7 131.6Z"/><path fill="rgb(255,214,0)" d="M77.8 131.6C77.8 106.7 81.2 86.3 82.1 86.3C83.1 86.3 86.5 106.7 86.5 131.6C86.5 144.8 84.7 155.7 82.1 155.7C79.5 155.7 77.8 144.8 77.8 131.6Z"/><path fill="rgb(255,203,0)" d="M77.9 131.5C77.9 106.8 81.2 86.6 82.1 86.6C83 86.6 86.3 106.8 86.3 131.5C86.3 144.6 84.6 155.3 82.1 155.3C79.6 155.3 77.9 144.6 77.9 131.5Z"/><path fill="rgb(255,192,0)" d="M78 131.4C78 106.9 81.2 86.9 82.1 86.9C83 86.9 86.2 106.9 86.2 131.4C86.2 144.3 84.6 154.9 82.1 154.9C79.6 154.9 78 144.3 78 131.4Z"/><path fill="rgb(255,181,0)" d="M78.1 131.4C78.1 107 81.2 87.1 82.1 87.1C83 87.1 86.1 107 86.1 131.4C86.1 144.1 84.5 154.5 82.1 154.5C79.7 154.5 78.1 144.1 78.1 131.4Z"/><path fill="rgb(255,168,0)" d="M78.2 131.3C78.2 107.1 81.2 87.4 82.1 87.4C82.9 87.4 85.9 107.1 85.9 131.3C85.9 143.9 84.4 154.1 82.1 154.1C79.8 154.1 78.2 143.9 78.2 131.3Z"/><path fill="rgb(255,156,0)" d="M78.4 131.3C78.4 107.3 81.3 87.6 82.1 87.6C82.9 87.6 85.8 107.3 85.8 131.3C85.8 143.6 84.3 153.7 82.1 153.7C79.8 153.7 78.4 143.6 78.4 131.3Z"/><path fill="rgb(255,143,0)" d="M78.5 131.2C78.5 107.4 81.3 87.9 82.1 87.9C82.8 87.9 85.7 107.4 85.7 131.2C85.7 143.4 84.2 153.4 82.1 153.4C79.9 153.4 78.5 143.4 78.5 131.2Z"/><path fill="rgb(255,130,0)" d="M78.6 131.1C78.6 107.5 81.3 88.1 82.1 88.1C82.8 88.1 85.5 107.5 85.5 131.1C85.5 143.1 84.1 153 82.1 153C80 153 78.6 143.1 78.6 131.1Z"/><path fill="rgb(255,113,0)" d="M78.7 131.1C78.7 107.6 81.3 88.4 82 88.4C82.8 88.4 85.4 107.6 85.4 131.1C85.4 142.9 84 152.6 82 152.6C80 152.6 78.7 142.9 78.7 131.1Z"/><path fill="rgb(255,97,0)" d="M78.8 131C78.8 107.7 81.3 88.6 82 88.6C82.7 88.6 85.2 107.7 85.2 131C85.2 142.7 84 152.2 82 152.2C80.1 152.2 78.8 142.7 78.8 131Z"/><path fill="rgb(255,80,0)" d="M78.9 130.9C78.9 107.8 81.3 88.9 82 88.9C82.7 88.9 85.1 107.8 85.1 130.9C85.1 142.4 83.9 151.8 82 151.8C80.2 151.8 78.9 142.4 78.9 130.9Z"/><path fill="rgb(255,59,0)" d="M79 130.9C79 107.9 81.4 89.2 82 89.2C82.7 89.2 85 107.9 85 130.9C85 142.2 83.8 151.4 82 151.4C80.2 151.4 79 142.2 79 130.9Z"/><path fill="rgb(255,34,0)" d="M79.2 130.8C79.2 108 81.4 89.4 82 89.4C82.6 89.4 84.8 108 84.8 130.8C84.8 141.9 83.7 151 82 151C80.3 151 79.2 141.9 79.2 130.8Z"/><path fill="rgb(255,10,0)" d="M79.3 130.7C79.3 109.1 81.4 91.5 82 91.5C82.6 91.5 84.7 109.1 84.7 130.7C84.7 141.3 83.6 149.9 82 149.9C80.4 149.9 79.3 141.3 79.3 130.7Z"/><path fill="rgb(255,0,0)" d="M79.4 130.5C79.4 110.7 81.4 94.5 82 94.5C82.6 94.5 84.6 110.7 84.6 130.5C84.6 140.4 83.6 148.5 82 148.5C80.4 148.5 79.4 140.4 79.4 130.5Z"/><path fill="rgb(232,0,19)" d="M79.5 130.3C79.5 112.2 81.5 97.5 82 97.5C82.5 97.5 84.5 112.2 84.5 130.3C84.5 139.5 83.5 147.1 82 147.1C80.5 147.1 79.5 139.5 79.5 130.3Z"/><path fill="rgb(175,0,67)" d="M79.6 130.1C79.6 113.8 81.5 100.4 82 100.4C82.5 100.4 84.4 113.8 84.4 130.1C84.4 138.7 83.4 145.7 82 145.7C80.6 145.7 79.6 138.7 79.6 130.1Z"/><path fill="rgb(100,0,130)" d="M79.7 129.9C79.7 115.3 81.5 103.4 82 103.4C82.5 103.4 84.3 115.3 84.3 129.9C84.3 137.8 83.4 144.2 82 144.2C80.6 144.2 79.7 137.8 79.7 129.9Z"/><path fill="rgb(25,0,205)" d="M79.9 129.8C79.9 117 81.5 106.5 82 106.5C82.5 106.5 84.1 117 84.1 129.8C84.1 137 83.3 142.9 82 142.9C80.7 142.9 79.9 137 79.9 129.8Z"/><path fill="rgb(0,13,238)" d="M80.1 129.8C80.1 118.7 81.6 109.6 82 109.6C82.4 109.6 83.9 118.7 83.9 129.8C83.9 136.2 83.2 141.5 82 141.5C80.8 141.5 80.1 136.2 80.1 129.8Z"/><path fill="rgb(0,33,251)" d="M80.3 129.8C80.3 120.4 81.6 112.8 82 112.8C82.4 112.8 83.7 120.4 83.7 129.8C83.7 135.5 83 140.2 82 140.2C81 140.2 80.3 135.5 80.3 129.8Z"/><path fill="rgb(0,60,255)" d="M80.5 129.8C80.5 122.2 81.7 115.9 82 115.9C82.3 115.9 83.5 122.2 83.5 129.8C83.5 134.8 82.9 138.9 82 138.9C81.1 138.9 80.5 134.8 80.5 129.8Z"/><path fill="rgb(0,90,255)" d="M80.7 129.8C80.7 123.9 81.7 119.1 82 119.1C82.3 119.1 83.3 123.9 83.3 129.8C83.3 134 82.8 137.5 82 137.5C81.2 137.5 80.7 134 80.7 129.8Z"/><path fill="rgb(0,120,255)" d="M80.9 129.8C80.9 125.6 81.8 122.2 82 122.2C82.2 122.2 83.1 125.6 83.1 129.8C83.1 133.3 82.7 136.2 82 136.2C81.3 136.2 80.9 133.3 80.9 129.8Z"/><path fill="rgb(0,149,255)" d="M81 129.8C81 126.9 81.8 124.6 82 124.6C82.2 124.6 82.9 126.9 82.9 129.8C82.9 132.7 82.6 135 82 135C81.4 135 81 132.7 81 129.8Z"/><path fill="rgb(0,176,255)" d="M81.1 129.9C81.1 127.5 81.8 125.5 82 125.5C82.1 125.5 82.8 127.5 82.8 129.9C82.8 132.3 82.5 134.3 82 134.3C81.4 134.3 81.1 132.3 81.1 129.9Z"/><path fill="rgb(0,203,255)" d="M81.2 130C81.2 128 81.8 126.4 81.9 126.4C82.1 126.4 82.6 128 82.6 130C82.6 131.9 82.4 133.5 81.9 133.5C81.5 133.5 81.2 131.9 81.2 130Z"/><path fill="rgb(0,230,255)" d="M81.3 130C81.3 128.5 81.8 127.2 81.9 127.2C82 127.2 82.5 128.5 82.5 130C82.5 131.5 82.3 132.8 81.9 132.8C81.5 132.8 81.3 131.5 81.3 130Z"/><path fill="rgb(0,239,255)" d="M81.4 130.1C81.4 129 81.7 128.1 81.9 128.1C82 128.1 82.3 129 82.3 130.1C82.3 131.2 82.2 132.1 81.9 132.1C81.6 132.1 81.4 131.2 81.4 130.1Z"/><path fill="rgb(0,249,255)" d="M81.4 130.2C81.4 129.5 81.7 129 81.8 129C81.9 129 82.2 129.5 82.2 130.2C82.2 130.8 82 131.3 81.8 131.3C81.6 131.3 81.4 130.8 81.4 130.2Z"/></g></g>
</svg>
<path d="M92.3 972.8H101.0M92.3 1189.1H101.6V1197.4M184.6 1189.7v7.7M267.6 1189.7v7.7" stroke="#111" stroke-width="1.3" fill="none"/>
<text x="91.4" y="977.1" font-size="13" text-anchor="end">8</text>
<use href="#one" transform="translate(84.00 1193.50) scale(0.00635 -0.00635)"/>
<text x="100.2" y="1210.7" font-size="13" text-anchor="middle">-8</text>
<text x="184.9" y="1210.7" font-size="13" text-anchor="middle">0</text>
<text x="269.2" y="1210.7" font-size="13" text-anchor="middle">8</text>
<text transform="translate(184.8 962.5) scale(1 1.04)" font-size="19.25" text-anchor="middle">PDAC1+RNAlater</text>
<text x="184.8" y="1228.8" font-size="12.95" text-anchor="middle">Log2(RNAlater/Frozen)</text>
<text transform="translate(77.8 1073.3) rotate(-90)" font-size="12.8" text-anchor="middle">Log10(Average Intensity)</text>
<svg x="362.9" y="972.2" width="167.2" height="217.5" viewBox="0 0 167.2 217.5" overflow="hidden">
<rect width="167.2" height="217.5" fill="#f39a00"/>
<path fill="#00ff00" fill-rule="evenodd" d="M84 184.5L76.9 182.5L74 180L70.4 178.5L69 175.5L70.6 172.5L70.1 168.5L70.5 166.5L77.5 156L78.7 153L77 146L77.1 142.5L75.7 138.5L76.9 132L75 124L75.8 120L75.7 112.5L77.1 106.5L76.9 98L77.5 95.5L79.4 92.5L79.8 88.5L81.6 85L80.3 80.5L80.5 77L79.7 73L81.1 67L83.3 64L87 61.3L88.8 63L90.7 70.5L90.5 78.5L89.9 82L90.3 87L92.1 91L92 94.5L93.1 98L94.5 111L94.4 121.5L93.4 126.5L95.5 133.5L93.2 144L93.4 148L92.7 151L93.2 154L92.3 157L96.3 165.5L98.9 173.5L98.2 176.5L96.2 179L87.5 183.5L84 184.5Z"/><path stroke="#10f010" stroke-width="3.0" stroke-linecap="round" d="M82.7 69.3h0M87.8 61.1h0M82 83h0M82.3 65.8h0M85.5 63.9h0M85.8 63.8h0M88.1 62.5h0M87.9 58.8h0M90.9 69.9h0M84.7 58.6h0M80.7 81.1h0M82.4 56.8h0M90.8 73h0M82 69h0M82.3 68.2h0M89 78.1h0M79.8 72.9h0M87.1 64.6h0M85.4 66.9h0M92.2 71.2h0M86.5 87.6h0M87 62.6h0M82.2 79h0M83.8 64.6h0M80.7 62.9h0M86 62h0M88.5 57.8h0M90.2 74h0M79.6 72.6h0M90.9 64.1h0M90.9 64.9h0M82.6 63.2h0M87.9 62.5h0M88.7 69.9h0M80.1 66.9h0M88.1 67.8h0M88.3 65.7h0M90.4 91.8h0M85.7 61.1h0M81.4 75.1h0M87.6 69h0M90.8 66.4h0M81.4 51.7h0M87.8 63.5h0M86.3 58.2h0M89.9 74.6h0M82 67.4h0M81.2 75.5h0M90.1 70.1h0M79.7 66.8h0M86.7 64.1h0M90.5 78.6h0M85.8 65.8h0M81.5 71.7h0M82.6 67.4h0M88.9 63.1h0M87 67h0M87.4 60.4h0M79.2 64.7h0M88.2 68.5h0M91.3 75h0M92.1 78.2h0M88.8 70.9h0M87.7 66.4h0M84.8 67h0M85.3 64.9h0M88.6 86.7h0M82 87.9h0M88.6 50.4h0M89.1 66.4h0M82.2 63.3h0M90 60.6h0M84.8 65.7h0M89.8 73.2h0M93.1 64.2h0M91.5 78.5h0M81.1 79.1h0M81.2 75.2h0M90.4 69.5h0M91.3 70.5h0M81 68h0M83.1 67.3h0M89.9 67.5h0M80.4 74.8h0M76.6 138.7h0M78.1 107.3h0M75.4 122.8h0M81.1 80.1h0M79.8 77.5h0M82.2 80.6h0M89.4 89.5h0M94.5 129h0M93.4 97.8h0M76.6 133.9h0M95.6 133.2h0M94.3 152.2h0M83.4 84.7h0M82.5 86h0M74.6 145.4h0M91.2 158.7h0M79.9 151.2h0M94.1 142.9h0M77.7 103.9h0M80.1 91.4h0M91.1 149h0M93.1 99.4h0M92.6 149.1h0M93.5 146.9h0M92.6 128.4h0M95 113.9h0M80.5 88.2h0M74.3 125.9h0M76.5 108.5h0M69.3 113.6h0M91.3 88.2h0M93.6 111.1h0M89.5 77.3h0M79.7 153.9h0M90.9 96.7h0M92.4 99h0M94.4 119h0M92.8 129.2h0M90.6 91.7h0M77.1 158.8h0M93.4 116.4h0M93.3 92.4h0M92.8 90.4h0M81.3 90.1h0M94.1 145.8h0M79.9 153.3h0M81.3 89.5h0M79.9 149.6h0M92.4 126.4h0M76.9 146.4h0M75 137.8h0M74.4 116.7h0M77.2 139.1h0M93.2 107.6h0M87.2 90.2h0M77.4 98.4h0M75.2 119.5h0M76.1 161.3h0M90.1 85.7h0M91 153.3h0M92.3 158.1h0M78.1 96.5h0M93.3 102.5h0M77 129.4h0M77.2 120.8h0M92.3 148h0M91.9 99h0M92.7 102.5h0M76.5 131.7h0M79.6 150.5h0M77.7 143.1h0M92.5 159.9h0M94.6 158.4h0M91.3 99.9h0M76.8 123.3h0M78.5 87.4h0M75.5 124.9h0M91 155.2h0M95.2 128.4h0M76.5 109.6h0M74.4 107.1h0M77.7 87.3h0M93.7 113.2h0M82 92.2h0M88.7 84.1h0M76.4 125.8h0M91.8 146.6h0M93.5 83.6h0M94.1 136.1h0M90 78.8h0M78.7 89.9h0M76.3 111.7h0M91.4 146.3h0M83.7 87.4h0M76.8 111.3h0M76.7 97.6h0M91.5 98.5h0M77.3 114.1h0M78.9 145.5h0M92.2 126.2h0M92.3 125.9h0M92.3 150h0M92.9 93.5h0M76.9 114.4h0M92.3 144.6h0M78.8 93.8h0M76.9 103.8h0M78.8 96.4h0M79.8 71h0M75.1 143.4h0M78.2 83.3h0M91.7 152.1h0M75.6 112.7h0M75.2 148.4h0M78 106.3h0M79 154h0M77.6 157.6h0M93.8 118.3h0M93.2 113.6h0M96.2 131.2h0M93.3 123.1h0M95 134.1h0M76 129.9h0M82.8 86.6h0M75.2 93.6h0M89 88.5h0M76.7 155.1h0M81.2 90.2h0M97.8 136.7h0M77.2 114.4h0M90.9 81h0M95.4 107.6h0M77.8 102.3h0M73.7 128.3h0M80.6 91.7h0M93.4 136.6h0M77 128.6h0M79.1 145.8h0M80.9 80.3h0M95 133.8h0M78.6 79.7h0M93.9 138.6h0M91.7 99.3h0M80.4 82.2h0M91.1 154.4h0M94.3 120.7h0M77.8 144.5h0M78.6 145.6h0M88.7 86.3h0M81.4 72h0M77.3 146.8h0M93.7 133h0M77.6 93.2h0M83.2 183.3h0M81.9 93.1h0M94.7 138.5h0M96.7 131.5h0M77.4 118.9h0M91.7 90.1h0M94.5 131.5h0M93.2 94.9h0M93.2 106.9h0M89.2 84.7h0M93.1 83.1h0M79.8 95.3h0M90.8 158.5h0M76.8 123.5h0M77.8 107h0M79.4 95.7h0M73.6 123.2h0M90.8 155.6h0M79.4 90.4h0M90.2 75h0M74.7 105.2h0M75.9 117.6h0M74 147.5h0M91.6 90.2h0M76.9 136.8h0M90.7 152.6h0M80 94.6h0M78.5 98.6h0M89.5 81h0M92.1 143.1h0M95.5 114.4h0M92.3 153.7h0M76.7 138.4h0M93.7 123.9h0M86.8 88.1h0M91.1 85.2h0M74.1 108.1h0M93.3 88.7h0M90.2 88.7h0M80.7 93.3h0M83.6 85.5h0M91.6 96.8h0M95.9 152.4h0M85.4 66.7h0M93.7 122.7h0M90.6 92.5h0M88.3 89.2h0M82.8 87.4h0M81.7 70.6h0M78.8 84.5h0M80.2 88.1h0M103.6 89.2h0M98.1 165.7h0M95.2 136.4h0M101.2 107h0M92.7 149h0M101.8 113.3h0M96.2 107.6h0M92.2 100.8h0M100.9 114.5h0M93.8 128h0M100.1 98.5h0M98.7 101h0M100.7 108.4h0M99.6 114h0M96.1 117.2h0M92.4 102.9h0M108.1 134h0M109.2 127.3h0M90.6 86.2h0M98.3 84.5h0M96.6 124.1h0M76.4 131.6h0M92.6 104h0M103.2 162.3h0M96.9 97.4h0M91.7 149.5h0M94.5 120.3h0M99.2 172.9h0M103.6 114.1h0M93.9 115.2h0M96.6 140.1h0M92.4 99.1h0M79.6 153.9h0M96.2 90.9h0M96.4 86.6h0M101.8 111.3h0M103.2 128.3h0M76.3 110.6h0M99.4 95.4h0M103.6 132.8h0M99.1 102.8h0M93.8 129.1h0M100.5 92.9h0M78.5 155.1h0M99.6 122.3h0M101.1 126.6h0M88.1 85.7h0M76.8 113.1h0M94.6 155.1h0M104.7 106.9h0M95.9 107.2h0M105.4 92.6h0M91.7 91.9h0M94.7 131.6h0M99.2 119h0M97 155.4h0M94.5 155.8h0M103.1 103.2h0M99 157.4h0M95.9 138.4h0M105.5 124.1h0M103.6 125.9h0M105.2 100.2h0M94.9 104.1h0M98.4 95.5h0M95.3 154.7h0M102.2 116.1h0M75.4 145.8h0M101.2 139.4h0M99.2 119.1h0M94.4 148.9h0M94.9 133.7h0M102.7 139.1h0M106.1 129.6h0M99.9 96.7h0M76.3 140.7h0M102.4 144.6h0M93.9 138.8h0M102.7 142h0M93 144.2h0M96.4 111h0M94 152.5h0M104.7 145.2h0M97.3 79.8h0M103 129.8h0M102.7 131.4h0M95 111.2h0M72.1 132.4h0M92.8 97.7h0M109.1 121.9h0M99.1 146.4h0M96.9 145.3h0M100.9 96.6h0M101.4 137h0M101.2 122.4h0M95.7 141.2h0M103.5 121.7h0M98.3 124.1h0M95.1 154h0M78.4 148.5h0M97.9 122.8h0M102.6 123.4h0M98.2 147.7h0M101 145.9h0M104.5 150.2h0M99.6 149.3h0M94.2 123h0M94.8 163.7h0M96.3 144.4h0M106 84h0M102.3 102h0M76.5 141.7h0M106.8 107.2h0M104.4 155.5h0M96.3 110.4h0M98.5 97.7h0M97.6 92h0M95.6 121.9h0M95.3 155.2h0M94.3 134.6h0M102 118.6h0M104 156h0M94.3 132.2h0M94.2 148.2h0M98.9 145.1h0M91.5 80.8h0M101.6 147.4h0M98.2 117.1h0M82.2 186.8h0M88.7 183.8h0M78.2 183.4h0M71.6 170.3h0M94.4 161h0M94.6 179.1h0M68.3 170.6h0M66.1 161.1h0M74.1 160.9h0M97.8 177.6h0M99.8 173.4h0M88.2 186.7h0M70.6 166.7h0M74.3 163.2h0M76.2 181h0M70 168.3h0M75.7 159.4h0M96.1 167.6h0M86.1 185.5h0M83.2 190.1h0M71.8 174.7h0M90.6 181h0M84.2 186.6h0M99.7 171.3h0M105.4 180.9h0M71.1 179h0M80.7 181.5h0M67.8 170.4h0M69.9 175.8h0M77 182.8h0M72 167.9h0M98.5 172.6h0M92.1 179.9h0M97.1 175.1h0M67.4 161.2h0M72.5 177.3h0M69.3 179.8h0M68.8 174.5h0M71 176.9h0M70.9 168.8h0M79.6 181.7h0M66.5 181.2h0M85.6 183.5h0M96 168.3h0M68.1 174.1h0M67.9 173.3h0M71.3 178h0M71.4 163.3h0M74.2 179.5h0M101.5 172.8h0M83.6 183.8h0M75.9 181.9h0M74.8 163.2h0M68.4 164.3h0M64.8 169.7h0M100.9 174.9h0M99.4 162.5h0M74.6 159.9h0M69.7 179.7h0M70.9 168.1h0M101.9 162.6h0M93.4 179.5h0M91 158.8h0M78.8 183h0M74 159.3h0M69.6 183.1h0M76.5 178.8h0M94.7 179h0M69.9 178.1h0M97.2 179.5h0M100.4 175.6h0M67.2 175.4h0M90.5 182.6h0M97 170.6h0M71.4 177.7h0M98.9 176.8h0M94.5 179.8h0M92.7 159.1h0M65.9 161h0M83.6 184.1h0M74.3 178.8h0M96.7 178.5h0M66.4 162.1h0M99.5 177h0M73.2 180.4h0M65.1 172.6h0M97.5 172.1h0M96.8 165.5h0M94.2 161.8h0M72.3 166.9h0M69.7 165.8h0M65 166.3h0M74.9 164.5h0M87.1 184.1h0M67.7 174.2h0M71.8 175h0M93.1 156.4h0M97.7 179.4h0M82 186h0M102.1 171.5h0M97.6 176.3h0M72.3 171.4h0M74.9 158.9h0M95.2 161h0M69.4 162.5h0M78.3 180.6h0M63.8 168.2h0M72 163.7h0M75.3 180.3h0M75.8 162.8h0M77 184.4h0M76.2 161.9h0M102.7 170.9h0M94.6 183.3h0M94.1 182.3h0M94.8 163.7h0M87.3 184.5h0M70.5 163.6h0M89.5 181.3h0M67.4 163.3h0M71.2 176.3h0M96.1 166.1h0M68.4 176.6h0M76.6 182.3h0M71.5 174.8h0M71.4 182.1h0M83 185.1h0M101.8 180.9h0M88.8 182.1h0M89.4 180.8h0M97.1 174.4h0M77.3 182.3h0M85.7 189.2h0M93.1 162h0M69.4 184.7h0M65.3 171.9h0M72.6 184.5h0M88.6 181.7h0M93 182.7h0M90.2 183.7h0M78.3 157.7h0M82.4 187.7h0M71 174.7h0M73.3 178.8h0M86 53.1h0M85.8 53.6h0M84.8 50.4h0M84.7 53.5h0M82.9 51.6h0M52.2 122.8h0M49.6 123.9h0M52.1 148.7h0M51.3 151.3h0M115 108.8h0M120.4 109.4h0M115 110.3h0"/><clipPath id="cl31"><path clip-rule="evenodd" d="M84 184.5L76.9 182.5L74 180L70.4 178.5L69 175.5L70.6 172.5L70.1 168.5L70.5 166.5L77.5 156L78.7 153L77 146L77.1 142.5L75.7 138.5L76.9 132L75 124L75.8 120L75.7 112.5L77.1 106.5L76.9 98L77.5 95.5L79.4 92.5L79.8 88.5L81.6 85L80.3 80.5L80.5 77L79.7 73L81.1 67L83.3 64L87 61.3L88.8 63L90.7 70.5L90.5 78.5L89.9 82L90.3 87L92.1 91L92 94.5L93.1 98L94.5 111L94.4 121.5L93.4 126.5L95.5 133.5L93.2 144L93.4 148L92.7 151L93.2 154L92.3 157L96.3 165.5L98.9 173.5L98.2 176.5L96.2 179L87.5 183.5L84 184.5Z"/></clipPath><g clip-path="url(#cl31)"><g filter="url(#sm)"><path fill="rgb(3,255,0)" d="M74.6 132.8C74.6 100.6 80.6 74.2 82.2 74.2C85 74.2 96.4 100.6 96.4 132.8C96.4 151.5 91.9 166.9 85.1 166.9C78.8 166.9 74.6 151.5 74.6 132.8Z"/><path fill="rgb(7,255,0)" d="M74.7 132.8C74.7 100.8 80.7 74.6 82.2 74.6C85 74.6 96.3 100.8 96.3 132.8C96.3 151.4 91.8 166.5 85.1 166.5C78.8 166.5 74.7 151.4 74.7 132.8Z"/><path fill="rgb(11,255,0)" d="M74.8 132.8C74.8 100.9 80.7 74.9 82.2 74.9C85 74.9 96.2 100.9 96.2 132.8C96.2 151.2 91.8 166.2 85.1 166.2C78.9 166.2 74.8 151.2 74.8 132.8Z"/><path fill="rgb(15,255,0)" d="M74.9 132.8C74.9 101.1 80.8 75.2 82.2 75.2C85 75.2 96.1 101.1 96.1 132.8C96.1 151 91.7 165.9 85.1 165.9C79 165.9 74.9 151 74.9 132.8Z"/><path fill="rgb(20,255,0)" d="M75 132.8C75 101.3 80.8 75.6 82.2 75.6C85 75.6 96 101.3 96 132.8C96 150.8 91.6 165.5 85.1 165.5C79.1 165.5 75 150.8 75 132.8Z"/><path fill="rgb(24,255,0)" d="M75.2 132.8C75.2 101.5 80.8 75.9 82.3 75.9C85 75.9 95.8 101.5 95.8 132.8C95.8 150.6 91.5 165.2 85.1 165.2C79.1 165.2 75.2 150.6 75.2 132.8Z"/><path fill="rgb(28,255,0)" d="M75.3 132.8C75.3 101.7 80.9 76.2 82.3 76.2C85 76.2 95.7 101.7 95.7 132.8C95.7 150.4 91.5 164.9 85.1 164.9C79.2 164.9 75.3 150.4 75.3 132.8Z"/><path fill="rgb(32,255,0)" d="M75.4 132.8C75.4 101.9 80.9 76.6 82.3 76.6C84.9 76.6 95.6 101.9 95.6 132.8C95.6 150.3 91.4 164.5 85.1 164.5C79.3 164.5 75.4 150.3 75.4 132.8Z"/><path fill="rgb(37,255,0)" d="M75.5 132.8C75.5 102 80.9 76.9 82.3 76.9C84.9 76.9 95.5 102 95.5 132.8C95.5 150.1 91.3 164.2 85.1 164.2C79.4 164.2 75.5 150.1 75.5 132.8Z"/><path fill="rgb(42,255,0)" d="M75.7 132.8C75.7 102.2 81 77.2 82.3 77.2C84.9 77.2 95.3 102.2 95.3 132.8C95.3 149.9 91.2 163.9 85.1 163.9C79.4 163.9 75.7 149.9 75.7 132.8Z"/><path fill="rgb(47,255,0)" d="M75.8 132.8C75.8 102.4 81 77.6 82.3 77.6C84.9 77.6 95.2 102.4 95.2 132.8C95.2 149.7 91.2 163.5 85.1 163.5C79.5 163.5 75.8 149.7 75.8 132.8Z"/><path fill="rgb(53,255,0)" d="M75.9 132.8C75.9 102.6 81.1 77.9 82.4 77.9C84.9 77.9 95.1 102.6 95.1 132.8C95.1 149.5 91.1 163.2 85.1 163.2C79.6 163.2 75.9 149.5 75.9 132.8Z"/><path fill="rgb(58,255,0)" d="M76 132.8C76 102.8 81.1 78.2 82.4 78.2C84.9 78.2 95 102.8 95 132.8C95 149.3 91 162.9 85.1 162.9C79.7 162.9 76 149.3 76 132.8Z"/><path fill="rgb(63,255,0)" d="M76.1 132.8C76.1 103 81.1 78.6 82.4 78.6C84.9 78.6 94.9 103 94.9 132.8C94.9 149.2 91 162.5 85.1 162.5C79.7 162.5 76.1 149.2 76.1 132.8Z"/><path fill="rgb(68,255,0)" d="M76.3 132.8C76.3 103.1 81.2 78.9 82.4 78.9C84.9 78.9 94.7 103.1 94.7 132.8C94.7 149 90.9 162.2 85.1 162.2C79.8 162.2 76.3 149 76.3 132.8Z"/><path fill="rgb(76,255,0)" d="M76.4 132.8C76.4 103.3 81.2 79.2 82.4 79.2C84.9 79.2 94.6 103.3 94.6 132.8C94.6 148.8 90.8 161.9 85.1 161.9C79.9 161.9 76.4 148.8 76.4 132.8Z"/><path fill="rgb(84,255,0)" d="M76.6 132.8C76.6 103.5 81.3 79.6 82.4 79.6C84.8 79.6 94.4 103.5 94.4 132.8C94.4 148.6 90.7 161.5 85.1 161.5C80 161.5 76.6 148.6 76.6 132.8Z"/><path fill="rgb(92,255,0)" d="M76.8 132.8C76.8 103.7 81.3 79.9 82.5 79.9C84.8 79.9 94.2 103.7 94.2 132.8C94.2 148.4 90.6 161.2 85.1 161.2C80.1 161.2 76.8 148.4 76.8 132.8Z"/><path fill="rgb(101,255,0)" d="M76.9 132.8C76.9 103.9 81.4 80.2 82.5 80.2C84.8 80.2 94.1 103.9 94.1 132.8C94.1 148.2 90.5 160.9 85.1 160.9C80.2 160.9 76.9 148.2 76.9 132.8Z"/><path fill="rgb(109,255,0)" d="M77.1 132.8C77.1 104.1 81.4 80.6 82.5 80.6C84.8 80.6 93.9 104.1 93.9 132.8C93.9 148.1 90.4 160.5 85.1 160.5C80.3 160.5 77.1 148.1 77.1 132.8Z"/><path fill="rgb(117,255,0)" d="M77.3 132.8C77.3 104.2 81.5 80.9 82.5 80.9C84.7 80.9 93.7 104.2 93.7 132.8C93.7 147.9 90.3 160.2 85.1 160.2C80.4 160.2 77.3 147.9 77.3 132.8Z"/><path fill="rgb(129,255,0)" d="M77.5 132.8C77.5 104.4 81.5 81.2 82.5 81.2C84.7 81.2 93.5 104.4 93.5 132.8C93.5 147.7 90.2 159.9 85.1 159.9C80.5 159.9 77.5 147.7 77.5 132.8Z"/><path fill="rgb(144,255,0)" d="M77.6 132.8C77.6 104.6 81.6 81.6 82.5 81.6C84.7 81.6 93.4 104.6 93.4 132.8C93.4 147.5 90.1 159.5 85.1 159.5C80.6 159.5 77.6 147.5 77.6 132.8Z"/><path fill="rgb(158,255,0)" d="M77.8 132.8C77.8 104.8 81.6 81.9 82.6 81.9C84.7 81.9 93.2 104.8 93.2 132.8C93.2 147.3 90 159.2 85.1 159.2C80.7 159.2 77.8 147.3 77.8 132.8Z"/><path fill="rgb(172,255,0)" d="M78 132.8C78 105 81.7 82.2 82.6 82.2C84.7 82.2 93 105 93 132.8C93 147.1 89.9 158.9 85.1 158.9C80.8 158.9 78 147.1 78 132.8Z"/><path fill="rgb(186,255,0)" d="M78.1 132.8C78.1 105.2 81.7 82.6 82.6 82.6C84.6 82.6 92.9 105.2 92.9 132.8C92.9 147 89.8 158.5 85.1 158.5C80.9 158.5 78.1 147 78.1 132.8Z"/><path fill="rgb(200,255,0)" d="M78.3 132.8C78.3 105.3 81.7 82.9 82.6 82.9C84.6 82.9 92.7 105.3 92.7 132.8C92.7 146.8 89.6 158.2 85.1 158.2C81 158.2 78.3 146.8 78.3 132.8Z"/><path fill="rgb(217,255,0)" d="M78.5 132.8C78.5 105.5 81.8 83.2 82.6 83.2C84.6 83.2 92.5 105.5 92.5 132.8C92.5 146.6 89.5 157.9 85.1 157.9C81.1 157.9 78.5 146.6 78.5 132.8Z"/><path fill="rgb(233,255,0)" d="M78.7 132.8C78.7 105.7 81.8 83.6 82.6 83.6C84.6 83.6 92.3 105.7 92.3 132.8C92.3 146.4 89.4 157.5 85.1 157.5C81.2 157.5 78.7 146.4 78.7 132.8Z"/><path fill="rgb(250,255,0)" d="M78.8 132.8C78.8 105.9 81.9 83.9 82.7 83.9C84.6 83.9 92.2 105.9 92.2 132.8C92.2 146.2 89.3 157.2 85.1 157.2C81.3 157.2 78.8 146.2 78.8 132.8Z"/><path fill="rgb(255,247,0)" d="M79 132.7C79 106 81.9 84.2 82.7 84.2C84.5 84.2 92 106 92 132.7C92 146 89.2 156.8 85.1 156.8C81.4 156.8 79 146 79 132.7Z"/><path fill="rgb(255,236,0)" d="M79.1 132.6C79.1 106.1 82 84.4 82.7 84.4C84.5 84.4 91.8 106.1 91.8 132.6C91.8 145.7 89.1 156.5 85.1 156.5C81.5 156.5 79.1 145.7 79.1 132.6Z"/><path fill="rgb(255,225,0)" d="M79.2 132.5C79.2 106.2 82 84.7 82.7 84.7C84.5 84.7 91.7 106.2 91.7 132.5C91.7 145.4 89 156.1 85.1 156.1C81.5 156.1 79.2 145.4 79.2 132.5Z"/><path fill="rgb(255,214,0)" d="M79.2 132.3C79.2 106.3 82 84.9 82.7 84.9C84.5 84.9 91.5 106.3 91.5 132.3C91.5 145.2 88.9 155.7 85.1 155.7C81.6 155.7 79.2 145.2 79.2 132.3Z"/><path fill="rgb(255,203,0)" d="M79.3 132.2C79.3 106.4 82 85.2 82.7 85.2C84.5 85.2 91.4 106.4 91.4 132.2C91.4 144.9 88.9 155.3 85.1 155.3C81.6 155.3 79.3 144.9 79.3 132.2Z"/><path fill="rgb(255,192,0)" d="M79.4 132.1C79.4 106.4 82.1 85.5 82.7 85.5C84.4 85.5 91.2 106.4 91.2 132.1C91.2 144.6 88.8 154.9 85.1 154.9C81.7 154.9 79.4 144.6 79.4 132.1Z"/><path fill="rgb(255,181,0)" d="M79.5 132C79.5 106.5 82.1 85.7 82.7 85.7C84.4 85.7 91.1 106.5 91.1 132C91.1 144.4 88.7 154.5 85.1 154.5C81.7 154.5 79.5 144.4 79.5 132Z"/><path fill="rgb(255,168,0)" d="M79.6 131.8C79.6 106.6 82.1 86 82.8 86C84.4 86 90.9 106.6 90.9 131.8C90.9 144.1 88.6 154.1 85.1 154.1C81.8 154.1 79.6 144.1 79.6 131.8Z"/><path fill="rgb(255,156,0)" d="M79.7 131.7C79.7 106.7 82.2 86.2 82.8 86.2C84.4 86.2 90.7 106.7 90.7 131.7C90.7 143.8 88.5 153.7 85 153.7C81.8 153.7 79.7 143.8 79.7 131.7Z"/><path fill="rgb(255,143,0)" d="M79.8 131.6C79.8 106.8 82.2 86.5 82.8 86.5C84.3 86.5 90.6 106.8 90.6 131.6C90.6 143.6 88.4 153.4 85 153.4C81.9 153.4 79.8 143.6 79.8 131.6Z"/><path fill="rgb(255,130,0)" d="M79.9 131.5C79.9 106.9 82.2 86.7 82.8 86.7C84.3 86.7 90.4 106.9 90.4 131.5C90.4 143.3 88.3 153 85 153C82 153 79.9 143.3 79.9 131.5Z"/><path fill="rgb(255,113,0)" d="M80 131.3C80 106.9 82.2 87 82.8 87C84.3 87 90.3 106.9 90.3 131.3C90.3 143 88.2 152.6 85 152.6C82 152.6 80 143 80 131.3Z"/><path fill="rgb(255,97,0)" d="M80.1 131.2C80.1 107 82.3 87.2 82.8 87.2C84.3 87.2 90.1 107 90.1 131.2C90.1 142.8 88.1 152.2 85 152.2C82.1 152.2 80.1 142.8 80.1 131.2Z"/><path fill="rgb(255,80,0)" d="M80.2 131.1C80.2 107.1 82.3 87.5 82.8 87.5C84.3 87.5 90 107.1 90 131.1C90 142.5 88 151.8 85 151.8C82.1 151.8 80.2 142.5 80.2 131.1Z"/><path fill="rgb(255,59,0)" d="M80.3 131C80.3 107.2 82.3 87.8 82.8 87.8C84.2 87.8 89.8 107.2 89.8 131C89.8 142.2 87.9 151.4 85 151.4C82.2 151.4 80.3 142.2 80.3 131Z"/><path fill="rgb(255,34,0)" d="M80.4 130.8C80.4 107.3 82.4 88 82.9 88C84.2 88 89.7 107.3 89.7 130.8C89.7 141.9 87.8 151 85 151C82.2 151 80.4 141.9 80.4 130.8Z"/><path fill="rgb(255,10,0)" d="M80.4 130.7C80.4 108.4 82.3 90.1 82.8 90.1C84.1 90.1 89.2 108.4 89.2 130.7C89.2 141.3 87.5 149.9 84.8 149.9C82.2 149.9 80.4 141.3 80.4 130.7Z"/><path fill="rgb(255,0,0)" d="M80.5 130.5C80.5 109.9 82.3 93.1 82.8 93.1C83.9 93.1 88.7 109.9 88.7 130.5C88.7 140.4 87.1 148.5 84.6 148.5C82.2 148.5 80.5 140.4 80.5 130.5Z"/><path fill="rgb(232,0,19)" d="M80.6 130.3C80.6 111.5 82.3 96.1 82.7 96.1C83.8 96.1 88.2 111.5 88.2 130.3C88.2 139.5 86.7 147.1 84.4 147.1C82.1 147.1 80.6 139.5 80.6 130.3Z"/><path fill="rgb(175,0,67)" d="M80.7 130.1C80.7 113 82.2 99 82.6 99C83.6 99 87.7 113 87.7 130.1C87.7 138.7 86.3 145.7 84.2 145.7C82.1 145.7 80.7 138.7 80.7 130.1Z"/><path fill="rgb(100,0,130)" d="M80.8 129.9C80.8 114.6 82.2 102 82.6 102C83.5 102 87.1 114.6 87.1 129.9C87.1 137.8 85.9 144.2 83.9 144.2C82 144.2 80.8 137.8 80.8 129.9Z"/><path fill="rgb(25,0,205)" d="M80.9 129.9C80.9 116.3 82.2 105.2 82.6 105.2C83.4 105.2 86.7 116.3 86.7 129.9C86.7 137 85.5 142.9 83.8 142.9C82.1 142.9 80.9 137 80.9 129.9Z"/><path fill="rgb(0,13,238)" d="M81.2 130C81.2 118.3 82.4 108.7 82.7 108.7C83.5 108.7 86.4 118.3 86.4 130C86.4 136.5 85.4 141.7 83.8 141.7C82.2 141.7 81.2 136.5 81.2 130Z"/><path fill="rgb(0,33,251)" d="M81.5 130.2C81.5 120.3 82.6 112.3 82.9 112.3C83.6 112.3 86.1 120.3 86.1 130.2C86.1 135.9 85.2 140.6 83.8 140.6C82.4 140.6 81.5 135.9 81.5 130.2Z"/><path fill="rgb(0,60,255)" d="M81.7 130.4C81.7 122.4 82.8 115.8 83.1 115.8C83.6 115.8 85.9 122.4 85.9 130.4C85.9 135.3 85 139.4 83.8 139.4C82.6 139.4 81.7 135.3 81.7 130.4Z"/><path fill="rgb(0,90,255)" d="M82 130.5C82 124.4 83 119.4 83.2 119.4C83.7 119.4 85.6 124.4 85.6 130.5C85.6 134.8 84.9 138.2 83.8 138.2C82.7 138.2 82 134.8 82 130.5Z"/><path fill="rgb(0,120,255)" d="M82.3 130.7C82.3 126.4 83.2 122.9 83.4 122.9C83.8 122.9 85.3 126.4 85.3 130.7C85.3 134.2 84.7 137.1 83.8 137.1C82.9 137.1 82.3 134.2 82.3 130.7Z"/><path fill="rgb(0,149,255)" d="M82.6 130.8C82.6 127.9 83.3 125.6 83.5 125.6C83.8 125.6 85 127.9 85 130.8C85 133.7 84.5 136 83.8 136C83 136 82.6 133.7 82.6 130.8Z"/><path fill="rgb(0,176,255)" d="M82.7 130.8C82.7 128.4 83.4 126.4 83.6 126.4C83.8 126.4 84.9 128.4 84.9 130.8C84.9 133.2 84.4 135.2 83.8 135.2C83.1 135.2 82.7 133.2 82.7 130.8Z"/><path fill="rgb(0,203,255)" d="M82.9 130.8C82.9 128.9 83.4 127.2 83.6 127.2C83.8 127.2 84.7 128.9 84.7 130.8C84.7 132.8 84.3 134.4 83.8 134.4C83.2 134.4 82.9 132.8 82.9 130.8Z"/><path fill="rgb(0,230,255)" d="M83 130.9C83 129.3 83.5 128.1 83.6 128.1C83.8 128.1 84.5 129.3 84.5 130.9C84.5 132.4 84.2 133.6 83.7 133.6C83.3 133.6 83 132.4 83 130.9Z"/><path fill="rgb(0,239,255)" d="M83.2 130.9C83.2 129.8 83.5 128.9 83.6 128.9C83.8 128.9 84.3 129.8 84.3 130.9C84.3 132 84.1 132.8 83.7 132.8C83.4 132.8 83.2 132 83.2 130.9Z"/><path fill="rgb(0,249,255)" d="M83.3 130.9C83.3 130.3 83.6 129.7 83.7 129.7C83.7 129.7 84.1 130.3 84.1 130.9C84.1 131.5 84 132 83.7 132C83.5 132 83.3 131.5 83.3 130.9Z"/></g></g>
</svg>
<path d="M354.2 972.8H362.9M354.2 1189.1H363.5V1197.4M446.5 1189.7v7.7M529.5 1189.7v7.7" stroke="#111" stroke-width="1.3" fill="none"/>
<text x="353.3" y="977.1" font-size="13" text-anchor="end">8</text>
<use href="#one" transform="translate(345.90 1193.50) scale(0.00635 -0.00635)"/>
<text x="362.0" y="1210.7" font-size="13" text-anchor="middle">-8</text>
<text x="446.8" y="1210.7" font-size="13" text-anchor="middle">0</text>
<text x="531.1" y="1210.7" font-size="13" text-anchor="middle">8</text>
<text transform="translate(446.1 962.5) scale(1 1.04)" font-size="19.25" text-anchor="middle">PDAC2+RNAlater</text>
<text x="454.1" y="1228.8" font-size="12.95" text-anchor="middle">Log2(RNAlater/Frozen)</text>
<text transform="translate(339.7 1073.3) rotate(-90)" font-size="12.8" text-anchor="middle">Log10(Average Intensity)</text>
<svg x="624.7" y="972.2" width="167.2" height="217.5" viewBox="0 0 167.2 217.5" overflow="hidden">
<rect width="167.2" height="217.5" fill="#f39a00"/>
<path fill="#00ff00" fill-rule="evenodd" d="M83.5 185.2L81.5 185.3L77.5 183.8L71 178.5L69.2 175.5L67.7 169.5L69.9 164.5L73 161.6L74.5 159L72.9 153.5L73.7 147L71.9 138.5L72.5 132L71.7 126.5L73.2 121L72.3 115L73.6 110.5L72.8 105L76 95.5L76 89.5L77.5 83L75.7 72.5L78 68.5L78.1 64.5L79.5 63.2L81.5 62.5L84 63.5L85.7 67L86.8 74L86.7 82.5L87.4 86L87 90.5L89.1 95L90.4 104L90.3 113.5L91.6 117L90.6 125.5L91.2 138L89.5 144.5L87.8 148L88.9 151L88.6 154.5L91.6 161.5L96.3 167L97.3 175L96.3 178L92 182.1L90 183.3L86.5 183.8L83.5 185.2Z"/><path stroke="#10f010" stroke-width="3.0" stroke-linecap="round" d="M81.2 63.7h0M79.4 87h0M79.2 82.4h0M87.1 75.3h0M81.3 62.6h0M86.9 60h0M79.6 61.8h0M77.3 76.8h0M86.4 75.3h0M77.6 72.2h0M78 64.8h0M77.4 74.4h0M81.7 64h0M80.3 64h0M75.9 64.8h0M76.7 74.4h0M75.8 70.2h0M77.8 65.8h0M88.4 67.1h0M83.1 60.4h0M85.7 68.8h0M85.3 66.3h0M84 65.2h0M78.8 67.9h0M79.2 58h0M77 75.4h0M75.4 69.5h0M79.1 65.6h0M79.1 69.1h0M76.7 62.5h0M86.3 70.6h0M85.3 84.6h0M84.2 62h0M81.9 64.8h0M78.4 72.4h0M80.4 58.3h0M77.5 63.8h0M85.8 64.1h0M86.5 76h0M79.1 70.1h0M77.8 78.8h0M73.9 70.8h0M82.8 61.3h0M79.2 71.1h0M83.7 63.9h0M83.1 57.4h0M79.1 82h0M78.4 72.3h0M76.4 77.2h0M86.5 63h0M87.4 69.4h0M79.7 82.4h0M79.8 57.1h0M76.9 64.5h0M85.6 72.8h0M84.8 67h0M86.9 78.7h0M80.3 67.3h0M79.4 67.9h0M85 72.4h0M83 65.9h0M77.5 64.3h0M78.3 77.8h0M85.2 82.4h0M76.2 74.5h0M86.1 70.8h0M80.4 66.3h0M78.5 78.1h0M77.9 71.5h0M85.4 58.1h0M83 63.9h0M74.6 132.4h0M88.6 142.9h0M86.1 150.4h0M91.9 115.9h0M73.1 135.4h0M71.3 126.5h0M90.4 138.2h0M73.9 148.9h0M71.4 138.1h0M93.3 121.4h0M86 91.4h0M72.7 87.8h0M78.9 71.3h0M74.2 122.2h0M75.4 161.3h0M88.2 97.1h0M72.1 97.2h0M77.2 89.6h0M67.8 131.6h0M91.1 123.1h0M86.3 92.8h0M73.3 123.8h0M95.3 127.1h0M90.5 108.9h0M91.2 128.5h0M87.5 95.3h0M74.9 108.9h0M88.8 152.5h0M90.1 138.6h0M94.6 119.6h0M73.1 153.2h0M85.3 82.5h0M88 96.9h0M89.9 156.8h0M72.5 112.6h0M88.5 147.3h0M88.6 95h0M73.1 140.5h0M72.9 126.2h0M91 124.1h0M89.9 160.5h0M88 99h0M89.6 83.6h0M79.2 84.7h0M74.4 84.3h0M78.9 82.8h0M87.1 85.3h0M71.9 108.7h0M74 112.2h0M90.3 136.3h0M90.5 156h0M93.3 128.9h0M91.4 154.8h0M74.3 123.1h0M87.7 94.1h0M73.5 100.8h0M90.5 153.4h0M87.3 86.9h0M87.8 87h0M73.4 83h0M74.9 149.3h0M89.7 111.4h0M90.4 101.1h0M78.5 93.4h0M94.7 124.9h0M86.8 87.3h0M74.3 134.9h0M77 97.4h0M76.3 159.7h0M78.4 89.5h0M72 114.4h0M74 100.3h0M74.7 81.2h0M87.4 90.7h0M86.9 90.5h0M91.2 131.1h0M76 92.2h0M77.8 95.8h0M88.5 98h0M90.6 160.8h0M90.7 133.4h0M74.2 152.6h0M93.9 130h0M73.7 138.4h0M88.5 101.1h0M72.1 134.6h0M72.4 125h0M90.5 93.1h0M85.2 189.6h0M73.4 111.3h0M86.5 91.4h0M72.6 105h0M75.1 157h0M72.7 121.8h0M91.2 107.5h0M74.1 134.2h0M89.3 142.5h0M86.9 67.2h0M72.7 114.7h0M74 151.7h0M72.7 133.1h0M78 55.8h0M70.9 137.3h0M92.1 153.4h0M73.9 140.9h0M74.5 102.7h0M77.6 77h0M93 131.6h0M77.4 90.1h0M74.1 147.6h0M74.5 100.7h0M89.8 110.5h0M78 93.1h0M72.6 116.3h0M72 141.1h0M88.2 70.4h0M76.6 89.9h0M77.5 95.9h0M71.3 133.2h0M87.7 84.3h0M75.1 81.3h0M71.3 131.5h0M76.5 97.6h0M85.3 85.3h0M80.6 62.6h0M86.6 150.6h0M88.7 146.2h0M75.1 73.8h0M72.1 122.4h0M88.9 156.2h0M89.1 159.6h0M71.5 130.6h0M74.9 131.6h0M76.8 85.1h0M89.6 122.6h0M87.8 77.4h0M91.4 118h0M75.4 156.9h0M91.8 145.2h0M88.6 150.8h0M89.8 94.6h0M86.3 150h0M90 102.7h0M76 157.1h0M77.4 97.2h0M77 98.7h0M74.7 109h0M89.3 143.2h0M90.3 127.6h0M89.7 128h0M78.3 80.5h0M72.9 142.3h0M77 89.9h0M73.9 115.4h0M79.3 85.8h0M77.5 88.8h0M88.8 149.8h0M71.5 79h0M85.8 81.4h0M86.2 90.2h0M75.4 112.3h0M76.5 93.3h0M74 116.2h0M70.3 110.3h0M90.4 148.5h0M89.1 150h0M90.4 109h0M71.9 159.3h0M91.5 116.1h0M79.1 82.6h0M90.8 96.7h0M76.6 78.6h0M73.7 134.8h0M86.9 87.8h0M75.5 156.4h0M90 144.9h0M89.9 151.1h0M90.3 122.4h0M90.6 117.9h0M71.9 136.3h0M91.5 117.6h0M73.5 98h0M92.9 94.5h0M89.2 99.7h0M89 100.4h0M86.6 154.1h0M72.6 144.3h0M89.6 144.2h0M87 82.6h0M87.8 94.2h0M90.4 153h0M90.6 136.9h0M101.4 127.4h0M90.1 103h0M86.6 86.7h0M96.6 115.3h0M94.2 117.2h0M87.6 83h0M94.1 112.7h0M71.2 99.3h0M74.1 144.7h0M79.2 86.7h0M66.8 128.5h0M89.7 68.1h0M73 164.3h0M65.6 129.1h0M65.4 112.4h0M77.9 85h0M90.5 106.1h0M96.3 112.6h0M75 132h0M91.4 152.1h0M92.7 126.8h0M92.5 116.6h0M92.8 113.6h0M92.8 112.5h0M71.2 148.5h0M74.6 98.4h0M67.9 143.3h0M91.6 139.9h0M76.1 70.9h0M89.9 105.2h0M66.4 113.4h0M91.4 123.3h0M72.9 95.2h0M62.5 95h0M90.7 100h0M70.3 78.5h0M93 136.3h0M84.9 67h0M69 92.3h0M86.7 79.2h0M95.9 150.5h0M67.9 106h0M92.6 125.7h0M95.7 107.4h0M95.5 127.9h0M65.9 124.4h0M92.1 156.9h0M90.7 138.3h0M67.9 106.4h0M73.3 103.2h0M89.6 112.1h0M93.4 106.6h0M74 105.4h0M95.4 126.6h0M88.3 145.8h0M73.9 131.9h0M96.7 101.2h0M71.2 116.3h0M92.9 123.1h0M67.8 91.4h0M95 99.9h0M68.2 126.8h0M72.5 78h0M76.6 92.2h0M67.1 129.3h0M69.2 120.5h0M74.7 71.8h0M67.3 140.8h0M72.7 126.6h0M71.6 128.3h0M97.2 81.5h0M65.6 136h0M73.4 112.4h0M91.9 118.8h0M72 144h0M91.3 104.6h0M91.3 94.1h0M74.9 122.1h0M73.9 105.6h0M70.6 130.3h0M97.6 94.8h0M88.4 151.6h0M75.7 88.1h0M62.4 134.3h0M76.7 86.3h0M96.4 89.5h0M76.4 89.7h0M69.6 102.1h0M74.1 156.2h0M72.4 98.4h0M73.6 152.5h0M90.3 86.4h0M96.7 137.9h0M66.1 94.3h0M72.1 89.7h0M96.6 125.1h0M85.1 86.3h0M76.9 94.3h0M75.9 74.4h0M75 102.9h0M72 138.5h0M71.2 129.8h0M96.9 166.7h0M93.3 166h0M71.8 164.1h0M95 171.5h0M97.8 177.1h0M96.7 177.7h0M98.4 167.2h0M71.9 181.4h0M69.4 168.4h0M65.2 174.8h0M64.1 169.7h0M97.2 169.1h0M76.9 184.1h0M96.5 168.6h0M96.3 177.4h0M70.7 163.9h0M95.6 161.6h0M90.2 182.5h0M96.6 180.2h0M78.2 190h0M72.6 187.2h0M94.8 178.4h0M93.7 168.8h0M95.2 166.9h0M98.1 169.1h0M70.9 177.3h0M66.1 176.1h0M84.9 183.6h0M96.3 168.4h0M94.5 182.2h0M104.5 170.1h0M98.7 174.4h0M93.6 180.3h0M90.9 163.1h0M89.9 184.3h0M93.5 165.8h0M72.3 161.6h0M71.2 164h0M73.1 163.8h0M69.1 163.7h0M69.4 163.7h0M79.1 184.3h0M68.7 174.5h0M74.4 162.6h0M69.3 170.3h0M72.2 186.4h0M82.8 186.3h0M97.7 181.5h0M82.9 184.1h0M85.9 182.8h0M93.6 167h0M88 183.4h0M96.3 177h0M93.1 164.3h0M96.6 175.6h0M88.7 188.4h0M70.6 164.5h0M94.4 169.4h0M97.5 166.7h0M94.5 164.8h0M98.2 156.5h0M67.7 169.7h0M96.2 163.6h0M87.1 182.7h0M79.2 185.8h0M67.9 169.3h0M93 187.3h0M73.8 159.9h0M89.8 161.4h0M70.5 177.7h0M94.4 167.8h0M63 166.3h0M85.8 182.8h0M70 166.7h0M79 183.9h0M96.4 174.5h0M97 173.7h0M82.6 186.1h0M98.6 176.5h0M83.4 184.1h0M95.8 170h0M96.5 173.6h0M58 168.3h0M99.1 170.9h0M68.8 175h0M68.8 170.4h0M90.8 163.3h0M83.5 184.8h0M81.8 184.4h0M85.5 183.9h0M95.4 171.9h0M88.8 184.4h0M96.5 161.2h0M71.2 176.9h0M95.1 172.9h0M67.8 173.3h0M72.7 154.1h0M69.4 172.9h0M71.6 178.4h0M68.7 168.5h0M83.4 184.4h0M85 187.6h0M92 182.3h0M99.8 171.7h0M93.5 161.5h0M81.2 186h0M71 178.4h0M100.5 167.1h0M89 158.1h0M99.7 165.1h0M94.1 179.9h0M76.7 183.9h0M94.6 172h0M90.5 160.2h0M69.6 175.3h0M65.9 170.2h0M73.7 180.6h0M67.4 165.4h0M70.3 176.6h0M68.1 158.7h0M93.9 188h0M90.5 162h0M75.7 184.6h0M69.4 170.5h0M96.6 173.4h0M80 183.8h0M88.9 183.6h0M91.7 182.9h0M76.4 190.3h0M69.5 180.9h0M94.2 164.7h0M96.1 181.8h0M89.7 182.9h0M64.4 92.5h0M57 89.1h0M58.2 96.7h0M58.3 105h0M69.2 89.2h0M57.1 94.8h0M64.7 105.3h0M57.2 100.5h0M63.7 116.8h0M69.5 118.1h0M56.7 84h0M62.7 78.3h0M55.6 91h0M60 119.7h0M60.4 82h0M64 97.6h0M59.4 89.6h0M52.2 97.7h0M67.9 98.1h0M70.3 109.5h0M66.7 108.1h0M54.9 103.4h0M61 90.9h0M68 110.3h0M60.2 90.4h0M58.7 102.4h0M58.1 83.2h0M62.5 130.5h0M56.6 85.4h0M65.7 81.9h0M84.2 52.7h0M81 52h0M83.8 50.2h0M81.9 49.6h0M81.3 48.6h0M110.6 117.9h0M113.8 119.1h0M107.7 171.8h0M109.2 172.5h0"/><clipPath id="cl32"><path clip-rule="evenodd" d="M83.5 185.2L81.5 185.3L77.5 183.8L71 178.5L69.2 175.5L67.7 169.5L69.9 164.5L73 161.6L74.5 159L72.9 153.5L73.7 147L71.9 138.5L72.5 132L71.7 126.5L73.2 121L72.3 115L73.6 110.5L72.8 105L76 95.5L76 89.5L77.5 83L75.7 72.5L78 68.5L78.1 64.5L79.5 63.2L81.5 62.5L84 63.5L85.7 67L86.8 74L86.7 82.5L87.4 86L87 90.5L89.1 95L90.4 104L90.3 113.5L91.6 117L90.6 125.5L91.2 138L89.5 144.5L87.8 148L88.9 151L88.6 154.5L91.6 161.5L96.3 167L97.3 175L96.3 178L92 182.1L90 183.3L86.5 183.8L83.5 185.2Z"/></clipPath><g clip-path="url(#cl32)"><g filter="url(#sm)"><path fill="rgb(3,255,0)" d="M72.7 131.8C72.7 100.9 80.3 75.6 82.4 75.6C84.6 75.6 92.2 100.9 92.2 131.8C92.2 151.1 88.3 166.9 82.4 166.9C76.6 166.9 72.7 151.1 72.7 131.8Z"/><path fill="rgb(7,255,0)" d="M72.8 131.8C72.8 101.1 80.3 76 82.4 76C84.6 76 92.1 101.1 92.1 131.8C92.1 150.9 88.2 166.5 82.4 166.5C76.7 166.5 72.8 150.9 72.8 131.8Z"/><path fill="rgb(11,255,0)" d="M73 131.8C73 101.3 80.4 76.3 82.4 76.3C84.5 76.3 91.9 101.3 91.9 131.8C91.9 150.7 88.1 166.2 82.4 166.2C76.8 166.2 73 150.7 73 131.8Z"/><path fill="rgb(15,255,0)" d="M73.1 131.8C73.1 101.5 80.4 76.6 82.4 76.6C84.5 76.6 91.8 101.5 91.8 131.8C91.8 150.5 88.1 165.9 82.4 165.9C76.8 165.9 73.1 150.5 73.1 131.8Z"/><path fill="rgb(20,255,0)" d="M73.2 131.8C73.2 101.6 80.4 77 82.4 77C84.5 77 91.7 101.6 91.7 131.8C91.7 150.4 88 165.5 82.4 165.5C76.9 165.5 73.2 150.4 73.2 131.8Z"/><path fill="rgb(24,255,0)" d="M73.3 131.8C73.3 101.8 80.4 77.3 82.4 77.3C84.5 77.3 91.6 101.8 91.6 131.8C91.6 150.2 87.9 165.2 82.4 165.2C77 165.2 73.3 150.2 73.3 131.8Z"/><path fill="rgb(28,255,0)" d="M73.4 131.8C73.4 102 80.5 77.6 82.4 77.6C84.4 77.6 91.5 102 91.5 131.8C91.5 150 87.9 164.9 82.4 164.9C77 164.9 73.4 150 73.4 131.8Z"/><path fill="rgb(32,255,0)" d="M73.6 131.8C73.6 102.2 80.5 78 82.4 78C84.4 78 91.3 102.2 91.3 131.8C91.3 149.8 87.8 164.5 82.4 164.5C77.1 164.5 73.6 149.8 73.6 131.8Z"/><path fill="rgb(37,255,0)" d="M73.7 131.8C73.7 102.4 80.5 78.3 82.4 78.3C84.4 78.3 91.2 102.4 91.2 131.8C91.2 149.6 87.7 164.2 82.4 164.2C77.2 164.2 73.7 149.6 73.7 131.8Z"/><path fill="rgb(42,255,0)" d="M73.8 131.8C73.8 102.6 80.5 78.6 82.4 78.6C84.4 78.6 91.1 102.6 91.1 131.8C91.1 149.4 87.6 163.9 82.4 163.9C77.3 163.9 73.8 149.4 73.8 131.8Z"/><path fill="rgb(47,255,0)" d="M73.9 131.8C73.9 102.7 80.6 79 82.4 79C84.3 79 91 102.7 91 131.8C91 149.3 87.6 163.5 82.4 163.5C77.3 163.5 73.9 149.3 73.9 131.8Z"/><path fill="rgb(53,255,0)" d="M74 131.8C74 102.9 80.6 79.3 82.4 79.3C84.3 79.3 90.9 102.9 90.9 131.8C90.9 149.1 87.5 163.2 82.4 163.2C77.4 163.2 74 149.1 74 131.8Z"/><path fill="rgb(58,255,0)" d="M74.2 131.8C74.2 103.1 80.6 79.6 82.4 79.6C84.3 79.6 90.7 103.1 90.7 131.8C90.7 148.9 87.4 162.9 82.4 162.9C77.5 162.9 74.2 148.9 74.2 131.8Z"/><path fill="rgb(63,255,0)" d="M74.3 131.8C74.3 103.3 80.7 80 82.4 80C84.2 80 90.6 103.3 90.6 131.8C90.6 148.7 87.3 162.5 82.4 162.5C77.6 162.5 74.3 148.7 74.3 131.8Z"/><path fill="rgb(68,255,0)" d="M74.4 131.8C74.4 103.5 80.7 80.3 82.4 80.3C84.2 80.3 90.5 103.5 90.5 131.8C90.5 148.5 87.3 162.2 82.4 162.2C77.6 162.2 74.4 148.5 74.4 131.8Z"/><path fill="rgb(76,255,0)" d="M74.6 131.8C74.6 103.7 80.7 80.6 82.4 80.6C84.2 80.6 90.3 103.7 90.3 131.8C90.3 148.3 87.2 161.9 82.4 161.9C77.7 161.9 74.6 148.3 74.6 131.8Z"/><path fill="rgb(84,255,0)" d="M74.7 131.8C74.7 103.8 80.8 81 82.4 81C84.1 81 90.2 103.8 90.2 131.8C90.2 148.2 87.1 161.5 82.4 161.5C77.8 161.5 74.7 148.2 74.7 131.8Z"/><path fill="rgb(92,255,0)" d="M74.9 131.8C74.9 104 80.8 81.3 82.4 81.3C84.1 81.3 90 104 90 131.8C90 148 87 161.2 82.4 161.2C77.9 161.2 74.9 148 74.9 131.8Z"/><path fill="rgb(101,255,0)" d="M75.1 131.8C75.1 104.2 80.8 81.6 82.4 81.6C84.1 81.6 89.8 104.2 89.8 131.8C89.8 147.8 86.9 160.9 82.4 160.9C78 160.9 75.1 147.8 75.1 131.8Z"/><path fill="rgb(109,255,0)" d="M75.3 131.8C75.3 104.4 80.9 82 82.4 82C84 82 89.6 104.4 89.6 131.8C89.6 147.6 86.8 160.5 82.4 160.5C78.1 160.5 75.3 147.6 75.3 131.8Z"/><path fill="rgb(117,255,0)" d="M75.4 131.8C75.4 104.6 80.9 82.3 82.4 82.3C84 82.3 89.5 104.6 89.5 131.8C89.5 147.4 86.7 160.2 82.4 160.2C78.2 160.2 75.4 147.4 75.4 131.8Z"/><path fill="rgb(129,255,0)" d="M75.6 131.8C75.6 104.8 80.9 82.6 82.4 82.6C84 82.6 89.3 104.8 89.3 131.8C89.3 147.2 86.6 159.9 82.4 159.9C78.3 159.9 75.6 147.2 75.6 131.8Z"/><path fill="rgb(144,255,0)" d="M75.8 131.8C75.8 104.9 81 83 82.4 83C83.9 83 89.1 104.9 89.1 131.8C89.1 147.1 86.5 159.5 82.4 159.5C78.4 159.5 75.8 147.1 75.8 131.8Z"/><path fill="rgb(158,255,0)" d="M76 131.8C76 105.1 81 83.3 82.4 83.3C83.9 83.3 88.9 105.1 88.9 131.8C88.9 146.9 86.3 159.2 82.4 159.2C78.6 159.2 76 146.9 76 131.8Z"/><path fill="rgb(172,255,0)" d="M76.1 131.8C76.1 105.3 81.1 83.6 82.4 83.6C83.8 83.6 88.8 105.3 88.8 131.8C88.8 146.7 86.2 158.9 82.4 158.9C78.7 158.9 76.1 146.7 76.1 131.8Z"/><path fill="rgb(186,255,0)" d="M76.3 131.8C76.3 105.5 81.1 84 82.4 84C83.8 84 88.6 105.5 88.6 131.8C88.6 146.5 86.1 158.5 82.4 158.5C78.8 158.5 76.3 146.5 76.3 131.8Z"/><path fill="rgb(200,255,0)" d="M76.5 131.8C76.5 105.7 81.1 84.3 82.4 84.3C83.8 84.3 88.4 105.7 88.4 131.8C88.4 146.3 86 158.2 82.4 158.2C78.9 158.2 76.5 146.3 76.5 131.8Z"/><path fill="rgb(217,255,0)" d="M76.6 131.8C76.6 105.9 81.2 84.6 82.4 84.6C83.7 84.6 88.3 105.9 88.3 131.8C88.3 146.1 85.9 157.9 82.4 157.9C79 157.9 76.6 146.1 76.6 131.8Z"/><path fill="rgb(233,255,0)" d="M76.8 131.8C76.8 106 81.2 85 82.4 85C83.7 85 88.1 106 88.1 131.8C88.1 146 85.8 157.5 82.4 157.5C79.1 157.5 76.8 146 76.8 131.8Z"/><path fill="rgb(250,255,0)" d="M77 131.8C77 106.2 81.2 85.3 82.4 85.3C83.7 85.3 87.9 106.2 87.9 131.8C87.9 145.8 85.7 157.2 82.4 157.2C79.2 157.2 77 145.8 77 131.8Z"/><path fill="rgb(255,247,0)" d="M77.1 131.8C77.1 106.4 81.3 85.6 82.5 85.6C83.6 85.6 87.8 106.4 87.8 131.8C87.8 145.6 85.6 156.8 82.5 156.8C79.3 156.8 77.1 145.6 77.1 131.8Z"/><path fill="rgb(255,236,0)" d="M77.2 131.7C77.2 106.5 81.3 85.8 82.5 85.8C83.6 85.8 87.7 106.5 87.7 131.7C87.7 145.3 85.6 156.5 82.5 156.5C79.3 156.5 77.2 145.3 77.2 131.7Z"/><path fill="rgb(255,225,0)" d="M77.4 131.6C77.4 106.6 81.3 86.1 82.5 86.1C83.6 86.1 87.6 106.6 87.6 131.6C87.6 145.1 85.5 156.1 82.5 156.1C79.4 156.1 77.4 145.1 77.4 131.6Z"/><path fill="rgb(255,214,0)" d="M77.5 131.6C77.5 106.7 81.4 86.3 82.5 86.3C83.6 86.3 87.4 106.7 87.4 131.6C87.4 144.8 85.5 155.7 82.5 155.7C79.5 155.7 77.5 144.8 77.5 131.6Z"/><path fill="rgb(255,203,0)" d="M77.6 131.5C77.6 106.8 81.4 86.6 82.5 86.6C83.5 86.6 87.3 106.8 87.3 131.5C87.3 144.6 85.4 155.3 82.5 155.3C79.5 155.3 77.6 144.6 77.6 131.5Z"/><path fill="rgb(255,192,0)" d="M77.7 131.4C77.7 106.9 81.4 86.9 82.5 86.9C83.5 86.9 87.2 106.9 87.2 131.4C87.2 144.3 85.3 154.9 82.5 154.9C79.6 154.9 77.7 144.3 77.7 131.4Z"/><path fill="rgb(255,181,0)" d="M77.8 131.4C77.8 107 81.4 87.1 82.5 87.1C83.5 87.1 87.1 107 87.1 131.4C87.1 144.1 85.3 154.5 82.5 154.5C79.7 154.5 77.8 144.1 77.8 131.4Z"/><path fill="rgb(255,168,0)" d="M77.9 131.3C77.9 107.1 81.5 87.4 82.5 87.4C83.5 87.4 87 107.1 87 131.3C87 143.9 85.2 154.1 82.5 154.1C79.8 154.1 77.9 143.9 77.9 131.3Z"/><path fill="rgb(255,156,0)" d="M78.1 131.3C78.1 107.3 81.5 87.6 82.5 87.6C83.5 87.6 86.9 107.3 86.9 131.3C86.9 143.6 85.1 153.7 82.5 153.7C79.8 153.7 78.1 143.6 78.1 131.3Z"/><path fill="rgb(255,143,0)" d="M78.2 131.2C78.2 107.4 81.5 87.9 82.5 87.9C83.4 87.9 86.8 107.4 86.8 131.2C86.8 143.4 85.1 153.4 82.5 153.4C79.9 153.4 78.2 143.4 78.2 131.2Z"/><path fill="rgb(255,130,0)" d="M78.3 131.1C78.3 107.5 81.6 88.1 82.5 88.1C83.4 88.1 86.7 107.5 86.7 131.1C86.7 143.1 85 153 82.5 153C80 153 78.3 143.1 78.3 131.1Z"/><path fill="rgb(255,113,0)" d="M78.4 131.1C78.4 107.6 81.6 88.4 82.5 88.4C83.4 88.4 86.6 107.6 86.6 131.1C86.6 142.9 84.9 152.6 82.5 152.6C80 152.6 78.4 142.9 78.4 131.1Z"/><path fill="rgb(255,97,0)" d="M78.5 131C78.5 107.7 81.6 88.6 82.5 88.6C83.4 88.6 86.5 107.7 86.5 131C86.5 142.7 84.9 152.2 82.5 152.2C80.1 152.2 78.5 142.7 78.5 131Z"/><path fill="rgb(255,80,0)" d="M78.6 130.9C78.6 107.8 81.6 88.9 82.5 88.9C83.3 88.9 86.4 107.8 86.4 130.9C86.4 142.4 84.8 151.8 82.5 151.8C80.2 151.8 78.6 142.4 78.6 130.9Z"/><path fill="rgb(255,59,0)" d="M78.7 130.9C78.7 107.9 81.7 89.2 82.5 89.2C83.3 89.2 86.2 107.9 86.2 130.9C86.2 142.2 84.7 151.4 82.5 151.4C80.2 151.4 78.7 142.2 78.7 130.9Z"/><path fill="rgb(255,34,0)" d="M78.9 130.8C78.9 108 81.7 89.4 82.5 89.4C83.3 89.4 86.1 108 86.1 130.8C86.1 141.9 84.7 151 82.5 151C80.3 151 78.9 141.9 78.9 130.8Z"/><path fill="rgb(255,10,0)" d="M79 130.7C79 109.1 81.7 91.5 82.5 91.5C83.2 91.5 85.9 109.1 85.9 130.7C85.9 141.3 84.5 149.9 82.5 149.9C80.4 149.9 79 141.3 79 130.7Z"/><path fill="rgb(255,0,0)" d="M79.2 130.5C79.2 110.7 81.7 94.5 82.4 94.5C83.1 94.5 85.6 110.7 85.6 130.5C85.6 140.4 84.3 148.5 82.4 148.5C80.5 148.5 79.2 140.4 79.2 130.5Z"/><path fill="rgb(232,0,19)" d="M79.3 130.3C79.3 112.2 81.7 97.5 82.3 97.5C83 97.5 85.3 112.2 85.3 130.3C85.3 139.5 84.1 147.1 82.3 147.1C80.5 147.1 79.3 139.5 79.3 130.3Z"/><path fill="rgb(175,0,67)" d="M79.5 130.1C79.5 113.8 81.6 100.4 82.3 100.4C82.9 100.4 85 113.8 85 130.1C85 138.7 83.9 145.7 82.3 145.7C80.6 145.7 79.5 138.7 79.5 130.1Z"/><path fill="rgb(100,0,130)" d="M79.6 129.9C79.6 115.3 81.6 103.4 82.2 103.4C82.8 103.4 84.7 115.3 84.7 129.9C84.7 137.8 83.7 144.2 82.2 144.2C80.7 144.2 79.6 137.8 79.6 129.9Z"/><path fill="rgb(25,0,205)" d="M79.8 129.9C79.8 117 81.6 106.5 82.1 106.5C82.6 106.5 84.5 117 84.5 129.9C84.5 137 83.5 142.9 82.1 142.9C80.7 142.9 79.8 137 79.8 129.9Z"/><path fill="rgb(0,13,238)" d="M80 130C80 118.9 81.6 109.8 82.1 109.8C82.6 109.8 84.2 118.9 84.2 130C84.2 136.5 83.4 141.7 82.1 141.7C80.8 141.7 80 136.5 80 130Z"/><path fill="rgb(0,33,251)" d="M80.1 130.2C80.1 120.8 81.6 113.1 82.1 113.1C82.5 113.1 84 120.8 84 130.2C84 135.9 83.2 140.6 82.1 140.6C80.9 140.6 80.1 135.9 80.1 130.2Z"/><path fill="rgb(0,60,255)" d="M80.3 130.4C80.3 122.7 81.6 116.5 82 116.5C82.4 116.5 83.7 122.7 83.7 130.4C83.7 135.3 83.1 139.4 82 139.4C81 139.4 80.3 135.3 80.3 130.4Z"/><path fill="rgb(0,90,255)" d="M80.4 130.5C80.4 124.6 81.6 119.8 82 119.8C82.3 119.8 83.5 124.6 83.5 130.5C83.5 134.8 82.9 138.2 82 138.2C81 138.2 80.4 134.8 80.4 130.5Z"/><path fill="rgb(0,120,255)" d="M80.6 130.7C80.6 126.5 81.6 123.1 81.9 123.1C82.2 123.1 83.3 126.5 83.3 130.7C83.3 134.2 82.7 137.1 81.9 137.1C81.1 137.1 80.6 134.2 80.6 130.7Z"/><path fill="rgb(0,149,255)" d="M80.7 130.8C80.7 127.9 81.6 125.6 81.9 125.6C82.1 125.6 83 127.9 83 130.8C83 133.7 82.6 136 81.9 136C81.2 136 80.7 133.7 80.7 130.8Z"/><path fill="rgb(0,176,255)" d="M80.9 130.8C80.9 128.4 81.7 126.4 81.9 126.4C82.1 126.4 82.9 128.4 82.9 130.8C82.9 133.2 82.5 135.2 81.9 135.2C81.3 135.2 80.9 133.2 80.9 130.8Z"/><path fill="rgb(0,203,255)" d="M81 130.8C81 128.9 81.7 127.2 81.9 127.2C82 127.2 82.7 128.9 82.7 130.8C82.7 132.8 82.4 134.4 81.9 134.4C81.4 134.4 81 132.8 81 130.8Z"/><path fill="rgb(0,230,255)" d="M81.1 130.9C81.1 129.3 81.7 128.1 81.8 128.1C82 128.1 82.5 129.3 82.5 130.9C82.5 132.4 82.3 133.6 81.8 133.6C81.4 133.6 81.1 132.4 81.1 130.9Z"/><path fill="rgb(0,239,255)" d="M81.3 130.9C81.3 129.8 81.7 128.9 81.8 128.9C81.9 128.9 82.4 129.8 82.4 130.9C82.4 132 82.2 132.8 81.8 132.8C81.5 132.8 81.3 132 81.3 130.9Z"/><path fill="rgb(0,249,255)" d="M81.4 130.9C81.4 130.3 81.7 129.7 81.8 129.7C81.9 129.7 82.2 130.3 82.2 130.9C82.2 131.5 82.1 132 81.8 132C81.6 132 81.4 131.5 81.4 130.9Z"/></g></g>
</svg>
<path d="M616.0 972.8H624.7M616.0 1189.1H625.3V1197.4M708.3 1189.7v7.7M791.3 1189.7v7.7" stroke="#111" stroke-width="1.3" fill="none"/>
<text x="615.1" y="977.1" font-size="13" text-anchor="end">8</text>
<use href="#one" transform="translate(607.70 1193.50) scale(0.00635 -0.00635)"/>
<text x="623.9" y="1210.7" font-size="13" text-anchor="middle">-8</text>
<text x="708.6" y="1210.7" font-size="13" text-anchor="middle">0</text>
<text x="792.9" y="1210.7" font-size="13" text-anchor="middle">8</text>
<text transform="translate(708.2 962.5) scale(1 1.04)" font-size="19.25" text-anchor="middle">PDAC3+RNAlater</text>
<text x="708.5" y="1228.8" font-size="12.95" text-anchor="middle">Log2(RNAlater/Frozen)</text>
<text transform="translate(601.5 1073.3) rotate(-90)" font-size="12.8" text-anchor="middle">Log10(Average Intensity)</text>
</svg></body></html>
